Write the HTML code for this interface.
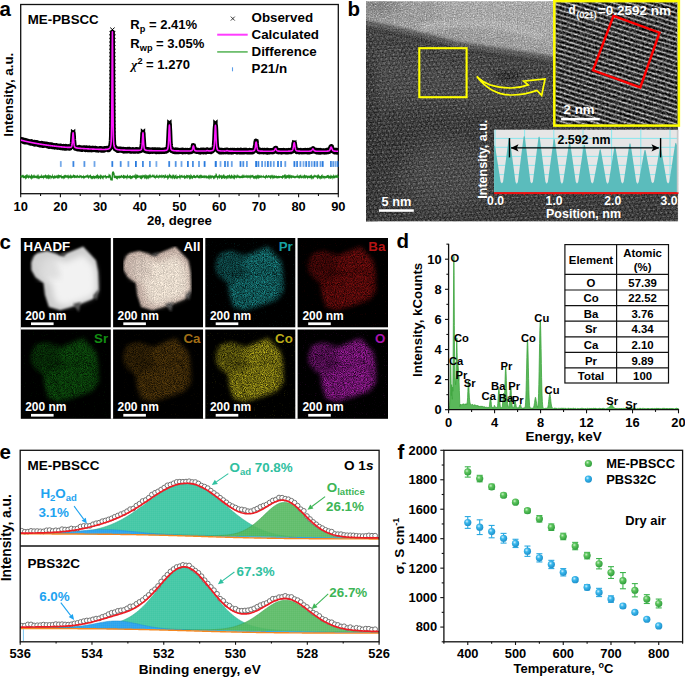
<!DOCTYPE html>
<html><head><meta charset="utf-8"><style>
html,body{margin:0;padding:0;background:#fff;}
svg{display:block;font-family:"Liberation Sans",sans-serif;}
</style></head><body>
<svg width="685" height="677" viewBox="0 0 685 677">
<defs>
<filter id="grain" x="0" y="0" width="100%" height="100%" color-interpolation-filters="sRGB">
  <feTurbulence type="fractalNoise" baseFrequency="0.75" numOctaves="2" seed="11" result="n"/>
  <feColorMatrix in="n" type="matrix" values="1 0 0 0 0  1 0 0 0 0  1 0 0 0 0  0 0 0 0 1" result="g"/>
  <feComposite in="SourceGraphic" in2="g" operator="arithmetic" k1="0" k2="1" k3="0.4" k4="-0.2"/>
</filter>
<filter id="grain2" x="0" y="0" width="100%" height="100%" color-interpolation-filters="sRGB">
  <feTurbulence type="fractalNoise" baseFrequency="0.45" numOctaves="2" seed="5" result="n"/>
  <feColorMatrix in="n" type="matrix" values="1 0 0 0 0  1 0 0 0 0  1 0 0 0 0  0 0 0 0 1" result="g"/>
  <feComposite in="SourceGraphic" in2="g" operator="arithmetic" k1="0" k2="1" k3="0.7" k4="-0.35"/>
</filter>
<filter id="speck" x="0" y="0" width="100%" height="100%" color-interpolation-filters="sRGB">
  <feTurbulence type="fractalNoise" baseFrequency="0.9" numOctaves="1" seed="21" result="n"/>
  <feColorMatrix in="n" type="matrix" values="0 0 0 0 1  0 0 0 0 1  0 0 0 0 1  5 0 0 0 -2.9" result="na"/>
  <feComposite in="na" in2="SourceGraphic" operator="in"/>
</filter>
<filter id="blur3"><feGaussianBlur stdDeviation="3"/></filter>
<filter id="blur6"><feGaussianBlur stdDeviation="6"/></filter>
<filter id="blur10"><feGaussianBlur stdDeviation="10"/></filter>
<clipPath id="temclip"><rect x="366" y="1.2" width="312.2" height="220.2"/></clipPath>
<clipPath id="hrclip"><rect x="555.6" y="2.2" width="121.5" height="122.6"/></clipPath>
<linearGradient id="fg" x1="0" y1="0" x2="0" y2="1">
  <stop offset="0" stop-color="#181818"/><stop offset="0.2" stop-color="#222"/><stop offset="0.5" stop-color="#b4b4b4"/><stop offset="0.8" stop-color="#222"/><stop offset="1" stop-color="#181818"/>
</linearGradient>
<pattern id="fringe" patternUnits="userSpaceOnUse" width="30" height="4.6" patternTransform="rotate(17.5)">
  <rect width="30" height="4.6" fill="url(#fg)"/>
</pattern>
<pattern id="lat" patternUnits="userSpaceOnUse" width="4.75" height="8.4" patternTransform="rotate(-4)">
  <ellipse cx="1.2" cy="2.1" rx="1.2" ry="0.85" fill="#fff" opacity="0.22"/>
  <ellipse cx="3.575" cy="6.3" rx="1.2" ry="0.85" fill="#fff" opacity="0.22"/>
</pattern>
<filter id="spk2" x="-10%" y="-10%" width="120%" height="120%" color-interpolation-filters="sRGB">
  <feGaussianBlur in="SourceGraphic" stdDeviation="2.3" result="b"/>
  <feTurbulence type="fractalNoise" baseFrequency="1.1" numOctaves="2" seed="17" result="n"/>
  <feColorMatrix in="n" type="matrix" values="1 0 0 0 0  1 0 0 0 0  1 0 0 0 0  0 0 0 0 1" result="g"/>
  <feComposite in="b" in2="g" operator="arithmetic" k1="2.4" k2="-0.2" k3="0" k4="0"/>
</filter><filter id="spk3" x="-10%" y="-10%" width="120%" height="120%" color-interpolation-filters="sRGB">
  <feGaussianBlur in="SourceGraphic" stdDeviation="2.3" result="b"/>
  <feTurbulence type="fractalNoise" baseFrequency="1.1" numOctaves="2" seed="24" result="n"/>
  <feColorMatrix in="n" type="matrix" values="1 0 0 0 0  1 0 0 0 0  1 0 0 0 0  0 0 0 0 1" result="g"/>
  <feComposite in="b" in2="g" operator="arithmetic" k1="2.4" k2="-0.2" k3="0" k4="0"/>
</filter><filter id="spk4" x="-10%" y="-10%" width="120%" height="120%" color-interpolation-filters="sRGB">
  <feGaussianBlur in="SourceGraphic" stdDeviation="2.3" result="b"/>
  <feTurbulence type="fractalNoise" baseFrequency="1.1" numOctaves="2" seed="31" result="n"/>
  <feColorMatrix in="n" type="matrix" values="1 0 0 0 0  1 0 0 0 0  1 0 0 0 0  0 0 0 0 1" result="g"/>
  <feComposite in="b" in2="g" operator="arithmetic" k1="2.4" k2="-0.2" k3="0" k4="0"/>
</filter><filter id="spk5" x="-10%" y="-10%" width="120%" height="120%" color-interpolation-filters="sRGB">
  <feGaussianBlur in="SourceGraphic" stdDeviation="2.3" result="b"/>
  <feTurbulence type="fractalNoise" baseFrequency="1.1" numOctaves="2" seed="38" result="n"/>
  <feColorMatrix in="n" type="matrix" values="1 0 0 0 0  1 0 0 0 0  1 0 0 0 0  0 0 0 0 1" result="g"/>
  <feComposite in="b" in2="g" operator="arithmetic" k1="2.4" k2="-0.2" k3="0" k4="0"/>
</filter><filter id="spk6" x="-10%" y="-10%" width="120%" height="120%" color-interpolation-filters="sRGB">
  <feGaussianBlur in="SourceGraphic" stdDeviation="2.3" result="b"/>
  <feTurbulence type="fractalNoise" baseFrequency="1.1" numOctaves="2" seed="45" result="n"/>
  <feColorMatrix in="n" type="matrix" values="1 0 0 0 0  1 0 0 0 0  1 0 0 0 0  0 0 0 0 1" result="g"/>
  <feComposite in="b" in2="g" operator="arithmetic" k1="2.4" k2="-0.2" k3="0" k4="0"/>
</filter><filter id="spk7" x="-10%" y="-10%" width="120%" height="120%" color-interpolation-filters="sRGB">
  <feGaussianBlur in="SourceGraphic" stdDeviation="2.3" result="b"/>
  <feTurbulence type="fractalNoise" baseFrequency="1.1" numOctaves="2" seed="52" result="n"/>
  <feColorMatrix in="n" type="matrix" values="1 0 0 0 0  1 0 0 0 0  1 0 0 0 0  0 0 0 0 1" result="g"/>
  <feComposite in="b" in2="g" operator="arithmetic" k1="2.4" k2="-0.2" k3="0" k4="0"/>
</filter><filter id="bgspk0" x="0" y="0" width="100%" height="100%" color-interpolation-filters="sRGB">
  <feTurbulence type="fractalNoise" baseFrequency="0.9" numOctaves="1" seed="40" result="n"/>
  <feColorMatrix in="n" type="matrix" values="0 0 0 0 0  0 0 0 0 0  0 0 0 0 0  6 0 0 0 -3.9" result="na"/>
  <feComposite in="SourceGraphic" in2="na" operator="in"/>
</filter><filter id="bgspk1" x="0" y="0" width="100%" height="100%" color-interpolation-filters="sRGB">
  <feTurbulence type="fractalNoise" baseFrequency="0.9" numOctaves="1" seed="41" result="n"/>
  <feColorMatrix in="n" type="matrix" values="0 0 0 0 0  0 0 0 0 0  0 0 0 0 0  6 0 0 0 -3.9" result="na"/>
  <feComposite in="SourceGraphic" in2="na" operator="in"/>
</filter><filter id="bgspk2" x="0" y="0" width="100%" height="100%" color-interpolation-filters="sRGB">
  <feTurbulence type="fractalNoise" baseFrequency="0.9" numOctaves="1" seed="42" result="n"/>
  <feColorMatrix in="n" type="matrix" values="0 0 0 0 0  0 0 0 0 0  0 0 0 0 0  6 0 0 0 -3.9" result="na"/>
  <feComposite in="SourceGraphic" in2="na" operator="in"/>
</filter><filter id="blur1"><feGaussianBlur stdDeviation="1.2"/></filter><filter id="spkA" x="0" y="0" width="100%" height="100%" color-interpolation-filters="sRGB">
  <feTurbulence type="fractalNoise" baseFrequency="1.1" numOctaves="2" seed="77" result="n"/>
  <feColorMatrix in="n" type="matrix" values="1 0 0 0 0  1 0 0 0 0  1 0 0 0 0  0 0 0 0 1" result="g"/>
  <feComposite in="SourceGraphic" in2="g" operator="arithmetic" k1="0.5" k2="0.75" k3="0" k4="0"/>
</filter><pattern id="mesh" patternUnits="userSpaceOnUse" width="2" height="2">
<rect width="2" height="2" fill="none"/><rect width="2" height="0.5" fill="#fff" opacity="0.07"/><rect width="0.5" height="2" fill="#fff" opacity="0.07"/></pattern><radialGradient id="gball" cx="0.38" cy="0.35" r="0.7"><stop offset="0" stop-color="#c8f0c8"/><stop offset="0.35" stop-color="#5cc45c"/><stop offset="1" stop-color="#2c9a3a"/></radialGradient>
<radialGradient id="bball" cx="0.38" cy="0.35" r="0.7"><stop offset="0" stop-color="#d0f0ff"/><stop offset="0.35" stop-color="#3ab8ec"/><stop offset="1" stop-color="#1a8cc8"/></radialGradient></defs>
<rect width="685" height="677" fill="#fff"/>
<text x="-0.5" y="15.6" font-size="20.5" text-anchor="start" fill="#000" font-weight="bold" >a</text>
<rect x="20.7" y="4.5" width="317.6" height="189.2" fill="none" stroke="#111" stroke-width="1.3"/>
<line x1="20.7" y1="193.7" x2="20.7" y2="197.2" stroke="#111" stroke-width="1.1" />
<text x="20.7" y="210.5" font-size="12.9" text-anchor="middle" fill="#000" font-weight="bold" >10</text>
<line x1="40.55" y1="193.7" x2="40.55" y2="195.9" stroke="#111" stroke-width="1.1" />
<line x1="60.4" y1="193.7" x2="60.4" y2="197.2" stroke="#111" stroke-width="1.1" />
<text x="60.4" y="210.5" font-size="12.9" text-anchor="middle" fill="#000" font-weight="bold" >20</text>
<line x1="80.25" y1="193.7" x2="80.25" y2="195.9" stroke="#111" stroke-width="1.1" />
<line x1="100.1" y1="193.7" x2="100.1" y2="197.2" stroke="#111" stroke-width="1.1" />
<text x="100.1" y="210.5" font-size="12.9" text-anchor="middle" fill="#000" font-weight="bold" >30</text>
<line x1="119.95" y1="193.7" x2="119.95" y2="195.9" stroke="#111" stroke-width="1.1" />
<line x1="139.8" y1="193.7" x2="139.8" y2="197.2" stroke="#111" stroke-width="1.1" />
<text x="139.8" y="210.5" font-size="12.9" text-anchor="middle" fill="#000" font-weight="bold" >40</text>
<line x1="159.65" y1="193.7" x2="159.65" y2="195.9" stroke="#111" stroke-width="1.1" />
<line x1="179.5" y1="193.7" x2="179.5" y2="197.2" stroke="#111" stroke-width="1.1" />
<text x="179.5" y="210.5" font-size="12.9" text-anchor="middle" fill="#000" font-weight="bold" >50</text>
<line x1="199.35" y1="193.7" x2="199.35" y2="195.9" stroke="#111" stroke-width="1.1" />
<line x1="219.2" y1="193.7" x2="219.2" y2="197.2" stroke="#111" stroke-width="1.1" />
<text x="219.2" y="210.5" font-size="12.9" text-anchor="middle" fill="#000" font-weight="bold" >60</text>
<line x1="239.05" y1="193.7" x2="239.05" y2="195.9" stroke="#111" stroke-width="1.1" />
<line x1="258.9" y1="193.7" x2="258.9" y2="197.2" stroke="#111" stroke-width="1.1" />
<text x="258.9" y="210.5" font-size="12.9" text-anchor="middle" fill="#000" font-weight="bold" >70</text>
<line x1="278.75" y1="193.7" x2="278.75" y2="195.9" stroke="#111" stroke-width="1.1" />
<line x1="298.6" y1="193.7" x2="298.6" y2="197.2" stroke="#111" stroke-width="1.1" />
<text x="298.6" y="210.5" font-size="12.9" text-anchor="middle" fill="#000" font-weight="bold" >80</text>
<line x1="318.45" y1="193.7" x2="318.45" y2="195.9" stroke="#111" stroke-width="1.1" />
<line x1="338.3" y1="193.7" x2="338.3" y2="197.2" stroke="#111" stroke-width="1.1" />
<text x="338.3" y="210.5" font-size="12.9" text-anchor="middle" fill="#000" font-weight="bold" >90</text>
<text x="179.4" y="224.5" font-size="13.2" text-anchor="middle" fill="#000" font-weight="bold" >2θ, degree</text>
<text x="0" y="0" font-size="13.3" text-anchor="middle" fill="#000" font-weight="bold" transform="translate(12.8 94.8) rotate(-90)">Intensity, a.u.</text>
<clipPath id="aclip"><rect x="20.7" y="4.5" width="317.6" height="189.2"/></clipPath>
<g clip-path="url(#aclip)">
<path d="M20.7 139.74 L20.9 139.45 L21.1 140.5 L21.3 139.39 L21.49 140.37 L21.69 140.08 L21.89 139.51 L22.09 140.46 L22.29 139.57 L22.49 140.41 L22.68 139.73 L22.88 139.82 L23.08 140.54 L23.28 141.39 L23.48 140.03 L23.68 140.28 L23.88 141.14 L24.07 141.82 L24.27 141.13 L24.47 140.82 L24.67 142.02 L24.87 140.21 L25.07 141.88 L25.27 140.79 L25.46 140.54 L25.66 140.53 L25.86 140.96 L26.06 142.02 L26.26 140.8 L26.46 141.64 L26.66 141.8 L26.85 141.31 L27.05 141.71 L27.25 140.78 L27.45 140.82 L27.65 141.15 L27.85 142.15 L28.04 141.68 L28.24 141.5 L28.44 142.09 L28.64 141.86 L28.84 141.6 L29.04 142.63 L29.24 142.48 L29.43 141.61 L29.63 142.32 L29.83 142.26 L30.03 143 L30.23 142.75 L30.43 141.91 L30.62 143.33 L30.82 141.65 L31.02 142.29 L31.22 143.01 L31.42 141.84 L31.62 142.55 L31.82 141.69 L32.01 142.99 L32.21 143.22 L32.41 142.88 L32.61 143.52 L32.81 142.43 L33.01 143.24 L33.21 143.07 L33.4 143.08 L33.6 142.87 L33.8 143.68 L34 143.92 L34.2 143.02 L34.4 143.44 L34.59 142.27 L34.79 143.59 L34.99 143.51 L35.19 144.24 L35.39 143.94 L35.59 142.9 L35.79 143.14 L35.98 143.74 L36.18 142.48 L36.38 143.4 L36.58 142.84 L36.78 142.78 L36.98 142.7 L37.18 144.15 L37.37 142.91 L37.57 143.18 L37.77 143.5 L37.97 144.5 L38.17 142.95 L38.37 143.72 L38.56 143.95 L38.76 144.65 L38.96 144.56 L39.16 144.68 L39.36 143.54 L39.56 143.85 L39.76 143.77 L39.95 144.86 L40.15 145.03 L40.35 143.45 L40.55 143.54 L40.75 143.68 L40.95 143.72 L41.15 144.25 L41.34 144.49 L41.54 143.87 L41.74 143.38 L41.94 144.24 L42.14 144.18 L42.34 144.6 L42.53 145.41 L42.73 144.91 L42.93 144.59 L43.13 144.83 L43.33 144.97 L43.53 143.76 L43.73 145.48 L43.92 145.27 L44.12 145.49 L44.32 145.37 L44.52 144.59 L44.72 144.63 L44.92 144.07 L45.12 145.16 L45.31 144.04 L45.51 144.08 L45.71 144.39 L45.91 144.33 L46.11 144.71 L46.31 144.17 L46.5 144.09 L46.7 144.42 L46.9 144.35 L47.1 144.9 L47.3 144.25 L47.5 145.98 L47.7 145.48 L47.89 144.58 L48.09 144.81 L48.29 145.03 L48.49 145.09 L48.69 144.64 L48.89 146.11 L49.09 146.43 L49.28 145.4 L49.48 145.46 L49.68 144.69 L49.88 144.75 L50.08 145.26 L50.28 145.13 L50.47 146.28 L50.67 144.97 L50.87 144.72 L51.07 146.6 L51.27 145.78 L51.47 145.05 L51.67 145.86 L51.86 144.86 L52.06 145.88 L52.26 146.81 L52.46 146.6 L52.66 146.29 L52.86 145.45 L53.06 145.68 L53.25 145.31 L53.45 146.54 L53.65 146.09 L53.85 146.6 L54.05 145.73 L54.25 145.54 L54.45 146.74 L54.64 147.11 L54.84 146.87 L55.04 146.8 L55.24 146.84 L55.44 146.71 L55.64 145.71 L55.83 146.31 L56.03 146.01 L56.23 145.38 L56.43 145.4 L56.63 145.92 L56.83 145.9 L57.03 146.79 L57.22 147.34 L57.42 146.35 L57.62 147.35 L57.82 147.47 L58.02 147.43 L58.22 146.27 L58.42 146 L58.61 146.03 L58.81 145.99 L59.01 146.03 L59.21 146.89 L59.41 147.46 L59.61 147.36 L59.8 146.66 L60 147.03 L60.2 147.34 L60.4 145.93 L60.6 147.1 L60.8 147.62 L61 147.39 L61.19 147.34 L61.39 146.82 L61.59 146.24 L61.79 147.48 L61.99 146.58 L62.19 147.54 L62.39 147.9 L62.58 146.76 L62.78 146.79 L62.98 147.9 L63.18 147.48 L63.38 146.39 L63.58 146.32 L63.77 146.38 L63.97 147.91 L64.17 147.73 L64.37 146.42 L64.57 147.8 L64.77 148.13 L64.97 147.5 L65.16 146.9 L65.36 147.31 L65.56 146.49 L65.76 146.27 L65.96 148.2 L66.16 147.57 L66.36 147.34 L66.55 148.17 L66.75 147.18 L66.95 148.07 L67.15 147.99 L67.35 146.77 L67.55 146.87 L67.74 146.96 L67.94 146.86 L68.14 147.56 L68.34 146.92 L68.54 147.24 L68.74 146.67 L68.94 148.23 L69.13 147.11 L69.33 147.32 L69.53 147.56 L69.73 148.19 L69.93 147.21 L70.13 148.18 L70.33 147.32 L70.52 147.34 L70.72 147.27 L70.92 146.19 L71.12 146.93 L71.32 146.26 L71.52 145.65 L71.71 146.81 L71.91 144.81 L72.11 144.17 L72.31 142.75 L72.51 139.79 L72.71 136.27 L72.91 133.91 L73.1 132.83 L73.3 134.47 L73.5 135.89 L73.7 139.89 L73.9 141.92 L74.1 143.93 L74.3 146.2 L74.49 146.44 L74.69 147.01 L74.89 147.68 L75.09 148.17 L75.29 147.37 L75.49 147.81 L75.68 147.68 L75.88 147.77 L76.08 148.19 L76.28 147.76 L76.48 147.97 L76.68 147.9 L76.88 148.87 L77.07 148.42 L77.27 148.8 L77.47 148.96 L77.67 147.62 L77.87 148.25 L78.07 149.04 L78.27 148.86 L78.46 147.47 L78.66 147.46 L78.86 148.12 L79.06 147.4 L79.26 147.76 L79.46 147.44 L79.65 148.65 L79.85 148.9 L80.05 149.14 L80.25 147.67 L80.45 148.81 L80.65 148.71 L80.85 147.69 L81.04 149.19 L81.24 149.37 L81.44 147.89 L81.64 149.37 L81.84 148.28 L82.04 148.47 L82.23 149.49 L82.43 149.19 L82.63 147.86 L82.83 148.41 L83.03 148.59 L83.23 148.25 L83.43 147.98 L83.62 148.24 L83.82 149.06 L84.02 147.67 L84.22 148.75 L84.42 148.53 L84.62 147.7 L84.82 148.34 L85.01 148.94 L85.21 148.73 L85.41 147.84 L85.61 149.7 L85.81 149.31 L86.01 149.69 L86.21 147.97 L86.4 148.3 L86.6 147.86 L86.8 149.35 L87 148.35 L87.2 148.08 L87.4 148.67 L87.59 149.66 L87.79 149.49 L87.99 148.38 L88.19 148.17 L88.39 149.72 L88.59 149.04 L88.79 149.31 L88.98 148.09 L89.18 148.04 L89.38 149.31 L89.58 148.8 L89.78 148.1 L89.98 149.84 L90.17 149.25 L90.37 149.59 L90.57 148.16 L90.77 149.72 L90.97 148.15 L91.17 149.75 L91.37 148.94 L91.56 148.72 L91.76 149.16 L91.96 149.92 L92.16 148.61 L92.36 148.34 L92.56 149.15 L92.76 148.58 L92.95 148.33 L93.15 148.44 L93.35 148.23 L93.55 148.54 L93.75 148.77 L93.95 148.77 L94.15 149.68 L94.34 148.75 L94.54 149.18 L94.74 148.55 L94.94 148.89 L95.14 148.24 L95.34 148.72 L95.53 148.26 L95.73 149.7 L95.93 149.34 L96.13 148.63 L96.33 149.21 L96.53 150.13 L96.73 148.48 L96.92 149.92 L97.12 149.15 L97.32 149.28 L97.52 149.97 L97.72 149.1 L97.92 149.33 L98.12 149.7 L98.31 150.29 L98.51 149.02 L98.71 150.01 L98.91 149.76 L99.11 149.63 L99.31 149.17 L99.5 149.06 L99.7 148.48 L99.9 148.64 L100.1 148.53 L100.3 149.87 L100.5 148.91 L100.7 148.73 L100.89 148.57 L101.09 150.09 L101.29 150.16 L101.49 149.76 L101.69 148.99 L101.89 148.91 L102.09 149.02 L102.28 149.35 L102.48 148.75 L102.68 149.33 L102.88 148.97 L103.08 150.36 L103.28 150.39 L103.47 149.54 L103.67 148.93 L103.87 150.37 L104.07 149.06 L104.27 149.15 L104.47 148.44 L104.67 149.19 L104.86 149.38 L105.06 149.43 L105.26 148.82 L105.46 149.42 L105.66 148.41 L105.86 148.92 L106.06 148.55 L106.25 149.16 L106.45 148.43 L106.65 148.37 L106.85 148.91 L107.05 148.74 L107.25 149.42 L107.44 149.27 L107.64 149.68 L107.84 149.45 L108.04 149.51 L108.24 149.78 L108.44 148.73 L108.64 148.52 L108.83 149.74 L109.03 147.95 L109.23 148.96 L109.43 148.63 L109.63 147.23 L109.83 148.56 L110.03 148.35 L110.22 147.42 L110.42 147.1 L110.62 146.56 L110.82 144.24 L111.02 143.54 L111.22 140.95 L111.41 136.53 L111.61 126.17 L111.81 107.38 L112.01 78.6 L112.21 47.91 L112.41 32.09 L112.61 47.53 L112.8 77.91 L113 105.83 L113.2 124.87 L113.4 135.65 L113.6 140.22 L113.8 144.25 L114 145.18 L114.19 146.3 L114.39 147.01 L114.59 147.66 L114.79 147.7 L114.99 147.06 L115.19 148.91 L115.38 149.03 L115.58 148.72 L115.78 148.94 L115.98 149.31 L116.18 148.24 L116.38 149.67 L116.58 148.79 L116.77 148.5 L116.97 148.95 L117.17 149.93 L117.37 148.94 L117.57 150.05 L117.77 150.56 L117.97 149.64 L118.16 149.45 L118.36 149.67 L118.56 150.11 L118.76 150.31 L118.96 150.03 L119.16 150.11 L119.35 149 L119.55 149.16 L119.75 149.39 L119.95 150.39 L120.15 149.53 L120.35 150.07 L120.55 148.97 L120.74 149.08 L120.94 149.51 L121.14 150.33 L121.34 150.39 L121.54 150.37 L121.74 149.61 L121.94 150.07 L122.13 149.98 L122.33 149.99 L122.53 149.3 L122.73 150.86 L122.93 149.49 L123.13 151.05 L123.32 150.98 L123.52 149.15 L123.72 150.04 L123.92 150.77 L124.12 151.07 L124.32 150.04 L124.52 149.69 L124.71 149.58 L124.91 151.06 L125.11 149.6 L125.31 150.34 L125.51 149.47 L125.71 150.24 L125.91 151.11 L126.1 149.47 L126.3 150.85 L126.5 150.24 L126.7 151 L126.9 150.64 L127.1 149.7 L127.29 151.04 L127.49 150.22 L127.69 149.3 L127.89 149.27 L128.09 150.25 L128.29 150.17 L128.49 149.88 L128.68 149.56 L128.88 149.97 L129.08 149.92 L129.28 150.98 L129.48 149.3 L129.68 150.81 L129.88 150.99 L130.07 149.55 L130.27 151.17 L130.47 150.75 L130.67 151.13 L130.87 149.91 L131.07 150.08 L131.26 150.12 L131.46 151.34 L131.66 150.52 L131.86 150.07 L132.06 150.21 L132.26 149.91 L132.46 149.46 L132.65 149.57 L132.85 151.04 L133.05 149.94 L133.25 151.24 L133.45 149.87 L133.65 149.91 L133.84 150.4 L134.04 149.76 L134.24 150.13 L134.44 151.3 L134.64 151.16 L134.84 151.02 L135.04 150.65 L135.23 151.22 L135.43 151.28 L135.63 150.49 L135.83 150.83 L136.03 149.49 L136.23 150.86 L136.43 150.3 L136.62 150.9 L136.82 150.68 L137.02 149.96 L137.22 149.48 L137.42 151.24 L137.62 149.63 L137.81 150.32 L138.01 150.05 L138.21 149.95 L138.41 150.82 L138.61 151.29 L138.81 149.84 L139.01 150.62 L139.2 149.89 L139.4 150.38 L139.6 150.02 L139.8 149.53 L140 149.48 L140.2 149.52 L140.4 150.85 L140.59 149.96 L140.79 149.3 L140.99 150.54 L141.19 150.52 L141.39 149.12 L141.59 147.98 L141.78 147.2 L141.98 145.52 L142.18 143.76 L142.38 140.18 L142.58 136.87 L142.78 133.68 L142.98 132.93 L143.17 134.94 L143.37 137.9 L143.57 140.84 L143.77 143.93 L143.97 146.42 L144.17 147.61 L144.37 148.42 L144.56 148.39 L144.76 149.14 L144.96 150.72 L145.16 149.18 L145.36 150.04 L145.56 150.38 L145.76 150.92 L145.95 149.68 L146.15 149.84 L146.35 149.84 L146.55 150.17 L146.75 150.3 L146.95 151.34 L147.14 151.15 L147.34 151.22 L147.54 149.53 L147.74 149.57 L147.94 150.94 L148.14 151.33 L148.34 150.49 L148.53 150.73 L148.73 149.57 L148.93 150.36 L149.13 151.44 L149.33 151.25 L149.53 151.31 L149.72 151.55 L149.92 150.11 L150.12 149.84 L150.32 149.94 L150.52 150.68 L150.72 151 L150.92 151.53 L151.11 151.09 L151.31 150.95 L151.51 151.19 L151.71 150.58 L151.91 150.77 L152.11 149.75 L152.31 151.24 L152.5 150.15 L152.7 151.52 L152.9 150.98 L153.1 150.3 L153.3 149.95 L153.5 150.2 L153.69 150.97 L153.89 151.1 L154.09 149.93 L154.29 149.85 L154.49 150.76 L154.69 150.88 L154.89 150.49 L155.08 150.17 L155.28 150.92 L155.48 149.75 L155.68 150.33 L155.88 150.65 L156.08 151.65 L156.28 151.02 L156.47 151.5 L156.67 150.69 L156.87 150.21 L157.07 150.23 L157.27 151.66 L157.47 151.15 L157.66 150.36 L157.86 149.79 L158.06 150.74 L158.26 151.1 L158.46 150.59 L158.66 150.26 L158.86 151.08 L159.05 151.6 L159.25 150.2 L159.45 149.82 L159.65 150.43 L159.85 150.59 L160.05 151.11 L160.25 150.14 L160.44 151.34 L160.64 151.23 L160.84 150.76 L161.04 150.15 L161.24 151.68 L161.44 150.36 L161.63 151.38 L161.83 150.2 L162.03 150.17 L162.23 151.25 L162.43 150.31 L162.63 151.62 L162.83 150.7 L163.02 150.08 L163.22 150.15 L163.42 150.53 L163.62 151.01 L163.82 151.57 L164.02 149.95 L164.22 150.43 L164.41 150.06 L164.61 151.56 L164.81 149.88 L165.01 149.67 L165.21 149.66 L165.41 150.3 L165.61 151.27 L165.8 151.2 L166 150.85 L166.2 151.32 L166.4 151.12 L166.6 149.83 L166.8 149.43 L166.99 150.8 L167.19 150.25 L167.39 148.59 L167.59 149.51 L167.79 148.4 L167.99 147.49 L168.19 145.92 L168.38 143.26 L168.58 139.54 L168.78 135.67 L168.98 130.87 L169.18 127.8 L169.38 124.36 L169.57 127.82 L169.77 130.59 L169.97 135.84 L170.17 141.19 L170.37 144.58 L170.57 146.15 L170.77 146.87 L170.96 148.62 L171.16 148.96 L171.36 150.4 L171.56 149.18 L171.76 149.7 L171.96 150.9 L172.16 149.28 L172.35 150.13 L172.55 151 L172.75 150.98 L172.95 149.58 L173.15 149.61 L173.35 149.71 L173.54 151.46 L173.74 150.16 L173.94 151.17 L174.14 151.49 L174.34 150.4 L174.54 150.28 L174.74 151.67 L174.93 151 L175.13 150.31 L175.33 151.23 L175.53 150.44 L175.73 150.37 L175.93 149.84 L176.13 151.35 L176.32 151.68 L176.52 151.12 L176.72 151.75 L176.92 149.92 L177.12 150.34 L177.32 150.83 L177.51 151.8 L177.71 151.8 L177.91 150.67 L178.11 150.4 L178.31 150.77 L178.51 150.9 L178.71 151.77 L178.9 150.28 L179.1 151.53 L179.3 151.4 L179.5 151.57 L179.7 151.48 L179.9 151.15 L180.1 150.59 L180.29 150.58 L180.49 150.67 L180.69 151.51 L180.89 150.11 L181.09 150.35 L181.29 151.46 L181.49 150.45 L181.68 150.09 L181.88 150.03 L182.08 151.07 L182.28 150.62 L182.48 151.93 L182.68 151.74 L182.87 151.95 L183.07 150.5 L183.27 150.14 L183.47 150.17 L183.67 150.97 L183.87 151.4 L184.07 150.87 L184.26 150.45 L184.46 150.81 L184.66 151.22 L184.86 151.33 L185.06 151.48 L185.26 151.68 L185.46 151.31 L185.65 150.23 L185.85 151.67 L186.05 150.57 L186.25 151.12 L186.45 150.73 L186.65 151.46 L186.84 150.38 L187.04 150.48 L187.24 150.48 L187.44 150.29 L187.64 151.75 L187.84 151.14 L188.04 150.63 L188.23 150.77 L188.43 151.96 L188.63 150.99 L188.83 150.43 L189.03 151.58 L189.23 151.27 L189.43 151.93 L189.62 150.15 L189.82 150.89 L190.02 151.56 L190.22 151.6 L190.42 151.73 L190.62 149.96 L190.81 150.44 L191.01 150.07 L191.21 150.17 L191.41 151.68 L191.61 150.82 L191.81 151.38 L192.01 150.06 L192.2 150.71 L192.4 149.37 L192.6 148.3 L192.8 148.46 L193 147.86 L193.2 145.39 L193.39 146.05 L193.59 146.42 L193.79 146.4 L193.99 147.65 L194.19 148.07 L194.39 148.89 L194.59 149.5 L194.78 150.52 L194.98 150.84 L195.18 150.08 L195.38 149.78 L195.58 150.46 L195.78 151.21 L195.98 150.25 L196.17 150.53 L196.37 150.33 L196.57 151.53 L196.77 151.05 L196.97 150.1 L197.17 150.18 L197.37 150.78 L197.56 151.1 L197.76 151.28 L197.96 150.19 L198.16 150.34 L198.36 151.41 L198.56 150.84 L198.75 150.59 L198.95 150.65 L199.15 151.94 L199.35 150.66 L199.55 151.17 L199.75 150.76 L199.95 150.88 L200.14 151.77 L200.34 152.04 L200.54 150.78 L200.74 150.44 L200.94 151.51 L201.14 150.46 L201.34 150.06 L201.53 151.86 L201.73 150.9 L201.93 151.69 L202.13 150.87 L202.33 151.82 L202.53 150.98 L202.72 150.38 L202.92 150.08 L203.12 151.15 L203.32 151.33 L203.52 151.87 L203.72 150.23 L203.92 151.29 L204.11 150.79 L204.31 151.05 L204.51 150.33 L204.71 150.6 L204.91 151.07 L205.11 151.88 L205.31 150.23 L205.5 150.98 L205.7 151.59 L205.9 151.89 L206.1 150.31 L206.3 150.11 L206.5 151.68 L206.69 151.66 L206.89 150.59 L207.09 149.66 L207.29 151.38 L207.49 150.33 L207.69 151.42 L207.89 150.93 L208.08 151.41 L208.28 150.14 L208.48 151.44 L208.68 150.34 L208.88 150.73 L209.08 151.62 L209.28 151.58 L209.47 150.29 L209.67 150.35 L209.87 150.71 L210.07 150.93 L210.27 150.65 L210.47 150.11 L210.66 150.34 L210.86 151.27 L211.06 151.59 L211.26 149.85 L211.46 150.85 L211.66 151.2 L211.86 149.72 L212.05 151.26 L212.25 149.75 L212.45 150.64 L212.65 150.44 L212.85 150.48 L213.05 149.68 L213.25 149.71 L213.44 149.76 L213.64 149.04 L213.84 148.86 L214.04 147.38 L214.24 145.7 L214.44 142.36 L214.63 140.07 L214.83 135.47 L215.03 130.26 L215.23 127.38 L215.43 125.82 L215.63 126.77 L215.83 130.15 L216.02 135.44 L216.22 139.05 L216.42 142.57 L216.62 145.69 L216.82 146.68 L217.02 148.44 L217.22 149.22 L217.41 148.7 L217.61 150.16 L217.81 149.25 L218.01 150.71 L218.21 150.92 L218.41 150.48 L218.6 149.65 L218.8 150.62 L219 150.42 L219.2 151.62 L219.4 150.03 L219.6 151.51 L219.8 151.82 L219.99 151.32 L220.19 151.51 L220.39 150.29 L220.59 151.89 L220.79 150.93 L220.99 151.87 L221.19 151.81 L221.38 150.32 L221.58 151.58 L221.78 151.87 L221.98 150.15 L222.18 150.73 L222.38 151.55 L222.57 150.36 L222.77 151.84 L222.97 150.61 L223.17 151.69 L223.37 150.35 L223.57 151.07 L223.77 151.91 L223.96 150.49 L224.16 150.6 L224.36 151.09 L224.56 150.72 L224.76 150.15 L224.96 150.44 L225.16 150.39 L225.35 151.93 L225.55 151.4 L225.75 151.81 L225.95 150.31 L226.15 151.48 L226.35 150.06 L226.54 150.8 L226.74 150.92 L226.94 150.29 L227.14 151.29 L227.34 150.69 L227.54 150.81 L227.74 151.52 L227.93 150.06 L228.13 151.92 L228.33 151.26 L228.53 150.83 L228.73 151.67 L228.93 150.63 L229.12 152.1 L229.32 151.28 L229.52 150.85 L229.72 151.67 L229.92 151.03 L230.12 150.5 L230.32 151.64 L230.51 150.25 L230.71 151.8 L230.91 150.67 L231.11 151.44 L231.31 152.13 L231.51 151.34 L231.71 151.49 L231.9 150.79 L232.1 150.17 L232.3 150.24 L232.5 150.47 L232.7 151.41 L232.9 151.04 L233.1 151.2 L233.29 151.97 L233.49 150.44 L233.69 150.63 L233.89 151.49 L234.09 150.23 L234.29 150.19 L234.48 150.89 L234.68 150.4 L234.88 150.9 L235.08 150.63 L235.28 151.35 L235.48 151.36 L235.68 150.6 L235.87 151.44 L236.07 151.14 L236.27 150.46 L236.47 152.06 L236.67 150.68 L236.87 150.49 L237.06 150.38 L237.26 151.47 L237.46 151.93 L237.66 151.76 L237.86 151 L238.06 150.72 L238.26 150.22 L238.45 151.48 L238.65 151.32 L238.85 150.9 L239.05 151.49 L239.25 151.08 L239.45 152.07 L239.65 151.66 L239.84 150.69 L240.04 152 L240.24 150.29 L240.44 151.26 L240.64 151.01 L240.84 150.67 L241.04 150.32 L241.23 151.76 L241.43 150.22 L241.63 151.3 L241.83 152.08 L242.03 150.48 L242.23 150.6 L242.42 151.42 L242.62 151.21 L242.82 151.48 L243.02 151.83 L243.22 150.55 L243.42 150.82 L243.62 150.8 L243.81 150.3 L244.01 151.98 L244.21 151.76 L244.41 151.63 L244.61 150.21 L244.81 151.89 L245 151.69 L245.2 151.13 L245.4 151.68 L245.6 151.1 L245.8 150.65 L246 150.4 L246.2 150.66 L246.39 150.27 L246.59 150.86 L246.79 151.69 L246.99 151.58 L247.19 151.88 L247.39 151.61 L247.59 150.72 L247.78 151.29 L247.98 151.05 L248.18 151.76 L248.38 151.22 L248.58 150.71 L248.78 151.46 L248.97 152.1 L249.17 150.6 L249.37 151.93 L249.57 150.19 L249.77 150.68 L249.97 150.63 L250.17 151.64 L250.36 152.03 L250.56 151.63 L250.76 150.79 L250.96 151.88 L251.16 150.77 L251.36 150.58 L251.56 151.91 L251.75 151.35 L251.95 151.46 L252.15 151.39 L252.35 152 L252.55 150.96 L252.75 151.67 L252.95 151.36 L253.14 151.64 L253.34 150.76 L253.54 151.28 L253.74 150.91 L253.94 150.29 L254.14 149.96 L254.33 150.58 L254.53 149.18 L254.73 150.37 L254.93 148.14 L255.13 146.93 L255.33 145.84 L255.53 146.03 L255.72 143.37 L255.92 141.79 L256.12 141.09 L256.32 141.59 L256.52 144.07 L256.72 145.44 L256.92 147.02 L257.11 148.35 L257.31 147.98 L257.51 149.73 L257.71 149.75 L257.91 150.97 L258.11 151.18 L258.3 151.46 L258.5 149.9 L258.7 151.57 L258.9 151.72 L259.1 151.82 L259.3 150.18 L259.5 150.41 L259.69 150.25 L259.89 150.11 L260.09 151.76 L260.29 151.7 L260.49 151.36 L260.69 151.76 L260.89 151.38 L261.08 150.7 L261.28 150.33 L261.48 150.34 L261.68 151.66 L261.88 150.56 L262.08 150.8 L262.27 151.01 L262.47 150.21 L262.67 150.69 L262.87 150.74 L263.07 151.61 L263.27 150.92 L263.47 150.83 L263.66 152.12 L263.86 151.2 L264.06 151.9 L264.26 151.43 L264.46 150.26 L264.66 151.03 L264.86 151.07 L265.05 151.75 L265.25 150.9 L265.45 151.62 L265.65 151.28 L265.85 150.64 L266.05 151.93 L266.24 150.39 L266.44 151.85 L266.64 150.55 L266.84 150.21 L267.04 150.62 L267.24 151.74 L267.44 152.17 L267.63 150.22 L267.83 151.19 L268.03 151.2 L268.23 151.81 L268.43 150.58 L268.63 151.2 L268.82 150.9 L269.02 151.87 L269.22 150.73 L269.42 152.1 L269.62 150.77 L269.82 150.63 L270.02 151.6 L270.21 151.2 L270.41 150.42 L270.61 151.47 L270.81 150.36 L271.01 151.77 L271.21 151.58 L271.41 151.76 L271.6 151.43 L271.8 150.88 L272 150.97 L272.2 150.94 L272.4 151.92 L272.6 150.3 L272.8 151.89 L272.99 150.15 L273.19 150.48 L273.39 150.56 L273.59 151.78 L273.79 150.9 L273.99 150.53 L274.18 151.37 L274.38 149.83 L274.58 149.98 L274.78 149.75 L274.98 149.78 L275.18 149.38 L275.38 148.86 L275.57 148.14 L275.77 148.22 L275.97 148.18 L276.17 149.96 L276.37 150.01 L276.57 150.54 L276.76 149.71 L276.96 150.48 L277.16 151.32 L277.36 151.06 L277.56 150.23 L277.76 150.96 L277.96 151.84 L278.15 150.57 L278.35 150.5 L278.55 150.74 L278.75 151.55 L278.95 151.84 L279.15 150.48 L279.35 150.49 L279.54 150.68 L279.74 150.84 L279.94 151.24 L280.14 150.52 L280.34 150.85 L280.54 150.58 L280.74 152.15 L280.93 151.66 L281.13 150.41 L281.33 152.14 L281.53 150.42 L281.73 150.98 L281.93 152.18 L282.12 151.81 L282.32 151.68 L282.52 151.09 L282.72 150.61 L282.92 151.49 L283.12 150.43 L283.32 150.63 L283.51 151 L283.71 150.29 L283.91 151.02 L284.11 151.8 L284.31 151.6 L284.51 151.22 L284.7 151.48 L284.9 151.14 L285.1 150.5 L285.3 151.42 L285.5 151.02 L285.7 151.69 L285.9 152.03 L286.09 151.07 L286.29 151.35 L286.49 151.7 L286.69 151.04 L286.89 150.66 L287.09 151.64 L287.29 151.95 L287.48 151.74 L287.68 151.59 L287.88 151.89 L288.08 151.54 L288.28 151.45 L288.48 151.07 L288.68 150.78 L288.87 151.41 L289.07 150.34 L289.27 150.97 L289.47 151.69 L289.67 151.54 L289.87 151.36 L290.06 150.58 L290.26 150.91 L290.46 150.96 L290.66 151.27 L290.86 150.82 L291.06 151.32 L291.26 151.79 L291.45 150.24 L291.65 151.13 L291.85 151.29 L292.05 150.4 L292.25 150.44 L292.45 151.16 L292.65 148.92 L292.84 149.41 L293.04 147.92 L293.24 148.23 L293.44 147.42 L293.64 145.32 L293.84 143.26 L294.03 143.27 L294.23 142.85 L294.43 143.56 L294.63 144.08 L294.83 145.56 L295.03 147.2 L295.23 147.71 L295.42 148.42 L295.62 150.22 L295.82 149.27 L296.02 150.58 L296.22 150.24 L296.42 151.15 L296.62 149.98 L296.81 151.79 L297.01 150.59 L297.21 150.04 L297.41 150.52 L297.61 150.8 L297.81 150.05 L298 150.89 L298.2 150.91 L298.4 151.49 L298.6 150.81 L298.8 150.65 L299 150.58 L299.2 151.62 L299.39 152.03 L299.59 151.21 L299.79 150.6 L299.99 151.77 L300.19 150.96 L300.39 150.61 L300.59 150.45 L300.78 151.75 L300.98 151.82 L301.18 151.47 L301.38 151.14 L301.58 151.33 L301.78 150.66 L301.97 152.14 L302.17 150.92 L302.37 151.49 L302.57 151.86 L302.77 151.85 L302.97 151.16 L303.17 150.81 L303.36 151.32 L303.56 150.48 L303.76 151.89 L303.96 150.94 L304.16 151.93 L304.36 150.76 L304.56 150.98 L304.75 150.74 L304.95 151.08 L305.15 150.6 L305.35 150.24 L305.55 151.67 L305.75 150.79 L305.94 150.72 L306.14 150.83 L306.34 151.19 L306.54 151.09 L306.74 151.5 L306.94 151.55 L307.14 150.95 L307.33 152.08 L307.53 151.93 L307.73 150.33 L307.93 151.87 L308.13 152.03 L308.33 151.78 L308.52 150.49 L308.72 151.86 L308.92 151.46 L309.12 150.22 L309.32 150.21 L309.52 152.08 L309.72 151.48 L309.91 150.65 L310.11 150.34 L310.31 150.4 L310.51 150.55 L310.71 151.59 L310.91 150.67 L311.11 150.2 L311.3 151.58 L311.5 151.19 L311.7 149.73 L311.9 150.91 L312.1 150.03 L312.3 150.05 L312.5 149.52 L312.69 149.74 L312.89 149.44 L313.09 149.63 L313.29 148.58 L313.49 149.87 L313.69 149.88 L313.88 150.61 L314.08 150.27 L314.28 151.37 L314.48 150.88 L314.68 150.43 L314.88 150.45 L315.08 150.32 L315.27 151.07 L315.47 150.23 L315.67 151.07 L315.87 150.44 L316.07 151.15 L316.27 151.18 L316.46 151.27 L316.66 151.92 L316.86 150.22 L317.06 151.89 L317.26 151.15 L317.46 151.34 L317.66 151.55 L317.85 151.91 L318.05 150.98 L318.25 151.07 L318.45 152.15 L318.65 150.39 L318.85 151.51 L319.05 151.51 L319.24 150.3 L319.44 151.46 L319.64 151.61 L319.84 152.11 L320.04 150.9 L320.24 152.21 L320.44 151.27 L320.63 151.21 L320.83 152.04 L321.03 150.31 L321.23 151.68 L321.43 151.5 L321.63 150.92 L321.82 151.97 L322.02 150.98 L322.22 151.19 L322.42 151.29 L322.62 151.78 L322.82 150.66 L323.02 151.11 L323.21 151.08 L323.41 151.35 L323.61 151.89 L323.81 150.82 L324.01 151.89 L324.21 151.04 L324.41 151.24 L324.6 150.77 L324.8 151.24 L325 152.17 L325.2 151.53 L325.4 151.8 L325.6 150.87 L325.79 150.84 L325.99 150.8 L326.19 151.37 L326.39 151.46 L326.59 151.75 L326.79 150.26 L326.99 151.61 L327.18 151.93 L327.38 151.23 L327.58 150.23 L327.78 150.71 L327.98 150.1 L328.18 150.45 L328.38 151.88 L328.57 151.21 L328.77 151.25 L328.97 151.43 L329.17 151.55 L329.37 150.79 L329.57 150.57 L329.76 150.28 L329.96 150.04 L330.16 149.37 L330.36 149.01 L330.56 147.53 L330.76 147.93 L330.96 147.14 L331.15 147.61 L331.35 146.42 L331.55 146.96 L331.75 147.18 L331.95 149.2 L332.15 150.01 L332.35 149.96 L332.54 149.77 L332.74 150.98 L332.94 151.14 L333.14 150.86 L333.34 150.37 L333.54 150.54 L333.73 150.84 L333.93 150.67 L334.13 150.93 L334.33 151.38 L334.53 151.99 L334.73 150.24 L334.93 151.28 L335.12 150.24 L335.32 150.41 L335.52 151.8 L335.72 151.34 L335.92 152.04 L336.12 151.1 L336.31 150.24 L336.51 150.99 L336.71 151.41 L336.91 152.1 L337.11 152.19 L337.31 151.18 L337.51 151.06 L337.7 150.44 L337.9 151.53 L338.1 150.67 L338.3 150.55" stroke="#000" fill="none" stroke-width="4.9" stroke-linejoin="round"/>
<path d="M70.9 134.72 L70.9 128.63 L73.1 130.43 L75.3 128.63 L75.3 134.72 Z" fill="#000"/>
<path d="M140.78 134.79 L140.78 128.27 L142.98 130.07 L145.18 128.27 L145.18 134.79 Z" fill="#000"/>
<path d="M167.18 127.11 L167.18 119.23 L169.38 121.03 L171.58 119.23 L171.58 127.11 Z" fill="#000"/>
<path d="M191.19 147.86 L191.19 143.47 L193.39 145.27 L195.59 143.47 L195.59 147.86 Z" fill="#000"/>
<path d="M213.23 127.26 L213.23 119.35 L215.43 121.15 L217.63 119.35 L217.63 127.26 Z" fill="#000"/>
<path d="M253.92 144.04 L253.92 138.97 L256.12 140.77 L258.32 138.97 L258.32 144.04 Z" fill="#000"/>
<path d="M273.37 150.45 L273.37 146.47 L275.57 148.27 L277.77 146.47 L277.77 150.45 Z" fill="#000"/>
<path d="M292.03 144.77 L292.03 139.82 L294.23 141.62 L296.43 139.82 L296.43 144.77 Z" fill="#000"/>
<path d="M310.69 150.87 L310.69 146.96 L312.89 148.76 L315.09 146.96 L315.09 150.87 Z" fill="#000"/>
<path d="M328.95 149.08 L328.95 144.87 L331.15 146.67 L333.35 144.87 L333.35 149.08 Z" fill="#000"/>
<path d="M109.41 31.4 L115.41 34.6 M115.41 31.4 L109.41 34.6" stroke="#000" stroke-width="0.9"/>
<path d="M109.41 35 L115.41 38.2 M115.41 35 L109.41 38.2" stroke="#000" stroke-width="0.9"/>
<path d="M109.41 38.6 L115.41 41.8 M115.41 38.6 L109.41 41.8" stroke="#000" stroke-width="0.9"/>
<path d="M109.41 42.2 L115.41 45.4 M115.41 42.2 L109.41 45.4" stroke="#000" stroke-width="0.9"/>
<path d="M109.41 45.8 L115.41 49 M115.41 45.8 L109.41 49" stroke="#000" stroke-width="0.9"/>
<path d="M109.41 49.4 L115.41 52.6 M115.41 49.4 L109.41 52.6" stroke="#000" stroke-width="0.9"/>
<path d="M109.41 53 L115.41 56.2 M115.41 53 L109.41 56.2" stroke="#000" stroke-width="0.9"/>
<path d="M109.41 56.6 L115.41 59.8 M115.41 56.6 L109.41 59.8" stroke="#000" stroke-width="0.9"/>
<path d="M109.41 60.2 L115.41 63.4 M115.41 60.2 L109.41 63.4" stroke="#000" stroke-width="0.9"/>
<path d="M109.41 63.8 L115.41 67 M115.41 63.8 L109.41 67" stroke="#000" stroke-width="0.9"/>
<path d="M109.41 67.4 L115.41 70.6 M115.41 67.4 L109.41 70.6" stroke="#000" stroke-width="0.9"/>
<path d="M109.41 71 L115.41 74.2 M115.41 71 L109.41 74.2" stroke="#000" stroke-width="0.9"/>
<path d="M109.41 74.6 L115.41 77.8 M115.41 74.6 L109.41 77.8" stroke="#000" stroke-width="0.9"/>
<path d="M109.41 78.2 L115.41 81.4 M115.41 78.2 L109.41 81.4" stroke="#000" stroke-width="0.9"/>
<path d="M109.41 81.8 L115.41 85 M115.41 81.8 L109.41 85" stroke="#000" stroke-width="0.9"/>
<path d="M109.41 85.4 L115.41 88.6 M115.41 85.4 L109.41 88.6" stroke="#000" stroke-width="0.9"/>
<path d="M109.41 89 L115.41 92.2 M115.41 89 L109.41 92.2" stroke="#000" stroke-width="0.9"/>
<path d="M109.41 92.6 L115.41 95.8 M115.41 92.6 L109.41 95.8" stroke="#000" stroke-width="0.9"/>
<path d="M109.41 96.2 L115.41 99.4 M115.41 96.2 L109.41 99.4" stroke="#000" stroke-width="0.9"/>
<path d="M109.41 99.8 L115.41 103 M115.41 99.8 L109.41 103" stroke="#000" stroke-width="0.9"/>
<path d="M109.41 103.4 L115.41 106.6 M115.41 103.4 L109.41 106.6" stroke="#000" stroke-width="0.9"/>
<path d="M109.41 107 L115.41 110.2 M115.41 107 L109.41 110.2" stroke="#000" stroke-width="0.9"/>
<path d="M109.41 110.6 L115.41 113.8 M115.41 110.6 L109.41 113.8" stroke="#000" stroke-width="0.9"/>
<path d="M109.41 114.2 L115.41 117.4 M115.41 114.2 L109.41 117.4" stroke="#000" stroke-width="0.9"/>
<path d="M109.41 117.8 L115.41 121 M115.41 117.8 L109.41 121" stroke="#000" stroke-width="0.9"/>
<path d="M109.41 121.4 L115.41 124.6 M115.41 121.4 L109.41 124.6" stroke="#000" stroke-width="0.9"/>
<path d="M109.41 125 L115.41 128.2 M115.41 125 L109.41 128.2" stroke="#000" stroke-width="0.9"/>
<path d="M109.41 128.6 L115.41 131.8 M115.41 128.6 L109.41 131.8" stroke="#000" stroke-width="0.9"/>
<path d="M109.41 132.2 L115.41 135.4 M115.41 132.2 L109.41 135.4" stroke="#000" stroke-width="0.9"/>
<path d="M110.21 27.6 L114.61 31.6 M114.61 27.6 L110.21 31.6" stroke="#000" stroke-width="1"/>
<path d="M20.7 140.1 L20.9 140.15 L21.1 140.2 L21.3 140.25 L21.49 140.3 L21.69 140.35 L21.89 140.4 L22.09 140.45 L22.29 140.5 L22.49 140.55 L22.68 140.59 L22.88 140.64 L23.08 140.69 L23.28 140.74 L23.48 140.79 L23.68 140.83 L23.88 140.88 L24.07 140.93 L24.27 140.98 L24.47 141.02 L24.67 141.07 L24.87 141.12 L25.07 141.16 L25.27 141.21 L25.46 141.25 L25.66 141.3 L25.86 141.34 L26.06 141.39 L26.26 141.43 L26.46 141.48 L26.66 141.52 L26.85 141.57 L27.05 141.61 L27.25 141.66 L27.45 141.7 L27.65 141.74 L27.85 141.79 L28.04 141.83 L28.24 141.87 L28.44 141.92 L28.64 141.96 L28.84 142 L29.04 142.04 L29.24 142.08 L29.43 142.13 L29.63 142.17 L29.83 142.21 L30.03 142.25 L30.23 142.29 L30.43 142.33 L30.62 142.37 L30.82 142.41 L31.02 142.45 L31.22 142.49 L31.42 142.53 L31.62 142.57 L31.82 142.61 L32.01 142.65 L32.21 142.69 L32.41 142.73 L32.61 142.77 L32.81 142.81 L33.01 142.85 L33.21 142.88 L33.4 142.92 L33.6 142.96 L33.8 143 L34 143.04 L34.2 143.07 L34.4 143.11 L34.59 143.15 L34.79 143.18 L34.99 143.22 L35.19 143.26 L35.39 143.29 L35.59 143.33 L35.79 143.37 L35.98 143.4 L36.18 143.44 L36.38 143.47 L36.58 143.51 L36.78 143.54 L36.98 143.58 L37.18 143.61 L37.37 143.65 L37.57 143.68 L37.77 143.72 L37.97 143.75 L38.17 143.79 L38.37 143.82 L38.56 143.85 L38.76 143.89 L38.96 143.92 L39.16 143.95 L39.36 143.99 L39.56 144.02 L39.76 144.05 L39.95 144.09 L40.15 144.12 L40.35 144.15 L40.55 144.18 L40.75 144.22 L40.95 144.25 L41.15 144.28 L41.34 144.31 L41.54 144.34 L41.74 144.38 L41.94 144.41 L42.14 144.44 L42.34 144.47 L42.53 144.5 L42.73 144.53 L42.93 144.56 L43.13 144.59 L43.33 144.62 L43.53 144.65 L43.73 144.68 L43.92 144.71 L44.12 144.74 L44.32 144.77 L44.52 144.8 L44.72 144.83 L44.92 144.86 L45.12 144.89 L45.31 144.92 L45.51 144.95 L45.71 144.98 L45.91 145 L46.11 145.03 L46.31 145.06 L46.5 145.09 L46.7 145.12 L46.9 145.14 L47.1 145.17 L47.3 145.2 L47.5 145.23 L47.7 145.25 L47.89 145.28 L48.09 145.31 L48.29 145.34 L48.49 145.36 L48.69 145.39 L48.89 145.42 L49.09 145.44 L49.28 145.47 L49.48 145.5 L49.68 145.52 L49.88 145.55 L50.08 145.57 L50.28 145.6 L50.47 145.63 L50.67 145.65 L50.87 145.68 L51.07 145.7 L51.27 145.73 L51.47 145.75 L51.67 145.78 L51.86 145.8 L52.06 145.83 L52.26 145.85 L52.46 145.88 L52.66 145.9 L52.86 145.92 L53.06 145.95 L53.25 145.97 L53.45 146 L53.65 146.02 L53.85 146.04 L54.05 146.07 L54.25 146.09 L54.45 146.11 L54.64 146.14 L54.84 146.16 L55.04 146.18 L55.24 146.21 L55.44 146.23 L55.64 146.25 L55.83 146.27 L56.03 146.3 L56.23 146.32 L56.43 146.34 L56.63 146.36 L56.83 146.39 L57.03 146.41 L57.22 146.43 L57.42 146.45 L57.62 146.47 L57.82 146.49 L58.02 146.52 L58.22 146.54 L58.42 146.56 L58.61 146.58 L58.81 146.6 L59.01 146.62 L59.21 146.64 L59.41 146.66 L59.61 146.68 L59.8 146.7 L60 146.72 L60.2 146.74 L60.4 146.76 L60.6 146.78 L60.8 146.8 L61 146.82 L61.19 146.84 L61.39 146.86 L61.59 146.88 L61.79 146.9 L61.99 146.92 L62.19 146.94 L62.39 146.95 L62.58 146.97 L62.78 146.99 L62.98 147.01 L63.18 147.03 L63.38 147.05 L63.58 147.06 L63.77 147.08 L63.97 147.1 L64.17 147.12 L64.37 147.13 L64.57 147.15 L64.77 147.17 L64.97 147.18 L65.16 147.2 L65.36 147.21 L65.56 147.23 L65.76 147.24 L65.96 147.26 L66.16 147.27 L66.36 147.29 L66.55 147.3 L66.75 147.32 L66.95 147.33 L67.15 147.34 L67.35 147.35 L67.55 147.36 L67.74 147.37 L67.94 147.38 L68.14 147.39 L68.34 147.4 L68.54 147.4 L68.74 147.41 L68.94 147.41 L69.13 147.41 L69.33 147.4 L69.53 147.4 L69.73 147.39 L69.93 147.37 L70.13 147.35 L70.33 147.32 L70.52 147.28 L70.72 147.22 L70.92 147.15 L71.12 147.04 L71.32 146.89 L71.52 146.64 L71.71 146.21 L71.91 145.47 L72.11 144.22 L72.31 142.3 L72.51 139.68 L72.71 136.62 L72.91 133.87 L73.1 132.72 L73.3 133.9 L73.5 136.68 L73.7 139.77 L73.9 142.42 L74.1 144.37 L74.3 145.65 L74.49 146.43 L74.69 146.89 L74.89 147.16 L75.09 147.35 L75.29 147.48 L75.49 147.59 L75.68 147.67 L75.88 147.75 L76.08 147.81 L76.28 147.86 L76.48 147.9 L76.68 147.95 L76.88 147.98 L77.07 148.02 L77.27 148.05 L77.47 148.08 L77.67 148.1 L77.87 148.13 L78.07 148.15 L78.27 148.18 L78.46 148.2 L78.66 148.22 L78.86 148.24 L79.06 148.26 L79.26 148.28 L79.46 148.29 L79.65 148.31 L79.85 148.33 L80.05 148.34 L80.25 148.36 L80.45 148.38 L80.65 148.39 L80.85 148.41 L81.04 148.42 L81.24 148.44 L81.44 148.45 L81.64 148.47 L81.84 148.48 L82.04 148.5 L82.23 148.51 L82.43 148.52 L82.63 148.54 L82.83 148.55 L83.03 148.56 L83.23 148.58 L83.43 148.59 L83.62 148.6 L83.82 148.62 L84.02 148.63 L84.22 148.64 L84.42 148.65 L84.62 148.67 L84.82 148.68 L85.01 148.69 L85.21 148.7 L85.41 148.71 L85.61 148.73 L85.81 148.74 L86.01 148.75 L86.21 148.76 L86.4 148.77 L86.6 148.78 L86.8 148.8 L87 148.81 L87.2 148.82 L87.4 148.83 L87.59 148.84 L87.79 148.85 L87.99 148.86 L88.19 148.87 L88.39 148.88 L88.59 148.89 L88.79 148.9 L88.98 148.92 L89.18 148.93 L89.38 148.94 L89.58 148.95 L89.78 148.96 L89.98 148.97 L90.17 148.98 L90.37 148.99 L90.57 149 L90.77 149.01 L90.97 149.02 L91.17 149.03 L91.37 149.04 L91.56 149.05 L91.76 149.06 L91.96 149.07 L92.16 149.08 L92.36 149.08 L92.56 149.09 L92.76 149.1 L92.95 149.11 L93.15 149.12 L93.35 149.13 L93.55 149.14 L93.75 149.15 L93.95 149.16 L94.15 149.17 L94.34 149.17 L94.54 149.18 L94.74 149.19 L94.94 149.2 L95.14 149.21 L95.34 149.22 L95.53 149.22 L95.73 149.23 L95.93 149.24 L96.13 149.25 L96.33 149.26 L96.53 149.26 L96.73 149.27 L96.92 149.28 L97.12 149.29 L97.32 149.29 L97.52 149.3 L97.72 149.31 L97.92 149.32 L98.12 149.32 L98.31 149.33 L98.51 149.34 L98.71 149.34 L98.91 149.35 L99.11 149.36 L99.31 149.36 L99.5 149.37 L99.7 149.37 L99.9 149.38 L100.1 149.39 L100.3 149.39 L100.5 149.4 L100.7 149.4 L100.89 149.41 L101.09 149.41 L101.29 149.41 L101.49 149.42 L101.69 149.42 L101.89 149.43 L102.09 149.43 L102.28 149.43 L102.48 149.43 L102.68 149.44 L102.88 149.44 L103.08 149.44 L103.28 149.44 L103.47 149.44 L103.67 149.44 L103.87 149.44 L104.07 149.44 L104.27 149.44 L104.47 149.44 L104.67 149.43 L104.86 149.43 L105.06 149.42 L105.26 149.42 L105.46 149.41 L105.66 149.4 L105.86 149.39 L106.06 149.38 L106.25 149.36 L106.45 149.34 L106.65 149.33 L106.85 149.3 L107.05 149.28 L107.25 149.25 L107.44 149.22 L107.64 149.18 L107.84 149.13 L108.04 149.08 L108.24 149.02 L108.44 148.95 L108.64 148.87 L108.83 148.77 L109.03 148.66 L109.23 148.52 L109.43 148.35 L109.63 148.14 L109.83 147.89 L110.03 147.57 L110.22 147.16 L110.42 146.64 L110.62 145.94 L110.82 144.96 L111.02 143.49 L111.22 140.94 L111.41 135.86 L111.61 125.56 L111.81 106.73 L112.01 78.43 L112.21 47.13 L112.41 31.72 L112.61 47.14 L112.8 78.45 L113 106.77 L113.2 125.61 L113.4 135.93 L113.6 141.01 L113.8 143.58 L114 145.06 L114.19 146.05 L114.39 146.76 L114.59 147.3 L114.79 147.72 L114.99 148.05 L115.19 148.32 L115.38 148.53 L115.58 148.71 L115.78 148.87 L115.98 148.99 L116.18 149.1 L116.38 149.2 L116.58 149.28 L116.77 149.35 L116.97 149.42 L117.17 149.47 L117.37 149.53 L117.57 149.57 L117.77 149.61 L117.97 149.65 L118.16 149.68 L118.36 149.72 L118.56 149.75 L118.76 149.77 L118.96 149.8 L119.16 149.82 L119.35 149.84 L119.55 149.86 L119.75 149.88 L119.95 149.9 L120.15 149.92 L120.35 149.93 L120.55 149.95 L120.74 149.96 L120.94 149.98 L121.14 149.99 L121.34 150 L121.54 150.01 L121.74 150.03 L121.94 150.04 L122.13 150.05 L122.33 150.06 L122.53 150.07 L122.73 150.08 L122.93 150.09 L123.13 150.1 L123.32 150.1 L123.52 150.11 L123.72 150.12 L123.92 150.13 L124.12 150.14 L124.32 150.15 L124.52 150.15 L124.71 150.16 L124.91 150.17 L125.11 150.17 L125.31 150.18 L125.51 150.19 L125.71 150.2 L125.91 150.2 L126.1 150.21 L126.3 150.21 L126.5 150.22 L126.7 150.23 L126.9 150.23 L127.1 150.24 L127.29 150.24 L127.49 150.25 L127.69 150.25 L127.89 150.26 L128.09 150.27 L128.29 150.27 L128.49 150.28 L128.68 150.28 L128.88 150.29 L129.08 150.29 L129.28 150.3 L129.48 150.3 L129.68 150.3 L129.88 150.31 L130.07 150.31 L130.27 150.32 L130.47 150.32 L130.67 150.33 L130.87 150.33 L131.07 150.33 L131.26 150.34 L131.46 150.34 L131.66 150.35 L131.86 150.35 L132.06 150.35 L132.26 150.36 L132.46 150.36 L132.65 150.36 L132.85 150.37 L133.05 150.37 L133.25 150.37 L133.45 150.38 L133.65 150.38 L133.84 150.38 L134.04 150.38 L134.24 150.39 L134.44 150.39 L134.64 150.39 L134.84 150.39 L135.04 150.39 L135.23 150.39 L135.43 150.39 L135.63 150.4 L135.83 150.4 L136.03 150.4 L136.23 150.4 L136.43 150.39 L136.62 150.39 L136.82 150.39 L137.02 150.39 L137.22 150.39 L137.42 150.38 L137.62 150.38 L137.81 150.37 L138.01 150.36 L138.21 150.36 L138.41 150.35 L138.61 150.33 L138.81 150.32 L139.01 150.3 L139.2 150.28 L139.4 150.26 L139.6 150.23 L139.8 150.2 L140 150.16 L140.2 150.11 L140.4 150.04 L140.59 149.96 L140.79 149.86 L140.99 149.72 L141.19 149.53 L141.39 149.22 L141.59 148.7 L141.78 147.82 L141.98 146.34 L142.18 144.08 L142.38 140.99 L142.58 137.39 L142.78 134.16 L142.98 132.79 L143.17 134.17 L143.37 137.4 L143.57 141.01 L143.77 144.1 L143.97 146.37 L144.17 147.85 L144.37 148.75 L144.56 149.27 L144.76 149.58 L144.96 149.79 L145.16 149.93 L145.36 150.04 L145.56 150.12 L145.76 150.19 L145.95 150.25 L146.15 150.3 L146.35 150.34 L146.55 150.37 L146.75 150.4 L146.95 150.43 L147.14 150.45 L147.34 150.47 L147.54 150.49 L147.74 150.51 L147.94 150.52 L148.14 150.54 L148.34 150.55 L148.53 150.56 L148.73 150.57 L148.93 150.58 L149.13 150.59 L149.33 150.6 L149.53 150.6 L149.72 150.61 L149.92 150.62 L150.12 150.62 L150.32 150.63 L150.52 150.64 L150.72 150.64 L150.92 150.65 L151.11 150.65 L151.31 150.66 L151.51 150.66 L151.71 150.66 L151.91 150.67 L152.11 150.67 L152.31 150.68 L152.5 150.68 L152.7 150.68 L152.9 150.69 L153.1 150.69 L153.3 150.69 L153.5 150.7 L153.69 150.7 L153.89 150.7 L154.09 150.71 L154.29 150.71 L154.49 150.71 L154.69 150.71 L154.89 150.72 L155.08 150.72 L155.28 150.72 L155.48 150.72 L155.68 150.73 L155.88 150.73 L156.08 150.73 L156.28 150.73 L156.47 150.73 L156.67 150.74 L156.87 150.74 L157.07 150.74 L157.27 150.74 L157.47 150.74 L157.66 150.74 L157.86 150.74 L158.06 150.75 L158.26 150.75 L158.46 150.75 L158.66 150.75 L158.86 150.75 L159.05 150.75 L159.25 150.75 L159.45 150.75 L159.65 150.75 L159.85 150.75 L160.05 150.75 L160.25 150.75 L160.44 150.75 L160.64 150.75 L160.84 150.75 L161.04 150.74 L161.24 150.74 L161.44 150.74 L161.63 150.74 L161.83 150.73 L162.03 150.73 L162.23 150.73 L162.43 150.72 L162.63 150.72 L162.83 150.71 L163.02 150.71 L163.22 150.7 L163.42 150.69 L163.62 150.68 L163.82 150.67 L164.02 150.66 L164.22 150.65 L164.41 150.63 L164.61 150.61 L164.81 150.59 L165.01 150.57 L165.21 150.54 L165.41 150.51 L165.61 150.48 L165.8 150.43 L166 150.38 L166.2 150.33 L166.4 150.25 L166.6 150.17 L166.8 150.06 L166.99 149.93 L167.19 149.76 L167.39 149.52 L167.59 149.18 L167.79 148.64 L167.99 147.74 L168.19 146.26 L168.38 143.92 L168.58 140.53 L168.78 136.11 L168.98 131.16 L169.18 126.88 L169.38 125.11 L169.57 126.89 L169.77 131.17 L169.97 136.13 L170.17 140.54 L170.37 143.94 L170.57 146.28 L170.77 147.77 L170.96 148.67 L171.16 149.21 L171.36 149.56 L171.56 149.8 L171.76 149.97 L171.96 150.11 L172.16 150.22 L172.35 150.31 L172.55 150.38 L172.75 150.44 L172.95 150.5 L173.15 150.54 L173.35 150.58 L173.54 150.62 L173.74 150.65 L173.94 150.67 L174.14 150.7 L174.34 150.72 L174.54 150.74 L174.74 150.75 L174.93 150.77 L175.13 150.78 L175.33 150.8 L175.53 150.81 L175.73 150.82 L175.93 150.83 L176.13 150.84 L176.32 150.85 L176.52 150.85 L176.72 150.86 L176.92 150.87 L177.12 150.87 L177.32 150.88 L177.51 150.89 L177.71 150.89 L177.91 150.9 L178.11 150.9 L178.31 150.91 L178.51 150.91 L178.71 150.91 L178.9 150.92 L179.1 150.92 L179.3 150.93 L179.5 150.93 L179.7 150.93 L179.9 150.94 L180.1 150.94 L180.29 150.94 L180.49 150.94 L180.69 150.95 L180.89 150.95 L181.09 150.95 L181.29 150.95 L181.49 150.96 L181.68 150.96 L181.88 150.96 L182.08 150.96 L182.28 150.96 L182.48 150.97 L182.68 150.97 L182.87 150.97 L183.07 150.97 L183.27 150.97 L183.47 150.97 L183.67 150.98 L183.87 150.98 L184.07 150.98 L184.26 150.98 L184.46 150.98 L184.66 150.98 L184.86 150.98 L185.06 150.98 L185.26 150.98 L185.46 150.99 L185.65 150.99 L185.85 150.99 L186.05 150.99 L186.25 150.99 L186.45 150.99 L186.65 150.99 L186.84 150.99 L187.04 150.99 L187.24 150.99 L187.44 150.98 L187.64 150.98 L187.84 150.98 L188.04 150.98 L188.23 150.98 L188.43 150.98 L188.63 150.97 L188.83 150.97 L189.03 150.96 L189.23 150.96 L189.43 150.95 L189.62 150.95 L189.82 150.94 L190.02 150.93 L190.22 150.91 L190.42 150.9 L190.62 150.88 L190.81 150.86 L191.01 150.83 L191.21 150.79 L191.41 150.73 L191.61 150.65 L191.81 150.52 L192.01 150.31 L192.2 149.98 L192.4 149.48 L192.6 148.78 L192.8 147.91 L193 146.97 L193.2 146.18 L193.39 145.86 L193.59 146.18 L193.79 146.97 L193.99 147.91 L194.19 148.79 L194.39 149.49 L194.59 149.99 L194.78 150.33 L194.98 150.54 L195.18 150.67 L195.38 150.75 L195.58 150.81 L195.78 150.85 L195.98 150.88 L196.17 150.9 L196.37 150.93 L196.57 150.94 L196.77 150.96 L196.97 150.97 L197.17 150.98 L197.37 150.99 L197.56 151 L197.76 151 L197.96 151.01 L198.16 151.01 L198.36 151.02 L198.56 151.02 L198.75 151.03 L198.95 151.03 L199.15 151.03 L199.35 151.04 L199.55 151.04 L199.75 151.04 L199.95 151.04 L200.14 151.04 L200.34 151.05 L200.54 151.05 L200.74 151.05 L200.94 151.05 L201.14 151.05 L201.34 151.05 L201.53 151.05 L201.73 151.05 L201.93 151.05 L202.13 151.05 L202.33 151.05 L202.53 151.05 L202.72 151.05 L202.92 151.05 L203.12 151.05 L203.32 151.05 L203.52 151.05 L203.72 151.05 L203.92 151.05 L204.11 151.04 L204.31 151.04 L204.51 151.04 L204.71 151.04 L204.91 151.03 L205.11 151.02 L205.31 151.02 L205.5 151 L205.7 150.98 L205.9 150.96 L206.1 150.92 L206.3 150.86 L206.5 150.79 L206.69 150.71 L206.89 150.63 L207.09 150.56 L207.29 150.53 L207.49 150.55 L207.69 150.61 L207.89 150.69 L208.08 150.76 L208.28 150.82 L208.48 150.87 L208.68 150.9 L208.88 150.92 L209.08 150.93 L209.28 150.93 L209.47 150.92 L209.67 150.92 L209.87 150.91 L210.07 150.89 L210.27 150.88 L210.47 150.86 L210.66 150.84 L210.86 150.82 L211.06 150.8 L211.26 150.77 L211.46 150.73 L211.66 150.69 L211.86 150.64 L212.05 150.58 L212.25 150.52 L212.45 150.44 L212.65 150.34 L212.85 150.22 L213.05 150.07 L213.25 149.87 L213.44 149.6 L213.64 149.19 L213.84 148.54 L214.04 147.49 L214.24 145.82 L214.44 143.31 L214.63 139.83 L214.83 135.49 L215.03 130.79 L215.23 126.85 L215.43 125.26 L215.63 126.86 L215.83 130.8 L216.02 135.5 L216.22 139.84 L216.42 143.32 L216.62 145.83 L216.82 147.5 L217.02 148.55 L217.22 149.2 L217.41 149.61 L217.61 149.89 L217.81 150.09 L218.01 150.24 L218.21 150.36 L218.41 150.46 L218.6 150.54 L218.8 150.61 L219 150.67 L219.2 150.72 L219.4 150.76 L219.6 150.8 L219.8 150.83 L219.99 150.86 L220.19 150.88 L220.39 150.91 L220.59 150.93 L220.79 150.94 L220.99 150.96 L221.19 150.97 L221.38 150.99 L221.58 151 L221.78 151.01 L221.98 151.02 L222.18 151.03 L222.38 151.04 L222.57 151.04 L222.77 151.05 L222.97 151.06 L223.17 151.06 L223.37 151.07 L223.57 151.07 L223.77 151.07 L223.96 151.08 L224.16 151.08 L224.36 151.08 L224.56 151.08 L224.76 151.08 L224.96 151.08 L225.16 151.07 L225.35 151.06 L225.55 151.04 L225.75 151.02 L225.95 150.97 L226.15 150.91 L226.35 150.83 L226.54 150.74 L226.74 150.65 L226.94 150.57 L227.14 150.54 L227.34 150.58 L227.54 150.65 L227.74 150.75 L227.93 150.85 L228.13 150.93 L228.33 151 L228.53 151.05 L228.73 151.08 L228.93 151.1 L229.12 151.11 L229.32 151.12 L229.52 151.13 L229.72 151.14 L229.92 151.14 L230.12 151.15 L230.32 151.15 L230.51 151.15 L230.71 151.16 L230.91 151.16 L231.11 151.16 L231.31 151.16 L231.51 151.16 L231.71 151.17 L231.9 151.17 L232.1 151.17 L232.3 151.17 L232.5 151.17 L232.7 151.17 L232.9 151.17 L233.1 151.18 L233.29 151.18 L233.49 151.18 L233.69 151.18 L233.89 151.18 L234.09 151.18 L234.29 151.18 L234.48 151.18 L234.68 151.18 L234.88 151.18 L235.08 151.18 L235.28 151.19 L235.48 151.19 L235.68 151.19 L235.87 151.19 L236.07 151.19 L236.27 151.19 L236.47 151.19 L236.67 151.19 L236.87 151.19 L237.06 151.19 L237.26 151.19 L237.46 151.19 L237.66 151.19 L237.86 151.19 L238.06 151.19 L238.26 151.19 L238.45 151.19 L238.65 151.2 L238.85 151.2 L239.05 151.2 L239.25 151.2 L239.45 151.2 L239.65 151.2 L239.84 151.2 L240.04 151.2 L240.24 151.2 L240.44 151.2 L240.64 151.2 L240.84 151.2 L241.04 151.2 L241.23 151.2 L241.43 151.2 L241.63 151.2 L241.83 151.2 L242.03 151.2 L242.23 151.2 L242.42 151.2 L242.62 151.2 L242.82 151.2 L243.02 151.2 L243.22 151.2 L243.42 151.2 L243.62 151.2 L243.81 151.2 L244.01 151.2 L244.21 151.2 L244.41 151.2 L244.61 151.2 L244.81 151.2 L245 151.2 L245.2 151.2 L245.4 151.2 L245.6 151.2 L245.8 151.19 L246 151.19 L246.2 151.19 L246.39 151.19 L246.59 151.19 L246.79 151.19 L246.99 151.19 L247.19 151.19 L247.39 151.19 L247.59 151.19 L247.78 151.18 L247.98 151.18 L248.18 151.18 L248.38 151.18 L248.58 151.18 L248.78 151.17 L248.97 151.17 L249.17 151.17 L249.37 151.17 L249.57 151.16 L249.77 151.16 L249.97 151.15 L250.17 151.15 L250.36 151.14 L250.56 151.14 L250.76 151.13 L250.96 151.12 L251.16 151.12 L251.36 151.11 L251.56 151.1 L251.75 151.08 L251.95 151.07 L252.15 151.06 L252.35 151.04 L252.55 151.02 L252.75 150.99 L252.95 150.96 L253.14 150.93 L253.34 150.89 L253.54 150.83 L253.74 150.76 L253.94 150.67 L254.14 150.54 L254.33 150.34 L254.53 150.02 L254.73 149.55 L254.93 148.85 L255.13 147.88 L255.33 146.63 L255.53 145.17 L255.72 143.69 L255.92 142.5 L256.12 142.04 L256.32 142.5 L256.52 143.69 L256.72 145.17 L256.92 146.63 L257.11 147.88 L257.31 148.85 L257.51 149.55 L257.71 150.03 L257.91 150.34 L258.11 150.54 L258.3 150.68 L258.5 150.77 L258.7 150.84 L258.9 150.89 L259.1 150.93 L259.3 150.97 L259.5 151 L259.69 151.02 L259.89 151.04 L260.09 151.06 L260.29 151.08 L260.49 151.09 L260.69 151.11 L260.89 151.12 L261.08 151.13 L261.28 151.13 L261.48 151.14 L261.68 151.15 L261.88 151.15 L262.08 151.16 L262.27 151.17 L262.47 151.17 L262.67 151.17 L262.87 151.18 L263.07 151.18 L263.27 151.18 L263.47 151.19 L263.66 151.19 L263.86 151.19 L264.06 151.19 L264.26 151.2 L264.46 151.2 L264.66 151.2 L264.86 151.2 L265.05 151.2 L265.25 151.2 L265.45 151.21 L265.65 151.21 L265.85 151.21 L266.05 151.21 L266.24 151.21 L266.44 151.21 L266.64 151.21 L266.84 151.21 L267.04 151.21 L267.24 151.21 L267.44 151.21 L267.63 151.21 L267.83 151.21 L268.03 151.21 L268.23 151.21 L268.43 151.21 L268.63 151.21 L268.82 151.21 L269.02 151.21 L269.22 151.21 L269.42 151.21 L269.62 151.21 L269.82 151.21 L270.02 151.2 L270.21 151.2 L270.41 151.2 L270.61 151.2 L270.81 151.19 L271.01 151.19 L271.21 151.19 L271.41 151.18 L271.6 151.18 L271.8 151.17 L272 151.16 L272.2 151.15 L272.4 151.14 L272.6 151.13 L272.8 151.12 L272.99 151.1 L273.19 151.07 L273.39 151.03 L273.59 150.98 L273.79 150.9 L273.99 150.78 L274.18 150.6 L274.38 150.37 L274.58 150.06 L274.78 149.69 L274.98 149.27 L275.18 148.87 L275.38 148.56 L275.57 148.45 L275.77 148.56 L275.97 148.87 L276.17 149.27 L276.37 149.69 L276.57 150.06 L276.76 150.37 L276.96 150.61 L277.16 150.78 L277.36 150.9 L277.56 150.98 L277.76 151.03 L277.96 151.07 L278.15 151.1 L278.35 151.12 L278.55 151.13 L278.75 151.15 L278.95 151.16 L279.15 151.17 L279.35 151.17 L279.54 151.18 L279.74 151.19 L279.94 151.19 L280.14 151.19 L280.34 151.2 L280.54 151.2 L280.74 151.2 L280.93 151.21 L281.13 151.21 L281.33 151.21 L281.53 151.21 L281.73 151.21 L281.93 151.22 L282.12 151.22 L282.32 151.22 L282.52 151.22 L282.72 151.22 L282.92 151.22 L283.12 151.22 L283.32 151.22 L283.51 151.22 L283.71 151.22 L283.91 151.22 L284.11 151.22 L284.31 151.22 L284.51 151.22 L284.7 151.22 L284.9 151.22 L285.1 151.21 L285.3 151.21 L285.5 151.21 L285.7 151.21 L285.9 151.21 L286.09 151.21 L286.29 151.21 L286.49 151.2 L286.69 151.2 L286.89 151.2 L287.09 151.2 L287.29 151.19 L287.48 151.19 L287.68 151.19 L287.88 151.18 L288.08 151.18 L288.28 151.17 L288.48 151.17 L288.68 151.16 L288.87 151.15 L289.07 151.14 L289.27 151.13 L289.47 151.12 L289.67 151.11 L289.87 151.1 L290.06 151.08 L290.26 151.07 L290.46 151.05 L290.66 151.02 L290.86 151 L291.06 150.96 L291.26 150.93 L291.45 150.88 L291.65 150.82 L291.85 150.74 L292.05 150.62 L292.25 150.46 L292.45 150.21 L292.65 149.84 L292.84 149.32 L293.04 148.6 L293.24 147.67 L293.44 146.54 L293.64 145.28 L293.84 144.06 L294.03 143.12 L294.23 142.77 L294.43 143.12 L294.63 144.06 L294.83 145.28 L295.03 146.54 L295.23 147.67 L295.42 148.6 L295.62 149.32 L295.82 149.85 L296.02 150.21 L296.22 150.46 L296.42 150.62 L296.62 150.74 L296.81 150.82 L297.01 150.88 L297.21 150.93 L297.41 150.97 L297.61 151 L297.81 151.03 L298 151.05 L298.2 151.07 L298.4 151.09 L298.6 151.1 L298.8 151.12 L299 151.13 L299.2 151.14 L299.39 151.15 L299.59 151.16 L299.79 151.17 L299.99 151.17 L300.19 151.18 L300.39 151.18 L300.59 151.19 L300.78 151.19 L300.98 151.2 L301.18 151.2 L301.38 151.2 L301.58 151.21 L301.78 151.21 L301.97 151.21 L302.17 151.21 L302.37 151.22 L302.57 151.22 L302.77 151.22 L302.97 151.22 L303.17 151.22 L303.36 151.23 L303.56 151.23 L303.76 151.23 L303.96 151.23 L304.16 151.23 L304.36 151.23 L304.56 151.23 L304.75 151.23 L304.95 151.23 L305.15 151.23 L305.35 151.23 L305.55 151.23 L305.75 151.23 L305.94 151.23 L306.14 151.23 L306.34 151.23 L306.54 151.23 L306.74 151.23 L306.94 151.23 L307.14 151.23 L307.33 151.22 L307.53 151.22 L307.73 151.22 L307.93 151.22 L308.13 151.21 L308.33 151.21 L308.52 151.21 L308.72 151.2 L308.92 151.2 L309.12 151.19 L309.32 151.18 L309.52 151.17 L309.72 151.16 L309.91 151.15 L310.11 151.13 L310.31 151.11 L310.51 151.08 L310.71 151.04 L310.91 150.98 L311.11 150.89 L311.3 150.77 L311.5 150.61 L311.7 150.39 L311.9 150.12 L312.1 149.82 L312.3 149.49 L312.5 149.18 L312.69 148.95 L312.89 148.87 L313.09 148.95 L313.29 149.18 L313.49 149.49 L313.69 149.82 L313.88 150.12 L314.08 150.39 L314.28 150.61 L314.48 150.77 L314.68 150.9 L314.88 150.98 L315.08 151.04 L315.27 151.09 L315.47 151.12 L315.67 151.14 L315.87 151.16 L316.07 151.17 L316.27 151.18 L316.46 151.19 L316.66 151.2 L316.86 151.2 L317.06 151.21 L317.26 151.21 L317.46 151.22 L317.66 151.22 L317.85 151.22 L318.05 151.23 L318.25 151.23 L318.45 151.23 L318.65 151.23 L318.85 151.24 L319.05 151.24 L319.24 151.24 L319.44 151.24 L319.64 151.24 L319.84 151.24 L320.04 151.24 L320.24 151.24 L320.44 151.24 L320.63 151.24 L320.83 151.24 L321.03 151.25 L321.23 151.25 L321.43 151.25 L321.63 151.25 L321.82 151.24 L322.02 151.24 L322.22 151.24 L322.42 151.24 L322.62 151.24 L322.82 151.24 L323.02 151.24 L323.21 151.24 L323.41 151.24 L323.61 151.24 L323.81 151.24 L324.01 151.23 L324.21 151.23 L324.41 151.23 L324.6 151.23 L324.8 151.23 L325 151.22 L325.2 151.22 L325.4 151.22 L325.6 151.21 L325.79 151.21 L325.99 151.2 L326.19 151.2 L326.39 151.19 L326.59 151.18 L326.79 151.18 L326.99 151.17 L327.18 151.16 L327.38 151.14 L327.58 151.13 L327.78 151.11 L327.98 151.09 L328.18 151.07 L328.38 151.03 L328.57 150.99 L328.77 150.93 L328.97 150.85 L329.17 150.73 L329.37 150.56 L329.57 150.33 L329.76 150.03 L329.96 149.64 L330.16 149.18 L330.36 148.65 L330.56 148.1 L330.76 147.59 L330.96 147.22 L331.15 147.08 L331.35 147.22 L331.55 147.59 L331.75 148.1 L331.95 148.65 L332.15 149.18 L332.35 149.65 L332.54 150.03 L332.74 150.34 L332.94 150.56 L333.14 150.73 L333.34 150.85 L333.54 150.93 L333.73 150.99 L333.93 151.04 L334.13 151.07 L334.33 151.1 L334.53 151.12 L334.73 151.13 L334.93 151.15 L335.12 151.16 L335.32 151.17 L335.52 151.18 L335.72 151.19 L335.92 151.2 L336.12 151.21 L336.31 151.21 L336.51 151.22 L336.71 151.22 L336.91 151.23 L337.11 151.23 L337.31 151.23 L337.51 151.24 L337.7 151.24 L337.9 151.24 L338.1 151.24 L338.3 151.25" stroke="#ff1aff" fill="none" stroke-width="1.6" stroke-linejoin="round"/>
</g>
<path d="M20.7 175.93 L20.9 175.91 L21.1 177.13 L21.3 176.12 L21.49 177.64 L21.69 176.06 L21.89 177.47 L22.09 176.13 L22.29 175.93 L22.49 177.19 L22.68 176.34 L22.88 177.22 L23.08 176.24 L23.28 175.99 L23.48 177.29 L23.68 177.18 L23.88 177.44 L24.07 177.21 L24.27 176.05 L24.47 177.03 L24.67 177.18 L24.87 176.73 L25.07 177.58 L25.27 176.36 L25.46 177.64 L25.66 177.19 L25.86 175.92 L26.06 175.93 L26.26 177.07 L26.46 177.37 L26.66 176.04 L26.85 176.46 L27.05 177.21 L27.25 176.2 L27.45 177.45 L27.65 176.78 L27.85 176.01 L28.04 176.56 L28.24 176.93 L28.44 176.69 L28.64 177.12 L28.84 176.16 L29.04 177.34 L29.24 176.55 L29.43 177.06 L29.63 177.03 L29.83 176.65 L30.03 176.59 L30.23 177.32 L30.43 177.6 L30.62 177.31 L30.82 176.92 L31.02 176.43 L31.22 176.01 L31.42 177.65 L31.62 177.17 L31.82 177.39 L32.01 176.5 L32.21 176.99 L32.41 177.66 L32.61 177.4 L32.81 176.98 L33.01 176.46 L33.21 176.67 L33.4 177.5 L33.6 176.58 L33.8 177.13 L34 176.98 L34.2 177.51 L34.4 177.35 L34.59 176.41 L34.79 175.9 L34.99 176.37 L35.19 176.66 L35.39 176.96 L35.59 177.37 L35.79 177.5 L35.98 175.98 L36.18 177.4 L36.38 177.36 L36.58 177.46 L36.78 176.93 L36.98 176.39 L37.18 177.43 L37.37 177.35 L37.57 177.13 L37.77 177.54 L37.97 176.52 L38.17 176.05 L38.37 176.9 L38.56 177.34 L38.76 176.26 L38.96 177.25 L39.16 177.58 L39.36 176.32 L39.56 176.99 L39.76 177.12 L39.95 176.74 L40.15 176.27 L40.35 176.36 L40.55 177.25 L40.75 177.32 L40.95 176.73 L41.15 176.06 L41.34 177.35 L41.54 177.29 L41.74 176.32 L41.94 176.94 L42.14 177.51 L42.34 177.49 L42.53 176.84 L42.73 176.76 L42.93 176.96 L43.13 176.24 L43.33 176.25 L43.53 176.23 L43.73 177.16 L43.92 176.55 L44.12 176.92 L44.32 176.62 L44.52 176.83 L44.72 176.17 L44.92 175.98 L45.12 177.69 L45.31 176.57 L45.51 176.09 L45.71 177.04 L45.91 177.32 L46.11 176.18 L46.31 176.97 L46.5 176.52 L46.7 176.84 L46.9 175.94 L47.1 175.96 L47.3 177.68 L47.5 177.46 L47.7 176.78 L47.89 176.92 L48.09 176.37 L48.29 177.3 L48.49 176.67 L48.69 177.6 L48.89 177.28 L49.09 177.37 L49.28 177.63 L49.48 176.36 L49.68 175.97 L49.88 176.26 L50.08 176.23 L50.28 176.05 L50.47 175.99 L50.67 176.9 L50.87 177.47 L51.07 176.72 L51.27 177.6 L51.47 177.54 L51.67 176.02 L51.86 176.98 L52.06 176.62 L52.26 176.12 L52.46 177.63 L52.66 176.36 L52.86 176.92 L53.06 177.05 L53.25 177.62 L53.45 177.11 L53.65 176.61 L53.85 176.71 L54.05 176.19 L54.25 177.64 L54.45 177.69 L54.64 176.3 L54.84 175.97 L55.04 176.36 L55.24 176.53 L55.44 177.52 L55.64 177.53 L55.83 177.41 L56.03 175.98 L56.23 177.32 L56.43 177.18 L56.63 177.06 L56.83 177.67 L57.03 176 L57.22 176.16 L57.42 177.26 L57.62 177.59 L57.82 177.12 L58.02 176.44 L58.22 176.96 L58.42 177.26 L58.61 176.09 L58.81 176.48 L59.01 176.36 L59.21 176.12 L59.41 176.77 L59.61 176.2 L59.8 176.33 L60 176.16 L60.2 177.12 L60.4 175.92 L60.6 177.19 L60.8 176.25 L61 175.96 L61.19 177.57 L61.39 176.3 L61.59 177.58 L61.79 177.46 L61.99 177.5 L62.19 176.15 L62.39 176.71 L62.58 176.07 L62.78 177.57 L62.98 177.42 L63.18 177.03 L63.38 176.71 L63.58 176.51 L63.77 177.38 L63.97 176.76 L64.17 177.03 L64.37 176.16 L64.57 176.3 L64.77 176 L64.97 177.18 L65.16 176.9 L65.36 176.16 L65.56 177.47 L65.76 176.38 L65.96 176.64 L66.16 176.18 L66.36 176.39 L66.55 177.41 L66.75 176.5 L66.95 176.2 L67.15 176.78 L67.35 176.47 L67.55 177.53 L67.74 176.11 L67.94 177.66 L68.14 176 L68.34 177.51 L68.54 177.1 L68.74 176.28 L68.94 176.76 L69.13 176.42 L69.33 176.36 L69.53 176.26 L69.73 176.56 L69.93 177.68 L70.13 177.7 L70.33 177.57 L70.52 176.08 L70.72 176.42 L70.92 177.51 L71.12 176 L71.32 177.21 L71.52 176.81 L71.71 178.04 L71.91 176.31 L72.11 177.73 L72.31 176.89 L72.51 176.53 L72.71 176.28 L72.91 177.78 L73.1 176.39 L73.3 175.78 L73.5 176.23 L73.7 177.09 L73.9 175.84 L74.1 176.47 L74.3 175.69 L74.49 175.77 L74.69 177.29 L74.89 177.18 L75.09 176.25 L75.29 176.04 L75.49 176.06 L75.68 177 L75.88 176.79 L76.08 176.39 L76.28 176.27 L76.48 177 L76.68 177.17 L76.88 177.36 L77.07 176.95 L77.27 176.26 L77.47 176.02 L77.67 177.22 L77.87 176.63 L78.07 177.2 L78.27 176 L78.46 177.36 L78.66 176.5 L78.86 177.42 L79.06 177.46 L79.26 176.79 L79.46 175.93 L79.65 177.54 L79.85 176.76 L80.05 177.47 L80.25 176.38 L80.45 176.23 L80.65 177.4 L80.85 176.56 L81.04 176.19 L81.24 176.57 L81.44 176.97 L81.64 175.91 L81.84 176.84 L82.04 176.7 L82.23 176.83 L82.43 176.12 L82.63 177.19 L82.83 177.37 L83.03 177.46 L83.23 176.48 L83.43 177.18 L83.62 176.59 L83.82 177.25 L84.02 176.01 L84.22 177.47 L84.42 177.62 L84.62 176.79 L84.82 176.82 L85.01 176.85 L85.21 176.87 L85.41 175.94 L85.61 177.64 L85.81 176.3 L86.01 176.23 L86.21 176.08 L86.4 176.35 L86.6 177.37 L86.8 175.95 L87 176.07 L87.2 177.16 L87.4 176.25 L87.59 175.93 L87.79 176.98 L87.99 176.94 L88.19 176.84 L88.39 177.16 L88.59 176.09 L88.79 177.47 L88.98 177.19 L89.18 175.98 L89.38 176.12 L89.58 176.79 L89.78 176.8 L89.98 176.4 L90.17 176.12 L90.37 176.63 L90.57 176.15 L90.77 176.97 L90.97 177.45 L91.17 176.16 L91.37 176.93 L91.56 177.24 L91.76 176.2 L91.96 177.39 L92.16 177.59 L92.36 176.6 L92.56 176.66 L92.76 177.41 L92.95 176.85 L93.15 176.61 L93.35 177.59 L93.55 177.3 L93.75 176.51 L93.95 176.33 L94.15 176.5 L94.34 176.68 L94.54 177.67 L94.74 177.35 L94.94 177.54 L95.14 177.37 L95.34 177.43 L95.53 176 L95.73 176.83 L95.93 177.62 L96.13 177.58 L96.33 176.35 L96.53 176.66 L96.73 177.04 L96.92 176.56 L97.12 176.86 L97.32 176.02 L97.52 176.68 L97.72 176.81 L97.92 175.94 L98.12 176.15 L98.31 177.65 L98.51 177.3 L98.71 177.59 L98.91 177.04 L99.11 177.36 L99.31 177.49 L99.5 177.49 L99.7 175.96 L99.9 177.05 L100.1 176.38 L100.3 177.12 L100.5 176.39 L100.7 176.88 L100.89 177.56 L101.09 177.02 L101.29 176.35 L101.49 176.84 L101.69 176.68 L101.89 177.61 L102.09 176.42 L102.28 176.45 L102.48 177.07 L102.68 176.12 L102.88 176.97 L103.08 177.62 L103.28 176.82 L103.47 176.38 L103.67 176.74 L103.87 176.86 L104.07 176.17 L104.27 176.12 L104.47 176.14 L104.67 176.43 L104.86 176.63 L105.06 176.42 L105.26 176.34 L105.46 176.06 L105.66 176.88 L105.86 177.41 L106.06 177 L106.25 176.93 L106.45 177.07 L106.65 176.26 L106.85 177.18 L107.05 176.73 L107.25 176.89 L107.44 177 L107.64 176.74 L107.84 176.46 L108.04 176.34 L108.24 176.3 L108.44 176.82 L108.64 176.59 L108.83 176.95 L109.03 175.92 L109.23 176.53 L109.43 177.45 L109.63 176.33 L109.83 176.9 L110.03 176.78 L110.22 176.41 L110.42 177.68 L110.62 176.43 L110.82 180.24 L111.02 179.14 L111.22 178.98 L111.41 180.42 L111.61 179.65 L111.81 178.97 L112.01 179.55 L112.21 179.65 L112.41 173.68 L112.61 172.55 L112.8 172.76 L113 174.08 L113.2 173.68 L113.4 172.63 L113.6 172.96 L113.8 172.99 L114 173.57 L114.19 177.01 L114.39 177.43 L114.59 177.38 L114.79 176.83 L114.99 177.23 L115.19 177.24 L115.38 177.27 L115.58 176.76 L115.78 177.31 L115.98 177.18 L116.18 177.55 L116.38 176.13 L116.58 177.47 L116.77 175.91 L116.97 177.28 L117.17 176.95 L117.37 176.8 L117.57 177.63 L117.77 176.93 L117.97 176.65 L118.16 177.31 L118.36 177.47 L118.56 176.99 L118.76 176.58 L118.96 176.71 L119.16 176.72 L119.35 177.2 L119.55 176.43 L119.75 176.6 L119.95 176.9 L120.15 176.59 L120.35 176.48 L120.55 177.32 L120.74 177.43 L120.94 176.8 L121.14 176.7 L121.34 176.23 L121.54 176.45 L121.74 176.16 L121.94 176.94 L122.13 176.95 L122.33 176.06 L122.53 177.56 L122.73 176.48 L122.93 177.42 L123.13 177.41 L123.32 177.63 L123.52 176.27 L123.72 176.67 L123.92 177.54 L124.12 175.92 L124.32 175.99 L124.52 176.92 L124.71 176.8 L124.91 177.56 L125.11 177.29 L125.31 176.87 L125.51 177.7 L125.71 176.83 L125.91 176.83 L126.1 177.13 L126.3 176.6 L126.5 176.54 L126.7 176.97 L126.9 176.53 L127.1 177.61 L127.29 177.12 L127.49 176.85 L127.69 176.08 L127.89 176.57 L128.09 176.62 L128.29 176.91 L128.49 176.93 L128.68 177.48 L128.88 177.64 L129.08 176.78 L129.28 176.69 L129.48 177.02 L129.68 177.69 L129.88 176.52 L130.07 176.85 L130.27 177.37 L130.47 176.21 L130.67 176.47 L130.87 177.66 L131.07 177.39 L131.26 176.82 L131.46 176.1 L131.66 177.51 L131.86 177.14 L132.06 177.38 L132.26 177.68 L132.46 177.5 L132.65 176.66 L132.85 176.18 L133.05 176.42 L133.25 176.82 L133.45 176.81 L133.65 176.24 L133.84 176.23 L134.04 177.03 L134.24 176.99 L134.44 176.54 L134.64 177.69 L134.84 177.05 L135.04 175.98 L135.23 176.64 L135.43 177.32 L135.63 176.45 L135.83 177.14 L136.03 175.91 L136.23 176.45 L136.43 177.42 L136.62 176.96 L136.82 177.1 L137.02 176.25 L137.22 176.8 L137.42 176.9 L137.62 176.38 L137.81 177.06 L138.01 176.86 L138.21 177.69 L138.41 176.93 L138.61 176.64 L138.81 176.12 L139.01 176.18 L139.2 177.27 L139.4 176.09 L139.6 176.08 L139.8 176.21 L140 176.84 L140.2 177.38 L140.4 177 L140.59 177.35 L140.79 176.01 L140.99 175.92 L141.19 177.29 L141.39 176.93 L141.59 177.63 L141.78 176.98 L141.98 176.65 L142.18 176.82 L142.38 176.52 L142.58 177.97 L142.78 177.39 L142.98 175.99 L143.17 176.18 L143.37 176.06 L143.57 175.46 L143.77 176.97 L143.97 176.41 L144.17 177.09 L144.37 176.16 L144.56 177.02 L144.76 176.35 L144.96 175.98 L145.16 177.58 L145.36 177.44 L145.56 176.47 L145.76 177.52 L145.95 177.37 L146.15 176.45 L146.35 176.98 L146.55 177.63 L146.75 176.79 L146.95 177.61 L147.14 176.34 L147.34 176.6 L147.54 177.19 L147.74 176.3 L147.94 176.46 L148.14 177.48 L148.34 176.77 L148.53 177.33 L148.73 176.34 L148.93 176.21 L149.13 176.55 L149.33 176.24 L149.53 177.65 L149.72 176.42 L149.92 176.91 L150.12 176.11 L150.32 176.86 L150.52 176.59 L150.72 176.63 L150.92 176.02 L151.11 176.12 L151.31 177.39 L151.51 176.53 L151.71 176.34 L151.91 176.24 L152.11 176.41 L152.31 176.33 L152.5 175.96 L152.7 177.1 L152.9 176.51 L153.1 176.18 L153.3 177.17 L153.5 176.07 L153.69 176.39 L153.89 177.4 L154.09 176.13 L154.29 176.7 L154.49 177.41 L154.69 177.35 L154.89 176.19 L155.08 176.54 L155.28 177.2 L155.48 176.58 L155.68 177.63 L155.88 176.27 L156.08 177.61 L156.28 176.81 L156.47 176.31 L156.67 176.71 L156.87 176.14 L157.07 177.17 L157.27 176.37 L157.47 177.52 L157.66 176.96 L157.86 176.56 L158.06 176.34 L158.26 176.99 L158.46 176.28 L158.66 177.47 L158.86 176.12 L159.05 176.82 L159.25 176.88 L159.45 176.39 L159.65 177.29 L159.85 176.59 L160.05 177.08 L160.25 176.92 L160.44 176.46 L160.64 176.6 L160.84 176.05 L161.04 176.22 L161.24 177.43 L161.44 176.48 L161.63 177.09 L161.83 176.1 L162.03 176.91 L162.23 176.55 L162.43 176.8 L162.63 176.43 L162.83 176.02 L163.02 176.46 L163.22 176.31 L163.42 176.13 L163.62 177.19 L163.82 176.41 L164.02 176.63 L164.22 177.54 L164.41 177.29 L164.61 177.49 L164.81 177.45 L165.01 176.14 L165.21 176.4 L165.41 175.95 L165.61 177.12 L165.8 177.09 L166 176.53 L166.2 176.64 L166.4 177.09 L166.6 177.16 L166.8 176.35 L166.99 177.42 L167.19 176.53 L167.39 177.03 L167.59 176.23 L167.79 176.11 L167.99 178.19 L168.19 177.87 L168.38 177.83 L168.58 176.62 L168.78 176.62 L168.98 176.84 L169.18 176.9 L169.38 175.67 L169.57 175.81 L169.77 175.2 L169.97 175.69 L170.17 176.27 L170.37 175.45 L170.57 176.64 L170.77 176.15 L170.96 176.42 L171.16 176.36 L171.36 176.68 L171.56 177.13 L171.76 176.53 L171.96 175.9 L172.16 177.4 L172.35 177.3 L172.55 176.42 L172.75 175.98 L172.95 177.44 L173.15 176.99 L173.35 175.99 L173.54 176.34 L173.74 176.1 L173.94 177.32 L174.14 176.28 L174.34 177.55 L174.54 177.25 L174.74 176.06 L174.93 177.15 L175.13 176.61 L175.33 177.25 L175.53 177.39 L175.73 176.41 L175.93 176.06 L176.13 177.6 L176.32 176.66 L176.52 177.57 L176.72 177.14 L176.92 177.23 L177.12 177.39 L177.32 177.03 L177.51 176.72 L177.71 176 L177.91 177.16 L178.11 176.67 L178.31 176.82 L178.51 177.57 L178.71 176.13 L178.9 177.27 L179.1 175.98 L179.3 177.16 L179.5 177.35 L179.7 176.37 L179.9 176.88 L180.1 177.64 L180.29 177.05 L180.49 176.88 L180.69 176.35 L180.89 176.01 L181.09 176.54 L181.29 176.64 L181.49 176.26 L181.68 176.46 L181.88 176.15 L182.08 177.17 L182.28 177.11 L182.48 176.33 L182.68 176.34 L182.87 176.83 L183.07 176.7 L183.27 177.58 L183.47 176.53 L183.67 176.44 L183.87 177.49 L184.07 176.16 L184.26 176.91 L184.46 176.5 L184.66 177.37 L184.86 176.89 L185.06 177.27 L185.26 176.2 L185.46 177.1 L185.65 176.98 L185.85 176.73 L186.05 177.28 L186.25 177.4 L186.45 176.11 L186.65 176.42 L186.84 176.55 L187.04 176.27 L187.24 176.01 L187.44 176.41 L187.64 176.25 L187.84 177.16 L188.04 176.71 L188.23 176.1 L188.43 176.48 L188.63 176.74 L188.83 176.55 L189.03 176.2 L189.23 176.03 L189.43 175.92 L189.62 177.69 L189.82 177.25 L190.02 176.05 L190.22 177.19 L190.42 177.66 L190.62 176.91 L190.81 176.1 L191.01 176.78 L191.21 176.68 L191.41 176.24 L191.61 176.88 L191.81 176.04 L192.01 177.69 L192.2 177.19 L192.4 177.16 L192.6 177.71 L192.8 177.2 L193 176.48 L193.2 176.47 L193.39 175.99 L193.59 175.79 L193.79 177.14 L193.99 177.26 L194.19 176.28 L194.39 176.08 L194.59 176.89 L194.78 177.27 L194.98 177.41 L195.18 176.2 L195.38 177.31 L195.58 177.39 L195.78 177.24 L195.98 176.49 L196.17 176.23 L196.37 177.39 L196.57 176.48 L196.77 176.56 L196.97 176.89 L197.17 176.56 L197.37 177.4 L197.56 176.33 L197.76 175.97 L197.96 176.92 L198.16 177.03 L198.36 177.38 L198.56 177.17 L198.75 177.53 L198.95 177.6 L199.15 176.79 L199.35 176.8 L199.55 176.18 L199.75 176.44 L199.95 176.95 L200.14 176.04 L200.34 177.14 L200.54 176.19 L200.74 176.7 L200.94 177.65 L201.14 176.06 L201.34 175.97 L201.53 176.69 L201.73 176.24 L201.93 177.2 L202.13 175.91 L202.33 177.41 L202.53 177.44 L202.72 177.32 L202.92 176.67 L203.12 176.41 L203.32 177.09 L203.52 176.83 L203.72 176.66 L203.92 176.51 L204.11 176.69 L204.31 177.1 L204.51 177.39 L204.71 177.53 L204.91 176.2 L205.11 176.43 L205.31 176.7 L205.5 176.91 L205.7 176.53 L205.9 176.25 L206.1 176.05 L206.3 176.48 L206.5 176.73 L206.69 177.65 L206.89 177.54 L207.09 177.46 L207.29 177.65 L207.49 177.63 L207.69 177.02 L207.89 177.36 L208.08 176.01 L208.28 177.12 L208.48 177 L208.68 176.43 L208.88 176.93 L209.08 177.62 L209.28 176.77 L209.47 177.07 L209.67 176.44 L209.87 176.52 L210.07 177.49 L210.27 175.95 L210.47 176.24 L210.66 177.12 L210.86 176.71 L211.06 176.05 L211.26 177.09 L211.46 176.57 L211.66 176.95 L211.86 176.65 L212.05 176.85 L212.25 176.92 L212.45 176.61 L212.65 176.11 L212.85 176.22 L213.05 177.5 L213.25 176.89 L213.44 176.1 L213.64 177.45 L213.84 177 L214.04 176.72 L214.24 177.5 L214.44 177 L214.63 177.43 L214.83 177.54 L215.03 176.96 L215.23 177.58 L215.43 175.33 L215.63 176.05 L215.83 176.18 L216.02 175.27 L216.22 175.86 L216.42 175.26 L216.62 175.91 L216.82 176.68 L217.02 176.89 L217.22 177.19 L217.41 177.26 L217.61 176.11 L217.81 177.68 L218.01 177.2 L218.21 176.08 L218.41 177.39 L218.6 176.61 L218.8 176.21 L219 177.63 L219.2 176.91 L219.4 177.29 L219.6 176.15 L219.8 177.3 L219.99 176 L220.19 176.33 L220.39 176.57 L220.59 175.93 L220.79 176.97 L220.99 176.28 L221.19 176.44 L221.38 177.17 L221.58 176.67 L221.78 177.5 L221.98 177.02 L222.18 177.47 L222.38 176.91 L222.57 177.55 L222.77 177.47 L222.97 176.2 L223.17 177.24 L223.37 176.51 L223.57 177.27 L223.77 177.12 L223.96 177.39 L224.16 176.12 L224.36 176.57 L224.56 177.23 L224.76 177.61 L224.96 177.2 L225.16 175.98 L225.35 176.99 L225.55 176.08 L225.75 176.89 L225.95 177.35 L226.15 176.1 L226.35 177.57 L226.54 177.12 L226.74 176.36 L226.94 176.25 L227.14 176.7 L227.34 177.41 L227.54 176.95 L227.74 176.1 L227.93 175.94 L228.13 176.1 L228.33 177.34 L228.53 176.23 L228.73 176.9 L228.93 176.42 L229.12 177.14 L229.32 176.59 L229.52 176.16 L229.72 177.48 L229.92 176.87 L230.12 177.14 L230.32 177.35 L230.51 177.61 L230.71 175.92 L230.91 176.52 L231.11 176.17 L231.31 176.8 L231.51 177.47 L231.71 177.34 L231.9 175.96 L232.1 176.23 L232.3 177.37 L232.5 177.12 L232.7 176.61 L232.9 176.76 L233.1 176.18 L233.29 177.42 L233.49 176.61 L233.69 177.47 L233.89 177 L234.09 176.04 L234.29 176.49 L234.48 176.29 L234.68 177.51 L234.88 176.96 L235.08 175.98 L235.28 176.21 L235.48 176.55 L235.68 176.74 L235.87 176.94 L236.07 176.6 L236.27 176.54 L236.47 175.91 L236.67 176.94 L236.87 176.5 L237.06 175.94 L237.26 176.73 L237.46 177.68 L237.66 175.98 L237.86 176.16 L238.06 177.11 L238.26 176.39 L238.45 176.39 L238.65 176.8 L238.85 176.37 L239.05 176.92 L239.25 176.85 L239.45 177.62 L239.65 177.69 L239.84 175.96 L240.04 176.91 L240.24 177.29 L240.44 177.47 L240.64 177.29 L240.84 177.04 L241.04 177.04 L241.23 176.55 L241.43 176.41 L241.63 177.33 L241.83 177.47 L242.03 177.59 L242.23 177.13 L242.42 176.45 L242.62 177.27 L242.82 177.23 L243.02 176.82 L243.22 177.04 L243.42 176.53 L243.62 176.89 L243.81 176.63 L244.01 176.01 L244.21 176.51 L244.41 176.48 L244.61 177.68 L244.81 176.77 L245 176.56 L245.2 176.34 L245.4 176.32 L245.6 176.53 L245.8 176.14 L246 175.91 L246.2 177.47 L246.39 176.72 L246.59 176.7 L246.79 176.92 L246.99 176.44 L247.19 176.2 L247.39 176.02 L247.59 176.44 L247.78 176.46 L247.98 177.21 L248.18 176.89 L248.38 177.59 L248.58 176.51 L248.78 177.56 L248.97 176.95 L249.17 176.04 L249.37 176.22 L249.57 176.94 L249.77 177.68 L249.97 176.54 L250.17 177.29 L250.36 176.67 L250.56 177.46 L250.76 176.02 L250.96 176.77 L251.16 177.52 L251.36 176.4 L251.56 176.36 L251.75 175.94 L251.95 176.2 L252.15 176.38 L252.35 177.17 L252.55 176.29 L252.75 176.62 L252.95 176.26 L253.14 176.99 L253.34 177.46 L253.54 177.07 L253.74 176.25 L253.94 177.22 L254.14 177.63 L254.33 176.98 L254.53 176.04 L254.73 177.36 L254.93 177.48 L255.13 176.51 L255.33 176.15 L255.53 176.24 L255.72 176.87 L255.92 177.48 L256.12 177.05 L256.32 177.56 L256.52 176.28 L256.72 176.49 L256.92 177.25 L257.11 177.07 L257.31 176.63 L257.51 177.12 L257.71 176.51 L257.91 176 L258.11 176.65 L258.3 175.98 L258.5 177.03 L258.7 176.5 L258.9 176.79 L259.1 176.98 L259.3 176.36 L259.5 176.73 L259.69 175.92 L259.89 177.57 L260.09 176.92 L260.29 177.68 L260.49 176 L260.69 177.01 L260.89 177.2 L261.08 176.49 L261.28 176.07 L261.48 176.18 L261.68 176.16 L261.88 177.28 L262.08 176.06 L262.27 177.37 L262.47 176.66 L262.67 176.87 L262.87 176.96 L263.07 176.9 L263.27 177.08 L263.47 176.98 L263.66 176.5 L263.86 177.23 L264.06 176.36 L264.26 177.18 L264.46 177.27 L264.66 177.3 L264.86 176.46 L265.05 177.29 L265.25 177.66 L265.45 176.72 L265.65 176.4 L265.85 176.84 L266.05 177.59 L266.24 176.14 L266.44 175.92 L266.64 176.76 L266.84 177.08 L267.04 177.29 L267.24 176.55 L267.44 177.68 L267.63 176.31 L267.83 177.26 L268.03 176.06 L268.23 175.95 L268.43 176.14 L268.63 176.01 L268.82 176.8 L269.02 176.9 L269.22 176.23 L269.42 177.59 L269.62 176.56 L269.82 176.17 L270.02 176.22 L270.21 177.23 L270.41 177.56 L270.61 176.19 L270.81 175.95 L271.01 177.3 L271.21 176.34 L271.41 177.67 L271.6 176.8 L271.8 177.05 L272 176.52 L272.2 177.34 L272.4 176.73 L272.6 176.48 L272.8 177.53 L272.99 176.09 L273.19 177.22 L273.39 176.02 L273.59 177.06 L273.79 176.62 L273.99 177.46 L274.18 176.01 L274.38 176.92 L274.58 176.64 L274.78 177.55 L274.98 177.6 L275.18 177.03 L275.38 176.3 L275.57 176.35 L275.77 176.37 L275.97 176.68 L276.17 176.32 L276.37 176.27 L276.57 177.27 L276.76 177.06 L276.96 176.44 L277.16 177.69 L277.36 176.29 L277.56 176.93 L277.76 176.18 L277.96 177.45 L278.15 177.46 L278.35 176.38 L278.55 177.25 L278.75 177.38 L278.95 176.41 L279.15 176.5 L279.35 176.77 L279.54 177.5 L279.74 176.19 L279.94 177.13 L280.14 176.98 L280.34 176.72 L280.54 176.94 L280.74 177.49 L280.93 176.28 L281.13 177.49 L281.33 176.55 L281.53 177.3 L281.73 177.45 L281.93 176.23 L282.12 177.46 L282.32 177.69 L282.52 176.44 L282.72 175.94 L282.92 176.1 L283.12 177.65 L283.32 175.92 L283.51 177.54 L283.71 176.17 L283.91 177.22 L284.11 176.08 L284.31 176.2 L284.51 177.13 L284.7 176.06 L284.9 176.51 L285.1 177.55 L285.3 177.19 L285.5 177.49 L285.7 177.66 L285.9 175.96 L286.09 176.32 L286.29 177.33 L286.49 177.14 L286.69 175.97 L286.89 176.81 L287.09 176.32 L287.29 176.67 L287.48 176.09 L287.68 175.94 L287.88 177.68 L288.08 176.47 L288.28 177.48 L288.48 176.12 L288.68 176.78 L288.87 176.14 L289.07 176.67 L289.27 176.22 L289.47 177.13 L289.67 176.17 L289.87 177.23 L290.06 176.8 L290.26 176.1 L290.46 176.54 L290.66 176.79 L290.86 177.55 L291.06 176.53 L291.26 176.29 L291.45 177.64 L291.65 177.49 L291.85 177.22 L292.05 176.39 L292.25 176.22 L292.45 176.38 L292.65 176.02 L292.84 175.98 L293.04 176.82 L293.24 176.63 L293.44 176.9 L293.64 176.55 L293.84 175.92 L294.03 177.14 L294.23 177.08 L294.43 176.88 L294.63 176.89 L294.83 177.14 L295.03 177.67 L295.23 177.47 L295.42 177.19 L295.62 176.62 L295.82 176.47 L296.02 176.65 L296.22 177.65 L296.42 176.6 L296.62 176.59 L296.81 176.64 L297.01 176.16 L297.21 177.7 L297.41 175.91 L297.61 176.99 L297.81 177.57 L298 176.36 L298.2 177 L298.4 176.58 L298.6 176.33 L298.8 176.26 L299 176.11 L299.2 177.42 L299.39 177.31 L299.59 177.54 L299.79 175.99 L299.99 177.15 L300.19 176.48 L300.39 177.06 L300.59 176.89 L300.78 176.47 L300.98 177.65 L301.18 175.9 L301.38 177.24 L301.58 177.44 L301.78 176.82 L301.97 176.97 L302.17 177.69 L302.37 176.32 L302.57 177.03 L302.77 177.24 L302.97 176.58 L303.17 177.18 L303.36 176.61 L303.56 176.85 L303.76 177 L303.96 177.12 L304.16 176.48 L304.36 177.03 L304.56 176.88 L304.75 176.3 L304.95 177 L305.15 176.38 L305.35 177.54 L305.55 176.75 L305.75 177.2 L305.94 176.84 L306.14 176.76 L306.34 176.3 L306.54 176.16 L306.74 177.57 L306.94 176.85 L307.14 176.84 L307.33 176.85 L307.53 177.36 L307.73 176.33 L307.93 176.21 L308.13 177.38 L308.33 176.73 L308.52 177.05 L308.72 177.39 L308.92 177.51 L309.12 177.46 L309.32 175.98 L309.52 176.59 L309.72 177.4 L309.91 177.37 L310.11 176.12 L310.31 176.18 L310.51 176.35 L310.71 176.09 L310.91 176.54 L311.11 177.35 L311.3 176.84 L311.5 176.72 L311.7 176.06 L311.9 176.61 L312.1 177.69 L312.3 177.15 L312.5 176.71 L312.69 176.76 L312.89 177.34 L313.09 177.27 L313.29 176.17 L313.49 177.12 L313.69 176.56 L313.88 176.84 L314.08 176.33 L314.28 176.57 L314.48 176.51 L314.68 176.59 L314.88 175.93 L315.08 176.26 L315.27 176.93 L315.47 176 L315.67 176.22 L315.87 177.19 L316.07 176.39 L316.27 176.48 L316.46 176.34 L316.66 177.4 L316.86 176.06 L317.06 177.05 L317.26 177.45 L317.46 176.26 L317.66 176.66 L317.85 177.33 L318.05 177.01 L318.25 176.57 L318.45 175.98 L318.65 176.7 L318.85 176.56 L319.05 177.18 L319.24 176.43 L319.44 176.63 L319.64 177.07 L319.84 177.36 L320.04 176.53 L320.24 176.59 L320.44 176.94 L320.63 177.56 L320.83 176.24 L321.03 177.65 L321.23 177.18 L321.43 176.57 L321.63 177.1 L321.82 176.49 L322.02 176.03 L322.22 177.26 L322.42 176.58 L322.62 176.85 L322.82 176.79 L323.02 177.52 L323.21 177.26 L323.41 175.95 L323.61 176.97 L323.81 176.73 L324.01 176.73 L324.21 177.41 L324.41 176.65 L324.6 176.75 L324.8 177.5 L325 176.69 L325.2 176.78 L325.4 176.82 L325.6 177.38 L325.79 177.11 L325.99 177.23 L326.19 176.62 L326.39 175.97 L326.59 177.12 L326.79 176.9 L326.99 177.28 L327.18 177.29 L327.38 176.11 L327.58 176.3 L327.78 176.04 L327.98 177.37 L328.18 176.08 L328.38 176.06 L328.57 177.26 L328.77 176.92 L328.97 176 L329.17 177.13 L329.37 177.18 L329.57 176.77 L329.76 176 L329.96 177.14 L330.16 176.65 L330.36 176.95 L330.56 177.7 L330.76 177.37 L330.96 177.47 L331.15 176.16 L331.35 176.5 L331.55 176.83 L331.75 175.91 L331.95 177.68 L332.15 176.39 L332.35 176.37 L332.54 176.46 L332.74 176.36 L332.94 177.45 L333.14 176.9 L333.34 176.82 L333.54 176.66 L333.73 175.99 L333.93 176.45 L334.13 177.46 L334.33 177.34 L334.53 177.44 L334.73 176.36 L334.93 176.26 L335.12 175.99 L335.32 176.87 L335.52 176.57 L335.72 176.74 L335.92 176.78 L336.12 176.95 L336.31 176.56 L336.51 177.34 L336.71 176.26 L336.91 177.55 L337.11 176.9 L337.31 175.99 L337.51 176.47 L337.7 176.86 L337.9 176.64 L338.1 176.92 L338.3 176.48" stroke="#1f8a1f" fill="none" stroke-width="1.3" />
<line x1="60.8" y1="161.1" x2="60.8" y2="166.9" stroke="#1f74dc" stroke-width="1.8" opacity="0.60"/>
<line x1="73.4" y1="161.1" x2="73.4" y2="166.9" stroke="#1f74dc" stroke-width="1.8" opacity="0.88"/>
<line x1="84.4" y1="161.1" x2="84.4" y2="166.9" stroke="#1f74dc" stroke-width="1.8" opacity="0.76"/>
<line x1="94.5" y1="161.1" x2="94.5" y2="166.9" stroke="#1f74dc" stroke-width="1.8" opacity="0.64"/>
<line x1="112.3" y1="161.1" x2="112.3" y2="166.9" stroke="#1f74dc" stroke-width="1.8" opacity="0.92"/>
<line x1="120.7" y1="161.1" x2="120.7" y2="166.9" stroke="#1f74dc" stroke-width="1.8" opacity="0.80"/>
<line x1="128.4" y1="161.1" x2="128.4" y2="166.9" stroke="#1f74dc" stroke-width="1.8" opacity="0.68"/>
<line x1="135.9" y1="161.1" x2="135.9" y2="166.9" stroke="#1f74dc" stroke-width="1.8" opacity="0.96"/>
<line x1="142.9" y1="161.1" x2="142.9" y2="166.9" stroke="#1f74dc" stroke-width="1.8" opacity="0.84"/>
<line x1="149.9" y1="161.1" x2="149.9" y2="166.9" stroke="#1f74dc" stroke-width="1.8" opacity="0.72"/>
<line x1="156.4" y1="161.1" x2="156.4" y2="166.9" stroke="#1f74dc" stroke-width="1.8" opacity="0.60"/>
<line x1="169.2" y1="161.1" x2="169.2" y2="166.9" stroke="#1f74dc" stroke-width="1.8" opacity="0.88"/>
<line x1="175.7" y1="161.1" x2="175.7" y2="166.9" stroke="#1f74dc" stroke-width="1.8" opacity="0.76"/>
<line x1="181.5" y1="161.1" x2="181.5" y2="166.9" stroke="#1f74dc" stroke-width="1.8" opacity="0.64"/>
<line x1="187.9" y1="161.1" x2="187.9" y2="166.9" stroke="#1f74dc" stroke-width="1.8" opacity="0.92"/>
<line x1="192.9" y1="161.1" x2="192.9" y2="166.9" stroke="#1f74dc" stroke-width="1.8" opacity="0.80"/>
<line x1="199" y1="161.1" x2="199" y2="166.9" stroke="#1f74dc" stroke-width="1.8" opacity="0.68"/>
<line x1="204.6" y1="161.1" x2="204.6" y2="166.9" stroke="#1f74dc" stroke-width="1.8" opacity="0.96"/>
<line x1="215.6" y1="161.1" x2="215.6" y2="166.9" stroke="#1f74dc" stroke-width="1.8" opacity="0.84"/>
<line x1="215.9" y1="161.1" x2="215.9" y2="166.9" stroke="#1f74dc" stroke-width="1.8" opacity="0.72"/>
<line x1="220.5" y1="161.1" x2="220.5" y2="166.9" stroke="#1f74dc" stroke-width="1.8" opacity="0.60"/>
<line x1="225" y1="161.1" x2="225" y2="166.9" stroke="#1f74dc" stroke-width="1.8" opacity="0.88"/>
<line x1="227.8" y1="161.1" x2="227.8" y2="166.9" stroke="#1f74dc" stroke-width="1.8" opacity="0.76"/>
<line x1="231.8" y1="161.1" x2="231.8" y2="166.9" stroke="#1f74dc" stroke-width="1.8" opacity="0.64"/>
<line x1="240.5" y1="161.1" x2="240.5" y2="166.9" stroke="#1f74dc" stroke-width="1.8" opacity="0.92"/>
<line x1="243.3" y1="161.1" x2="243.3" y2="166.9" stroke="#1f74dc" stroke-width="1.8" opacity="0.80"/>
<line x1="246.9" y1="161.1" x2="246.9" y2="166.9" stroke="#1f74dc" stroke-width="1.8" opacity="0.68"/>
<line x1="256.1" y1="161.1" x2="256.1" y2="166.9" stroke="#1f74dc" stroke-width="1.8" opacity="0.96"/>
<line x1="258.4" y1="161.1" x2="258.4" y2="166.9" stroke="#1f74dc" stroke-width="1.8" opacity="0.84"/>
<line x1="262.1" y1="161.1" x2="262.1" y2="166.9" stroke="#1f74dc" stroke-width="1.8" opacity="0.72"/>
<line x1="265.2" y1="161.1" x2="265.2" y2="166.9" stroke="#1f74dc" stroke-width="1.8" opacity="0.60"/>
<line x1="267.9" y1="161.1" x2="267.9" y2="166.9" stroke="#1f74dc" stroke-width="1.8" opacity="0.88"/>
<line x1="270.7" y1="161.1" x2="270.7" y2="166.9" stroke="#1f74dc" stroke-width="1.8" opacity="0.76"/>
<line x1="273.8" y1="161.1" x2="273.8" y2="166.9" stroke="#1f74dc" stroke-width="1.8" opacity="0.64"/>
<line x1="278" y1="161.1" x2="278" y2="166.9" stroke="#1f74dc" stroke-width="1.8" opacity="0.92"/>
<line x1="281.1" y1="161.1" x2="281.1" y2="166.9" stroke="#1f74dc" stroke-width="1.8" opacity="0.80"/>
<line x1="285.3" y1="161.1" x2="285.3" y2="166.9" stroke="#1f74dc" stroke-width="1.8" opacity="0.68"/>
<line x1="294.4" y1="161.1" x2="294.4" y2="166.9" stroke="#1f74dc" stroke-width="1.8" opacity="0.96"/>
<line x1="297.1" y1="161.1" x2="297.1" y2="166.9" stroke="#1f74dc" stroke-width="1.8" opacity="0.84"/>
<line x1="300.4" y1="161.1" x2="300.4" y2="166.9" stroke="#1f74dc" stroke-width="1.8" opacity="0.72"/>
<line x1="303.5" y1="161.1" x2="303.5" y2="166.9" stroke="#1f74dc" stroke-width="1.8" opacity="0.60"/>
<line x1="306.2" y1="161.1" x2="306.2" y2="166.9" stroke="#1f74dc" stroke-width="1.8" opacity="0.88"/>
<line x1="309" y1="161.1" x2="309" y2="166.9" stroke="#1f74dc" stroke-width="1.8" opacity="0.76"/>
<line x1="311.7" y1="161.1" x2="311.7" y2="166.9" stroke="#1f74dc" stroke-width="1.8" opacity="0.64"/>
<line x1="314.5" y1="161.1" x2="314.5" y2="166.9" stroke="#1f74dc" stroke-width="1.8" opacity="0.92"/>
<line x1="317.2" y1="161.1" x2="317.2" y2="166.9" stroke="#1f74dc" stroke-width="1.8" opacity="0.80"/>
<line x1="320.5" y1="161.1" x2="320.5" y2="166.9" stroke="#1f74dc" stroke-width="1.8" opacity="0.68"/>
<line x1="322.7" y1="161.1" x2="322.7" y2="166.9" stroke="#1f74dc" stroke-width="1.8" opacity="0.96"/>
<line x1="330.9" y1="161.1" x2="330.9" y2="166.9" stroke="#1f74dc" stroke-width="1.8" opacity="0.84"/>
<line x1="333.2" y1="161.1" x2="333.2" y2="166.9" stroke="#1f74dc" stroke-width="1.8" opacity="0.72"/>
<line x1="335.4" y1="161.1" x2="335.4" y2="166.9" stroke="#1f74dc" stroke-width="1.8" opacity="0.60"/>
<line x1="337.6" y1="161.1" x2="337.6" y2="166.9" stroke="#1f74dc" stroke-width="1.8" opacity="0.88"/>
<text x="27.8" y="23.5" font-size="13.3" text-anchor="start" fill="#000" font-weight="bold" >ME-PBSCC</text>
<text x="130.3" y="28.7" font-size="13.05" text-anchor="start" fill="#000" font-weight="bold" >R<tspan font-size="9.2" dy="3">p</tspan><tspan dy="-3"> = 2.41%</tspan></text>
<text x="130.3" y="48.1" font-size="13.05" text-anchor="start" fill="#000" font-weight="bold" >R<tspan font-size="9.2" dy="3">wp</tspan><tspan dy="-3"> = 3.05%</tspan></text>
<text x="131.3" y="69.1" font-size="13.05" text-anchor="start" fill="#000" font-weight="bold" ><tspan font-family="Liberation Serif" font-weight="bold" font-style="italic">χ</tspan><tspan font-size="9.2" dy="-5.5">2</tspan><tspan dy="5.5"> = 1.270</tspan></text>
<text x="251.5" y="22.3" font-size="13.35" text-anchor="start" fill="#000" font-weight="bold" >Observed</text>
<text x="251.5" y="39.17" font-size="13.35" text-anchor="start" fill="#000" font-weight="bold" >Calculated</text>
<text x="251.5" y="56.04" font-size="13.35" text-anchor="start" fill="#000" font-weight="bold" >Difference</text>
<text x="251.5" y="72.91" font-size="13.35" text-anchor="start" fill="#000" font-weight="bold" >P21/n</text>
<path d="M230.8 16.6 L234.8 20.6 M234.8 16.6 L230.8 20.6" stroke="#222" stroke-width="0.9"/>
<line x1="217.2" y1="34.7" x2="247.7" y2="34.7" stroke="#ff3cff" stroke-width="2" />
<line x1="217.2" y1="51.9" x2="247.7" y2="51.9" stroke="#6fbf6f" stroke-width="1.8" />
<line x1="232.5" y1="67.3" x2="232.5" y2="71.3" stroke="#5a9de8" stroke-width="1.1" />
<text x="347.6" y="15.6" font-size="20.5" text-anchor="start" fill="#000" font-weight="bold" >b</text>
<g clip-path="url(#temclip)">
<g filter="url(#grain)">
<rect x="366" y="1.2" width="311.6" height="220.20000000000002" fill="#383838"/>
<path d="M340 -20 L700 -20 L700 72 L556 67 L540 64 L500 58 L460 52 L419 42 L366 31 L340 29 Z" fill="#5e5e5e" filter="url(#blur3)"/>
<path d="M340 -20 L700 -20 L700 62 L556 57 L540 54 L500 48 L460 42 L420 32 L366 20 L340 18 Z" fill="#9a9a9a" filter="url(#blur1)"/>
<path d="M430 -20 L700 -20 L700 50 L560 46 L520 36 L480 26 L440 18 Z" fill="#a6a6a6" filter="url(#blur6)"/>
<path d="M366 -5 L400 -5 L395 12 L366 16 Z" fill="#808080" filter="url(#blur6)"/>
<path d="M420 24 C440 18 470 18 500 21 C520 23 535 28 545 36 L540 40 C525 32 495 28 465 28 C445 28 432 29 420 31 Z" fill="#b4b4b4" filter="url(#blur1)" opacity="0.6"/>
<path d="M366 28 L420 40 L460 50 L500 56 L540 62 L556 65" fill="none" stroke="#3a3a3a" stroke-width="4" filter="url(#blur1)" opacity="0.8"/>
<path d="M366 40 L420 50 L470 60 L556 72 L556 110 L366 105 Z" fill="#484848" filter="url(#blur10)" opacity="0.8"/>
<ellipse cx="508" cy="76" rx="14" ry="5" fill="#2a2a2a" filter="url(#blur3)"/>
<ellipse cx="395" cy="150" rx="30" ry="25" fill="#363636" filter="url(#blur10)"/>
<ellipse cx="445" cy="175" rx="45" ry="35" fill="#4a4a4a" filter="url(#blur10)" opacity="0.8"/>
<rect x="360" y="60" width="16" height="170" fill="#333" filter="url(#blur6)" opacity="0.7"/>
<path d="M366 32 L419 43 L460 53 L500 59 L540 65 L700 70 L700 230 L366 230 Z" fill="url(#lat)"/>
</g>
<path d="M340 -20 L700 -20 L700 60 L556 55 L540 52 L500 46 L460 40 L420 30 L366 18 L340 16 Z" fill="#fff" filter="url(#speck)" opacity="0.55"/>
</g>
<g clip-path="url(#hrclip)"><g filter="url(#grain2)">
<rect x="555" y="2" width="123" height="124" fill="url(#fringe)"/>
</g></g>
<rect x="554.3" y="1.1" width="124.6" height="124.5" fill="none" stroke="#ffff00" stroke-width="2.5"/>
<path d="M613.5 15.8 L659.5 32.7 L640.3 87.4 L593 70.3 Z" stroke="#ff0000" fill="none" stroke-width="2.4" stroke-linejoin="miter"/>
<text x="568.4" y="14.3" font-size="12.6" text-anchor="start" fill="#fff" font-weight="bold" textLength="7.2" lengthAdjust="spacingAndGlyphs">d</text>
<text x="576.6" y="17.9" font-size="8.8" text-anchor="start" fill="#fff" font-weight="normal" textLength="20" lengthAdjust="spacingAndGlyphs" stroke="#fff" stroke-width="0.35">(021)</text>
<line x1="584.8" y1="9.6" x2="588.6" y2="9.6" stroke="#fff" stroke-width="0.9" />
<text x="598" y="14.6" font-size="12.6" text-anchor="start" fill="#fff" font-weight="bold" textLength="73" lengthAdjust="spacingAndGlyphs">=0.2592 nm</text>
<text x="563.6" y="113.8" font-size="13.3" text-anchor="start" fill="#fff" font-weight="bold" >2 nm</text>
<rect x="561.1" y="117.9" width="38.6" height="2.5" fill="#fff"/>
<rect x="419.3" y="48.2" width="47.3" height="49" fill="none" stroke="#ffff00" stroke-width="2.1"/>
<path d="M476.8 76.4 C484 84 496 88 511 88 C518 88 524 86.5 528.3 84.9 L523.6 81.1 L545 78.9 L541.7 95.4 L537 90.4 C530 93 523 95 512 95 C500 95 488 91 476.8 76.4 Z" fill="none" stroke="#ffff00" stroke-width="1.7" stroke-linejoin="miter"/>
<text x="381.6" y="206" font-size="12.8" text-anchor="start" fill="#fff" font-weight="bold" >5 nm</text>
<rect x="379" y="209.3" width="34.8" height="2.5" fill="#fff"/>
<rect x="494.1" y="129.7" width="183.10000000000002" height="62.60000000000002" fill="#e6e6e6"/>
<line x1="494.1" y1="138.4" x2="677.2" y2="138.4" stroke="#7fe6ee" stroke-width="0.9" />
<line x1="494.1" y1="147.3" x2="677.2" y2="147.3" stroke="#7fe6ee" stroke-width="0.9" />
<line x1="494.1" y1="156.4" x2="677.2" y2="156.4" stroke="#7fe6ee" stroke-width="0.9" />
<line x1="494.1" y1="165.4" x2="677.2" y2="165.4" stroke="#7fe6ee" stroke-width="0.9" />
<line x1="494.1" y1="174.6" x2="677.2" y2="174.6" stroke="#7fe6ee" stroke-width="0.9" />
<line x1="494.1" y1="183.4" x2="677.2" y2="183.4" stroke="#7fe6ee" stroke-width="0.9" />
<line x1="495.1" y1="129.7" x2="495.1" y2="192.3" stroke="#7fe6ee" stroke-width="0.9" />
<line x1="524.6" y1="129.7" x2="524.6" y2="192.3" stroke="#7fe6ee" stroke-width="0.9" />
<line x1="553.8" y1="129.7" x2="553.8" y2="192.3" stroke="#7fe6ee" stroke-width="0.9" />
<line x1="583" y1="129.7" x2="583" y2="192.3" stroke="#7fe6ee" stroke-width="0.9" />
<line x1="611.6" y1="129.7" x2="611.6" y2="192.3" stroke="#7fe6ee" stroke-width="0.9" />
<line x1="640.8" y1="129.7" x2="640.8" y2="192.3" stroke="#7fe6ee" stroke-width="0.9" />
<line x1="670" y1="129.7" x2="670" y2="192.3" stroke="#7fe6ee" stroke-width="0.9" />
<path d="M494.1 192.3 L494.1 150 L493.9 146.2 L494.5 145.4 L495.1 146.2 L500.65 182 L501.85 183.46 L503.05 182 L508.6 138.9 L509.2 138.1 L509.8 138.9 L515.5 182 L516.7 184.13 L517.9 182 L523.6 136.8 L524.2 136 L524.8 136.8 L530.45 182 L531.65 183.48 L532.85 182 L538.5 137.2 L539.1 136.4 L539.7 137.2 L545.45 182 L546.65 184.02 L547.85 182 L553.6 139.7 L554.2 138.9 L554.8 139.7 L560.7 182 L561.9 184.14 L563.1 182 L569 143.3 L569.6 142.5 L570.2 143.3 L575.8 182 L577 183.87 L578.2 182 L583.8 145.5 L584.4 144.7 L585 145.5 L591.1 182 L592.3 183.69 L593.5 182 L599.6 149.9 L600.2 149.1 L600.8 149.9 L606.35 182 L607.55 184.32 L608.75 182 L614.3 147.4 L614.9 146.6 L615.5 147.4 L621.25 182 L622.45 183.68 L623.65 182 L629.4 144 L630 143.2 L630.6 144 L636.3 182 L637.5 184.24 L638.7 182 L644.4 150.6 L645 149.8 L645.6 150.6 L651.5 182 L652.7 183.18 L653.9 182 L659.8 148.3 L660.4 147.5 L661 148.3 L666.9 182 L668.1 183.66 L669.3 182 L675.2 143.6 L675.8 142.8 L676.4 143.6 L677.2 146 L677.2 192.3 Z" stroke="none" fill="#5bbcbc" stroke-width="1" />
<rect x="494.1" y="192.1" width="184.40000000000003" height="2" fill="#ee1111"/>
<line x1="524.6" y1="194" x2="524.6" y2="195.2" stroke="#ee1111" stroke-width="0.8" />
<line x1="553.8" y1="194" x2="553.8" y2="195.2" stroke="#ee1111" stroke-width="0.8" />
<line x1="583" y1="194" x2="583" y2="195.2" stroke="#ee1111" stroke-width="0.8" />
<line x1="611.6" y1="194" x2="611.6" y2="195.2" stroke="#ee1111" stroke-width="0.8" />
<line x1="640.8" y1="194" x2="640.8" y2="195.2" stroke="#ee1111" stroke-width="0.8" />
<line x1="670" y1="194" x2="670" y2="195.2" stroke="#ee1111" stroke-width="0.8" />
<rect x="676.8000000000001" y="129.7" width="1.6" height="62.60000000000002" fill="#c8c8c8"/>
<line x1="509.5" y1="138.1" x2="509.5" y2="157.4" stroke="#000" stroke-width="1.4" />
<line x1="660.6" y1="138.1" x2="660.6" y2="157.4" stroke="#000" stroke-width="1.4" />
<line x1="511" y1="147.9" x2="658.8" y2="147.9" stroke="#000" stroke-width="1.4" />
<path d="M510.8 147.9 L518.5 144.3 L516.8 147.9 L518.5 151.5 Z" stroke="none" fill="#000" stroke-width="1" />
<path d="M659.2 147.9 L651.5 144.3 L653.2 147.9 L651.5 151.5 Z" stroke="none" fill="#000" stroke-width="1" />
<text x="557.5" y="144.4" font-size="12.4" text-anchor="start" fill="#000" font-weight="bold" >2.592 nm</text>
<text x="495.6" y="205" font-size="12.2" text-anchor="middle" fill="#fff" font-weight="bold" >0.0</text>
<text x="554.1" y="205" font-size="12.2" text-anchor="middle" fill="#fff" font-weight="bold" >1.0</text>
<text x="612.8" y="205" font-size="12.2" text-anchor="middle" fill="#fff" font-weight="bold" >2.0</text>
<text x="669" y="205" font-size="12.2" text-anchor="middle" fill="#fff" font-weight="bold" >3.0</text>
<text x="583.5" y="218.4" font-size="12.5" text-anchor="middle" fill="#fff" font-weight="bold" >Position, nm</text>
<text x="0" y="0" font-size="12.5" text-anchor="middle" fill="#fff" font-weight="bold" transform="translate(487 159.2) rotate(-90)">Intensity, a.u.</text>
<text x="-0.5" y="248.5" font-size="20.5" text-anchor="start" fill="#000" font-weight="bold" >c</text>
<rect x="20.8" y="238" width="367.2" height="180.8" fill="#000"/>
<rect x="110.8" y="238" width="2.3" height="180.8" fill="#fff"/>
<rect x="203.0" y="238" width="2.3" height="180.8" fill="#fff"/>
<rect x="295.3" y="238" width="2.3" height="180.8" fill="#fff"/>
<rect x="20.8" y="327.3" width="367.2" height="2.2" fill="#fff"/>
<clipPath id="tc0"><rect x="20.8" y="238.0" width="90.0" height="89.3"/></clipPath>
<g clip-path="url(#tc0)">
<g>
<path d="M37.5 253.1 L46.9 251.1 L55.6 253.8 L60.3 255.8 L68.4 252.5 L83.2 246.4 L96 260.5 L98 272 L98.7 290.8 L92.6 298.9 L79.2 304.3 L60.3 310.3 L48.9 306.9 L44.9 294.8 L43.5 282.7 L35.5 277.3 L31.4 270 L31.4 262.6 L34.1 255.8 Z" fill="#cdcdcd" filter="url(#blur1)"/>
<path d="M47.16 260.08 L54.68 258.48 L61.64 260.64 L65.4 262.24 L71.88 259.6 L83.72 254.72 L93.96 266 L95.56 275.2 L96.12 290.24 L91.24 296.72 L80.52 301.04 L65.4 305.84 L56.28 303.12 L53.08 293.44 L51.96 283.76 L45.56 279.44 L42.28 273.6 L42.28 267.68 L44.44 262.24 Z" fill="#f2f2f2" filter="url(#blur3)"/>
<path d="M32.8 260 L54.8 254 L60.8 278 L40.8 280 Z" fill="#d6d6d6" filter="url(#blur3)" opacity="0.7"/>
<path d="M72.8 304 L80.8 302 L78.8 312 Z" fill="#555" filter="url(#blur1)"/>
<path d="M92.8 296 L98.8 289 L96.8 300 Z" fill="#555" filter="url(#blur1)"/>
<path d="M58.8 254 L66.8 252 L63.8 257 Z" fill="#444" filter="url(#blur1)"/>
</g>
</g>
<text x="23.6" y="251.1" font-size="13.3" text-anchor="start" fill="#fff" font-weight="bold" >HAADF</text>
<text x="25.2" y="319.7" font-size="12.0" text-anchor="start" fill="#fff" font-weight="bold" >200 nm</text>
<rect x="31" y="322.4" width="22.6" height="2.7" fill="#fff"/>
<clipPath id="tc1"><rect x="113.1" y="238.0" width="90.0" height="89.3"/></clipPath>
<g clip-path="url(#tc1)">
<g filter="url(#spkA)">
<path d="M129.8 253.1 L139.2 251.1 L147.9 253.8 L152.6 255.8 L160.7 252.5 L175.5 246.4 L188.3 260.5 L190.3 272 L191 290.8 L184.9 298.9 L171.5 304.3 L152.6 310.3 L141.2 306.9 L137.2 294.8 L135.8 282.7 L127.8 277.3 L123.7 270 L123.7 262.6 L126.4 255.8 Z" fill="#c0aca2" filter="url(#blur1)"/>
<path d="M139.46 260.08 L146.98 258.48 L153.94 260.64 L157.7 262.24 L164.18 259.6 L176.02 254.72 L186.26 266 L187.86 275.2 L188.42 290.24 L183.54 296.72 L172.82 301.04 L157.7 305.84 L148.58 303.12 L145.38 293.44 L144.26 283.76 L137.86 279.44 L134.58 273.6 L134.58 267.68 L136.74 262.24 Z" fill="#e4d8ca" filter="url(#blur3)"/>
<path d="M125.1 260 L147.1 254 L153.1 278 L133.1 280 Z" fill="#c8b8ae" filter="url(#blur3)" opacity="0.7"/>
<path d="M165.1 304 L173.1 302 L171.1 312 Z" fill="#555" filter="url(#blur1)"/>
<path d="M185.1 296 L191.1 289 L189.1 300 Z" fill="#555" filter="url(#blur1)"/>
<path d="M151.1 254 L159.1 252 L156.1 257 Z" fill="#444" filter="url(#blur1)"/>
</g>
</g>
<text x="200.4" y="251.3" font-size="13.3" text-anchor="end" fill="#fff" font-weight="bold" >All</text>
<text x="117.5" y="319.7" font-size="12.0" text-anchor="start" fill="#fff" font-weight="bold" >200 nm</text>
<rect x="123.3" y="322.4" width="22.6" height="2.7" fill="#fff"/>
<clipPath id="tc2"><rect x="205.5" y="238.0" width="90.0" height="89.3"/></clipPath>
<g clip-path="url(#tc2)">
<path d="M222.2 253.1 L231.6 251.1 L240.3 253.8 L245 255.8 L253.1 252.5 L267.9 246.4 L280.7 260.5 L282.7 272 L283.4 290.8 L277.3 298.9 L263.9 304.3 L245 310.3 L233.6 306.9 L229.6 294.8 L228.2 282.7 L220.2 277.3 L216.1 270 L216.1 262.6 L218.8 255.8 Z" fill="#105454" filter="url(#spk2)"/>
<path d="M237.19 273.06 L243.77 271.86 L249.86 273.48 L253.15 274.68 L258.82 272.7 L269.18 269.04 L278.14 277.5 L279.54 284.4 L280.03 295.68 L275.76 300.54 L266.38 303.78 L253.15 307.38 L245.17 305.34 L242.37 298.08 L241.39 290.82 L235.79 287.58 L232.92 283.2 L232.92 278.76 L234.81 274.68 Z" fill="#105454" filter="url(#spk2)" opacity="0.3"/>
<path d="M213.5 258 L241.5 248 L247.5 278 L219.5 282 Z" fill="#000" filter="url(#blur3)" opacity="0.3"/>
<rect x="205.5" y="238.0" width="90.0" height="89.3" fill="#105454" filter="url(#bgspk2)" opacity="0.3"/>
</g>
<text x="292.8" y="251.3" font-size="13.3" text-anchor="end" fill="#17a0a4" font-weight="bold" >Pr</text>
<text x="209.9" y="319.7" font-size="12.0" text-anchor="start" fill="#fff" font-weight="bold" >200 nm</text>
<rect x="215.7" y="322.4" width="22.6" height="2.7" fill="#fff"/>
<clipPath id="tc3"><rect x="298.0" y="238.0" width="90.0" height="89.3"/></clipPath>
<g clip-path="url(#tc3)">
<path d="M314.7 253.1 L324.1 251.1 L332.8 253.8 L337.5 255.8 L345.6 252.5 L360.4 246.4 L373.2 260.5 L375.2 272 L375.9 290.8 L369.8 298.9 L356.4 304.3 L337.5 310.3 L326.1 306.9 L322.1 294.8 L320.7 282.7 L312.7 277.3 L308.6 270 L308.6 262.6 L311.3 255.8 Z" fill="#500909" filter="url(#spk3)"/>
<path d="M329.69 273.06 L336.27 271.86 L342.36 273.48 L345.65 274.68 L351.32 272.7 L361.68 269.04 L370.64 277.5 L372.04 284.4 L372.53 295.68 L368.26 300.54 L358.88 303.78 L345.65 307.38 L337.67 305.34 L334.87 298.08 L333.89 290.82 L328.29 287.58 L325.42 283.2 L325.42 278.76 L327.31 274.68 Z" fill="#500909" filter="url(#spk3)" opacity="0.3"/>
<path d="M306 258 L334 248 L340 278 L312 282 Z" fill="#000" filter="url(#blur3)" opacity="0.3"/>
<rect x="298.0" y="238.0" width="90.0" height="89.3" fill="#500909" filter="url(#bgspk0)" opacity="0.3"/>
</g>
<text x="385.3" y="251.3" font-size="13.3" text-anchor="end" fill="#b41414" font-weight="bold" >Ba</text>
<text x="302.4" y="319.7" font-size="12.0" text-anchor="start" fill="#fff" font-weight="bold" >200 nm</text>
<rect x="308.2" y="322.4" width="22.6" height="2.7" fill="#fff"/>
<clipPath id="tc4"><rect x="20.8" y="329.5" width="90.0" height="89.3"/></clipPath>
<g clip-path="url(#tc4)">
<path d="M37.5 344.6 L46.9 342.6 L55.6 345.3 L60.3 347.3 L68.4 344 L83.2 337.9 L96 352 L98 363.5 L98.7 382.3 L92.6 390.4 L79.2 395.8 L60.3 401.8 L48.9 398.4 L44.9 386.3 L43.5 374.2 L35.5 368.8 L31.4 361.5 L31.4 354.1 L34.1 347.3 Z" fill="#093809" filter="url(#spk4)"/>
<path d="M52.49 364.56 L59.07 363.36 L65.16 364.98 L68.45 366.18 L74.12 364.2 L84.48 360.54 L93.44 369 L94.84 375.9 L95.33 387.18 L91.06 392.04 L81.68 395.28 L68.45 398.88 L60.47 396.84 L57.67 389.58 L56.69 382.32 L51.09 379.08 L48.22 374.7 L48.22 370.26 L50.11 366.18 Z" fill="#093809" filter="url(#spk4)" opacity="0.3"/>
<path d="M28.8 349.5 L56.8 339.5 L62.8 369.5 L34.8 373.5 Z" fill="#000" filter="url(#blur3)" opacity="0.3"/>
<rect x="20.8" y="329.5" width="90.0" height="89.3" fill="#093809" filter="url(#bgspk1)" opacity="0.3"/>
</g>
<text x="108.1" y="342.8" font-size="13.3" text-anchor="end" fill="#138c13" font-weight="bold" >Sr</text>
<text x="25.2" y="411.2" font-size="12.0" text-anchor="start" fill="#fff" font-weight="bold" >200 nm</text>
<rect x="31" y="413.9" width="22.6" height="2.7" fill="#fff"/>
<clipPath id="tc5"><rect x="113.1" y="329.5" width="90.0" height="89.3"/></clipPath>
<g clip-path="url(#tc5)">
<path d="M129.8 344.6 L139.2 342.6 L147.9 345.3 L152.6 347.3 L160.7 344 L175.5 337.9 L188.3 352 L190.3 363.5 L191 382.3 L184.9 390.4 L171.5 395.8 L152.6 401.8 L141.2 398.4 L137.2 386.3 L135.8 374.2 L127.8 368.8 L123.7 361.5 L123.7 354.1 L126.4 347.3 Z" fill="#382607" filter="url(#spk5)"/>
<path d="M144.79 364.56 L151.37 363.36 L157.46 364.98 L160.75 366.18 L166.42 364.2 L176.78 360.54 L185.74 369 L187.14 375.9 L187.63 387.18 L183.36 392.04 L173.98 395.28 L160.75 398.88 L152.77 396.84 L149.97 389.58 L148.99 382.32 L143.39 379.08 L140.52 374.7 L140.52 370.26 L142.41 366.18 Z" fill="#382607" filter="url(#spk5)" opacity="0.3"/>
<path d="M121.1 349.5 L149.1 339.5 L155.1 369.5 L127.1 373.5 Z" fill="#000" filter="url(#blur3)" opacity="0.3"/>
<rect x="113.1" y="329.5" width="90.0" height="89.3" fill="#382607" filter="url(#bgspk2)" opacity="0.3"/>
</g>
<text x="200.4" y="342.8" font-size="13.3" text-anchor="end" fill="#a06e16" font-weight="bold" >Ca</text>
<text x="117.5" y="411.2" font-size="12.0" text-anchor="start" fill="#fff" font-weight="bold" >200 nm</text>
<rect x="123.3" y="413.9" width="22.6" height="2.7" fill="#fff"/>
<clipPath id="tc6"><rect x="205.5" y="329.5" width="90.0" height="89.3"/></clipPath>
<g clip-path="url(#tc6)">
<path d="M222.2 344.6 L231.6 342.6 L240.3 345.3 L245 347.3 L253.1 344 L267.9 337.9 L280.7 352 L282.7 363.5 L283.4 382.3 L277.3 390.4 L263.9 395.8 L245 401.8 L233.6 398.4 L229.6 386.3 L228.2 374.2 L220.2 368.8 L216.1 361.5 L216.1 354.1 L218.8 347.3 Z" fill="#6e6810" filter="url(#spk6)"/>
<path d="M237.19 364.56 L243.77 363.36 L249.86 364.98 L253.15 366.18 L258.82 364.2 L269.18 360.54 L278.14 369 L279.54 375.9 L280.03 387.18 L275.76 392.04 L266.38 395.28 L253.15 398.88 L245.17 396.84 L242.37 389.58 L241.39 382.32 L235.79 379.08 L232.92 374.7 L232.92 370.26 L234.81 366.18 Z" fill="#6e6810" filter="url(#spk6)" opacity="0.3"/>
<path d="M213.5 349.5 L241.5 339.5 L247.5 369.5 L219.5 373.5 Z" fill="#000" filter="url(#blur3)" opacity="0.3"/>
<rect x="205.5" y="329.5" width="90.0" height="89.3" fill="#6e6810" filter="url(#bgspk0)" opacity="0.3"/>
</g>
<text x="292.8" y="342.8" font-size="13.3" text-anchor="end" fill="#bcac1a" font-weight="bold" >Co</text>
<text x="209.9" y="411.2" font-size="12.0" text-anchor="start" fill="#fff" font-weight="bold" >200 nm</text>
<rect x="215.7" y="413.9" width="22.6" height="2.7" fill="#fff"/>
<clipPath id="tc7"><rect x="298.0" y="329.5" width="90.0" height="89.3"/></clipPath>
<g clip-path="url(#tc7)">
<path d="M314.7 344.6 L324.1 342.6 L332.8 345.3 L337.5 347.3 L345.6 344 L360.4 337.9 L373.2 352 L375.2 363.5 L375.9 382.3 L369.8 390.4 L356.4 395.8 L337.5 401.8 L326.1 398.4 L322.1 386.3 L320.7 374.2 L312.7 368.8 L308.6 361.5 L308.6 354.1 L311.3 347.3 Z" fill="#681368" filter="url(#spk7)"/>
<path d="M329.69 364.56 L336.27 363.36 L342.36 364.98 L345.65 366.18 L351.32 364.2 L361.68 360.54 L370.64 369 L372.04 375.9 L372.53 387.18 L368.26 392.04 L358.88 395.28 L345.65 398.88 L337.67 396.84 L334.87 389.58 L333.89 382.32 L328.29 379.08 L325.42 374.7 L325.42 370.26 L327.31 366.18 Z" fill="#681368" filter="url(#spk7)" opacity="0.3"/>
<path d="M306 349.5 L334 339.5 L340 369.5 L312 373.5 Z" fill="#000" filter="url(#blur3)" opacity="0.3"/>
<rect x="298.0" y="329.5" width="90.0" height="89.3" fill="#681368" filter="url(#bgspk1)" opacity="0.3"/>
</g>
<text x="385.3" y="342.8" font-size="13.3" text-anchor="end" fill="#a814ac" font-weight="bold" >O</text>
<text x="302.4" y="411.2" font-size="12.0" text-anchor="start" fill="#fff" font-weight="bold" >200 nm</text>
<rect x="308.2" y="413.9" width="22.6" height="2.7" fill="#fff"/>
<text x="396.6" y="248.3" font-size="20.5" text-anchor="start" fill="#000" font-weight="bold" >d</text>
<path d="M448.6 409.7 L448.6 409.4 L448.85 409.26 L449.1 409.19 L449.35 409.02 L449.6 405.32 L449.85 400.91 L450.1 389.47 L450.35 365.53 L450.6 360.65 L450.85 369.84 L451.1 383.53 L451.35 395.65 L451.6 384.69 L451.85 391.95 L452.1 396.43 L452.35 399.28 L452.6 386.94 L452.85 391.3 L453.1 364.82 L453.35 322.72 L453.6 279.91 L453.85 256.34 L454.1 275.3 L454.35 325.53 L454.6 361.39 L454.85 377.18 L455.1 378.45 L455.35 380.77 L455.6 384.75 L455.85 382.07 L456.1 375.09 L456.35 355.14 L456.6 341.63 L456.85 337.9 L457.1 352.51 L457.35 363.1 L457.6 374.46 L457.85 364.16 L458.1 366.95 L458.35 368.69 L458.6 380.44 L458.85 376.29 L459.1 382.77 L459.35 390.31 L459.6 397.02 L459.85 406.69 L460.1 404.61 L460.35 404.26 L460.6 404.92 L460.85 404.18 L461.1 404.6 L461.35 404.85 L461.6 404.81 L461.85 404.94 L462.1 405.03 L462.35 404.91 L462.6 404.24 L462.85 403.84 L463.1 404.82 L463.35 404.93 L463.6 403.78 L463.85 404.3 L464.1 404.44 L464.35 404.62 L464.6 404.18 L464.85 403.88 L465.1 404.32 L465.35 404.35 L465.6 404.78 L465.85 403.74 L466.1 404.8 L466.35 404.24 L466.6 403.8 L466.85 404.5 L467.1 403.2 L467.35 401.22 L467.6 397.8 L467.85 391.5 L468.1 385.57 L468.35 381.03 L468.6 382.07 L468.85 385.92 L469.1 392.44 L469.35 397.12 L469.6 399.8 L469.85 402.05 L470.1 403.07 L470.35 404.27 L470.6 404.46 L470.85 404.26 L471.1 404.61 L471.35 404.88 L471.6 404.78 L471.85 405.13 L472.1 404.89 L472.35 404.2 L472.6 404.28 L472.85 404.72 L473.1 404.92 L473.35 405.16 L473.6 405.51 L473.85 405.34 L474.1 404.78 L474.35 404.72 L474.6 405.38 L474.85 404.92 L475.1 404.99 L475.35 405.14 L475.6 405.23 L475.85 405.17 L476.1 405.7 L476.35 405.34 L476.6 405.91 L476.85 405.72 L477.1 405.43 L477.35 405.58 L477.6 406.11 L477.85 405.38 L478.1 405.79 L478.35 405.93 L478.6 406.66 L478.85 406.07 L479.1 406.48 L479.35 406.03 L479.6 406.33 L479.85 405.95 L480.1 406.21 L480.35 406.08 L480.6 406.67 L480.85 406.36 L481.1 406.29 L481.35 406.23 L481.6 406.85 L481.85 406.3 L482.1 406.31 L482.35 406.58 L482.6 406.27 L482.85 406.34 L483.1 406.9 L483.35 406.93 L483.6 407.41 L483.85 406.64 L484.1 406.55 L484.35 407.14 L484.6 406.92 L484.85 406.92 L485.1 406.94 L485.35 407.64 L485.6 406.94 L485.85 407.21 L486.1 407.14 L486.35 407.46 L486.6 407.24 L486.85 407.09 L487.1 407.28 L487.35 407.21 L487.6 408.06 L487.85 407.93 L488.1 407.61 L488.35 407.36 L488.6 407.85 L488.85 407.13 L489.1 406.75 L489.35 406.47 L489.6 404.17 L489.85 401.98 L490.1 399.55 L490.35 397.65 L490.6 397.26 L490.85 398.98 L491.1 401.55 L491.35 404.35 L491.6 405.8 L491.85 407.07 L492.1 407.36 L492.35 407.61 L492.6 408.1 L492.85 407.29 L493.1 408.3 L493.35 407.61 L493.6 407.4 L493.85 406.73 L494.1 406.54 L494.35 405.3 L494.6 405.83 L494.85 406.56 L495.1 406.41 L495.35 407.58 L495.6 407.45 L495.85 407.95 L496.1 407.78 L496.35 407.37 L496.6 407.53 L496.85 407.93 L497.1 407.18 L497.35 406.7 L497.6 405.59 L497.85 403.31 L498.1 399.05 L498.35 394.76 L498.6 390.53 L498.85 388.68 L499.1 389.93 L499.35 393.38 L499.6 397 L499.85 402.15 L500.1 405.07 L500.35 406.38 L500.6 407.27 L500.85 408.25 L501.1 407.81 L501.35 407.51 L501.6 408.06 L501.85 407.74 L502.1 407.38 L502.35 406.05 L502.6 403.11 L502.85 400.85 L503.1 396.85 L503.35 394.23 L503.6 393.43 L503.85 394.36 L504.1 394.85 L504.35 395.94 L504.6 393.91 L504.85 388.44 L505.1 379.46 L505.35 371.86 L505.6 367.15 L505.85 367.3 L506.1 373.17 L506.35 380.64 L506.6 388.64 L506.85 394.62 L507.1 397.76 L507.35 400.23 L507.6 403.29 L507.85 404.54 L508.1 406.36 L508.35 406.54 L508.6 407.14 L508.85 407.62 L509.1 406.76 L509.35 405.13 L509.6 401.19 L509.85 397.94 L510.1 392.89 L510.35 388.9 L510.6 386.36 L510.85 386.68 L511.1 389.31 L511.35 394.42 L511.6 398.28 L511.85 402.73 L512.1 405.15 L512.35 406.99 L512.6 407.84 L512.85 407.88 L513.1 408.02 L513.35 408.01 L513.6 407.18 L513.85 406.68 L514.1 406.28 L514.35 404.65 L514.6 402.97 L514.85 401.32 L515.1 400.93 L515.35 401.77 L515.6 403.51 L515.85 404.03 L516.1 405.83 L516.35 406.72 L516.6 407.25 L516.85 407.73 L517.1 408.1 L517.35 407.66 L517.6 408.32 L517.85 408.31 L518.1 407.73 L518.35 408.45 L518.6 408.17 L518.85 407.22 L519.1 407.63 L519.35 406 L519.6 405.37 L519.85 404.97 L520.1 404.75 L520.35 404.2 L520.6 404.53 L520.85 406.2 L521.1 406.6 L521.35 407.19 L521.6 407.72 L521.85 408.2 L522.1 408.55 L522.35 408.09 L522.6 407.85 L522.85 408.75 L523.1 408.56 L523.35 407.85 L523.6 407.89 L523.85 408.04 L524.1 408.79 L524.35 407.9 L524.6 407.47 L524.85 407.12 L525.1 406.73 L525.35 406 L525.6 402.21 L525.85 398.19 L526.1 390.44 L526.35 380.29 L526.6 368.91 L526.85 357.58 L527.1 347.21 L527.35 340.34 L527.6 340.68 L527.85 345.22 L528.1 355 L528.35 367.14 L528.6 378.48 L528.85 389.42 L529.1 397.1 L529.35 402.01 L529.6 405.56 L529.85 407.31 L530.1 407.55 L530.35 407.74 L530.6 407.74 L530.85 408.7 L531.1 408.36 L531.35 408.51 L531.6 408.17 L531.85 408.3 L532.1 407.76 L532.35 408.44 L532.6 408.8 L532.85 407.98 L533.1 408.52 L533.35 407.7 L533.6 407.41 L533.85 406.16 L534.1 405.45 L534.35 403.82 L534.6 402.41 L534.85 400.16 L535.1 398.91 L535.35 397.34 L535.6 397.53 L535.85 398.8 L536.1 400.19 L536.35 401.9 L536.6 403.33 L536.85 405.58 L537.1 406.07 L537.35 406.72 L537.6 407.34 L537.85 405.72 L538.1 404.28 L538.35 400.32 L538.6 393.42 L538.85 384.6 L539.1 371.68 L539.35 357.92 L539.6 343.49 L539.85 330.28 L540.1 323.01 L540.35 320.16 L540.6 325.6 L540.85 335.72 L541.1 348.49 L541.35 363.55 L541.6 377.66 L541.85 388.83 L542.1 395.87 L542.35 401.58 L542.6 404.61 L542.85 407.2 L543.1 407.51 L543.35 408.25 L543.6 408.57 L543.85 408.52 L544.1 408.21 L544.35 408.54 L544.6 408.5 L544.85 408.8 L545.1 407.97 L545.35 408.19 L545.6 408 L545.85 408.45 L546.1 407.94 L546.35 408.33 L546.6 408.21 L546.85 408.17 L547.1 407.83 L547.35 407.99 L547.6 407.88 L547.85 407.2 L548.1 405.85 L548.35 404.48 L548.6 401.48 L548.85 399.73 L549.1 397.17 L549.35 396.21 L549.6 394.44 L549.85 393.64 L550.1 394.64 L550.35 396.38 L550.6 398.4 L550.85 401.11 L551.1 403.2 L551.35 405.03 L551.6 406.17 L551.85 407.14 L552.1 407.18 L552.35 408.43 L552.6 408.51 L552.85 408.59 L553.1 408.78 L553.35 408.65 L553.6 408.72 L553.85 408.43 L554.1 408.97 L554.35 407.9 L554.6 408.57 L554.85 407.88 L555.1 408.18 L555.35 408.2 L555.6 408.45 L555.85 407.88 L556.1 408.87 L556.35 408.21 L556.6 408.67 L556.85 408.21 L557.1 408.14 L557.35 408.83 L557.6 408.78 L557.85 408.99 L558.1 408.75 L558.35 408.93 L558.6 408.54 L558.85 407.86 L559.1 408.59 L559.35 408.65 L559.6 408.47 L559.85 408.69 L560.1 408.15 L560.35 408.17 L560.6 408.84 L560.85 408.75 L561.1 408.23 L561.35 407.9 L561.6 408.26 L561.85 408.52 L562.1 407.87 L562.35 409.03 L562.6 408.97 L562.85 408.1 L563.1 408.55 L563.35 408.99 L563.6 408.38 L563.85 407.85 L564.1 408.42 L564.35 408.63 L564.6 408.94 L564.85 408.96 L565.1 407.97 L565.35 408.46 L565.6 407.93 L565.85 408.99 L566.1 408.76 L566.35 408.99 L566.6 408.58 L566.85 408.98 L567.1 408.75 L567.35 408.57 L567.6 408.69 L567.85 409 L568.1 409.02 L568.35 407.89 L568.6 408.85 L568.85 408.45 L569.1 408.58 L569.35 408.42 L569.6 408.96 L569.85 408.69 L570.1 408.94 L570.35 408.42 L570.6 407.96 L570.85 408.35 L571.1 408.04 L571.35 408.81 L571.6 409.05 L571.85 408.42 L572.1 408.49 L572.35 408.39 L572.6 408.62 L572.85 408.32 L573.1 408.2 L573.35 407.98 L573.6 408.71 L573.85 408.54 L574.1 408.08 L574.35 408.81 L574.6 408.94 L574.85 408.71 L575.1 408.98 L575.35 408.15 L575.6 408.1 L575.85 408.71 L576.1 408.93 L576.35 408.99 L576.6 408.79 L576.85 408.99 L577.1 408.57 L577.35 408.39 L577.6 408.79 L577.85 409.02 L578.1 408.25 L578.35 409.03 L578.6 408.85 L578.85 408.75 L579.1 408.64 L579.35 408.98 L579.6 408.59 L579.85 408.72 L580.1 408.19 L580.35 408.43 L580.6 408.02 L580.85 408.31 L581.1 408.18 L581.35 408.41 L581.6 408.57 L581.85 408.12 L582.1 408.31 L582.35 407.95 L582.6 408.23 L582.85 408.26 L583.1 408.78 L583.35 408.13 L583.6 408.64 L583.85 408.95 L584.1 409.03 L584.35 408.9 L584.6 408.79 L584.85 408.29 L585.1 408.76 L585.35 409.03 L585.6 408.19 L585.85 408.44 L586.1 409.08 L586.35 409.05 L586.6 408.96 L586.85 408.68 L587.1 408.08 L587.35 407.97 L587.6 408.38 L587.85 408.84 L588.1 408.6 L588.35 408.68 L588.6 408.72 L588.85 409.1 L589.1 408.41 L589.35 408.12 L589.6 408.24 L589.85 409 L590.1 408.48 L590.35 408.91 L590.6 408.27 L590.85 408.58 L591.1 407.99 L591.35 408.17 L591.6 408.98 L591.85 408.74 L592.1 408.02 L592.35 408.57 L592.6 408.6 L592.85 408.59 L593.1 408.2 L593.35 408 L593.6 408.49 L593.85 407.96 L594.1 408.41 L594.35 409 L594.6 408.15 L594.85 408.63 L595.1 409.07 L595.35 407.95 L595.6 409.09 L595.85 408.44 L596.1 408.55 L596.35 408.07 L596.6 408.66 L596.85 408.87 L597.1 408.8 L597.35 408.89 L597.6 408.46 L597.85 408.71 L598.1 408.23 L598.35 408.85 L598.6 408.71 L598.85 408.84 L599.1 407.96 L599.35 408.13 L599.6 408.12 L599.85 408.4 L600.1 408.66 L600.35 408.97 L600.6 408.14 L600.85 408.55 L601.1 409.1 L601.35 408.94 L601.6 409.02 L601.85 408.28 L602.1 408.06 L602.35 408.9 L602.6 408.19 L602.85 408.76 L603.1 408.32 L603.35 408.11 L603.6 408.4 L603.85 408.18 L604.1 408.69 L604.35 409.14 L604.6 408.53 L604.85 408.44 L605.1 408.93 L605.35 408.68 L605.6 408.77 L605.85 409.12 L606.1 408.77 L606.35 408.69 L606.6 408.57 L606.85 408.29 L607.1 408.65 L607.35 407.93 L607.6 408.1 L607.85 407.93 L608.1 408.13 L608.35 408.05 L608.6 408.06 L608.85 407.53 L609.1 407.78 L609.35 407.17 L609.6 406.67 L609.85 406.43 L610.1 406.26 L610.35 406.07 L610.6 405.67 L610.85 405.05 L611.1 404.59 L611.35 404.34 L611.6 404.49 L611.85 405.21 L612.1 404.8 L612.35 406.01 L612.6 405.93 L612.85 407.15 L613.1 406.76 L613.35 407.23 L613.6 407.19 L613.85 407.51 L614.1 407.95 L614.35 407.91 L614.6 408.12 L614.85 408.34 L615.1 408.86 L615.35 408.51 L615.6 408.07 L615.85 408.87 L616.1 407.99 L616.35 408.51 L616.6 408.69 L616.85 409.16 L617.1 408.7 L617.35 408.95 L617.6 408.38 L617.85 408.09 L618.1 408.07 L618.35 408.43 L618.6 408.7 L618.85 409.04 L619.1 408.34 L619.35 408.51 L619.6 408.31 L619.85 408.72 L620.1 408.1 L620.35 408.92 L620.6 408.81 L620.85 408.85 L621.1 408.42 L621.35 408.09 L621.6 408.97 L621.85 408.41 L622.1 408.25 L622.35 408.9 L622.6 409.1 L622.85 408.49 L623.1 408.18 L623.35 408.12 L623.6 408.3 L623.85 408.68 L624.1 408.67 L624.35 408.54 L624.6 408.09 L624.85 408.81 L625.1 408.84 L625.35 408.45 L625.6 408.01 L625.85 408.95 L626.1 409.13 L626.35 409.02 L626.6 408.46 L626.85 408.39 L627.1 408.86 L627.35 408.8 L627.6 408.25 L627.85 408.1 L628.1 407.94 L628.35 407.77 L628.6 408.43 L628.85 407.79 L629.1 407.23 L629.35 406.97 L629.6 407.65 L629.85 406.96 L630.1 407.21 L630.35 406.91 L630.6 407.83 L630.85 407.37 L631.1 407.33 L631.35 407.91 L631.6 408.5 L631.85 408.52 L632.1 408.67 L632.35 408.84 L632.6 408.84 L632.85 408.34 L633.1 408.99 L633.35 408.23 L633.6 408.28 L633.85 408.19 L634.1 408.21 L634.35 408.33 L634.6 408.07 L634.85 408.04 L635.1 408.44 L635.35 408.03 L635.6 409.07 L635.85 409.07 L636.1 409.11 L636.35 408.94 L636.6 408.74 L636.85 408.64 L637.1 408.37 L637.35 408.3 L637.6 409.09 L637.85 408.71 L638.1 408.54 L638.35 408.74 L638.6 409.05 L638.85 408.47 L639.1 408.74 L639.35 408.37 L639.6 408.6 L639.85 408.04 L640.1 408.06 L640.35 409.11 L640.6 408.28 L640.85 408.33 L641.1 408.84 L641.35 409.06 L641.6 408.62 L641.85 408.77 L642.1 408.31 L642.35 408.09 L642.6 408.74 L642.85 408.85 L643.1 408.6 L643.35 408.36 L643.6 408.25 L643.85 408.51 L644.1 408.84 L644.35 408.79 L644.6 408.18 L644.85 408.57 L645.1 409.14 L645.35 408.69 L645.6 408.91 L645.85 408.4 L646.1 409.11 L646.35 408.87 L646.6 409.08 L646.85 408.63 L647.1 408.02 L647.35 408.55 L647.6 408.74 L647.85 408.08 L648.1 409.09 L648.35 408.77 L648.6 408.23 L648.85 409.2 L649.1 408.28 L649.35 408.77 L649.6 409.18 L649.85 408.9 L650.1 408.65 L650.35 408.74 L650.6 408.58 L650.85 409.14 L651.1 408.94 L651.35 408.03 L651.6 408.67 L651.85 408.64 L652.1 409.1 L652.35 408.87 L652.6 408.06 L652.85 408.38 L653.1 408.59 L653.35 409.14 L653.6 408.73 L653.85 408.27 L654.1 408.68 L654.35 408.49 L654.6 408.12 L654.85 408.43 L655.1 408.44 L655.35 409.16 L655.6 409.18 L655.85 408.28 L656.1 408.71 L656.35 408.16 L656.6 408.21 L656.85 408.11 L657.1 408.75 L657.35 408.01 L657.6 408.3 L657.85 408.14 L658.1 409.03 L658.35 408.27 L658.6 408.7 L658.85 408.04 L659.1 408.01 L659.35 408.95 L659.6 408.7 L659.85 408.88 L660.1 408.64 L660.35 408.87 L660.6 408.41 L660.85 409.06 L661.1 409.01 L661.35 408.66 L661.6 409.12 L661.85 408.75 L662.1 408.13 L662.35 408.15 L662.6 408.98 L662.85 409.19 L663.1 408.22 L663.35 408.06 L663.6 408.49 L663.85 409.05 L664.1 408.93 L664.35 408.11 L664.6 408.08 L664.85 409.18 L665.1 408.99 L665.35 408.7 L665.6 408.89 L665.85 408.31 L666.1 408.77 L666.35 408.28 L666.6 409.03 L666.85 408.59 L667.1 408.04 L667.35 408.37 L667.6 409.11 L667.85 409.08 L668.1 408.44 L668.35 408.76 L668.6 408.77 L668.85 408.64 L669.1 408.52 L669.35 408.05 L669.6 408.93 L669.85 408.53 L670.1 408.9 L670.35 408.56 L670.6 408.34 L670.85 409.06 L671.1 408.64 L671.35 408.37 L671.6 409.21 L671.85 408.29 L672.1 408.71 L672.35 408.61 L672.6 408.48 L672.85 408.26 L673.1 409.15 L673.35 408.62 L673.6 409.17 L673.85 408.75 L674.1 408.8 L674.35 409.19 L674.6 408.86 L674.85 408.68 L675.1 408.43 L675.35 408.11 L675.6 408.77 L675.85 408.58 L676.1 408.36 L676.35 408.09 L676.6 408.08 L676.85 408.03 L677.1 408.86 L677.35 409.02 L677.6 408.1 L677.85 409.13 L678.1 408.68 L678.35 408.33 L678.5 409.7 Z" stroke="none" fill="#5ab85a" stroke-width="1" />
<path d="M448.6 409.4 L448.85 409.26 L449.1 409.19 L449.35 409.02 L449.6 405.32 L449.85 400.91 L450.1 389.47 L450.35 365.53 L450.6 360.65 L450.85 369.84 L451.1 383.53 L451.35 395.65 L451.6 384.69 L451.85 391.95 L452.1 396.43 L452.35 399.28 L452.6 386.94 L452.85 391.3 L453.1 364.82 L453.35 322.72 L453.6 279.91 L453.85 256.34 L454.1 275.3 L454.35 325.53 L454.6 361.39 L454.85 377.18 L455.1 378.45 L455.35 380.77 L455.6 384.75 L455.85 382.07 L456.1 375.09 L456.35 355.14 L456.6 341.63 L456.85 337.9 L457.1 352.51 L457.35 363.1 L457.6 374.46 L457.85 364.16 L458.1 366.95 L458.35 368.69 L458.6 380.44 L458.85 376.29 L459.1 382.77 L459.35 390.31 L459.6 397.02 L459.85 406.69 L460.1 404.61 L460.35 404.26 L460.6 404.92 L460.85 404.18 L461.1 404.6 L461.35 404.85 L461.6 404.81 L461.85 404.94 L462.1 405.03 L462.35 404.91 L462.6 404.24 L462.85 403.84 L463.1 404.82 L463.35 404.93 L463.6 403.78 L463.85 404.3 L464.1 404.44 L464.35 404.62 L464.6 404.18 L464.85 403.88 L465.1 404.32 L465.35 404.35 L465.6 404.78 L465.85 403.74 L466.1 404.8 L466.35 404.24 L466.6 403.8 L466.85 404.5 L467.1 403.2 L467.35 401.22 L467.6 397.8 L467.85 391.5 L468.1 385.57 L468.35 381.03 L468.6 382.07 L468.85 385.92 L469.1 392.44 L469.35 397.12 L469.6 399.8 L469.85 402.05 L470.1 403.07 L470.35 404.27 L470.6 404.46 L470.85 404.26 L471.1 404.61 L471.35 404.88 L471.6 404.78 L471.85 405.13 L472.1 404.89 L472.35 404.2 L472.6 404.28 L472.85 404.72 L473.1 404.92 L473.35 405.16 L473.6 405.51 L473.85 405.34 L474.1 404.78 L474.35 404.72 L474.6 405.38 L474.85 404.92 L475.1 404.99 L475.35 405.14 L475.6 405.23 L475.85 405.17 L476.1 405.7 L476.35 405.34 L476.6 405.91 L476.85 405.72 L477.1 405.43 L477.35 405.58 L477.6 406.11 L477.85 405.38 L478.1 405.79 L478.35 405.93 L478.6 406.66 L478.85 406.07 L479.1 406.48 L479.35 406.03 L479.6 406.33 L479.85 405.95 L480.1 406.21 L480.35 406.08 L480.6 406.67 L480.85 406.36 L481.1 406.29 L481.35 406.23 L481.6 406.85 L481.85 406.3 L482.1 406.31 L482.35 406.58 L482.6 406.27 L482.85 406.34 L483.1 406.9 L483.35 406.93 L483.6 407.41 L483.85 406.64 L484.1 406.55 L484.35 407.14 L484.6 406.92 L484.85 406.92 L485.1 406.94 L485.35 407.64 L485.6 406.94 L485.85 407.21 L486.1 407.14 L486.35 407.46 L486.6 407.24 L486.85 407.09 L487.1 407.28 L487.35 407.21 L487.6 408.06 L487.85 407.93 L488.1 407.61 L488.35 407.36 L488.6 407.85 L488.85 407.13 L489.1 406.75 L489.35 406.47 L489.6 404.17 L489.85 401.98 L490.1 399.55 L490.35 397.65 L490.6 397.26 L490.85 398.98 L491.1 401.55 L491.35 404.35 L491.6 405.8 L491.85 407.07 L492.1 407.36 L492.35 407.61 L492.6 408.1 L492.85 407.29 L493.1 408.3 L493.35 407.61 L493.6 407.4 L493.85 406.73 L494.1 406.54 L494.35 405.3 L494.6 405.83 L494.85 406.56 L495.1 406.41 L495.35 407.58 L495.6 407.45 L495.85 407.95 L496.1 407.78 L496.35 407.37 L496.6 407.53 L496.85 407.93 L497.1 407.18 L497.35 406.7 L497.6 405.59 L497.85 403.31 L498.1 399.05 L498.35 394.76 L498.6 390.53 L498.85 388.68 L499.1 389.93 L499.35 393.38 L499.6 397 L499.85 402.15 L500.1 405.07 L500.35 406.38 L500.6 407.27 L500.85 408.25 L501.1 407.81 L501.35 407.51 L501.6 408.06 L501.85 407.74 L502.1 407.38 L502.35 406.05 L502.6 403.11 L502.85 400.85 L503.1 396.85 L503.35 394.23 L503.6 393.43 L503.85 394.36 L504.1 394.85 L504.35 395.94 L504.6 393.91 L504.85 388.44 L505.1 379.46 L505.35 371.86 L505.6 367.15 L505.85 367.3 L506.1 373.17 L506.35 380.64 L506.6 388.64 L506.85 394.62 L507.1 397.76 L507.35 400.23 L507.6 403.29 L507.85 404.54 L508.1 406.36 L508.35 406.54 L508.6 407.14 L508.85 407.62 L509.1 406.76 L509.35 405.13 L509.6 401.19 L509.85 397.94 L510.1 392.89 L510.35 388.9 L510.6 386.36 L510.85 386.68 L511.1 389.31 L511.35 394.42 L511.6 398.28 L511.85 402.73 L512.1 405.15 L512.35 406.99 L512.6 407.84 L512.85 407.88 L513.1 408.02 L513.35 408.01 L513.6 407.18 L513.85 406.68 L514.1 406.28 L514.35 404.65 L514.6 402.97 L514.85 401.32 L515.1 400.93 L515.35 401.77 L515.6 403.51 L515.85 404.03 L516.1 405.83 L516.35 406.72 L516.6 407.25 L516.85 407.73 L517.1 408.1 L517.35 407.66 L517.6 408.32 L517.85 408.31 L518.1 407.73 L518.35 408.45 L518.6 408.17 L518.85 407.22 L519.1 407.63 L519.35 406 L519.6 405.37 L519.85 404.97 L520.1 404.75 L520.35 404.2 L520.6 404.53 L520.85 406.2 L521.1 406.6 L521.35 407.19 L521.6 407.72 L521.85 408.2 L522.1 408.55 L522.35 408.09 L522.6 407.85 L522.85 408.75 L523.1 408.56 L523.35 407.85 L523.6 407.89 L523.85 408.04 L524.1 408.79 L524.35 407.9 L524.6 407.47 L524.85 407.12 L525.1 406.73 L525.35 406 L525.6 402.21 L525.85 398.19 L526.1 390.44 L526.35 380.29 L526.6 368.91 L526.85 357.58 L527.1 347.21 L527.35 340.34 L527.6 340.68 L527.85 345.22 L528.1 355 L528.35 367.14 L528.6 378.48 L528.85 389.42 L529.1 397.1 L529.35 402.01 L529.6 405.56 L529.85 407.31 L530.1 407.55 L530.35 407.74 L530.6 407.74 L530.85 408.7 L531.1 408.36 L531.35 408.51 L531.6 408.17 L531.85 408.3 L532.1 407.76 L532.35 408.44 L532.6 408.8 L532.85 407.98 L533.1 408.52 L533.35 407.7 L533.6 407.41 L533.85 406.16 L534.1 405.45 L534.35 403.82 L534.6 402.41 L534.85 400.16 L535.1 398.91 L535.35 397.34 L535.6 397.53 L535.85 398.8 L536.1 400.19 L536.35 401.9 L536.6 403.33 L536.85 405.58 L537.1 406.07 L537.35 406.72 L537.6 407.34 L537.85 405.72 L538.1 404.28 L538.35 400.32 L538.6 393.42 L538.85 384.6 L539.1 371.68 L539.35 357.92 L539.6 343.49 L539.85 330.28 L540.1 323.01 L540.35 320.16 L540.6 325.6 L540.85 335.72 L541.1 348.49 L541.35 363.55 L541.6 377.66 L541.85 388.83 L542.1 395.87 L542.35 401.58 L542.6 404.61 L542.85 407.2 L543.1 407.51 L543.35 408.25 L543.6 408.57 L543.85 408.52 L544.1 408.21 L544.35 408.54 L544.6 408.5 L544.85 408.8 L545.1 407.97 L545.35 408.19 L545.6 408 L545.85 408.45 L546.1 407.94 L546.35 408.33 L546.6 408.21 L546.85 408.17 L547.1 407.83 L547.35 407.99 L547.6 407.88 L547.85 407.2 L548.1 405.85 L548.35 404.48 L548.6 401.48 L548.85 399.73 L549.1 397.17 L549.35 396.21 L549.6 394.44 L549.85 393.64 L550.1 394.64 L550.35 396.38 L550.6 398.4 L550.85 401.11 L551.1 403.2 L551.35 405.03 L551.6 406.17 L551.85 407.14 L552.1 407.18 L552.35 408.43 L552.6 408.51 L552.85 408.59 L553.1 408.78 L553.35 408.65 L553.6 408.72 L553.85 408.43 L554.1 408.97 L554.35 407.9 L554.6 408.57 L554.85 407.88 L555.1 408.18 L555.35 408.2 L555.6 408.45 L555.85 407.88 L556.1 408.87 L556.35 408.21 L556.6 408.67 L556.85 408.21 L557.1 408.14 L557.35 408.83 L557.6 408.78 L557.85 408.99 L558.1 408.75 L558.35 408.93 L558.6 408.54 L558.85 407.86 L559.1 408.59 L559.35 408.65 L559.6 408.47 L559.85 408.69 L560.1 408.15 L560.35 408.17 L560.6 408.84 L560.85 408.75 L561.1 408.23 L561.35 407.9 L561.6 408.26 L561.85 408.52 L562.1 407.87 L562.35 409.03 L562.6 408.97 L562.85 408.1 L563.1 408.55 L563.35 408.99 L563.6 408.38 L563.85 407.85 L564.1 408.42 L564.35 408.63 L564.6 408.94 L564.85 408.96 L565.1 407.97 L565.35 408.46 L565.6 407.93 L565.85 408.99 L566.1 408.76 L566.35 408.99 L566.6 408.58 L566.85 408.98 L567.1 408.75 L567.35 408.57 L567.6 408.69 L567.85 409 L568.1 409.02 L568.35 407.89 L568.6 408.85 L568.85 408.45 L569.1 408.58 L569.35 408.42 L569.6 408.96 L569.85 408.69 L570.1 408.94 L570.35 408.42 L570.6 407.96 L570.85 408.35 L571.1 408.04 L571.35 408.81 L571.6 409.05 L571.85 408.42 L572.1 408.49 L572.35 408.39 L572.6 408.62 L572.85 408.32 L573.1 408.2 L573.35 407.98 L573.6 408.71 L573.85 408.54 L574.1 408.08 L574.35 408.81 L574.6 408.94 L574.85 408.71 L575.1 408.98 L575.35 408.15 L575.6 408.1 L575.85 408.71 L576.1 408.93 L576.35 408.99 L576.6 408.79 L576.85 408.99 L577.1 408.57 L577.35 408.39 L577.6 408.79 L577.85 409.02 L578.1 408.25 L578.35 409.03 L578.6 408.85 L578.85 408.75 L579.1 408.64 L579.35 408.98 L579.6 408.59 L579.85 408.72 L580.1 408.19 L580.35 408.43 L580.6 408.02 L580.85 408.31 L581.1 408.18 L581.35 408.41 L581.6 408.57 L581.85 408.12 L582.1 408.31 L582.35 407.95 L582.6 408.23 L582.85 408.26 L583.1 408.78 L583.35 408.13 L583.6 408.64 L583.85 408.95 L584.1 409.03 L584.35 408.9 L584.6 408.79 L584.85 408.29 L585.1 408.76 L585.35 409.03 L585.6 408.19 L585.85 408.44 L586.1 409.08 L586.35 409.05 L586.6 408.96 L586.85 408.68 L587.1 408.08 L587.35 407.97 L587.6 408.38 L587.85 408.84 L588.1 408.6 L588.35 408.68 L588.6 408.72 L588.85 409.1 L589.1 408.41 L589.35 408.12 L589.6 408.24 L589.85 409 L590.1 408.48 L590.35 408.91 L590.6 408.27 L590.85 408.58 L591.1 407.99 L591.35 408.17 L591.6 408.98 L591.85 408.74 L592.1 408.02 L592.35 408.57 L592.6 408.6 L592.85 408.59 L593.1 408.2 L593.35 408 L593.6 408.49 L593.85 407.96 L594.1 408.41 L594.35 409 L594.6 408.15 L594.85 408.63 L595.1 409.07 L595.35 407.95 L595.6 409.09 L595.85 408.44 L596.1 408.55 L596.35 408.07 L596.6 408.66 L596.85 408.87 L597.1 408.8 L597.35 408.89 L597.6 408.46 L597.85 408.71 L598.1 408.23 L598.35 408.85 L598.6 408.71 L598.85 408.84 L599.1 407.96 L599.35 408.13 L599.6 408.12 L599.85 408.4 L600.1 408.66 L600.35 408.97 L600.6 408.14 L600.85 408.55 L601.1 409.1 L601.35 408.94 L601.6 409.02 L601.85 408.28 L602.1 408.06 L602.35 408.9 L602.6 408.19 L602.85 408.76 L603.1 408.32 L603.35 408.11 L603.6 408.4 L603.85 408.18 L604.1 408.69 L604.35 409.14 L604.6 408.53 L604.85 408.44 L605.1 408.93 L605.35 408.68 L605.6 408.77 L605.85 409.12 L606.1 408.77 L606.35 408.69 L606.6 408.57 L606.85 408.29 L607.1 408.65 L607.35 407.93 L607.6 408.1 L607.85 407.93 L608.1 408.13 L608.35 408.05 L608.6 408.06 L608.85 407.53 L609.1 407.78 L609.35 407.17 L609.6 406.67 L609.85 406.43 L610.1 406.26 L610.35 406.07 L610.6 405.67 L610.85 405.05 L611.1 404.59 L611.35 404.34 L611.6 404.49 L611.85 405.21 L612.1 404.8 L612.35 406.01 L612.6 405.93 L612.85 407.15 L613.1 406.76 L613.35 407.23 L613.6 407.19 L613.85 407.51 L614.1 407.95 L614.35 407.91 L614.6 408.12 L614.85 408.34 L615.1 408.86 L615.35 408.51 L615.6 408.07 L615.85 408.87 L616.1 407.99 L616.35 408.51 L616.6 408.69 L616.85 409.16 L617.1 408.7 L617.35 408.95 L617.6 408.38 L617.85 408.09 L618.1 408.07 L618.35 408.43 L618.6 408.7 L618.85 409.04 L619.1 408.34 L619.35 408.51 L619.6 408.31 L619.85 408.72 L620.1 408.1 L620.35 408.92 L620.6 408.81 L620.85 408.85 L621.1 408.42 L621.35 408.09 L621.6 408.97 L621.85 408.41 L622.1 408.25 L622.35 408.9 L622.6 409.1 L622.85 408.49 L623.1 408.18 L623.35 408.12 L623.6 408.3 L623.85 408.68 L624.1 408.67 L624.35 408.54 L624.6 408.09 L624.85 408.81 L625.1 408.84 L625.35 408.45 L625.6 408.01 L625.85 408.95 L626.1 409.13 L626.35 409.02 L626.6 408.46 L626.85 408.39 L627.1 408.86 L627.35 408.8 L627.6 408.25 L627.85 408.1 L628.1 407.94 L628.35 407.77 L628.6 408.43 L628.85 407.79 L629.1 407.23 L629.35 406.97 L629.6 407.65 L629.85 406.96 L630.1 407.21 L630.35 406.91 L630.6 407.83 L630.85 407.37 L631.1 407.33 L631.35 407.91 L631.6 408.5 L631.85 408.52 L632.1 408.67 L632.35 408.84 L632.6 408.84 L632.85 408.34 L633.1 408.99 L633.35 408.23 L633.6 408.28 L633.85 408.19 L634.1 408.21 L634.35 408.33 L634.6 408.07 L634.85 408.04 L635.1 408.44 L635.35 408.03 L635.6 409.07 L635.85 409.07 L636.1 409.11 L636.35 408.94 L636.6 408.74 L636.85 408.64 L637.1 408.37 L637.35 408.3 L637.6 409.09 L637.85 408.71 L638.1 408.54 L638.35 408.74 L638.6 409.05 L638.85 408.47 L639.1 408.74 L639.35 408.37 L639.6 408.6 L639.85 408.04 L640.1 408.06 L640.35 409.11 L640.6 408.28 L640.85 408.33 L641.1 408.84 L641.35 409.06 L641.6 408.62 L641.85 408.77 L642.1 408.31 L642.35 408.09 L642.6 408.74 L642.85 408.85 L643.1 408.6 L643.35 408.36 L643.6 408.25 L643.85 408.51 L644.1 408.84 L644.35 408.79 L644.6 408.18 L644.85 408.57 L645.1 409.14 L645.35 408.69 L645.6 408.91 L645.85 408.4 L646.1 409.11 L646.35 408.87 L646.6 409.08 L646.85 408.63 L647.1 408.02 L647.35 408.55 L647.6 408.74 L647.85 408.08 L648.1 409.09 L648.35 408.77 L648.6 408.23 L648.85 409.2 L649.1 408.28 L649.35 408.77 L649.6 409.18 L649.85 408.9 L650.1 408.65 L650.35 408.74 L650.6 408.58 L650.85 409.14 L651.1 408.94 L651.35 408.03 L651.6 408.67 L651.85 408.64 L652.1 409.1 L652.35 408.87 L652.6 408.06 L652.85 408.38 L653.1 408.59 L653.35 409.14 L653.6 408.73 L653.85 408.27 L654.1 408.68 L654.35 408.49 L654.6 408.12 L654.85 408.43 L655.1 408.44 L655.35 409.16 L655.6 409.18 L655.85 408.28 L656.1 408.71 L656.35 408.16 L656.6 408.21 L656.85 408.11 L657.1 408.75 L657.35 408.01 L657.6 408.3 L657.85 408.14 L658.1 409.03 L658.35 408.27 L658.6 408.7 L658.85 408.04 L659.1 408.01 L659.35 408.95 L659.6 408.7 L659.85 408.88 L660.1 408.64 L660.35 408.87 L660.6 408.41 L660.85 409.06 L661.1 409.01 L661.35 408.66 L661.6 409.12 L661.85 408.75 L662.1 408.13 L662.35 408.15 L662.6 408.98 L662.85 409.19 L663.1 408.22 L663.35 408.06 L663.6 408.49 L663.85 409.05 L664.1 408.93 L664.35 408.11 L664.6 408.08 L664.85 409.18 L665.1 408.99 L665.35 408.7 L665.6 408.89 L665.85 408.31 L666.1 408.77 L666.35 408.28 L666.6 409.03 L666.85 408.59 L667.1 408.04 L667.35 408.37 L667.6 409.11 L667.85 409.08 L668.1 408.44 L668.35 408.76 L668.6 408.77 L668.85 408.64 L669.1 408.52 L669.35 408.05 L669.6 408.93 L669.85 408.53 L670.1 408.9 L670.35 408.56 L670.6 408.34 L670.85 409.06 L671.1 408.64 L671.35 408.37 L671.6 409.21 L671.85 408.29 L672.1 408.71 L672.35 408.61 L672.6 408.48 L672.85 408.26 L673.1 409.15 L673.35 408.62 L673.6 409.17 L673.85 408.75 L674.1 408.8 L674.35 409.19 L674.6 408.86 L674.85 408.68 L675.1 408.43 L675.35 408.11 L675.6 408.77 L675.85 408.58 L676.1 408.36 L676.35 408.09 L676.6 408.08 L676.85 408.03 L677.1 408.86 L677.35 409.02 L677.6 408.1 L677.85 409.13 L678.1 408.68 L678.35 408.33" stroke="#3da53d" fill="none" stroke-width="0.8" stroke-linejoin="round"/>
<line x1="448.6" y1="243.8" x2="448.6" y2="410.3" stroke="#111" stroke-width="1.3" />
<line x1="448" y1="409.7" x2="679.1" y2="409.7" stroke="#111" stroke-width="1.3" />
<line x1="448.6" y1="409.7" x2="448.6" y2="413.3" stroke="#111" stroke-width="1.1" />
<text x="448.6" y="426.7" font-size="12.9" text-anchor="middle" fill="#000" font-weight="bold" >0</text>
<line x1="471.59" y1="409.7" x2="471.59" y2="411.9" stroke="#111" stroke-width="1.1" />
<line x1="494.58" y1="409.7" x2="494.58" y2="413.3" stroke="#111" stroke-width="1.1" />
<text x="494.58" y="426.7" font-size="12.9" text-anchor="middle" fill="#000" font-weight="bold" >4</text>
<line x1="517.57" y1="409.7" x2="517.57" y2="411.9" stroke="#111" stroke-width="1.1" />
<line x1="540.56" y1="409.7" x2="540.56" y2="413.3" stroke="#111" stroke-width="1.1" />
<text x="540.56" y="426.7" font-size="12.9" text-anchor="middle" fill="#000" font-weight="bold" >8</text>
<line x1="563.55" y1="409.7" x2="563.55" y2="411.9" stroke="#111" stroke-width="1.1" />
<line x1="586.54" y1="409.7" x2="586.54" y2="413.3" stroke="#111" stroke-width="1.1" />
<text x="586.54" y="426.7" font-size="12.9" text-anchor="middle" fill="#000" font-weight="bold" >12</text>
<line x1="609.53" y1="409.7" x2="609.53" y2="411.9" stroke="#111" stroke-width="1.1" />
<line x1="632.52" y1="409.7" x2="632.52" y2="413.3" stroke="#111" stroke-width="1.1" />
<text x="632.52" y="426.7" font-size="12.9" text-anchor="middle" fill="#000" font-weight="bold" >16</text>
<line x1="655.51" y1="409.7" x2="655.51" y2="411.9" stroke="#111" stroke-width="1.1" />
<line x1="678.5" y1="409.7" x2="678.5" y2="413.3" stroke="#111" stroke-width="1.1" />
<text x="678.5" y="426.7" font-size="12.9" text-anchor="middle" fill="#000" font-weight="bold" >20</text>
<line x1="448.6" y1="409.7" x2="445" y2="409.7" stroke="#111" stroke-width="1.1" />
<text x="441.6" y="414.2" font-size="12.9" text-anchor="end" fill="#000" font-weight="bold" >0</text>
<line x1="448.6" y1="394.65" x2="446.4" y2="394.65" stroke="#111" stroke-width="1.1" />
<line x1="448.6" y1="379.6" x2="445" y2="379.6" stroke="#111" stroke-width="1.1" />
<text x="441.6" y="384.1" font-size="12.9" text-anchor="end" fill="#000" font-weight="bold" >2</text>
<line x1="448.6" y1="364.55" x2="446.4" y2="364.55" stroke="#111" stroke-width="1.1" />
<line x1="448.6" y1="349.5" x2="445" y2="349.5" stroke="#111" stroke-width="1.1" />
<text x="441.6" y="354" font-size="12.9" text-anchor="end" fill="#000" font-weight="bold" >4</text>
<line x1="448.6" y1="334.45" x2="446.4" y2="334.45" stroke="#111" stroke-width="1.1" />
<line x1="448.6" y1="319.4" x2="445" y2="319.4" stroke="#111" stroke-width="1.1" />
<text x="441.6" y="323.9" font-size="12.9" text-anchor="end" fill="#000" font-weight="bold" >6</text>
<line x1="448.6" y1="304.35" x2="446.4" y2="304.35" stroke="#111" stroke-width="1.1" />
<line x1="448.6" y1="289.3" x2="445" y2="289.3" stroke="#111" stroke-width="1.1" />
<text x="441.6" y="293.8" font-size="12.9" text-anchor="end" fill="#000" font-weight="bold" >8</text>
<line x1="448.6" y1="274.25" x2="446.4" y2="274.25" stroke="#111" stroke-width="1.1" />
<line x1="448.6" y1="259.2" x2="445" y2="259.2" stroke="#111" stroke-width="1.1" />
<text x="441.6" y="263.7" font-size="12.9" text-anchor="end" fill="#000" font-weight="bold" >10</text>
<line x1="448.6" y1="244.15" x2="446.4" y2="244.15" stroke="#111" stroke-width="1.1" />
<text x="563.7" y="441.3" font-size="13.5" text-anchor="middle" fill="#000" font-weight="bold" >Energy, keV</text>
<text x="0" y="0" font-size="13.3" text-anchor="middle" fill="#000" font-weight="bold" transform="translate(421.9 319.9) rotate(-90)">Intensity, kCounts</text>
<text x="450.5" y="262.4" font-size="11.2" text-anchor="start" fill="#000" font-weight="bold" >O</text>
<text x="453.9" y="341.6" font-size="11.2" text-anchor="start" fill="#000" font-weight="bold" >Co</text>
<text x="449" y="364.7" font-size="11.2" text-anchor="start" fill="#000" font-weight="bold" >Ca</text>
<text x="455.6" y="379" font-size="11.2" text-anchor="start" fill="#000" font-weight="bold" >Pr</text>
<text x="463.7" y="387.2" font-size="11.2" text-anchor="start" fill="#000" font-weight="bold" >Sr</text>
<text x="481.6" y="399.7" font-size="11.2" text-anchor="start" fill="#000" font-weight="bold" >Ca</text>
<text x="491.1" y="389.7" font-size="11.2" text-anchor="start" fill="#000" font-weight="bold" >Ba</text>
<text x="498.8" y="401.6" font-size="11.2" text-anchor="start" fill="#000" font-weight="bold" >Ba</text>
<text x="500.6" y="369.7" font-size="11.2" text-anchor="start" fill="#000" font-weight="bold" >Pr</text>
<text x="508.3" y="390" font-size="11.2" text-anchor="start" fill="#000" font-weight="bold" >Pr</text>
<text x="511.7" y="404" font-size="11.2" text-anchor="start" fill="#000" font-weight="bold" >Pr</text>
<text x="521" y="341.6" font-size="11.2" text-anchor="start" fill="#000" font-weight="bold" >Co</text>
<text x="534.3" y="321.9" font-size="11.2" text-anchor="start" fill="#000" font-weight="bold" >Cu</text>
<text x="544.6" y="394.4" font-size="11.2" text-anchor="start" fill="#000" font-weight="bold" >Cu</text>
<text x="606.2" y="404.7" font-size="11.2" text-anchor="start" fill="#000" font-weight="bold" >Sr</text>
<text x="625.2" y="408.5" font-size="11.2" text-anchor="start" fill="#000" font-weight="bold" >Sr</text>
<rect x="564.9" y="244.6" width="103.60000000000002" height="138.4" fill="#fff" stroke="#111" stroke-width="1.2"/>
<line x1="616.6" y1="244.6" x2="616.6" y2="383" stroke="#111" stroke-width="1.2" />
<line x1="564.9" y1="274.4" x2="668.5" y2="274.4" stroke="#111" stroke-width="1.2" />
<line x1="564.9" y1="290" x2="668.5" y2="290" stroke="#111" stroke-width="1.2" />
<line x1="564.9" y1="305.6" x2="668.5" y2="305.6" stroke="#111" stroke-width="1.2" />
<line x1="564.9" y1="321.2" x2="668.5" y2="321.2" stroke="#111" stroke-width="1.2" />
<line x1="564.9" y1="336.8" x2="668.5" y2="336.8" stroke="#111" stroke-width="1.2" />
<line x1="564.9" y1="352.3" x2="668.5" y2="352.3" stroke="#111" stroke-width="1.2" />
<line x1="564.9" y1="367.8" x2="668.5" y2="367.8" stroke="#111" stroke-width="1.2" />
<text x="591" y="263.7" font-size="11.4" text-anchor="middle" fill="#000" font-weight="bold" >Element</text>
<text x="642.6" y="256.9" font-size="11.4" text-anchor="middle" fill="#000" font-weight="bold" >Atomic</text>
<text x="642.6" y="270.6" font-size="11.4" text-anchor="middle" fill="#000" font-weight="bold" >(%)</text>
<text x="591" y="286.6" font-size="11.4" text-anchor="middle" fill="#000" font-weight="bold" >O</text>
<text x="642.6" y="286.6" font-size="11.4" text-anchor="middle" fill="#000" font-weight="bold" >57.39</text>
<text x="591" y="302.2" font-size="11.4" text-anchor="middle" fill="#000" font-weight="bold" >Co</text>
<text x="642.6" y="302.2" font-size="11.4" text-anchor="middle" fill="#000" font-weight="bold" >22.52</text>
<text x="591" y="317.8" font-size="11.4" text-anchor="middle" fill="#000" font-weight="bold" >Ba</text>
<text x="642.6" y="317.8" font-size="11.4" text-anchor="middle" fill="#000" font-weight="bold" >3.76</text>
<text x="591" y="333.4" font-size="11.4" text-anchor="middle" fill="#000" font-weight="bold" >Sr</text>
<text x="642.6" y="333.4" font-size="11.4" text-anchor="middle" fill="#000" font-weight="bold" >4.34</text>
<text x="591" y="349" font-size="11.4" text-anchor="middle" fill="#000" font-weight="bold" >Ca</text>
<text x="642.6" y="349" font-size="11.4" text-anchor="middle" fill="#000" font-weight="bold" >2.10</text>
<text x="591" y="364.5" font-size="11.4" text-anchor="middle" fill="#000" font-weight="bold" >Pr</text>
<text x="642.6" y="364.5" font-size="11.4" text-anchor="middle" fill="#000" font-weight="bold" >9.89</text>
<text x="591" y="380" font-size="11.4" text-anchor="middle" fill="#000" font-weight="bold" >Total</text>
<text x="642.6" y="380" font-size="11.4" text-anchor="middle" fill="#000" font-weight="bold" >100</text>
<text x="-0.5" y="458.9" font-size="20.5" text-anchor="start" fill="#000" font-weight="bold" >e</text>
<clipPath id="eclip"><rect x="20.2" y="450.3" width="358.90000000000003" height="191.49999999999994"/></clipPath>
<g clip-path="url(#eclip)">
<path d="M20.2 533.24 L21.2 533.25 L22.19 533.25 L23.19 533.24 L24.19 533.24 L25.18 533.24 L26.18 533.24 L27.18 533.24 L28.18 533.24 L29.17 533.24 L30.17 533.24 L31.17 533.24 L32.16 533.24 L33.16 533.24 L34.16 533.23 L35.15 533.23 L36.15 533.23 L37.15 533.23 L38.14 533.22 L39.14 533.22 L40.14 533.21 L41.14 533.21 L42.13 533.2 L43.13 533.2 L44.13 533.19 L45.12 533.18 L46.12 533.17 L47.12 533.16 L48.11 533.15 L49.11 533.14 L50.11 533.13 L51.11 533.12 L52.1 533.1 L53.1 533.09 L54.1 533.07 L55.09 533.05 L56.09 533.03 L57.09 533.01 L58.08 532.99 L59.08 532.97 L60.08 532.94 L61.07 532.91 L62.07 532.88 L63.07 532.85 L64.07 532.81 L65.06 532.77 L66.06 532.73 L67.06 532.69 L68.05 532.64 L69.05 532.59 L70.05 532.54 L71.04 532.48 L72.04 532.42 L73.04 532.36 L74.04 532.29 L75.03 532.22 L76.03 532.14 L77.03 532.06 L78.02 531.97 L79.02 531.88 L80.02 531.78 L81.01 531.68 L82.01 531.57 L83.01 531.46 L84 531.33 L85 531.21 L86 531.07 L87 530.93 L87.99 530.78 L88.99 530.62 L89.99 530.46 L90.98 530.28 L91.98 530.1 L92.98 529.91 L93.97 529.71 L94.97 529.5 L95.97 529.28 L96.96 529.05 L97.96 528.81 L98.96 528.56 L99.96 528.3 L100.95 528.03 L101.95 527.75 L102.95 527.46 L103.94 527.15 L104.94 526.83 L105.94 526.5 L106.93 526.16 L107.93 525.81 L108.93 525.44 L109.93 525.06 L110.92 524.67 L111.92 524.26 L112.92 523.85 L113.91 523.41 L114.91 522.97 L115.91 522.51 L116.9 522.04 L117.9 521.55 L118.9 521.05 L119.89 520.54 L120.89 520.02 L121.89 519.48 L122.89 518.93 L123.88 518.36 L124.88 517.79 L125.88 517.2 L126.87 516.59 L127.87 515.98 L128.87 515.36 L129.86 514.72 L130.86 514.07 L131.86 513.42 L132.85 512.75 L133.85 512.07 L134.85 511.39 L135.85 510.69 L136.84 509.99 L137.84 509.28 L138.84 508.57 L139.83 507.84 L140.83 507.12 L141.83 506.39 L142.82 505.65 L143.82 504.91 L144.82 504.17 L145.81 503.43 L146.81 502.69 L147.81 501.95 L148.81 501.21 L149.8 500.48 L150.8 499.74 L151.8 499.01 L152.79 498.29 L153.79 497.57 L154.79 496.86 L155.78 496.16 L156.78 495.47 L157.78 494.79 L158.78 494.12 L159.77 493.46 L160.77 492.82 L161.77 492.19 L162.76 491.57 L163.76 490.98 L164.76 490.4 L165.75 489.83 L166.75 489.29 L167.75 488.77 L168.74 488.27 L169.74 487.79 L170.74 487.33 L171.74 486.9 L172.73 486.49 L173.73 486.11 L174.73 485.75 L175.72 485.42 L176.72 485.12 L177.72 484.84 L178.71 484.6 L179.71 484.38 L180.71 484.19 L181.7 484.03 L182.7 483.9 L183.7 483.8 L184.7 483.73 L185.69 483.69 L186.69 483.68 L187.69 483.7 L188.68 483.76 L189.68 483.85 L190.68 483.98 L191.67 484.14 L192.67 484.34 L193.67 484.57 L194.67 484.84 L195.66 485.14 L196.66 485.47 L197.66 485.84 L198.65 486.24 L199.65 486.66 L200.65 487.12 L201.64 487.61 L202.64 488.13 L203.64 488.68 L204.63 489.25 L205.63 489.85 L206.63 490.47 L207.63 491.11 L208.62 491.78 L209.62 492.47 L210.62 493.18 L211.61 493.9 L212.61 494.65 L213.61 495.41 L214.6 496.18 L215.6 496.97 L216.6 497.77 L217.6 498.58 L218.59 499.4 L219.59 500.23 L220.59 501.07 L221.58 501.91 L222.58 502.75 L223.58 503.6 L224.57 504.45 L225.57 505.3 L226.57 506.16 L227.56 507.01 L228.56 507.85 L229.56 508.7 L230.56 509.54 L231.55 510.37 L232.55 511.2 L233.55 512.02 L234.54 512.83 L235.54 513.63 L236.54 514.43 L237.53 515.21 L238.53 515.98 L239.53 516.74 L240.52 517.49 L241.52 518.22 L242.52 518.94 L243.52 519.65 L244.51 520.34 L245.51 521.01 L246.51 521.68 L247.5 522.32 L248.5 522.95 L249.5 523.57 L250.49 524.17 L251.49 524.75 L252.49 525.32 L253.49 525.87 L254.48 526.41 L255.48 526.92 L256.48 527.43 L257.47 527.91 L258.47 528.38 L259.47 528.84 L260.46 529.28 L261.46 529.7 L262.46 530.11 L263.45 530.5 L264.45 530.88 L265.45 531.25 L266.45 531.6 L267.44 531.93 L268.44 532.25 L269.44 532.56 L270.43 532.86 L271.43 533.14 L272.43 533.41 L273.42 533.67 L274.42 533.92 L275.42 534.16 L276.41 534.38 L277.41 534.6 L278.41 534.8 L279.41 535 L280.4 535.18 L281.4 535.36 L282.4 535.53 L283.39 535.68 L284.39 535.83 L285.39 535.98 L286.38 536.11 L287.38 536.24 L288.38 536.36 L289.38 536.48 L290.37 536.58 L291.37 536.69 L292.37 536.78 L293.36 536.87 L294.36 536.96 L295.36 537.04 L296.35 537.12 L297.35 537.19 L298.35 537.26 L299.34 537.32 L300.34 537.38 L301.34 537.44 L302.34 537.49 L303.33 537.54 L304.33 537.59 L305.33 537.63 L306.32 537.67 L307.32 537.71 L308.32 537.75 L309.31 537.78 L310.31 537.81 L311.31 537.84 L312.3 537.87 L313.3 537.9 L314.3 537.92 L315.3 537.94 L316.29 537.97 L317.29 537.99 L318.29 538 L319.28 538.02 L320.28 538.04 L321.28 538.06 L322.27 538.07 L323.27 538.08 L324.27 538.1 L325.26 538.11 L326.26 538.12 L327.26 538.13 L328.26 538.14 L329.25 538.15 L330.25 538.16 L331.25 538.17 L332.24 538.18 L333.24 538.19 L334.24 538.19 L335.23 538.2 L336.23 538.21 L337.23 538.21 L338.23 538.22 L339.22 538.23 L340.22 538.23 L341.22 538.24 L342.21 538.24 L343.21 538.25 L344.21 538.25 L345.2 538.26 L346.2 538.26 L347.2 538.26 L348.19 538.27 L349.19 538.27 L350.19 538.28 L351.19 538.28 L352.18 538.28 L353.18 538.29 L354.18 538.29 L355.17 538.29 L356.17 538.29 L357.17 538.3 L358.16 538.3 L359.16 538.3 L360.16 538.31 L361.16 538.31 L362.15 538.31 L363.15 538.31 L364.15 538.31 L365.14 538.32 L366.14 538.32 L367.14 538.32 L368.13 538.32 L369.13 538.32 L370.13 538.33 L371.12 538.33 L372.12 538.33 L373.12 538.33 L374.12 538.33 L375.11 538.34 L376.11 538.34 L377.11 538.34 L378.1 538.34 L379.1 538.34 L379.1 538.34 L20.2 533.26 Z" stroke="none" fill="#42c7a5" stroke-width="1" fill-opacity="1"/>
<path d="M20.2 533.24 L21.2 533.25 L22.19 533.25 L23.19 533.24 L24.19 533.24 L25.18 533.24 L26.18 533.24 L27.18 533.24 L28.18 533.24 L29.17 533.24 L30.17 533.24 L31.17 533.24 L32.16 533.24 L33.16 533.24 L34.16 533.23 L35.15 533.23 L36.15 533.23 L37.15 533.23 L38.14 533.22 L39.14 533.22 L40.14 533.21 L41.14 533.21 L42.13 533.2 L43.13 533.2 L44.13 533.19 L45.12 533.18 L46.12 533.17 L47.12 533.16 L48.11 533.15 L49.11 533.14 L50.11 533.13 L51.11 533.12 L52.1 533.1 L53.1 533.09 L54.1 533.07 L55.09 533.05 L56.09 533.03 L57.09 533.01 L58.08 532.99 L59.08 532.97 L60.08 532.94 L61.07 532.91 L62.07 532.88 L63.07 532.85 L64.07 532.81 L65.06 532.77 L66.06 532.73 L67.06 532.69 L68.05 532.64 L69.05 532.59 L70.05 532.54 L71.04 532.48 L72.04 532.42 L73.04 532.36 L74.04 532.29 L75.03 532.22 L76.03 532.14 L77.03 532.06 L78.02 531.97 L79.02 531.88 L80.02 531.78 L81.01 531.68 L82.01 531.57 L83.01 531.46 L84 531.33 L85 531.21 L86 531.07 L87 530.93 L87.99 530.78 L88.99 530.62 L89.99 530.46 L90.98 530.28 L91.98 530.1 L92.98 529.91 L93.97 529.71 L94.97 529.5 L95.97 529.28 L96.96 529.05 L97.96 528.81 L98.96 528.56 L99.96 528.3 L100.95 528.03 L101.95 527.75 L102.95 527.46 L103.94 527.15 L104.94 526.83 L105.94 526.5 L106.93 526.16 L107.93 525.81 L108.93 525.44 L109.93 525.06 L110.92 524.67 L111.92 524.26 L112.92 523.85 L113.91 523.41 L114.91 522.97 L115.91 522.51 L116.9 522.04 L117.9 521.55 L118.9 521.05 L119.89 520.54 L120.89 520.02 L121.89 519.48 L122.89 518.93 L123.88 518.36 L124.88 517.79 L125.88 517.2 L126.87 516.59 L127.87 515.98 L128.87 515.36 L129.86 514.72 L130.86 514.07 L131.86 513.42 L132.85 512.75 L133.85 512.07 L134.85 511.39 L135.85 510.69 L136.84 509.99 L137.84 509.28 L138.84 508.57 L139.83 507.84 L140.83 507.12 L141.83 506.39 L142.82 505.65 L143.82 504.91 L144.82 504.17 L145.81 503.43 L146.81 502.69 L147.81 501.95 L148.81 501.21 L149.8 500.48 L150.8 499.74 L151.8 499.01 L152.79 498.29 L153.79 497.57 L154.79 496.86 L155.78 496.16 L156.78 495.47 L157.78 494.79 L158.78 494.12 L159.77 493.46 L160.77 492.82 L161.77 492.19 L162.76 491.57 L163.76 490.98 L164.76 490.4 L165.75 489.83 L166.75 489.29 L167.75 488.77 L168.74 488.27 L169.74 487.79 L170.74 487.33 L171.74 486.9 L172.73 486.49 L173.73 486.11 L174.73 485.75 L175.72 485.42 L176.72 485.12 L177.72 484.84 L178.71 484.6 L179.71 484.38 L180.71 484.19 L181.7 484.03 L182.7 483.9 L183.7 483.8 L184.7 483.73 L185.69 483.69 L186.69 483.68 L187.69 483.7 L188.68 483.76 L189.68 483.85 L190.68 483.98 L191.67 484.14 L192.67 484.34 L193.67 484.57 L194.67 484.84 L195.66 485.14 L196.66 485.47 L197.66 485.84 L198.65 486.24 L199.65 486.66 L200.65 487.12 L201.64 487.61 L202.64 488.13 L203.64 488.68 L204.63 489.25 L205.63 489.85 L206.63 490.47 L207.63 491.11 L208.62 491.78 L209.62 492.47 L210.62 493.18 L211.61 493.9 L212.61 494.65 L213.61 495.41 L214.6 496.18 L215.6 496.97 L216.6 497.77 L217.6 498.58 L218.59 499.4 L219.59 500.23 L220.59 501.07 L221.58 501.91 L222.58 502.75 L223.58 503.6 L224.57 504.45 L225.57 505.3 L226.57 506.16 L227.56 507.01 L228.56 507.85 L229.56 508.7 L230.56 509.54 L231.55 510.37 L232.55 511.2 L233.55 512.02 L234.54 512.83 L235.54 513.63 L236.54 514.43 L237.53 515.21 L238.53 515.98 L239.53 516.74 L240.52 517.49 L241.52 518.22 L242.52 518.94 L243.52 519.65 L244.51 520.34 L245.51 521.01 L246.51 521.68 L247.5 522.32 L248.5 522.95 L249.5 523.57 L250.49 524.17 L251.49 524.75 L252.49 525.32 L253.49 525.87 L254.48 526.41 L255.48 526.92 L256.48 527.43 L257.47 527.91 L258.47 528.38 L259.47 528.84 L260.46 529.28 L261.46 529.7 L262.46 530.11 L263.45 530.5 L264.45 530.88 L265.45 531.25 L266.45 531.6 L267.44 531.93 L268.44 532.25 L269.44 532.56 L270.43 532.86 L271.43 533.14 L272.43 533.41 L273.42 533.67 L274.42 533.92 L275.42 534.16 L276.41 534.38 L277.41 534.6 L278.41 534.8 L279.41 535 L280.4 535.18 L281.4 535.36 L282.4 535.53 L283.39 535.68 L284.39 535.83 L285.39 535.98 L286.38 536.11 L287.38 536.24 L288.38 536.36 L289.38 536.48 L290.37 536.58 L291.37 536.69 L292.37 536.78 L293.36 536.87 L294.36 536.96 L295.36 537.04 L296.35 537.12 L297.35 537.19 L298.35 537.26 L299.34 537.32 L300.34 537.38 L301.34 537.44 L302.34 537.49 L303.33 537.54 L304.33 537.59 L305.33 537.63 L306.32 537.67 L307.32 537.71 L308.32 537.75 L309.31 537.78 L310.31 537.81 L311.31 537.84 L312.3 537.87 L313.3 537.9 L314.3 537.92 L315.3 537.94 L316.29 537.97 L317.29 537.99 L318.29 538 L319.28 538.02 L320.28 538.04 L321.28 538.06 L322.27 538.07 L323.27 538.08 L324.27 538.1 L325.26 538.11 L326.26 538.12 L327.26 538.13 L328.26 538.14 L329.25 538.15 L330.25 538.16 L331.25 538.17 L332.24 538.18 L333.24 538.19 L334.24 538.19 L335.23 538.2 L336.23 538.21 L337.23 538.21 L338.23 538.22 L339.22 538.23 L340.22 538.23 L341.22 538.24 L342.21 538.24 L343.21 538.25 L344.21 538.25 L345.2 538.26 L346.2 538.26 L347.2 538.26 L348.19 538.27 L349.19 538.27 L350.19 538.28 L351.19 538.28 L352.18 538.28 L353.18 538.29 L354.18 538.29 L355.17 538.29 L356.17 538.29 L357.17 538.3 L358.16 538.3 L359.16 538.3 L360.16 538.31 L361.16 538.31 L362.15 538.31 L363.15 538.31 L364.15 538.31 L365.14 538.32 L366.14 538.32 L367.14 538.32 L368.13 538.32 L369.13 538.32 L370.13 538.33 L371.12 538.33 L372.12 538.33 L373.12 538.33 L374.12 538.33 L375.11 538.34 L376.11 538.34 L377.11 538.34 L378.1 538.34 L379.1 538.34" stroke="#2fae8e" fill="none" stroke-width="0.7" opacity="0.8"/>
<path d="M20.2 533.21 L21.2 533.21 L22.19 533.21 L23.19 533.21 L24.19 533.21 L25.18 533.21 L26.18 533.22 L27.18 533.22 L28.18 533.22 L29.17 533.22 L30.17 533.22 L31.17 533.22 L32.16 533.22 L33.16 533.23 L34.16 533.23 L35.15 533.23 L36.15 533.23 L37.15 533.23 L38.14 533.23 L39.14 533.24 L40.14 533.24 L41.14 533.24 L42.13 533.24 L43.13 533.24 L44.13 533.25 L45.12 533.25 L46.12 533.25 L47.12 533.25 L48.11 533.25 L49.11 533.26 L50.11 533.26 L51.11 533.26 L52.1 533.26 L53.1 533.27 L54.1 533.27 L55.09 533.27 L56.09 533.27 L57.09 533.28 L58.08 533.28 L59.08 533.28 L60.08 533.29 L61.07 533.29 L62.07 533.29 L63.07 533.3 L64.07 533.3 L65.06 533.3 L66.06 533.31 L67.06 533.31 L68.05 533.31 L69.05 533.32 L70.05 533.32 L71.04 533.33 L72.04 533.33 L73.04 533.33 L74.04 533.34 L75.03 533.34 L76.03 533.35 L77.03 533.35 L78.02 533.36 L79.02 533.36 L80.02 533.37 L81.01 533.37 L82.01 533.38 L83.01 533.38 L84 533.39 L85 533.39 L86 533.4 L87 533.41 L87.99 533.41 L88.99 533.42 L89.99 533.42 L90.98 533.43 L91.98 533.44 L92.98 533.44 L93.97 533.45 L94.97 533.46 L95.97 533.47 L96.96 533.47 L97.96 533.48 L98.96 533.49 L99.96 533.5 L100.95 533.5 L101.95 533.51 L102.95 533.52 L103.94 533.53 L104.94 533.54 L105.94 533.55 L106.93 533.56 L107.93 533.57 L108.93 533.58 L109.93 533.59 L110.92 533.6 L111.92 533.61 L112.92 533.62 L113.91 533.63 L114.91 533.64 L115.91 533.65 L116.9 533.66 L117.9 533.67 L118.9 533.68 L119.89 533.7 L120.89 533.71 L121.89 533.72 L122.89 533.73 L123.88 533.75 L124.88 533.76 L125.88 533.77 L126.87 533.79 L127.87 533.8 L128.87 533.81 L129.86 533.83 L130.86 533.84 L131.86 533.86 L132.85 533.87 L133.85 533.89 L134.85 533.9 L135.85 533.92 L136.84 533.94 L137.84 533.95 L138.84 533.97 L139.83 533.99 L140.83 534 L141.83 534.02 L142.82 534.04 L143.82 534.06 L144.82 534.08 L145.81 534.1 L146.81 534.11 L147.81 534.13 L148.81 534.15 L149.8 534.17 L150.8 534.19 L151.8 534.21 L152.79 534.23 L153.79 534.25 L154.79 534.27 L155.78 534.3 L156.78 534.32 L157.78 534.34 L158.78 534.36 L159.77 534.38 L160.77 534.4 L161.77 534.43 L162.76 534.45 L163.76 534.47 L164.76 534.5 L165.75 534.52 L166.75 534.54 L167.75 534.57 L168.74 534.59 L169.74 534.61 L170.74 534.64 L171.74 534.66 L172.73 534.69 L173.73 534.71 L174.73 534.74 L175.72 534.76 L176.72 534.79 L177.72 534.81 L178.71 534.84 L179.71 534.86 L180.71 534.89 L181.7 534.91 L182.7 534.94 L183.7 534.96 L184.7 534.99 L185.69 535.01 L186.69 535.04 L187.69 535.06 L188.68 535.09 L189.68 535.11 L190.68 535.14 L191.67 535.16 L192.67 535.18 L193.67 535.21 L194.67 535.23 L195.66 535.25 L196.66 535.28 L197.66 535.3 L198.65 535.32 L199.65 535.34 L200.65 535.36 L201.64 535.38 L202.64 535.4 L203.64 535.42 L204.63 535.43 L205.63 535.45 L206.63 535.46 L207.63 535.48 L208.62 535.49 L209.62 535.5 L210.62 535.5 L211.61 535.51 L212.61 535.51 L213.61 535.5 L214.6 535.5 L215.6 535.49 L216.6 535.48 L217.6 535.46 L218.59 535.43 L219.59 535.41 L220.59 535.37 L221.58 535.33 L222.58 535.28 L223.58 535.22 L224.57 535.15 L225.57 535.07 L226.57 534.98 L227.56 534.88 L228.56 534.76 L229.56 534.63 L230.56 534.49 L231.55 534.33 L232.55 534.15 L233.55 533.96 L234.54 533.74 L235.54 533.5 L236.54 533.25 L237.53 532.96 L238.53 532.66 L239.53 532.32 L240.52 531.96 L241.52 531.58 L242.52 531.16 L243.52 530.72 L244.51 530.24 L245.51 529.73 L246.51 529.19 L247.5 528.62 L248.5 528.02 L249.5 527.38 L250.49 526.72 L251.49 526.02 L252.49 525.29 L253.49 524.53 L254.48 523.74 L255.48 522.93 L256.48 522.09 L257.47 521.22 L258.47 520.33 L259.47 519.43 L260.46 518.51 L261.46 517.57 L262.46 516.63 L263.45 515.68 L264.45 514.73 L265.45 513.78 L266.45 512.83 L267.44 511.9 L268.44 510.98 L269.44 510.08 L270.43 509.21 L271.43 508.37 L272.43 507.56 L273.42 506.79 L274.42 506.07 L275.42 505.4 L276.41 504.78 L277.41 504.23 L278.41 503.74 L279.41 503.31 L280.4 502.96 L281.4 502.69 L282.4 502.49 L283.39 502.38 L284.39 502.34 L285.39 502.38 L286.38 502.51 L287.38 502.71 L288.38 502.99 L289.38 503.35 L290.37 503.79 L291.37 504.29 L292.37 504.85 L293.36 505.48 L294.36 506.16 L295.36 506.9 L296.35 507.68 L297.35 508.51 L298.35 509.37 L299.34 510.26 L300.34 511.18 L301.34 512.12 L302.34 513.08 L303.33 514.05 L304.33 515.02 L305.33 516 L306.32 516.98 L307.32 517.95 L308.32 518.91 L309.31 519.87 L310.31 520.8 L311.31 521.72 L312.3 522.62 L313.3 523.49 L314.3 524.34 L315.3 525.16 L316.29 525.95 L317.29 526.72 L318.29 527.45 L319.28 528.15 L320.28 528.82 L321.28 529.46 L322.27 530.07 L323.27 530.64 L324.27 531.19 L325.26 531.7 L326.26 532.18 L327.26 532.64 L328.26 533.06 L329.25 533.45 L330.25 533.82 L331.25 534.17 L332.24 534.48 L333.24 534.78 L334.24 535.05 L335.23 535.3 L336.23 535.54 L337.23 535.75 L338.23 535.94 L339.22 536.12 L340.22 536.29 L341.22 536.44 L342.21 536.57 L343.21 536.7 L344.21 536.81 L345.2 536.92 L346.2 537.01 L347.2 537.1 L348.19 537.17 L349.19 537.25 L350.19 537.31 L351.19 537.37 L352.18 537.42 L353.18 537.47 L354.18 537.51 L355.17 537.55 L356.17 537.59 L357.17 537.62 L358.16 537.65 L359.16 537.68 L360.16 537.71 L361.16 537.73 L362.15 537.76 L363.15 537.78 L364.15 537.8 L365.14 537.81 L366.14 537.83 L367.14 537.85 L368.13 537.86 L369.13 537.88 L370.13 537.89 L371.12 537.9 L372.12 537.91 L373.12 537.92 L374.12 537.94 L375.11 537.95 L376.11 537.96 L377.11 537.97 L378.1 537.98 L379.1 537.98 L379.1 538.34 L20.2 533.26 Z" stroke="none" fill="#4fb65b" stroke-width="1" fill-opacity="0.9"/>
<path d="M20.2 533.21 L21.2 533.21 L22.19 533.21 L23.19 533.21 L24.19 533.21 L25.18 533.21 L26.18 533.22 L27.18 533.22 L28.18 533.22 L29.17 533.22 L30.17 533.22 L31.17 533.22 L32.16 533.22 L33.16 533.23 L34.16 533.23 L35.15 533.23 L36.15 533.23 L37.15 533.23 L38.14 533.23 L39.14 533.24 L40.14 533.24 L41.14 533.24 L42.13 533.24 L43.13 533.24 L44.13 533.25 L45.12 533.25 L46.12 533.25 L47.12 533.25 L48.11 533.25 L49.11 533.26 L50.11 533.26 L51.11 533.26 L52.1 533.26 L53.1 533.27 L54.1 533.27 L55.09 533.27 L56.09 533.27 L57.09 533.28 L58.08 533.28 L59.08 533.28 L60.08 533.29 L61.07 533.29 L62.07 533.29 L63.07 533.3 L64.07 533.3 L65.06 533.3 L66.06 533.31 L67.06 533.31 L68.05 533.31 L69.05 533.32 L70.05 533.32 L71.04 533.33 L72.04 533.33 L73.04 533.33 L74.04 533.34 L75.03 533.34 L76.03 533.35 L77.03 533.35 L78.02 533.36 L79.02 533.36 L80.02 533.37 L81.01 533.37 L82.01 533.38 L83.01 533.38 L84 533.39 L85 533.39 L86 533.4 L87 533.41 L87.99 533.41 L88.99 533.42 L89.99 533.42 L90.98 533.43 L91.98 533.44 L92.98 533.44 L93.97 533.45 L94.97 533.46 L95.97 533.47 L96.96 533.47 L97.96 533.48 L98.96 533.49 L99.96 533.5 L100.95 533.5 L101.95 533.51 L102.95 533.52 L103.94 533.53 L104.94 533.54 L105.94 533.55 L106.93 533.56 L107.93 533.57 L108.93 533.58 L109.93 533.59 L110.92 533.6 L111.92 533.61 L112.92 533.62 L113.91 533.63 L114.91 533.64 L115.91 533.65 L116.9 533.66 L117.9 533.67 L118.9 533.68 L119.89 533.7 L120.89 533.71 L121.89 533.72 L122.89 533.73 L123.88 533.75 L124.88 533.76 L125.88 533.77 L126.87 533.79 L127.87 533.8 L128.87 533.81 L129.86 533.83 L130.86 533.84 L131.86 533.86 L132.85 533.87 L133.85 533.89 L134.85 533.9 L135.85 533.92 L136.84 533.94 L137.84 533.95 L138.84 533.97 L139.83 533.99 L140.83 534 L141.83 534.02 L142.82 534.04 L143.82 534.06 L144.82 534.08 L145.81 534.1 L146.81 534.11 L147.81 534.13 L148.81 534.15 L149.8 534.17 L150.8 534.19 L151.8 534.21 L152.79 534.23 L153.79 534.25 L154.79 534.27 L155.78 534.3 L156.78 534.32 L157.78 534.34 L158.78 534.36 L159.77 534.38 L160.77 534.4 L161.77 534.43 L162.76 534.45 L163.76 534.47 L164.76 534.5 L165.75 534.52 L166.75 534.54 L167.75 534.57 L168.74 534.59 L169.74 534.61 L170.74 534.64 L171.74 534.66 L172.73 534.69 L173.73 534.71 L174.73 534.74 L175.72 534.76 L176.72 534.79 L177.72 534.81 L178.71 534.84 L179.71 534.86 L180.71 534.89 L181.7 534.91 L182.7 534.94 L183.7 534.96 L184.7 534.99 L185.69 535.01 L186.69 535.04 L187.69 535.06 L188.68 535.09 L189.68 535.11 L190.68 535.14 L191.67 535.16 L192.67 535.18 L193.67 535.21 L194.67 535.23 L195.66 535.25 L196.66 535.28 L197.66 535.3 L198.65 535.32 L199.65 535.34 L200.65 535.36 L201.64 535.38 L202.64 535.4 L203.64 535.42 L204.63 535.43 L205.63 535.45 L206.63 535.46 L207.63 535.48 L208.62 535.49 L209.62 535.5 L210.62 535.5 L211.61 535.51 L212.61 535.51 L213.61 535.5 L214.6 535.5 L215.6 535.49 L216.6 535.48 L217.6 535.46 L218.59 535.43 L219.59 535.41 L220.59 535.37 L221.58 535.33 L222.58 535.28 L223.58 535.22 L224.57 535.15 L225.57 535.07 L226.57 534.98 L227.56 534.88 L228.56 534.76 L229.56 534.63 L230.56 534.49 L231.55 534.33 L232.55 534.15 L233.55 533.96 L234.54 533.74 L235.54 533.5 L236.54 533.25 L237.53 532.96 L238.53 532.66 L239.53 532.32 L240.52 531.96 L241.52 531.58 L242.52 531.16 L243.52 530.72 L244.51 530.24 L245.51 529.73 L246.51 529.19 L247.5 528.62 L248.5 528.02 L249.5 527.38 L250.49 526.72 L251.49 526.02 L252.49 525.29 L253.49 524.53 L254.48 523.74 L255.48 522.93 L256.48 522.09 L257.47 521.22 L258.47 520.33 L259.47 519.43 L260.46 518.51 L261.46 517.57 L262.46 516.63 L263.45 515.68 L264.45 514.73 L265.45 513.78 L266.45 512.83 L267.44 511.9 L268.44 510.98 L269.44 510.08 L270.43 509.21 L271.43 508.37 L272.43 507.56 L273.42 506.79 L274.42 506.07 L275.42 505.4 L276.41 504.78 L277.41 504.23 L278.41 503.74 L279.41 503.31 L280.4 502.96 L281.4 502.69 L282.4 502.49 L283.39 502.38 L284.39 502.34 L285.39 502.38 L286.38 502.51 L287.38 502.71 L288.38 502.99 L289.38 503.35 L290.37 503.79 L291.37 504.29 L292.37 504.85 L293.36 505.48 L294.36 506.16 L295.36 506.9 L296.35 507.68 L297.35 508.51 L298.35 509.37 L299.34 510.26 L300.34 511.18 L301.34 512.12 L302.34 513.08 L303.33 514.05 L304.33 515.02 L305.33 516 L306.32 516.98 L307.32 517.95 L308.32 518.91 L309.31 519.87 L310.31 520.8 L311.31 521.72 L312.3 522.62 L313.3 523.49 L314.3 524.34 L315.3 525.16 L316.29 525.95 L317.29 526.72 L318.29 527.45 L319.28 528.15 L320.28 528.82 L321.28 529.46 L322.27 530.07 L323.27 530.64 L324.27 531.19 L325.26 531.7 L326.26 532.18 L327.26 532.64 L328.26 533.06 L329.25 533.45 L330.25 533.82 L331.25 534.17 L332.24 534.48 L333.24 534.78 L334.24 535.05 L335.23 535.3 L336.23 535.54 L337.23 535.75 L338.23 535.94 L339.22 536.12 L340.22 536.29 L341.22 536.44 L342.21 536.57 L343.21 536.7 L344.21 536.81 L345.2 536.92 L346.2 537.01 L347.2 537.1 L348.19 537.17 L349.19 537.25 L350.19 537.31 L351.19 537.37 L352.18 537.42 L353.18 537.47 L354.18 537.51 L355.17 537.55 L356.17 537.59 L357.17 537.62 L358.16 537.65 L359.16 537.68 L360.16 537.71 L361.16 537.73 L362.15 537.76 L363.15 537.78 L364.15 537.8 L365.14 537.81 L366.14 537.83 L367.14 537.85 L368.13 537.86 L369.13 537.88 L370.13 537.89 L371.12 537.9 L372.12 537.91 L373.12 537.92 L374.12 537.94 L375.11 537.95 L376.11 537.96 L377.11 537.97 L378.1 537.98 L379.1 537.98" stroke="#3c9e49" fill="none" stroke-width="0.7" opacity="0.8"/>
<path d="M20.2 533.19 L21.2 533.18 L22.19 533.18 L23.19 533.18 L24.19 533.17 L25.18 533.17 L26.18 533.17 L27.18 533.16 L28.18 533.16 L29.17 533.15 L30.17 533.14 L31.17 533.14 L32.16 533.13 L33.16 533.12 L34.16 533.11 L35.15 533.1 L36.15 533.09 L37.15 533.08 L38.14 533.06 L39.14 533.05 L40.14 533.03 L41.14 533.02 L42.13 533 L43.13 532.98 L44.13 532.96 L45.12 532.94 L46.12 532.91 L47.12 532.89 L48.11 532.86 L49.11 532.83 L50.11 532.8 L51.11 532.77 L52.1 532.73 L53.1 532.69 L54.1 532.66 L55.09 532.61 L56.09 532.57 L57.09 532.53 L58.08 532.48 L59.08 532.43 L60.08 532.38 L61.07 532.32 L62.07 532.26 L63.07 532.21 L64.07 532.14 L65.06 532.08 L66.06 532.02 L67.06 531.95 L68.05 531.88 L69.05 531.81 L70.05 531.74 L71.04 531.66 L72.04 531.58 L73.04 531.51 L74.04 531.43 L75.03 531.35 L76.03 531.27 L77.03 531.19 L78.02 531.11 L79.02 531.02 L80.02 530.94 L81.01 530.86 L82.01 530.78 L83.01 530.7 L84 530.62 L85 530.54 L86 530.46 L87 530.39 L87.99 530.31 L88.99 530.24 L89.99 530.17 L90.98 530.11 L91.98 530.05 L92.98 529.99 L93.97 529.93 L94.97 529.88 L95.97 529.84 L96.96 529.79 L97.96 529.76 L98.96 529.72 L99.96 529.7 L100.95 529.68 L101.95 529.66 L102.95 529.65 L103.94 529.64 L104.94 529.65 L105.94 529.65 L106.93 529.66 L107.93 529.68 L108.93 529.71 L109.93 529.74 L110.92 529.77 L111.92 529.82 L112.92 529.86 L113.91 529.92 L114.91 529.97 L115.91 530.04 L116.9 530.1 L117.9 530.17 L118.9 530.25 L119.89 530.33 L120.89 530.41 L121.89 530.5 L122.89 530.59 L123.88 530.68 L124.88 530.77 L125.88 530.87 L126.87 530.97 L127.87 531.07 L128.87 531.17 L129.86 531.28 L130.86 531.38 L131.86 531.48 L132.85 531.59 L133.85 531.69 L134.85 531.8 L135.85 531.9 L136.84 532.01 L137.84 532.11 L138.84 532.21 L139.83 532.32 L140.83 532.42 L141.83 532.52 L142.82 532.61 L143.82 532.71 L144.82 532.8 L145.81 532.9 L146.81 532.99 L147.81 533.08 L148.81 533.16 L149.8 533.25 L150.8 533.33 L151.8 533.41 L152.79 533.49 L153.79 533.57 L154.79 533.65 L155.78 533.72 L156.78 533.79 L157.78 533.86 L158.78 533.93 L159.77 533.99 L160.77 534.06 L161.77 534.12 L162.76 534.18 L163.76 534.24 L164.76 534.3 L165.75 534.35 L166.75 534.41 L167.75 534.46 L168.74 534.51 L169.74 534.56 L170.74 534.61 L171.74 534.66 L172.73 534.7 L173.73 534.75 L174.73 534.79 L175.72 534.84 L176.72 534.88 L177.72 534.92 L178.71 534.96 L179.71 535.01 L180.71 535.05 L181.7 535.08 L182.7 535.12 L183.7 535.16 L184.7 535.2 L185.69 535.24 L186.69 535.28 L187.69 535.31 L188.68 535.35 L189.68 535.39 L190.68 535.42 L191.67 535.46 L192.67 535.49 L193.67 535.53 L194.67 535.56 L195.66 535.6 L196.66 535.63 L197.66 535.67 L198.65 535.7 L199.65 535.74 L200.65 535.77 L201.64 535.81 L202.64 535.84 L203.64 535.87 L204.63 535.91 L205.63 535.94 L206.63 535.98 L207.63 536.01 L208.62 536.04 L209.62 536.07 L210.62 536.11 L211.61 536.14 L212.61 536.17 L213.61 536.2 L214.6 536.24 L215.6 536.27 L216.6 536.3 L217.6 536.33 L218.59 536.36 L219.59 536.39 L220.59 536.43 L221.58 536.46 L222.58 536.49 L223.58 536.52 L224.57 536.55 L225.57 536.58 L226.57 536.61 L227.56 536.64 L228.56 536.67 L229.56 536.69 L230.56 536.72 L231.55 536.75 L232.55 536.78 L233.55 536.81 L234.54 536.83 L235.54 536.86 L236.54 536.89 L237.53 536.92 L238.53 536.94 L239.53 536.97 L240.52 536.99 L241.52 537.02 L242.52 537.04 L243.52 537.07 L244.51 537.09 L245.51 537.12 L246.51 537.14 L247.5 537.17 L248.5 537.19 L249.5 537.21 L250.49 537.23 L251.49 537.26 L252.49 537.28 L253.49 537.3 L254.48 537.32 L255.48 537.34 L256.48 537.36 L257.47 537.38 L258.47 537.4 L259.47 537.42 L260.46 537.44 L261.46 537.46 L262.46 537.48 L263.45 537.5 L264.45 537.52 L265.45 537.54 L266.45 537.55 L267.44 537.57 L268.44 537.59 L269.44 537.61 L270.43 537.62 L271.43 537.64 L272.43 537.66 L273.42 537.67 L274.42 537.69 L275.42 537.7 L276.41 537.72 L277.41 537.73 L278.41 537.74 L279.41 537.76 L280.4 537.77 L281.4 537.79 L282.4 537.8 L283.39 537.81 L284.39 537.83 L285.39 537.84 L286.38 537.85 L287.38 537.86 L288.38 537.87 L289.38 537.89 L290.37 537.9 L291.37 537.91 L292.37 537.92 L293.36 537.93 L294.36 537.94 L295.36 537.95 L296.35 537.96 L297.35 537.97 L298.35 537.98 L299.34 537.99 L300.34 538 L301.34 538.01 L302.34 538.02 L303.33 538.02 L304.33 538.03 L305.33 538.04 L306.32 538.05 L307.32 538.06 L308.32 538.07 L309.31 538.07 L310.31 538.08 L311.31 538.09 L312.3 538.09 L313.3 538.1 L314.3 538.11 L315.3 538.12 L316.29 538.12 L317.29 538.13 L318.29 538.13 L319.28 538.14 L320.28 538.15 L321.28 538.15 L322.27 538.16 L323.27 538.16 L324.27 538.17 L325.26 538.17 L326.26 538.18 L327.26 538.18 L328.26 538.19 L329.25 538.19 L330.25 538.2 L331.25 538.2 L332.24 538.21 L333.24 538.21 L334.24 538.22 L335.23 538.22 L336.23 538.23 L337.23 538.23 L338.23 538.23 L339.22 538.24 L340.22 538.24 L341.22 538.24 L342.21 538.25 L343.21 538.25 L344.21 538.26 L345.2 538.26 L346.2 538.26 L347.2 538.27 L348.19 538.27 L349.19 538.27 L350.19 538.27 L351.19 538.28 L352.18 538.28 L353.18 538.28 L354.18 538.29 L355.17 538.29 L356.17 538.29 L357.17 538.29 L358.16 538.3 L359.16 538.3 L360.16 538.3 L361.16 538.3 L362.15 538.31 L363.15 538.31 L364.15 538.31 L365.14 538.31 L366.14 538.31 L367.14 538.32 L368.13 538.32 L369.13 538.32 L370.13 538.32 L371.12 538.32 L372.12 538.32 L373.12 538.33 L374.12 538.33 L375.11 538.33 L376.11 538.33 L377.11 538.33 L378.1 538.33 L379.1 538.34 L379.1 538.34 L20.2 533.26 Z" stroke="none" fill="#2aa3ee" stroke-width="1" fill-opacity="1"/>
<path d="M20.2 533.19 L21.2 533.18 L22.19 533.18 L23.19 533.18 L24.19 533.17 L25.18 533.17 L26.18 533.17 L27.18 533.16 L28.18 533.16 L29.17 533.15 L30.17 533.14 L31.17 533.14 L32.16 533.13 L33.16 533.12 L34.16 533.11 L35.15 533.1 L36.15 533.09 L37.15 533.08 L38.14 533.06 L39.14 533.05 L40.14 533.03 L41.14 533.02 L42.13 533 L43.13 532.98 L44.13 532.96 L45.12 532.94 L46.12 532.91 L47.12 532.89 L48.11 532.86 L49.11 532.83 L50.11 532.8 L51.11 532.77 L52.1 532.73 L53.1 532.69 L54.1 532.66 L55.09 532.61 L56.09 532.57 L57.09 532.53 L58.08 532.48 L59.08 532.43 L60.08 532.38 L61.07 532.32 L62.07 532.26 L63.07 532.21 L64.07 532.14 L65.06 532.08 L66.06 532.02 L67.06 531.95 L68.05 531.88 L69.05 531.81 L70.05 531.74 L71.04 531.66 L72.04 531.58 L73.04 531.51 L74.04 531.43 L75.03 531.35 L76.03 531.27 L77.03 531.19 L78.02 531.11 L79.02 531.02 L80.02 530.94 L81.01 530.86 L82.01 530.78 L83.01 530.7 L84 530.62 L85 530.54 L86 530.46 L87 530.39 L87.99 530.31 L88.99 530.24 L89.99 530.17 L90.98 530.11 L91.98 530.05 L92.98 529.99 L93.97 529.93 L94.97 529.88 L95.97 529.84 L96.96 529.79 L97.96 529.76 L98.96 529.72 L99.96 529.7 L100.95 529.68 L101.95 529.66 L102.95 529.65 L103.94 529.64 L104.94 529.65 L105.94 529.65 L106.93 529.66 L107.93 529.68 L108.93 529.71 L109.93 529.74 L110.92 529.77 L111.92 529.82 L112.92 529.86 L113.91 529.92 L114.91 529.97 L115.91 530.04 L116.9 530.1 L117.9 530.17 L118.9 530.25 L119.89 530.33 L120.89 530.41 L121.89 530.5 L122.89 530.59 L123.88 530.68 L124.88 530.77 L125.88 530.87 L126.87 530.97 L127.87 531.07 L128.87 531.17 L129.86 531.28 L130.86 531.38 L131.86 531.48 L132.85 531.59 L133.85 531.69 L134.85 531.8 L135.85 531.9 L136.84 532.01 L137.84 532.11 L138.84 532.21 L139.83 532.32 L140.83 532.42 L141.83 532.52 L142.82 532.61 L143.82 532.71 L144.82 532.8 L145.81 532.9 L146.81 532.99 L147.81 533.08 L148.81 533.16 L149.8 533.25 L150.8 533.33 L151.8 533.41 L152.79 533.49 L153.79 533.57 L154.79 533.65 L155.78 533.72 L156.78 533.79 L157.78 533.86 L158.78 533.93 L159.77 533.99 L160.77 534.06 L161.77 534.12 L162.76 534.18 L163.76 534.24 L164.76 534.3 L165.75 534.35 L166.75 534.41 L167.75 534.46 L168.74 534.51 L169.74 534.56 L170.74 534.61 L171.74 534.66 L172.73 534.7 L173.73 534.75 L174.73 534.79 L175.72 534.84 L176.72 534.88 L177.72 534.92 L178.71 534.96 L179.71 535.01 L180.71 535.05 L181.7 535.08 L182.7 535.12 L183.7 535.16 L184.7 535.2 L185.69 535.24 L186.69 535.28 L187.69 535.31 L188.68 535.35 L189.68 535.39 L190.68 535.42 L191.67 535.46 L192.67 535.49 L193.67 535.53 L194.67 535.56 L195.66 535.6 L196.66 535.63 L197.66 535.67 L198.65 535.7 L199.65 535.74 L200.65 535.77 L201.64 535.81 L202.64 535.84 L203.64 535.87 L204.63 535.91 L205.63 535.94 L206.63 535.98 L207.63 536.01 L208.62 536.04 L209.62 536.07 L210.62 536.11 L211.61 536.14 L212.61 536.17 L213.61 536.2 L214.6 536.24 L215.6 536.27 L216.6 536.3 L217.6 536.33 L218.59 536.36 L219.59 536.39 L220.59 536.43 L221.58 536.46 L222.58 536.49 L223.58 536.52 L224.57 536.55 L225.57 536.58 L226.57 536.61 L227.56 536.64 L228.56 536.67 L229.56 536.69 L230.56 536.72 L231.55 536.75 L232.55 536.78 L233.55 536.81 L234.54 536.83 L235.54 536.86 L236.54 536.89 L237.53 536.92 L238.53 536.94 L239.53 536.97 L240.52 536.99 L241.52 537.02 L242.52 537.04 L243.52 537.07 L244.51 537.09 L245.51 537.12 L246.51 537.14 L247.5 537.17 L248.5 537.19 L249.5 537.21 L250.49 537.23 L251.49 537.26 L252.49 537.28 L253.49 537.3 L254.48 537.32 L255.48 537.34 L256.48 537.36 L257.47 537.38 L258.47 537.4 L259.47 537.42 L260.46 537.44 L261.46 537.46 L262.46 537.48 L263.45 537.5 L264.45 537.52 L265.45 537.54 L266.45 537.55 L267.44 537.57 L268.44 537.59 L269.44 537.61 L270.43 537.62 L271.43 537.64 L272.43 537.66 L273.42 537.67 L274.42 537.69 L275.42 537.7 L276.41 537.72 L277.41 537.73 L278.41 537.74 L279.41 537.76 L280.4 537.77 L281.4 537.79 L282.4 537.8 L283.39 537.81 L284.39 537.83 L285.39 537.84 L286.38 537.85 L287.38 537.86 L288.38 537.87 L289.38 537.89 L290.37 537.9 L291.37 537.91 L292.37 537.92 L293.36 537.93 L294.36 537.94 L295.36 537.95 L296.35 537.96 L297.35 537.97 L298.35 537.98 L299.34 537.99 L300.34 538 L301.34 538.01 L302.34 538.02 L303.33 538.02 L304.33 538.03 L305.33 538.04 L306.32 538.05 L307.32 538.06 L308.32 538.07 L309.31 538.07 L310.31 538.08 L311.31 538.09 L312.3 538.09 L313.3 538.1 L314.3 538.11 L315.3 538.12 L316.29 538.12 L317.29 538.13 L318.29 538.13 L319.28 538.14 L320.28 538.15 L321.28 538.15 L322.27 538.16 L323.27 538.16 L324.27 538.17 L325.26 538.17 L326.26 538.18 L327.26 538.18 L328.26 538.19 L329.25 538.19 L330.25 538.2 L331.25 538.2 L332.24 538.21 L333.24 538.21 L334.24 538.22 L335.23 538.22 L336.23 538.23 L337.23 538.23 L338.23 538.23 L339.22 538.24 L340.22 538.24 L341.22 538.24 L342.21 538.25 L343.21 538.25 L344.21 538.26 L345.2 538.26 L346.2 538.26 L347.2 538.27 L348.19 538.27 L349.19 538.27 L350.19 538.27 L351.19 538.28 L352.18 538.28 L353.18 538.28 L354.18 538.29 L355.17 538.29 L356.17 538.29 L357.17 538.29 L358.16 538.3 L359.16 538.3 L360.16 538.3 L361.16 538.3 L362.15 538.31 L363.15 538.31 L364.15 538.31 L365.14 538.31 L366.14 538.31 L367.14 538.32 L368.13 538.32 L369.13 538.32 L370.13 538.32 L371.12 538.32 L372.12 538.32 L373.12 538.33 L374.12 538.33 L375.11 538.33 L376.11 538.33 L377.11 538.33 L378.1 538.33 L379.1 538.34" stroke="#1e8fd6" fill="none" stroke-width="0.7" opacity="0.8"/>
<clipPath id="envclip1"><path d="M20.2 533.26 L20.2 533.13 L21.2 533.12 L22.19 533.12 L23.19 533.11 L24.19 533.11 L25.18 533.1 L26.18 533.09 L27.18 533.09 L28.18 533.08 L29.17 533.07 L30.17 533.06 L31.17 533.05 L32.16 533.04 L33.16 533.02 L34.16 533.01 L35.15 532.99 L36.15 532.98 L37.15 532.96 L38.14 532.94 L39.14 532.92 L40.14 532.9 L41.14 532.87 L42.13 532.85 L43.13 532.82 L44.13 532.79 L45.12 532.75 L46.12 532.72 L47.12 532.68 L48.11 532.64 L49.11 532.6 L50.11 532.55 L51.11 532.5 L52.1 532.45 L53.1 532.39 L54.1 532.33 L55.09 532.27 L56.09 532.2 L57.09 532.13 L58.08 532.06 L59.08 531.98 L60.08 531.9 L61.07 531.81 L62.07 531.72 L63.07 531.62 L64.07 531.52 L65.06 531.41 L66.06 531.3 L67.06 531.19 L68.05 531.07 L69.05 530.94 L70.05 530.81 L71.04 530.67 L72.04 530.53 L73.04 530.38 L74.04 530.23 L75.03 530.07 L76.03 529.91 L77.03 529.74 L78.02 529.56 L79.02 529.38 L80.02 529.2 L81.01 529.01 L82.01 528.81 L83.01 528.61 L84 528.4 L85 528.18 L86 527.96 L87 527.74 L87.99 527.51 L88.99 527.27 L89.99 527.03 L90.98 526.78 L91.98 526.53 L92.98 526.27 L93.97 526.01 L94.97 525.74 L95.97 525.46 L96.96 525.18 L97.96 524.9 L98.96 524.61 L99.96 524.31 L100.95 524.01 L101.95 523.7 L102.95 523.38 L103.94 523.06 L104.94 522.73 L105.94 522.4 L106.93 522.06 L107.93 521.71 L108.93 521.36 L109.93 521 L110.92 520.63 L111.92 520.25 L112.92 519.87 L113.91 519.47 L114.91 519.07 L115.91 518.66 L116.9 518.24 L117.9 517.82 L118.9 517.38 L119.89 516.93 L120.89 516.47 L121.89 516 L122.89 515.53 L123.88 515.04 L124.88 514.54 L125.88 514.03 L126.87 513.51 L127.87 512.98 L128.87 512.44 L129.86 511.89 L130.86 511.33 L131.86 510.76 L132.85 510.18 L133.85 509.58 L134.85 508.98 L135.85 508.38 L136.84 507.76 L137.84 507.13 L138.84 506.5 L139.83 505.86 L140.83 505.21 L141.83 504.55 L142.82 503.9 L143.82 503.23 L144.82 502.56 L145.81 501.89 L146.81 501.22 L147.81 500.54 L148.81 499.87 L149.8 499.19 L150.8 498.52 L151.8 497.84 L152.79 497.17 L153.79 496.51 L154.79 495.85 L155.78 495.19 L156.78 494.54 L157.78 493.9 L158.78 493.27 L159.77 492.65 L160.77 492.04 L161.77 491.45 L162.76 490.86 L163.76 490.29 L164.76 489.74 L165.75 489.2 L166.75 488.68 L167.75 488.18 L168.74 487.7 L169.74 487.24 L170.74 486.8 L171.74 486.38 L172.73 485.99 L173.73 485.62 L174.73 485.27 L175.72 484.95 L176.72 484.66 L177.72 484.39 L178.71 484.15 L179.71 483.94 L180.71 483.75 L181.7 483.59 L182.7 483.47 L183.7 483.37 L184.7 483.3 L185.69 483.26 L186.69 483.25 L187.69 483.27 L188.68 483.33 L189.68 483.42 L190.68 483.54 L191.67 483.7 L192.67 483.89 L193.67 484.12 L194.67 484.38 L195.66 484.67 L196.66 485 L197.66 485.36 L198.65 485.75 L199.65 486.17 L200.65 486.62 L201.64 487.09 L202.64 487.6 L203.64 488.13 L204.63 488.69 L205.63 489.27 L206.63 489.88 L207.63 490.5 L208.62 491.15 L209.62 491.82 L210.62 492.5 L211.61 493.2 L212.61 493.91 L213.61 494.64 L214.6 495.38 L215.6 496.13 L216.6 496.88 L217.6 497.64 L218.59 498.41 L219.59 499.18 L220.59 499.95 L221.58 500.72 L222.58 501.49 L223.58 502.25 L224.57 503 L225.57 503.74 L226.57 504.48 L227.56 505.2 L228.56 505.9 L229.56 506.59 L230.56 507.26 L231.55 507.9 L232.55 508.53 L233.55 509.12 L234.54 509.69 L235.54 510.23 L236.54 510.74 L237.53 511.21 L238.53 511.65 L239.53 512.05 L240.52 512.41 L241.52 512.74 L242.52 513.02 L243.52 513.25 L244.51 513.44 L245.51 513.59 L246.51 513.69 L247.5 513.74 L248.5 513.75 L249.5 513.7 L250.49 513.61 L251.49 513.48 L252.49 513.29 L253.49 513.06 L254.48 512.79 L255.48 512.47 L256.48 512.11 L257.47 511.72 L258.47 511.28 L259.47 510.81 L260.46 510.31 L261.46 509.78 L262.46 509.23 L263.45 508.65 L264.45 508.06 L265.45 507.45 L266.45 506.84 L267.44 506.23 L268.44 505.62 L269.44 505.01 L270.43 504.42 L271.43 503.84 L272.43 503.29 L273.42 502.77 L274.42 502.28 L275.42 501.83 L276.41 501.42 L277.41 501.07 L278.41 500.77 L279.41 500.53 L280.4 500.35 L281.4 500.24 L282.4 500.19 L283.39 500.22 L284.39 500.32 L285.39 500.5 L286.38 500.74 L287.38 501.07 L288.38 501.46 L289.38 501.92 L290.37 502.45 L291.37 503.04 L292.37 503.69 L293.36 504.4 L294.36 505.16 L295.36 505.97 L296.35 506.82 L297.35 507.71 L298.35 508.62 L299.34 509.57 L300.34 510.54 L301.34 511.53 L302.34 512.53 L303.33 513.54 L304.33 514.55 L305.33 515.57 L306.32 516.58 L307.32 517.58 L308.32 518.57 L309.31 519.55 L310.31 520.51 L311.31 521.45 L312.3 522.37 L313.3 523.26 L314.3 524.13 L315.3 524.97 L316.29 525.78 L317.29 526.56 L318.29 527.3 L319.28 528.02 L320.28 528.7 L321.28 529.35 L322.27 529.97 L323.27 530.55 L324.27 531.1 L325.26 531.62 L326.26 532.11 L327.26 532.57 L328.26 533 L329.25 533.4 L330.25 533.77 L331.25 534.12 L332.24 534.44 L333.24 534.74 L334.24 535.01 L335.23 535.27 L336.23 535.5 L337.23 535.72 L338.23 535.92 L339.22 536.1 L340.22 536.26 L341.22 536.42 L342.21 536.55 L343.21 536.68 L344.21 536.8 L345.2 536.9 L346.2 537 L347.2 537.08 L348.19 537.16 L349.19 537.23 L350.19 537.3 L351.19 537.36 L352.18 537.41 L353.18 537.46 L354.18 537.5 L355.17 537.54 L356.17 537.58 L357.17 537.62 L358.16 537.65 L359.16 537.68 L360.16 537.7 L361.16 537.73 L362.15 537.75 L363.15 537.77 L364.15 537.79 L365.14 537.81 L366.14 537.82 L367.14 537.84 L368.13 537.85 L369.13 537.87 L370.13 537.88 L371.12 537.9 L372.12 537.91 L373.12 537.92 L374.12 537.93 L375.11 537.94 L376.11 537.95 L377.11 537.96 L378.1 537.97 L379.1 537.98 L379.1 538.34 Z"/></clipPath>
<rect x="20.2" y="450.3" width="358.90000000000003" height="95.69999999999999" fill="url(#mesh)" clip-path="url(#envclip1)"/>
<circle cx="21.7" cy="530.8" r="2.4" fill="#fff" stroke="#727272" stroke-width="1.0"/>
<circle cx="24.8" cy="531.79" r="2.4" fill="#fff" stroke="#727272" stroke-width="1.0"/>
<circle cx="27.9" cy="531.65" r="2.4" fill="#fff" stroke="#727272" stroke-width="1.0"/>
<circle cx="31" cy="530.91" r="2.4" fill="#fff" stroke="#727272" stroke-width="1.0"/>
<circle cx="34.1" cy="531.2" r="2.4" fill="#fff" stroke="#727272" stroke-width="1.0"/>
<circle cx="37.2" cy="531.09" r="2.4" fill="#fff" stroke="#727272" stroke-width="1.0"/>
<circle cx="40.3" cy="531.31" r="2.4" fill="#fff" stroke="#727272" stroke-width="1.0"/>
<circle cx="43.4" cy="531.42" r="2.4" fill="#fff" stroke="#727272" stroke-width="1.0"/>
<circle cx="46.5" cy="530.35" r="2.4" fill="#fff" stroke="#727272" stroke-width="1.0"/>
<circle cx="49.6" cy="530.14" r="2.4" fill="#fff" stroke="#727272" stroke-width="1.0"/>
<circle cx="52.7" cy="531.06" r="2.4" fill="#fff" stroke="#727272" stroke-width="1.0"/>
<circle cx="55.8" cy="530.31" r="2.4" fill="#fff" stroke="#727272" stroke-width="1.0"/>
<circle cx="58.9" cy="530.55" r="2.4" fill="#fff" stroke="#727272" stroke-width="1.0"/>
<circle cx="62" cy="529.22" r="2.4" fill="#fff" stroke="#727272" stroke-width="1.0"/>
<circle cx="65.1" cy="529.54" r="2.4" fill="#fff" stroke="#727272" stroke-width="1.0"/>
<circle cx="68.2" cy="529.58" r="2.4" fill="#fff" stroke="#727272" stroke-width="1.0"/>
<circle cx="71.3" cy="528.49" r="2.4" fill="#fff" stroke="#727272" stroke-width="1.0"/>
<circle cx="74.4" cy="529.05" r="2.4" fill="#fff" stroke="#727272" stroke-width="1.0"/>
<circle cx="77.5" cy="528.5" r="2.4" fill="#fff" stroke="#727272" stroke-width="1.0"/>
<circle cx="80.6" cy="526.55" r="2.4" fill="#fff" stroke="#727272" stroke-width="1.0"/>
<circle cx="83.7" cy="525.93" r="2.4" fill="#fff" stroke="#727272" stroke-width="1.0"/>
<circle cx="86.8" cy="526" r="2.4" fill="#fff" stroke="#727272" stroke-width="1.0"/>
<circle cx="89.9" cy="525.84" r="2.4" fill="#fff" stroke="#727272" stroke-width="1.0"/>
<circle cx="93" cy="524.3" r="2.4" fill="#fff" stroke="#727272" stroke-width="1.0"/>
<circle cx="96.1" cy="523.27" r="2.4" fill="#fff" stroke="#727272" stroke-width="1.0"/>
<circle cx="99.2" cy="522.69" r="2.4" fill="#fff" stroke="#727272" stroke-width="1.0"/>
<circle cx="102.3" cy="521.23" r="2.4" fill="#fff" stroke="#727272" stroke-width="1.0"/>
<circle cx="105.4" cy="520.54" r="2.4" fill="#fff" stroke="#727272" stroke-width="1.0"/>
<circle cx="108.5" cy="519.46" r="2.4" fill="#fff" stroke="#727272" stroke-width="1.0"/>
<circle cx="111.6" cy="518.42" r="2.4" fill="#fff" stroke="#727272" stroke-width="1.0"/>
<circle cx="114.7" cy="516.86" r="2.4" fill="#fff" stroke="#727272" stroke-width="1.0"/>
<circle cx="117.8" cy="515.58" r="2.4" fill="#fff" stroke="#727272" stroke-width="1.0"/>
<circle cx="120.9" cy="514.19" r="2.4" fill="#fff" stroke="#727272" stroke-width="1.0"/>
<circle cx="124" cy="513.06" r="2.4" fill="#fff" stroke="#727272" stroke-width="1.0"/>
<circle cx="127.1" cy="511.24" r="2.4" fill="#fff" stroke="#727272" stroke-width="1.0"/>
<circle cx="130.2" cy="509.18" r="2.4" fill="#fff" stroke="#727272" stroke-width="1.0"/>
<circle cx="133.3" cy="508.53" r="2.4" fill="#fff" stroke="#727272" stroke-width="1.0"/>
<circle cx="136.4" cy="505.63" r="2.4" fill="#fff" stroke="#727272" stroke-width="1.0"/>
<circle cx="139.5" cy="503.74" r="2.4" fill="#fff" stroke="#727272" stroke-width="1.0"/>
<circle cx="142.6" cy="501.04" r="2.4" fill="#fff" stroke="#727272" stroke-width="1.0"/>
<circle cx="145.7" cy="500.06" r="2.4" fill="#fff" stroke="#727272" stroke-width="1.0"/>
<circle cx="148.8" cy="497.75" r="2.4" fill="#fff" stroke="#727272" stroke-width="1.0"/>
<circle cx="151.9" cy="494.61" r="2.4" fill="#fff" stroke="#727272" stroke-width="1.0"/>
<circle cx="155" cy="492.85" r="2.4" fill="#fff" stroke="#727272" stroke-width="1.0"/>
<circle cx="158.1" cy="491.42" r="2.4" fill="#fff" stroke="#727272" stroke-width="1.0"/>
<circle cx="161.2" cy="489.54" r="2.4" fill="#fff" stroke="#727272" stroke-width="1.0"/>
<circle cx="164.3" cy="487.58" r="2.4" fill="#fff" stroke="#727272" stroke-width="1.0"/>
<circle cx="167.4" cy="485.36" r="2.4" fill="#fff" stroke="#727272" stroke-width="1.0"/>
<circle cx="170.5" cy="484.63" r="2.4" fill="#fff" stroke="#727272" stroke-width="1.0"/>
<circle cx="173.6" cy="483.31" r="2.4" fill="#fff" stroke="#727272" stroke-width="1.0"/>
<circle cx="176.7" cy="481.94" r="2.4" fill="#fff" stroke="#727272" stroke-width="1.0"/>
<circle cx="179.8" cy="481.72" r="2.4" fill="#fff" stroke="#727272" stroke-width="1.0"/>
<circle cx="182.9" cy="481.77" r="2.4" fill="#fff" stroke="#727272" stroke-width="1.0"/>
<circle cx="186" cy="481.6" r="2.4" fill="#fff" stroke="#727272" stroke-width="1.0"/>
<circle cx="189.1" cy="481.27" r="2.4" fill="#fff" stroke="#727272" stroke-width="1.0"/>
<circle cx="192.2" cy="482.02" r="2.4" fill="#fff" stroke="#727272" stroke-width="1.0"/>
<circle cx="195.3" cy="482.07" r="2.4" fill="#fff" stroke="#727272" stroke-width="1.0"/>
<circle cx="198.4" cy="483.48" r="2.4" fill="#fff" stroke="#727272" stroke-width="1.0"/>
<circle cx="201.5" cy="485.62" r="2.4" fill="#fff" stroke="#727272" stroke-width="1.0"/>
<circle cx="204.6" cy="486.69" r="2.4" fill="#fff" stroke="#727272" stroke-width="1.0"/>
<circle cx="207.7" cy="488.16" r="2.4" fill="#fff" stroke="#727272" stroke-width="1.0"/>
<circle cx="210.8" cy="490.67" r="2.4" fill="#fff" stroke="#727272" stroke-width="1.0"/>
<circle cx="213.9" cy="493" r="2.4" fill="#fff" stroke="#727272" stroke-width="1.0"/>
<circle cx="217" cy="495.17" r="2.4" fill="#fff" stroke="#727272" stroke-width="1.0"/>
<circle cx="220.1" cy="497.77" r="2.4" fill="#fff" stroke="#727272" stroke-width="1.0"/>
<circle cx="223.2" cy="500.09" r="2.4" fill="#fff" stroke="#727272" stroke-width="1.0"/>
<circle cx="226.3" cy="502.35" r="2.4" fill="#fff" stroke="#727272" stroke-width="1.0"/>
<circle cx="229.4" cy="504.75" r="2.4" fill="#fff" stroke="#727272" stroke-width="1.0"/>
<circle cx="232.5" cy="506.24" r="2.4" fill="#fff" stroke="#727272" stroke-width="1.0"/>
<circle cx="235.6" cy="507.66" r="2.4" fill="#fff" stroke="#727272" stroke-width="1.0"/>
<circle cx="238.7" cy="509.11" r="2.4" fill="#fff" stroke="#727272" stroke-width="1.0"/>
<circle cx="241.8" cy="509.45" r="2.4" fill="#fff" stroke="#727272" stroke-width="1.0"/>
<circle cx="244.9" cy="510.07" r="2.4" fill="#fff" stroke="#727272" stroke-width="1.0"/>
<circle cx="248" cy="511.2" r="2.4" fill="#fff" stroke="#727272" stroke-width="1.0"/>
<circle cx="251.1" cy="511.25" r="2.4" fill="#fff" stroke="#727272" stroke-width="1.0"/>
<circle cx="254.2" cy="509.96" r="2.4" fill="#fff" stroke="#727272" stroke-width="1.0"/>
<circle cx="257.3" cy="508.58" r="2.4" fill="#fff" stroke="#727272" stroke-width="1.0"/>
<circle cx="260.4" cy="506.85" r="2.4" fill="#fff" stroke="#727272" stroke-width="1.0"/>
<circle cx="263.5" cy="505.67" r="2.4" fill="#fff" stroke="#727272" stroke-width="1.0"/>
<circle cx="266.6" cy="504.57" r="2.4" fill="#fff" stroke="#727272" stroke-width="1.0"/>
<circle cx="269.7" cy="502.51" r="2.4" fill="#fff" stroke="#727272" stroke-width="1.0"/>
<circle cx="272.8" cy="500.54" r="2.4" fill="#fff" stroke="#727272" stroke-width="1.0"/>
<circle cx="275.9" cy="499.63" r="2.4" fill="#fff" stroke="#727272" stroke-width="1.0"/>
<circle cx="279" cy="497.55" r="2.4" fill="#fff" stroke="#727272" stroke-width="1.0"/>
<circle cx="282.1" cy="497.71" r="2.4" fill="#fff" stroke="#727272" stroke-width="1.0"/>
<circle cx="285.2" cy="498.74" r="2.4" fill="#fff" stroke="#727272" stroke-width="1.0"/>
<circle cx="288.3" cy="499.27" r="2.4" fill="#fff" stroke="#727272" stroke-width="1.0"/>
<circle cx="291.4" cy="500.78" r="2.4" fill="#fff" stroke="#727272" stroke-width="1.0"/>
<circle cx="294.5" cy="502.72" r="2.4" fill="#fff" stroke="#727272" stroke-width="1.0"/>
<circle cx="297.6" cy="505.72" r="2.4" fill="#fff" stroke="#727272" stroke-width="1.0"/>
<circle cx="300.7" cy="509.19" r="2.4" fill="#fff" stroke="#727272" stroke-width="1.0"/>
<circle cx="303.8" cy="510.91" r="2.4" fill="#fff" stroke="#727272" stroke-width="1.0"/>
<circle cx="306.9" cy="516.08" r="2.4" fill="#fff" stroke="#727272" stroke-width="1.0"/>
<circle cx="310" cy="519.09" r="2.4" fill="#fff" stroke="#727272" stroke-width="1.0"/>
<circle cx="313.1" cy="521.95" r="2.4" fill="#fff" stroke="#727272" stroke-width="1.0"/>
<circle cx="316.2" cy="524.28" r="2.4" fill="#fff" stroke="#727272" stroke-width="1.0"/>
<circle cx="319.3" cy="526.63" r="2.4" fill="#fff" stroke="#727272" stroke-width="1.0"/>
<circle cx="322.4" cy="528.18" r="2.4" fill="#fff" stroke="#727272" stroke-width="1.0"/>
<circle cx="325.5" cy="529.9" r="2.4" fill="#fff" stroke="#727272" stroke-width="1.0"/>
<circle cx="328.6" cy="531.09" r="2.4" fill="#fff" stroke="#727272" stroke-width="1.0"/>
<circle cx="331.7" cy="531.69" r="2.4" fill="#fff" stroke="#727272" stroke-width="1.0"/>
<circle cx="334.8" cy="533.98" r="2.4" fill="#fff" stroke="#727272" stroke-width="1.0"/>
<circle cx="337.9" cy="534.21" r="2.4" fill="#fff" stroke="#727272" stroke-width="1.0"/>
<circle cx="341" cy="534.2" r="2.4" fill="#fff" stroke="#727272" stroke-width="1.0"/>
<circle cx="344.1" cy="535" r="2.4" fill="#fff" stroke="#727272" stroke-width="1.0"/>
<circle cx="347.2" cy="535.26" r="2.4" fill="#fff" stroke="#727272" stroke-width="1.0"/>
<circle cx="350.3" cy="535.3" r="2.4" fill="#fff" stroke="#727272" stroke-width="1.0"/>
<circle cx="353.4" cy="535.44" r="2.4" fill="#fff" stroke="#727272" stroke-width="1.0"/>
<circle cx="356.5" cy="535.84" r="2.4" fill="#fff" stroke="#727272" stroke-width="1.0"/>
<circle cx="359.6" cy="536.05" r="2.4" fill="#fff" stroke="#727272" stroke-width="1.0"/>
<circle cx="362.7" cy="536.13" r="2.4" fill="#fff" stroke="#727272" stroke-width="1.0"/>
<circle cx="365.8" cy="535.97" r="2.4" fill="#fff" stroke="#727272" stroke-width="1.0"/>
<circle cx="368.9" cy="535.41" r="2.4" fill="#fff" stroke="#727272" stroke-width="1.0"/>
<circle cx="372" cy="535.73" r="2.4" fill="#fff" stroke="#727272" stroke-width="1.0"/>
<circle cx="375.1" cy="535.69" r="2.4" fill="#fff" stroke="#727272" stroke-width="1.0"/>
<path d="M20.2 533.86 L21.2 533.86 L22.19 533.86 L23.19 533.86 L24.19 533.86 L25.18 533.86 L26.18 533.87 L27.18 533.87 L28.18 533.87 L29.17 533.87 L30.17 533.87 L31.17 533.88 L32.16 533.88 L33.16 533.88 L34.16 533.88 L35.15 533.88 L36.15 533.89 L37.15 533.89 L38.14 533.89 L39.14 533.89 L40.14 533.89 L41.14 533.9 L42.13 533.9 L43.13 533.9 L44.13 533.9 L45.12 533.91 L46.12 533.91 L47.12 533.91 L48.11 533.91 L49.11 533.92 L50.11 533.92 L51.11 533.92 L52.1 533.93 L53.1 533.93 L54.1 533.93 L55.09 533.94 L56.09 533.94 L57.09 533.94 L58.08 533.95 L59.08 533.95 L60.08 533.95 L61.07 533.96 L62.07 533.96 L63.07 533.96 L64.07 533.97 L65.06 533.97 L66.06 533.98 L67.06 533.98 L68.05 533.99 L69.05 533.99 L70.05 533.99 L71.04 534 L72.04 534 L73.04 534.01 L74.04 534.01 L75.03 534.02 L76.03 534.02 L77.03 534.03 L78.02 534.04 L79.02 534.04 L80.02 534.05 L81.01 534.05 L82.01 534.06 L83.01 534.06 L84 534.07 L85 534.08 L86 534.08 L87 534.09 L87.99 534.1 L88.99 534.11 L89.99 534.11 L90.98 534.12 L91.98 534.13 L92.98 534.14 L93.97 534.14 L94.97 534.15 L95.97 534.16 L96.96 534.17 L97.96 534.18 L98.96 534.19 L99.96 534.19 L100.95 534.2 L101.95 534.21 L102.95 534.22 L103.94 534.23 L104.94 534.24 L105.94 534.25 L106.93 534.26 L107.93 534.27 L108.93 534.28 L109.93 534.29 L110.92 534.31 L111.92 534.32 L112.92 534.33 L113.91 534.34 L114.91 534.35 L115.91 534.37 L116.9 534.38 L117.9 534.39 L118.9 534.4 L119.89 534.42 L120.89 534.43 L121.89 534.45 L122.89 534.46 L123.88 534.47 L124.88 534.49 L125.88 534.5 L126.87 534.52 L127.87 534.54 L128.87 534.55 L129.86 534.57 L130.86 534.58 L131.86 534.6 L132.85 534.62 L133.85 534.64 L134.85 534.65 L135.85 534.67 L136.84 534.69 L137.84 534.71 L138.84 534.73 L139.83 534.75 L140.83 534.76 L141.83 534.78 L142.82 534.8 L143.82 534.82 L144.82 534.85 L145.81 534.87 L146.81 534.89 L147.81 534.91 L148.81 534.93 L149.8 534.95 L150.8 534.98 L151.8 535 L152.79 535.02 L153.79 535.05 L154.79 535.07 L155.78 535.09 L156.78 535.12 L157.78 535.14 L158.78 535.17 L159.77 535.19 L160.77 535.22 L161.77 535.24 L162.76 535.27 L163.76 535.3 L164.76 535.32 L165.75 535.35 L166.75 535.38 L167.75 535.41 L168.74 535.43 L169.74 535.46 L170.74 535.49 L171.74 535.52 L172.73 535.55 L173.73 535.58 L174.73 535.6 L175.72 535.63 L176.72 535.66 L177.72 535.69 L178.71 535.72 L179.71 535.75 L180.71 535.78 L181.7 535.82 L182.7 535.85 L183.7 535.88 L184.7 535.91 L185.69 535.94 L186.69 535.97 L187.69 536 L188.68 536.03 L189.68 536.07 L190.68 536.1 L191.67 536.13 L192.67 536.16 L193.67 536.19 L194.67 536.23 L195.66 536.26 L196.66 536.29 L197.66 536.32 L198.65 536.36 L199.65 536.39 L200.65 536.42 L201.64 536.45 L202.64 536.49 L203.64 536.52 L204.63 536.55 L205.63 536.58 L206.63 536.61 L207.63 536.65 L208.62 536.68 L209.62 536.71 L210.62 536.74 L211.61 536.77 L212.61 536.81 L213.61 536.84 L214.6 536.87 L215.6 536.9 L216.6 536.93 L217.6 536.96 L218.59 536.99 L219.59 537.02 L220.59 537.05 L221.58 537.08 L222.58 537.11 L223.58 537.14 L224.57 537.17 L225.57 537.2 L226.57 537.23 L227.56 537.26 L228.56 537.29 L229.56 537.32 L230.56 537.35 L231.55 537.38 L232.55 537.4 L233.55 537.43 L234.54 537.46 L235.54 537.48 L236.54 537.51 L237.53 537.54 L238.53 537.56 L239.53 537.59 L240.52 537.61 L241.52 537.64 L242.52 537.66 L243.52 537.69 L244.51 537.71 L245.51 537.74 L246.51 537.76 L247.5 537.78 L248.5 537.81 L249.5 537.83 L250.49 537.85 L251.49 537.88 L252.49 537.9 L253.49 537.92 L254.48 537.94 L255.48 537.96 L256.48 537.98 L257.47 538 L258.47 538.02 L259.47 538.04 L260.46 538.06 L261.46 538.08 L262.46 538.1 L263.45 538.12 L264.45 538.13 L265.45 538.15 L266.45 538.17 L267.44 538.19 L268.44 538.2 L269.44 538.22 L270.43 538.24 L271.43 538.25 L272.43 538.27 L273.42 538.28 L274.42 538.3 L275.42 538.31 L276.41 538.33 L277.41 538.34 L278.41 538.36 L279.41 538.37 L280.4 538.39 L281.4 538.4 L282.4 538.41 L283.39 538.42 L284.39 538.44 L285.39 538.45 L286.38 538.46 L287.38 538.47 L288.38 538.49 L289.38 538.5 L290.37 538.51 L291.37 538.52 L292.37 538.53 L293.36 538.54 L294.36 538.55 L295.36 538.56 L296.35 538.57 L297.35 538.58 L298.35 538.59 L299.34 538.6 L300.34 538.61 L301.34 538.62 L302.34 538.63 L303.33 538.63 L304.33 538.64 L305.33 538.65 L306.32 538.66 L307.32 538.67 L308.32 538.67 L309.31 538.68 L310.31 538.69 L311.31 538.7 L312.3 538.7 L313.3 538.71 L314.3 538.72 L315.3 538.72 L316.29 538.73 L317.29 538.74 L318.29 538.74 L319.28 538.75 L320.28 538.76 L321.28 538.76 L322.27 538.77 L323.27 538.77 L324.27 538.78 L325.26 538.78 L326.26 538.79 L327.26 538.79 L328.26 538.8 L329.25 538.8 L330.25 538.81 L331.25 538.81 L332.24 538.82 L333.24 538.82 L334.24 538.82 L335.23 538.83 L336.23 538.83 L337.23 538.84 L338.23 538.84 L339.22 538.84 L340.22 538.85 L341.22 538.85 L342.21 538.86 L343.21 538.86 L344.21 538.86 L345.2 538.87 L346.2 538.87 L347.2 538.87 L348.19 538.88 L349.19 538.88 L350.19 538.88 L351.19 538.88 L352.18 538.89 L353.18 538.89 L354.18 538.89 L355.17 538.89 L356.17 538.9 L357.17 538.9 L358.16 538.9 L359.16 538.9 L360.16 538.91 L361.16 538.91 L362.15 538.91 L363.15 538.91 L364.15 538.92 L365.14 538.92 L366.14 538.92 L367.14 538.92 L368.13 538.92 L369.13 538.93 L370.13 538.93 L371.12 538.93 L372.12 538.93 L373.12 538.93 L374.12 538.93 L375.11 538.94 L376.11 538.94 L377.11 538.94 L378.1 538.94 L379.1 538.94" stroke="#f5871f" fill="none" stroke-width="1.4" />
<path d="M20.2 533.13 L21.2 533.12 L22.19 533.12 L23.19 533.11 L24.19 533.11 L25.18 533.1 L26.18 533.09 L27.18 533.09 L28.18 533.08 L29.17 533.07 L30.17 533.06 L31.17 533.05 L32.16 533.04 L33.16 533.02 L34.16 533.01 L35.15 532.99 L36.15 532.98 L37.15 532.96 L38.14 532.94 L39.14 532.92 L40.14 532.9 L41.14 532.87 L42.13 532.85 L43.13 532.82 L44.13 532.79 L45.12 532.75 L46.12 532.72 L47.12 532.68 L48.11 532.64 L49.11 532.6 L50.11 532.55 L51.11 532.5 L52.1 532.45 L53.1 532.39 L54.1 532.33 L55.09 532.27 L56.09 532.2 L57.09 532.13 L58.08 532.06 L59.08 531.98 L60.08 531.9 L61.07 531.81 L62.07 531.72 L63.07 531.62 L64.07 531.52 L65.06 531.41 L66.06 531.3 L67.06 531.19 L68.05 531.07 L69.05 530.94 L70.05 530.81 L71.04 530.67 L72.04 530.53 L73.04 530.38 L74.04 530.23 L75.03 530.07 L76.03 529.91 L77.03 529.74 L78.02 529.56 L79.02 529.38 L80.02 529.2 L81.01 529.01 L82.01 528.81 L83.01 528.61 L84 528.4 L85 528.18 L86 527.96 L87 527.74 L87.99 527.51 L88.99 527.27 L89.99 527.03 L90.98 526.78 L91.98 526.53 L92.98 526.27 L93.97 526.01 L94.97 525.74 L95.97 525.46 L96.96 525.18 L97.96 524.9 L98.96 524.61 L99.96 524.31 L100.95 524.01 L101.95 523.7 L102.95 523.38 L103.94 523.06 L104.94 522.73 L105.94 522.4 L106.93 522.06 L107.93 521.71 L108.93 521.36 L109.93 521 L110.92 520.63 L111.92 520.25 L112.92 519.87 L113.91 519.47 L114.91 519.07 L115.91 518.66 L116.9 518.24 L117.9 517.82 L118.9 517.38 L119.89 516.93 L120.89 516.47 L121.89 516 L122.89 515.53 L123.88 515.04 L124.88 514.54 L125.88 514.03 L126.87 513.51 L127.87 512.98 L128.87 512.44 L129.86 511.89 L130.86 511.33 L131.86 510.76 L132.85 510.18 L133.85 509.58 L134.85 508.98 L135.85 508.38 L136.84 507.76 L137.84 507.13 L138.84 506.5 L139.83 505.86 L140.83 505.21 L141.83 504.55 L142.82 503.9 L143.82 503.23 L144.82 502.56 L145.81 501.89 L146.81 501.22 L147.81 500.54 L148.81 499.87 L149.8 499.19 L150.8 498.52 L151.8 497.84 L152.79 497.17 L153.79 496.51 L154.79 495.85 L155.78 495.19 L156.78 494.54 L157.78 493.9 L158.78 493.27 L159.77 492.65 L160.77 492.04 L161.77 491.45 L162.76 490.86 L163.76 490.29 L164.76 489.74 L165.75 489.2 L166.75 488.68 L167.75 488.18 L168.74 487.7 L169.74 487.24 L170.74 486.8 L171.74 486.38 L172.73 485.99 L173.73 485.62 L174.73 485.27 L175.72 484.95 L176.72 484.66 L177.72 484.39 L178.71 484.15 L179.71 483.94 L180.71 483.75 L181.7 483.59 L182.7 483.47 L183.7 483.37 L184.7 483.3 L185.69 483.26 L186.69 483.25 L187.69 483.27 L188.68 483.33 L189.68 483.42 L190.68 483.54 L191.67 483.7 L192.67 483.89 L193.67 484.12 L194.67 484.38 L195.66 484.67 L196.66 485 L197.66 485.36 L198.65 485.75 L199.65 486.17 L200.65 486.62 L201.64 487.09 L202.64 487.6 L203.64 488.13 L204.63 488.69 L205.63 489.27 L206.63 489.88 L207.63 490.5 L208.62 491.15 L209.62 491.82 L210.62 492.5 L211.61 493.2 L212.61 493.91 L213.61 494.64 L214.6 495.38 L215.6 496.13 L216.6 496.88 L217.6 497.64 L218.59 498.41 L219.59 499.18 L220.59 499.95 L221.58 500.72 L222.58 501.49 L223.58 502.25 L224.57 503 L225.57 503.74 L226.57 504.48 L227.56 505.2 L228.56 505.9 L229.56 506.59 L230.56 507.26 L231.55 507.9 L232.55 508.53 L233.55 509.12 L234.54 509.69 L235.54 510.23 L236.54 510.74 L237.53 511.21 L238.53 511.65 L239.53 512.05 L240.52 512.41 L241.52 512.74 L242.52 513.02 L243.52 513.25 L244.51 513.44 L245.51 513.59 L246.51 513.69 L247.5 513.74 L248.5 513.75 L249.5 513.7 L250.49 513.61 L251.49 513.48 L252.49 513.29 L253.49 513.06 L254.48 512.79 L255.48 512.47 L256.48 512.11 L257.47 511.72 L258.47 511.28 L259.47 510.81 L260.46 510.31 L261.46 509.78 L262.46 509.23 L263.45 508.65 L264.45 508.06 L265.45 507.45 L266.45 506.84 L267.44 506.23 L268.44 505.62 L269.44 505.01 L270.43 504.42 L271.43 503.84 L272.43 503.29 L273.42 502.77 L274.42 502.28 L275.42 501.83 L276.41 501.42 L277.41 501.07 L278.41 500.77 L279.41 500.53 L280.4 500.35 L281.4 500.24 L282.4 500.19 L283.39 500.22 L284.39 500.32 L285.39 500.5 L286.38 500.74 L287.38 501.07 L288.38 501.46 L289.38 501.92 L290.37 502.45 L291.37 503.04 L292.37 503.69 L293.36 504.4 L294.36 505.16 L295.36 505.97 L296.35 506.82 L297.35 507.71 L298.35 508.62 L299.34 509.57 L300.34 510.54 L301.34 511.53 L302.34 512.53 L303.33 513.54 L304.33 514.55 L305.33 515.57 L306.32 516.58 L307.32 517.58 L308.32 518.57 L309.31 519.55 L310.31 520.51 L311.31 521.45 L312.3 522.37 L313.3 523.26 L314.3 524.13 L315.3 524.97 L316.29 525.78 L317.29 526.56 L318.29 527.3 L319.28 528.02 L320.28 528.7 L321.28 529.35 L322.27 529.97 L323.27 530.55 L324.27 531.1 L325.26 531.62 L326.26 532.11 L327.26 532.57 L328.26 533 L329.25 533.4 L330.25 533.77 L331.25 534.12 L332.24 534.44 L333.24 534.74 L334.24 535.01 L335.23 535.27 L336.23 535.5 L337.23 535.72 L338.23 535.92 L339.22 536.1 L340.22 536.26 L341.22 536.42 L342.21 536.55 L343.21 536.68 L344.21 536.8 L345.2 536.9 L346.2 537 L347.2 537.08 L348.19 537.16 L349.19 537.23 L350.19 537.3 L351.19 537.36 L352.18 537.41 L353.18 537.46 L354.18 537.5 L355.17 537.54 L356.17 537.58 L357.17 537.62 L358.16 537.65 L359.16 537.68 L360.16 537.7 L361.16 537.73 L362.15 537.75 L363.15 537.77 L364.15 537.79 L365.14 537.81 L366.14 537.82 L367.14 537.84 L368.13 537.85 L369.13 537.87 L370.13 537.88 L371.12 537.9 L372.12 537.91 L373.12 537.92 L374.12 537.93 L375.11 537.94 L376.11 537.95 L377.11 537.96 L378.1 537.97 L379.1 537.98" stroke="#ee1c24" fill="none" stroke-width="1.7" stroke-linejoin="round"/>
<path d="M20.2 627.24 L21.2 627.24 L22.19 627.23 L23.19 627.23 L24.19 627.22 L25.18 627.21 L26.18 627.21 L27.18 627.2 L28.18 627.19 L29.17 627.19 L30.17 627.18 L31.17 627.18 L32.16 627.17 L33.16 627.16 L34.16 627.15 L35.15 627.15 L36.15 627.14 L37.15 627.13 L38.14 627.13 L39.14 627.12 L40.14 627.11 L41.14 627.1 L42.13 627.09 L43.13 627.09 L44.13 627.08 L45.12 627.07 L46.12 627.06 L47.12 627.05 L48.11 627.04 L49.11 627.03 L50.11 627.02 L51.11 627.01 L52.1 627 L53.1 626.99 L54.1 626.98 L55.09 626.97 L56.09 626.96 L57.09 626.95 L58.08 626.94 L59.08 626.93 L60.08 626.92 L61.07 626.91 L62.07 626.89 L63.07 626.88 L64.07 626.87 L65.06 626.85 L66.06 626.84 L67.06 626.82 L68.05 626.81 L69.05 626.79 L70.05 626.78 L71.04 626.76 L72.04 626.74 L73.04 626.72 L74.04 626.71 L75.03 626.69 L76.03 626.67 L77.03 626.64 L78.02 626.62 L79.02 626.6 L80.02 626.57 L81.01 626.55 L82.01 626.52 L83.01 626.49 L84 626.46 L85 626.42 L86 626.39 L87 626.35 L87.99 626.31 L88.99 626.27 L89.99 626.22 L90.98 626.18 L91.98 626.12 L92.98 626.07 L93.97 626.01 L94.97 625.95 L95.97 625.88 L96.96 625.81 L97.96 625.73 L98.96 625.65 L99.96 625.56 L100.95 625.46 L101.95 625.36 L102.95 625.25 L103.94 625.13 L104.94 625 L105.94 624.86 L106.93 624.72 L107.93 624.56 L108.93 624.39 L109.93 624.21 L110.92 624.02 L111.92 623.82 L112.92 623.6 L113.91 623.36 L114.91 623.11 L115.91 622.85 L116.9 622.56 L117.9 622.26 L118.9 621.94 L119.89 621.6 L120.89 621.24 L121.89 620.86 L122.89 620.45 L123.88 620.03 L124.88 619.57 L125.88 619.1 L126.87 618.6 L127.87 618.07 L128.87 617.52 L129.86 616.93 L130.86 616.32 L131.86 615.68 L132.85 615.02 L133.85 614.32 L134.85 613.59 L135.85 612.83 L136.84 612.05 L137.84 611.23 L138.84 610.38 L139.83 609.5 L140.83 608.6 L141.83 607.66 L142.82 606.69 L143.82 605.7 L144.82 604.68 L145.81 603.63 L146.81 602.56 L147.81 601.46 L148.81 600.34 L149.8 599.2 L150.8 598.04 L151.8 596.86 L152.79 595.66 L153.79 594.45 L154.79 593.23 L155.78 592 L156.78 590.76 L157.78 589.52 L158.78 588.28 L159.77 587.04 L160.77 585.8 L161.77 584.58 L162.76 583.36 L163.76 582.17 L164.76 580.99 L165.75 579.83 L166.75 578.7 L167.75 577.61 L168.74 576.54 L169.74 575.52 L170.74 574.54 L171.74 573.61 L172.73 572.73 L173.73 571.91 L174.73 571.15 L175.72 570.45 L176.72 569.82 L177.72 569.26 L178.71 568.77 L179.71 568.36 L180.71 568.03 L181.7 567.78 L182.7 567.62 L183.7 567.54 L184.7 567.54 L185.69 567.63 L186.69 567.81 L187.69 568.06 L188.68 568.4 L189.68 568.82 L190.68 569.32 L191.67 569.9 L192.67 570.54 L193.67 571.26 L194.67 572.04 L195.66 572.89 L196.66 573.79 L197.66 574.75 L198.65 575.76 L199.65 576.81 L200.65 577.91 L201.64 579.04 L202.64 580.21 L203.64 581.4 L204.63 582.63 L205.63 583.87 L206.63 585.13 L207.63 586.4 L208.62 587.69 L209.62 588.98 L210.62 590.27 L211.61 591.57 L212.61 592.86 L213.61 594.15 L214.6 595.43 L215.6 596.7 L216.6 597.95 L217.6 599.19 L218.59 600.42 L219.59 601.62 L220.59 602.8 L221.58 603.96 L222.58 605.1 L223.58 606.21 L224.57 607.3 L225.57 608.35 L226.57 609.38 L227.56 610.38 L228.56 611.35 L229.56 612.29 L230.56 613.2 L231.55 614.08 L232.55 614.93 L233.55 615.75 L234.54 616.54 L235.54 617.29 L236.54 618.02 L237.53 618.72 L238.53 619.38 L239.53 620.02 L240.52 620.63 L241.52 621.21 L242.52 621.77 L243.52 622.29 L244.51 622.8 L245.51 623.27 L246.51 623.73 L247.5 624.16 L248.5 624.56 L249.5 624.95 L250.49 625.31 L251.49 625.66 L252.49 625.99 L253.49 626.29 L254.48 626.58 L255.48 626.86 L256.48 627.11 L257.47 627.36 L258.47 627.59 L259.47 627.8 L260.46 628 L261.46 628.19 L262.46 628.37 L263.45 628.54 L264.45 628.7 L265.45 628.85 L266.45 628.99 L267.44 629.12 L268.44 629.24 L269.44 629.36 L270.43 629.47 L271.43 629.57 L272.43 629.67 L273.42 629.76 L274.42 629.85 L275.42 629.93 L276.41 630.01 L277.41 630.08 L278.41 630.15 L279.41 630.22 L280.4 630.28 L281.4 630.34 L282.4 630.4 L283.39 630.45 L284.39 630.5 L285.39 630.55 L286.38 630.6 L287.38 630.64 L288.38 630.69 L289.38 630.73 L290.37 630.77 L291.37 630.8 L292.37 630.84 L293.36 630.88 L294.36 630.91 L295.36 630.94 L296.35 630.98 L297.35 631.01 L298.35 631.04 L299.34 631.06 L300.34 631.09 L301.34 631.12 L302.34 631.15 L303.33 631.17 L304.33 631.2 L305.33 631.22 L306.32 631.25 L307.32 631.27 L308.32 631.29 L309.31 631.31 L310.31 631.33 L311.31 631.36 L312.3 631.38 L313.3 631.4 L314.3 631.41 L315.3 631.43 L316.29 631.45 L317.29 631.47 L318.29 631.49 L319.28 631.51 L320.28 631.52 L321.28 631.54 L322.27 631.56 L323.27 631.57 L324.27 631.59 L325.26 631.6 L326.26 631.62 L327.26 631.63 L328.26 631.65 L329.25 631.66 L330.25 631.67 L331.25 631.69 L332.24 631.7 L333.24 631.71 L334.24 631.73 L335.23 631.74 L336.23 631.75 L337.23 631.76 L338.23 631.77 L339.22 631.79 L340.22 631.8 L341.22 631.81 L342.21 631.82 L343.21 631.83 L344.21 631.84 L345.2 631.85 L346.2 631.86 L347.2 631.87 L348.19 631.88 L349.19 631.89 L350.19 631.9 L351.19 631.91 L352.18 631.92 L353.18 631.93 L354.18 631.93 L355.17 631.94 L356.17 631.95 L357.17 631.96 L358.16 631.97 L359.16 631.98 L360.16 631.98 L361.16 631.99 L362.15 632 L363.15 632.01 L364.15 632.01 L365.14 632.02 L366.14 632.03 L367.14 632.03 L368.13 632.04 L369.13 632.05 L370.13 632.05 L371.12 632.06 L372.12 632.07 L373.12 632.07 L374.12 632.08 L375.11 632.08 L376.11 632.09 L377.11 632.1 L378.1 632.1 L379.1 632.11 L379.1 632.56 L20.2 627.87 Z" stroke="none" fill="#42c7a5" stroke-width="1" fill-opacity="1"/>
<path d="M20.2 627.24 L21.2 627.24 L22.19 627.23 L23.19 627.23 L24.19 627.22 L25.18 627.21 L26.18 627.21 L27.18 627.2 L28.18 627.19 L29.17 627.19 L30.17 627.18 L31.17 627.18 L32.16 627.17 L33.16 627.16 L34.16 627.15 L35.15 627.15 L36.15 627.14 L37.15 627.13 L38.14 627.13 L39.14 627.12 L40.14 627.11 L41.14 627.1 L42.13 627.09 L43.13 627.09 L44.13 627.08 L45.12 627.07 L46.12 627.06 L47.12 627.05 L48.11 627.04 L49.11 627.03 L50.11 627.02 L51.11 627.01 L52.1 627 L53.1 626.99 L54.1 626.98 L55.09 626.97 L56.09 626.96 L57.09 626.95 L58.08 626.94 L59.08 626.93 L60.08 626.92 L61.07 626.91 L62.07 626.89 L63.07 626.88 L64.07 626.87 L65.06 626.85 L66.06 626.84 L67.06 626.82 L68.05 626.81 L69.05 626.79 L70.05 626.78 L71.04 626.76 L72.04 626.74 L73.04 626.72 L74.04 626.71 L75.03 626.69 L76.03 626.67 L77.03 626.64 L78.02 626.62 L79.02 626.6 L80.02 626.57 L81.01 626.55 L82.01 626.52 L83.01 626.49 L84 626.46 L85 626.42 L86 626.39 L87 626.35 L87.99 626.31 L88.99 626.27 L89.99 626.22 L90.98 626.18 L91.98 626.12 L92.98 626.07 L93.97 626.01 L94.97 625.95 L95.97 625.88 L96.96 625.81 L97.96 625.73 L98.96 625.65 L99.96 625.56 L100.95 625.46 L101.95 625.36 L102.95 625.25 L103.94 625.13 L104.94 625 L105.94 624.86 L106.93 624.72 L107.93 624.56 L108.93 624.39 L109.93 624.21 L110.92 624.02 L111.92 623.82 L112.92 623.6 L113.91 623.36 L114.91 623.11 L115.91 622.85 L116.9 622.56 L117.9 622.26 L118.9 621.94 L119.89 621.6 L120.89 621.24 L121.89 620.86 L122.89 620.45 L123.88 620.03 L124.88 619.57 L125.88 619.1 L126.87 618.6 L127.87 618.07 L128.87 617.52 L129.86 616.93 L130.86 616.32 L131.86 615.68 L132.85 615.02 L133.85 614.32 L134.85 613.59 L135.85 612.83 L136.84 612.05 L137.84 611.23 L138.84 610.38 L139.83 609.5 L140.83 608.6 L141.83 607.66 L142.82 606.69 L143.82 605.7 L144.82 604.68 L145.81 603.63 L146.81 602.56 L147.81 601.46 L148.81 600.34 L149.8 599.2 L150.8 598.04 L151.8 596.86 L152.79 595.66 L153.79 594.45 L154.79 593.23 L155.78 592 L156.78 590.76 L157.78 589.52 L158.78 588.28 L159.77 587.04 L160.77 585.8 L161.77 584.58 L162.76 583.36 L163.76 582.17 L164.76 580.99 L165.75 579.83 L166.75 578.7 L167.75 577.61 L168.74 576.54 L169.74 575.52 L170.74 574.54 L171.74 573.61 L172.73 572.73 L173.73 571.91 L174.73 571.15 L175.72 570.45 L176.72 569.82 L177.72 569.26 L178.71 568.77 L179.71 568.36 L180.71 568.03 L181.7 567.78 L182.7 567.62 L183.7 567.54 L184.7 567.54 L185.69 567.63 L186.69 567.81 L187.69 568.06 L188.68 568.4 L189.68 568.82 L190.68 569.32 L191.67 569.9 L192.67 570.54 L193.67 571.26 L194.67 572.04 L195.66 572.89 L196.66 573.79 L197.66 574.75 L198.65 575.76 L199.65 576.81 L200.65 577.91 L201.64 579.04 L202.64 580.21 L203.64 581.4 L204.63 582.63 L205.63 583.87 L206.63 585.13 L207.63 586.4 L208.62 587.69 L209.62 588.98 L210.62 590.27 L211.61 591.57 L212.61 592.86 L213.61 594.15 L214.6 595.43 L215.6 596.7 L216.6 597.95 L217.6 599.19 L218.59 600.42 L219.59 601.62 L220.59 602.8 L221.58 603.96 L222.58 605.1 L223.58 606.21 L224.57 607.3 L225.57 608.35 L226.57 609.38 L227.56 610.38 L228.56 611.35 L229.56 612.29 L230.56 613.2 L231.55 614.08 L232.55 614.93 L233.55 615.75 L234.54 616.54 L235.54 617.29 L236.54 618.02 L237.53 618.72 L238.53 619.38 L239.53 620.02 L240.52 620.63 L241.52 621.21 L242.52 621.77 L243.52 622.29 L244.51 622.8 L245.51 623.27 L246.51 623.73 L247.5 624.16 L248.5 624.56 L249.5 624.95 L250.49 625.31 L251.49 625.66 L252.49 625.99 L253.49 626.29 L254.48 626.58 L255.48 626.86 L256.48 627.11 L257.47 627.36 L258.47 627.59 L259.47 627.8 L260.46 628 L261.46 628.19 L262.46 628.37 L263.45 628.54 L264.45 628.7 L265.45 628.85 L266.45 628.99 L267.44 629.12 L268.44 629.24 L269.44 629.36 L270.43 629.47 L271.43 629.57 L272.43 629.67 L273.42 629.76 L274.42 629.85 L275.42 629.93 L276.41 630.01 L277.41 630.08 L278.41 630.15 L279.41 630.22 L280.4 630.28 L281.4 630.34 L282.4 630.4 L283.39 630.45 L284.39 630.5 L285.39 630.55 L286.38 630.6 L287.38 630.64 L288.38 630.69 L289.38 630.73 L290.37 630.77 L291.37 630.8 L292.37 630.84 L293.36 630.88 L294.36 630.91 L295.36 630.94 L296.35 630.98 L297.35 631.01 L298.35 631.04 L299.34 631.06 L300.34 631.09 L301.34 631.12 L302.34 631.15 L303.33 631.17 L304.33 631.2 L305.33 631.22 L306.32 631.25 L307.32 631.27 L308.32 631.29 L309.31 631.31 L310.31 631.33 L311.31 631.36 L312.3 631.38 L313.3 631.4 L314.3 631.41 L315.3 631.43 L316.29 631.45 L317.29 631.47 L318.29 631.49 L319.28 631.51 L320.28 631.52 L321.28 631.54 L322.27 631.56 L323.27 631.57 L324.27 631.59 L325.26 631.6 L326.26 631.62 L327.26 631.63 L328.26 631.65 L329.25 631.66 L330.25 631.67 L331.25 631.69 L332.24 631.7 L333.24 631.71 L334.24 631.73 L335.23 631.74 L336.23 631.75 L337.23 631.76 L338.23 631.77 L339.22 631.79 L340.22 631.8 L341.22 631.81 L342.21 631.82 L343.21 631.83 L344.21 631.84 L345.2 631.85 L346.2 631.86 L347.2 631.87 L348.19 631.88 L349.19 631.89 L350.19 631.9 L351.19 631.91 L352.18 631.92 L353.18 631.93 L354.18 631.93 L355.17 631.94 L356.17 631.95 L357.17 631.96 L358.16 631.97 L359.16 631.98 L360.16 631.98 L361.16 631.99 L362.15 632 L363.15 632.01 L364.15 632.01 L365.14 632.02 L366.14 632.03 L367.14 632.03 L368.13 632.04 L369.13 632.05 L370.13 632.05 L371.12 632.06 L372.12 632.07 L373.12 632.07 L374.12 632.08 L375.11 632.08 L376.11 632.09 L377.11 632.1 L378.1 632.1 L379.1 632.11" stroke="#2fae8e" fill="none" stroke-width="0.7" opacity="0.8"/>
<path d="M20.2 627.79 L21.2 627.79 L22.19 627.79 L23.19 627.79 L24.19 627.79 L25.18 627.8 L26.18 627.8 L27.18 627.8 L28.18 627.8 L29.17 627.8 L30.17 627.8 L31.17 627.8 L32.16 627.81 L33.16 627.81 L34.16 627.81 L35.15 627.81 L36.15 627.81 L37.15 627.81 L38.14 627.82 L39.14 627.82 L40.14 627.82 L41.14 627.82 L42.13 627.82 L43.13 627.83 L44.13 627.83 L45.12 627.83 L46.12 627.83 L47.12 627.84 L48.11 627.84 L49.11 627.84 L50.11 627.84 L51.11 627.85 L52.1 627.85 L53.1 627.85 L54.1 627.85 L55.09 627.86 L56.09 627.86 L57.09 627.86 L58.08 627.87 L59.08 627.87 L60.08 627.87 L61.07 627.88 L62.07 627.88 L63.07 627.88 L64.07 627.89 L65.06 627.89 L66.06 627.89 L67.06 627.9 L68.05 627.9 L69.05 627.91 L70.05 627.91 L71.04 627.92 L72.04 627.92 L73.04 627.92 L74.04 627.93 L75.03 627.93 L76.03 627.94 L77.03 627.94 L78.02 627.95 L79.02 627.95 L80.02 627.96 L81.01 627.97 L82.01 627.97 L83.01 627.98 L84 627.98 L85 627.99 L86 628 L87 628 L87.99 628.01 L88.99 628.02 L89.99 628.02 L90.98 628.03 L91.98 628.04 L92.98 628.04 L93.97 628.05 L94.97 628.06 L95.97 628.07 L96.96 628.08 L97.96 628.08 L98.96 628.09 L99.96 628.1 L100.95 628.11 L101.95 628.12 L102.95 628.13 L103.94 628.14 L104.94 628.15 L105.94 628.16 L106.93 628.17 L107.93 628.18 L108.93 628.19 L109.93 628.2 L110.92 628.21 L111.92 628.22 L112.92 628.23 L113.91 628.24 L114.91 628.25 L115.91 628.26 L116.9 628.28 L117.9 628.29 L118.9 628.3 L119.89 628.31 L120.89 628.33 L121.89 628.34 L122.89 628.35 L123.88 628.37 L124.88 628.38 L125.88 628.39 L126.87 628.41 L127.87 628.42 L128.87 628.44 L129.86 628.45 L130.86 628.47 L131.86 628.48 L132.85 628.5 L133.85 628.51 L134.85 628.53 L135.85 628.55 L136.84 628.56 L137.84 628.58 L138.84 628.6 L139.83 628.61 L140.83 628.63 L141.83 628.65 L142.82 628.67 L143.82 628.69 L144.82 628.7 L145.81 628.72 L146.81 628.74 L147.81 628.76 L148.81 628.78 L149.8 628.8 L150.8 628.82 L151.8 628.84 L152.79 628.86 L153.79 628.88 L154.79 628.9 L155.78 628.92 L156.78 628.94 L157.78 628.96 L158.78 628.98 L159.77 629 L160.77 629.02 L161.77 629.04 L162.76 629.07 L163.76 629.09 L164.76 629.11 L165.75 629.13 L166.75 629.15 L167.75 629.17 L168.74 629.19 L169.74 629.22 L170.74 629.24 L171.74 629.26 L172.73 629.28 L173.73 629.3 L174.73 629.32 L175.72 629.35 L176.72 629.37 L177.72 629.39 L178.71 629.41 L179.71 629.43 L180.71 629.45 L181.7 629.47 L182.7 629.49 L183.7 629.51 L184.7 629.53 L185.69 629.55 L186.69 629.57 L187.69 629.59 L188.68 629.61 L189.68 629.62 L190.68 629.64 L191.67 629.66 L192.67 629.67 L193.67 629.69 L194.67 629.7 L195.66 629.71 L196.66 629.72 L197.66 629.73 L198.65 629.74 L199.65 629.75 L200.65 629.75 L201.64 629.76 L202.64 629.76 L203.64 629.76 L204.63 629.75 L205.63 629.75 L206.63 629.74 L207.63 629.72 L208.62 629.71 L209.62 629.69 L210.62 629.67 L211.61 629.64 L212.61 629.61 L213.61 629.57 L214.6 629.52 L215.6 629.47 L216.6 629.42 L217.6 629.35 L218.59 629.28 L219.59 629.2 L220.59 629.12 L221.58 629.02 L222.58 628.91 L223.58 628.8 L224.57 628.67 L225.57 628.53 L226.57 628.38 L227.56 628.21 L228.56 628.03 L229.56 627.84 L230.56 627.63 L231.55 627.41 L232.55 627.17 L233.55 626.91 L234.54 626.64 L235.54 626.34 L236.54 626.03 L237.53 625.7 L238.53 625.35 L239.53 624.98 L240.52 624.59 L241.52 624.18 L242.52 623.75 L243.52 623.29 L244.51 622.82 L245.51 622.32 L246.51 621.81 L247.5 621.27 L248.5 620.71 L249.5 620.14 L250.49 619.54 L251.49 618.93 L252.49 618.29 L253.49 617.65 L254.48 616.98 L255.48 616.3 L256.48 615.61 L257.47 614.91 L258.47 614.2 L259.47 613.48 L260.46 612.75 L261.46 612.02 L262.46 611.29 L263.45 610.56 L264.45 609.83 L265.45 609.11 L266.45 608.4 L267.44 607.7 L268.44 607.01 L269.44 606.33 L270.43 605.68 L271.43 605.05 L272.43 604.44 L273.42 603.87 L274.42 603.32 L275.42 602.81 L276.41 602.34 L277.41 601.91 L278.41 601.52 L279.41 601.18 L280.4 600.89 L281.4 600.64 L282.4 600.45 L283.39 600.31 L284.39 600.23 L285.39 600.2 L286.38 600.22 L287.38 600.3 L288.38 600.44 L289.38 600.62 L290.37 600.87 L291.37 601.16 L292.37 601.5 L293.36 601.88 L294.36 602.32 L295.36 602.79 L296.35 603.3 L297.35 603.85 L298.35 604.43 L299.34 605.04 L300.34 605.68 L301.34 606.35 L302.34 607.03 L303.33 607.73 L304.33 608.45 L305.33 609.18 L306.32 609.92 L307.32 610.66 L308.32 611.41 L309.31 612.16 L310.31 612.91 L311.31 613.66 L312.3 614.41 L313.3 615.14 L314.3 615.87 L315.3 616.59 L316.29 617.29 L317.29 617.98 L318.29 618.66 L319.28 619.32 L320.28 619.96 L321.28 620.59 L322.27 621.2 L323.27 621.78 L324.27 622.35 L325.26 622.9 L326.26 623.43 L327.26 623.93 L328.26 624.42 L329.25 624.88 L330.25 625.33 L331.25 625.75 L332.24 626.15 L333.24 626.54 L334.24 626.9 L335.23 627.24 L336.23 627.57 L337.23 627.88 L338.23 628.17 L339.22 628.44 L340.22 628.7 L341.22 628.94 L342.21 629.16 L343.21 629.37 L344.21 629.57 L345.2 629.76 L346.2 629.93 L347.2 630.09 L348.19 630.24 L349.19 630.38 L350.19 630.5 L351.19 630.62 L352.18 630.73 L353.18 630.84 L354.18 630.93 L355.17 631.02 L356.17 631.1 L357.17 631.18 L358.16 631.25 L359.16 631.31 L360.16 631.37 L361.16 631.43 L362.15 631.48 L363.15 631.52 L364.15 631.57 L365.14 631.61 L366.14 631.65 L367.14 631.68 L368.13 631.71 L369.13 631.74 L370.13 631.77 L371.12 631.8 L372.12 631.82 L373.12 631.85 L374.12 631.87 L375.11 631.89 L376.11 631.91 L377.11 631.92 L378.1 631.94 L379.1 631.96 L379.1 632.56 L20.2 627.87 Z" stroke="none" fill="#4fb65b" stroke-width="1" fill-opacity="0.9"/>
<path d="M20.2 627.79 L21.2 627.79 L22.19 627.79 L23.19 627.79 L24.19 627.79 L25.18 627.8 L26.18 627.8 L27.18 627.8 L28.18 627.8 L29.17 627.8 L30.17 627.8 L31.17 627.8 L32.16 627.81 L33.16 627.81 L34.16 627.81 L35.15 627.81 L36.15 627.81 L37.15 627.81 L38.14 627.82 L39.14 627.82 L40.14 627.82 L41.14 627.82 L42.13 627.82 L43.13 627.83 L44.13 627.83 L45.12 627.83 L46.12 627.83 L47.12 627.84 L48.11 627.84 L49.11 627.84 L50.11 627.84 L51.11 627.85 L52.1 627.85 L53.1 627.85 L54.1 627.85 L55.09 627.86 L56.09 627.86 L57.09 627.86 L58.08 627.87 L59.08 627.87 L60.08 627.87 L61.07 627.88 L62.07 627.88 L63.07 627.88 L64.07 627.89 L65.06 627.89 L66.06 627.89 L67.06 627.9 L68.05 627.9 L69.05 627.91 L70.05 627.91 L71.04 627.92 L72.04 627.92 L73.04 627.92 L74.04 627.93 L75.03 627.93 L76.03 627.94 L77.03 627.94 L78.02 627.95 L79.02 627.95 L80.02 627.96 L81.01 627.97 L82.01 627.97 L83.01 627.98 L84 627.98 L85 627.99 L86 628 L87 628 L87.99 628.01 L88.99 628.02 L89.99 628.02 L90.98 628.03 L91.98 628.04 L92.98 628.04 L93.97 628.05 L94.97 628.06 L95.97 628.07 L96.96 628.08 L97.96 628.08 L98.96 628.09 L99.96 628.1 L100.95 628.11 L101.95 628.12 L102.95 628.13 L103.94 628.14 L104.94 628.15 L105.94 628.16 L106.93 628.17 L107.93 628.18 L108.93 628.19 L109.93 628.2 L110.92 628.21 L111.92 628.22 L112.92 628.23 L113.91 628.24 L114.91 628.25 L115.91 628.26 L116.9 628.28 L117.9 628.29 L118.9 628.3 L119.89 628.31 L120.89 628.33 L121.89 628.34 L122.89 628.35 L123.88 628.37 L124.88 628.38 L125.88 628.39 L126.87 628.41 L127.87 628.42 L128.87 628.44 L129.86 628.45 L130.86 628.47 L131.86 628.48 L132.85 628.5 L133.85 628.51 L134.85 628.53 L135.85 628.55 L136.84 628.56 L137.84 628.58 L138.84 628.6 L139.83 628.61 L140.83 628.63 L141.83 628.65 L142.82 628.67 L143.82 628.69 L144.82 628.7 L145.81 628.72 L146.81 628.74 L147.81 628.76 L148.81 628.78 L149.8 628.8 L150.8 628.82 L151.8 628.84 L152.79 628.86 L153.79 628.88 L154.79 628.9 L155.78 628.92 L156.78 628.94 L157.78 628.96 L158.78 628.98 L159.77 629 L160.77 629.02 L161.77 629.04 L162.76 629.07 L163.76 629.09 L164.76 629.11 L165.75 629.13 L166.75 629.15 L167.75 629.17 L168.74 629.19 L169.74 629.22 L170.74 629.24 L171.74 629.26 L172.73 629.28 L173.73 629.3 L174.73 629.32 L175.72 629.35 L176.72 629.37 L177.72 629.39 L178.71 629.41 L179.71 629.43 L180.71 629.45 L181.7 629.47 L182.7 629.49 L183.7 629.51 L184.7 629.53 L185.69 629.55 L186.69 629.57 L187.69 629.59 L188.68 629.61 L189.68 629.62 L190.68 629.64 L191.67 629.66 L192.67 629.67 L193.67 629.69 L194.67 629.7 L195.66 629.71 L196.66 629.72 L197.66 629.73 L198.65 629.74 L199.65 629.75 L200.65 629.75 L201.64 629.76 L202.64 629.76 L203.64 629.76 L204.63 629.75 L205.63 629.75 L206.63 629.74 L207.63 629.72 L208.62 629.71 L209.62 629.69 L210.62 629.67 L211.61 629.64 L212.61 629.61 L213.61 629.57 L214.6 629.52 L215.6 629.47 L216.6 629.42 L217.6 629.35 L218.59 629.28 L219.59 629.2 L220.59 629.12 L221.58 629.02 L222.58 628.91 L223.58 628.8 L224.57 628.67 L225.57 628.53 L226.57 628.38 L227.56 628.21 L228.56 628.03 L229.56 627.84 L230.56 627.63 L231.55 627.41 L232.55 627.17 L233.55 626.91 L234.54 626.64 L235.54 626.34 L236.54 626.03 L237.53 625.7 L238.53 625.35 L239.53 624.98 L240.52 624.59 L241.52 624.18 L242.52 623.75 L243.52 623.29 L244.51 622.82 L245.51 622.32 L246.51 621.81 L247.5 621.27 L248.5 620.71 L249.5 620.14 L250.49 619.54 L251.49 618.93 L252.49 618.29 L253.49 617.65 L254.48 616.98 L255.48 616.3 L256.48 615.61 L257.47 614.91 L258.47 614.2 L259.47 613.48 L260.46 612.75 L261.46 612.02 L262.46 611.29 L263.45 610.56 L264.45 609.83 L265.45 609.11 L266.45 608.4 L267.44 607.7 L268.44 607.01 L269.44 606.33 L270.43 605.68 L271.43 605.05 L272.43 604.44 L273.42 603.87 L274.42 603.32 L275.42 602.81 L276.41 602.34 L277.41 601.91 L278.41 601.52 L279.41 601.18 L280.4 600.89 L281.4 600.64 L282.4 600.45 L283.39 600.31 L284.39 600.23 L285.39 600.2 L286.38 600.22 L287.38 600.3 L288.38 600.44 L289.38 600.62 L290.37 600.87 L291.37 601.16 L292.37 601.5 L293.36 601.88 L294.36 602.32 L295.36 602.79 L296.35 603.3 L297.35 603.85 L298.35 604.43 L299.34 605.04 L300.34 605.68 L301.34 606.35 L302.34 607.03 L303.33 607.73 L304.33 608.45 L305.33 609.18 L306.32 609.92 L307.32 610.66 L308.32 611.41 L309.31 612.16 L310.31 612.91 L311.31 613.66 L312.3 614.41 L313.3 615.14 L314.3 615.87 L315.3 616.59 L316.29 617.29 L317.29 617.98 L318.29 618.66 L319.28 619.32 L320.28 619.96 L321.28 620.59 L322.27 621.2 L323.27 621.78 L324.27 622.35 L325.26 622.9 L326.26 623.43 L327.26 623.93 L328.26 624.42 L329.25 624.88 L330.25 625.33 L331.25 625.75 L332.24 626.15 L333.24 626.54 L334.24 626.9 L335.23 627.24 L336.23 627.57 L337.23 627.88 L338.23 628.17 L339.22 628.44 L340.22 628.7 L341.22 628.94 L342.21 629.16 L343.21 629.37 L344.21 629.57 L345.2 629.76 L346.2 629.93 L347.2 630.09 L348.19 630.24 L349.19 630.38 L350.19 630.5 L351.19 630.62 L352.18 630.73 L353.18 630.84 L354.18 630.93 L355.17 631.02 L356.17 631.1 L357.17 631.18 L358.16 631.25 L359.16 631.31 L360.16 631.37 L361.16 631.43 L362.15 631.48 L363.15 631.52 L364.15 631.57 L365.14 631.61 L366.14 631.65 L367.14 631.68 L368.13 631.71 L369.13 631.74 L370.13 631.77 L371.12 631.8 L372.12 631.82 L373.12 631.85 L374.12 631.87 L375.11 631.89 L376.11 631.91 L377.11 631.92 L378.1 631.94 L379.1 631.96" stroke="#3c9e49" fill="none" stroke-width="0.7" opacity="0.8"/>
<path d="M20.2 627.82 L21.2 627.82 L22.19 627.82 L23.19 627.82 L24.19 627.82 L25.18 627.82 L26.18 627.82 L27.18 627.82 L28.18 627.82 L29.17 627.82 L30.17 627.82 L31.17 627.82 L32.16 627.82 L33.16 627.82 L34.16 627.82 L35.15 627.82 L36.15 627.82 L37.15 627.82 L38.14 627.82 L39.14 627.82 L40.14 627.82 L41.14 627.82 L42.13 627.82 L43.13 627.81 L44.13 627.81 L45.12 627.81 L46.12 627.8 L47.12 627.8 L48.11 627.79 L49.11 627.78 L50.11 627.78 L51.11 627.77 L52.1 627.76 L53.1 627.75 L54.1 627.73 L55.09 627.72 L56.09 627.7 L57.09 627.68 L58.08 627.66 L59.08 627.64 L60.08 627.61 L61.07 627.58 L62.07 627.55 L63.07 627.52 L64.07 627.48 L65.06 627.44 L66.06 627.39 L67.06 627.34 L68.05 627.29 L69.05 627.23 L70.05 627.16 L71.04 627.09 L72.04 627.02 L73.04 626.93 L74.04 626.85 L75.03 626.76 L76.03 626.66 L77.03 626.55 L78.02 626.44 L79.02 626.32 L80.02 626.2 L81.01 626.07 L82.01 625.93 L83.01 625.79 L84 625.64 L85 625.48 L86 625.32 L87 625.16 L87.99 624.98 L88.99 624.81 L89.99 624.63 L90.98 624.44 L91.98 624.26 L92.98 624.07 L93.97 623.88 L94.97 623.68 L95.97 623.49 L96.96 623.3 L97.96 623.11 L98.96 622.92 L99.96 622.73 L100.95 622.55 L101.95 622.38 L102.95 622.21 L103.94 622.04 L104.94 621.89 L105.94 621.74 L106.93 621.6 L107.93 621.48 L108.93 621.36 L109.93 621.26 L110.92 621.18 L111.92 621.1 L112.92 621.04 L113.91 621 L114.91 620.97 L115.91 620.96 L116.9 620.97 L117.9 620.99 L118.9 621.02 L119.89 621.08 L120.89 621.15 L121.89 621.23 L122.89 621.33 L123.88 621.44 L124.88 621.57 L125.88 621.71 L126.87 621.86 L127.87 622.03 L128.87 622.2 L129.86 622.38 L130.86 622.57 L131.86 622.77 L132.85 622.98 L133.85 623.19 L134.85 623.4 L135.85 623.62 L136.84 623.84 L137.84 624.06 L138.84 624.28 L139.83 624.5 L140.83 624.73 L141.83 624.95 L142.82 625.16 L143.82 625.38 L144.82 625.59 L145.81 625.8 L146.81 626 L147.81 626.2 L148.81 626.39 L149.8 626.58 L150.8 626.76 L151.8 626.93 L152.79 627.1 L153.79 627.27 L154.79 627.42 L155.78 627.57 L156.78 627.72 L157.78 627.86 L158.78 627.99 L159.77 628.11 L160.77 628.23 L161.77 628.35 L162.76 628.46 L163.76 628.56 L164.76 628.66 L165.75 628.75 L166.75 628.84 L167.75 628.92 L168.74 629 L169.74 629.08 L170.74 629.15 L171.74 629.22 L172.73 629.28 L173.73 629.35 L174.73 629.41 L175.72 629.46 L176.72 629.52 L177.72 629.57 L178.71 629.62 L179.71 629.67 L180.71 629.71 L181.7 629.76 L182.7 629.8 L183.7 629.84 L184.7 629.89 L185.69 629.93 L186.69 629.97 L187.69 630 L188.68 630.04 L189.68 630.08 L190.68 630.11 L191.67 630.15 L192.67 630.18 L193.67 630.22 L194.67 630.25 L195.66 630.28 L196.66 630.32 L197.66 630.35 L198.65 630.38 L199.65 630.42 L200.65 630.45 L201.64 630.48 L202.64 630.51 L203.64 630.54 L204.63 630.57 L205.63 630.6 L206.63 630.63 L207.63 630.66 L208.62 630.69 L209.62 630.72 L210.62 630.75 L211.61 630.78 L212.61 630.81 L213.61 630.84 L214.6 630.87 L215.6 630.89 L216.6 630.92 L217.6 630.95 L218.59 630.98 L219.59 631 L220.59 631.03 L221.58 631.06 L222.58 631.08 L223.58 631.11 L224.57 631.14 L225.57 631.16 L226.57 631.19 L227.56 631.21 L228.56 631.24 L229.56 631.26 L230.56 631.29 L231.55 631.31 L232.55 631.33 L233.55 631.36 L234.54 631.38 L235.54 631.4 L236.54 631.42 L237.53 631.45 L238.53 631.47 L239.53 631.49 L240.52 631.51 L241.52 631.53 L242.52 631.55 L243.52 631.57 L244.51 631.59 L245.51 631.61 L246.51 631.63 L247.5 631.65 L248.5 631.67 L249.5 631.69 L250.49 631.71 L251.49 631.72 L252.49 631.74 L253.49 631.76 L254.48 631.78 L255.48 631.79 L256.48 631.81 L257.47 631.83 L258.47 631.84 L259.47 631.86 L260.46 631.87 L261.46 631.89 L262.46 631.9 L263.45 631.92 L264.45 631.93 L265.45 631.95 L266.45 631.96 L267.44 631.97 L268.44 631.99 L269.44 632 L270.43 632.01 L271.43 632.03 L272.43 632.04 L273.42 632.05 L274.42 632.06 L275.42 632.07 L276.41 632.08 L277.41 632.1 L278.41 632.11 L279.41 632.12 L280.4 632.13 L281.4 632.14 L282.4 632.15 L283.39 632.16 L284.39 632.17 L285.39 632.18 L286.38 632.19 L287.38 632.2 L288.38 632.21 L289.38 632.21 L290.37 632.22 L291.37 632.23 L292.37 632.24 L293.36 632.25 L294.36 632.26 L295.36 632.26 L296.35 632.27 L297.35 632.28 L298.35 632.29 L299.34 632.29 L300.34 632.3 L301.34 632.31 L302.34 632.31 L303.33 632.32 L304.33 632.33 L305.33 632.33 L306.32 632.34 L307.32 632.34 L308.32 632.35 L309.31 632.36 L310.31 632.36 L311.31 632.37 L312.3 632.37 L313.3 632.38 L314.3 632.38 L315.3 632.39 L316.29 632.39 L317.29 632.4 L318.29 632.4 L319.28 632.41 L320.28 632.41 L321.28 632.41 L322.27 632.42 L323.27 632.42 L324.27 632.43 L325.26 632.43 L326.26 632.43 L327.26 632.44 L328.26 632.44 L329.25 632.45 L330.25 632.45 L331.25 632.45 L332.24 632.46 L333.24 632.46 L334.24 632.46 L335.23 632.47 L336.23 632.47 L337.23 632.47 L338.23 632.47 L339.22 632.48 L340.22 632.48 L341.22 632.48 L342.21 632.49 L343.21 632.49 L344.21 632.49 L345.2 632.49 L346.2 632.5 L347.2 632.5 L348.19 632.5 L349.19 632.5 L350.19 632.5 L351.19 632.51 L352.18 632.51 L353.18 632.51 L354.18 632.51 L355.17 632.52 L356.17 632.52 L357.17 632.52 L358.16 632.52 L359.16 632.52 L360.16 632.52 L361.16 632.53 L362.15 632.53 L363.15 632.53 L364.15 632.53 L365.14 632.53 L366.14 632.53 L367.14 632.54 L368.13 632.54 L369.13 632.54 L370.13 632.54 L371.12 632.54 L372.12 632.54 L373.12 632.54 L374.12 632.54 L375.11 632.55 L376.11 632.55 L377.11 632.55 L378.1 632.55 L379.1 632.55 L379.1 632.56 L20.2 627.87 Z" stroke="none" fill="#2aa3ee" stroke-width="1" fill-opacity="1"/>
<path d="M20.2 627.82 L21.2 627.82 L22.19 627.82 L23.19 627.82 L24.19 627.82 L25.18 627.82 L26.18 627.82 L27.18 627.82 L28.18 627.82 L29.17 627.82 L30.17 627.82 L31.17 627.82 L32.16 627.82 L33.16 627.82 L34.16 627.82 L35.15 627.82 L36.15 627.82 L37.15 627.82 L38.14 627.82 L39.14 627.82 L40.14 627.82 L41.14 627.82 L42.13 627.82 L43.13 627.81 L44.13 627.81 L45.12 627.81 L46.12 627.8 L47.12 627.8 L48.11 627.79 L49.11 627.78 L50.11 627.78 L51.11 627.77 L52.1 627.76 L53.1 627.75 L54.1 627.73 L55.09 627.72 L56.09 627.7 L57.09 627.68 L58.08 627.66 L59.08 627.64 L60.08 627.61 L61.07 627.58 L62.07 627.55 L63.07 627.52 L64.07 627.48 L65.06 627.44 L66.06 627.39 L67.06 627.34 L68.05 627.29 L69.05 627.23 L70.05 627.16 L71.04 627.09 L72.04 627.02 L73.04 626.93 L74.04 626.85 L75.03 626.76 L76.03 626.66 L77.03 626.55 L78.02 626.44 L79.02 626.32 L80.02 626.2 L81.01 626.07 L82.01 625.93 L83.01 625.79 L84 625.64 L85 625.48 L86 625.32 L87 625.16 L87.99 624.98 L88.99 624.81 L89.99 624.63 L90.98 624.44 L91.98 624.26 L92.98 624.07 L93.97 623.88 L94.97 623.68 L95.97 623.49 L96.96 623.3 L97.96 623.11 L98.96 622.92 L99.96 622.73 L100.95 622.55 L101.95 622.38 L102.95 622.21 L103.94 622.04 L104.94 621.89 L105.94 621.74 L106.93 621.6 L107.93 621.48 L108.93 621.36 L109.93 621.26 L110.92 621.18 L111.92 621.1 L112.92 621.04 L113.91 621 L114.91 620.97 L115.91 620.96 L116.9 620.97 L117.9 620.99 L118.9 621.02 L119.89 621.08 L120.89 621.15 L121.89 621.23 L122.89 621.33 L123.88 621.44 L124.88 621.57 L125.88 621.71 L126.87 621.86 L127.87 622.03 L128.87 622.2 L129.86 622.38 L130.86 622.57 L131.86 622.77 L132.85 622.98 L133.85 623.19 L134.85 623.4 L135.85 623.62 L136.84 623.84 L137.84 624.06 L138.84 624.28 L139.83 624.5 L140.83 624.73 L141.83 624.95 L142.82 625.16 L143.82 625.38 L144.82 625.59 L145.81 625.8 L146.81 626 L147.81 626.2 L148.81 626.39 L149.8 626.58 L150.8 626.76 L151.8 626.93 L152.79 627.1 L153.79 627.27 L154.79 627.42 L155.78 627.57 L156.78 627.72 L157.78 627.86 L158.78 627.99 L159.77 628.11 L160.77 628.23 L161.77 628.35 L162.76 628.46 L163.76 628.56 L164.76 628.66 L165.75 628.75 L166.75 628.84 L167.75 628.92 L168.74 629 L169.74 629.08 L170.74 629.15 L171.74 629.22 L172.73 629.28 L173.73 629.35 L174.73 629.41 L175.72 629.46 L176.72 629.52 L177.72 629.57 L178.71 629.62 L179.71 629.67 L180.71 629.71 L181.7 629.76 L182.7 629.8 L183.7 629.84 L184.7 629.89 L185.69 629.93 L186.69 629.97 L187.69 630 L188.68 630.04 L189.68 630.08 L190.68 630.11 L191.67 630.15 L192.67 630.18 L193.67 630.22 L194.67 630.25 L195.66 630.28 L196.66 630.32 L197.66 630.35 L198.65 630.38 L199.65 630.42 L200.65 630.45 L201.64 630.48 L202.64 630.51 L203.64 630.54 L204.63 630.57 L205.63 630.6 L206.63 630.63 L207.63 630.66 L208.62 630.69 L209.62 630.72 L210.62 630.75 L211.61 630.78 L212.61 630.81 L213.61 630.84 L214.6 630.87 L215.6 630.89 L216.6 630.92 L217.6 630.95 L218.59 630.98 L219.59 631 L220.59 631.03 L221.58 631.06 L222.58 631.08 L223.58 631.11 L224.57 631.14 L225.57 631.16 L226.57 631.19 L227.56 631.21 L228.56 631.24 L229.56 631.26 L230.56 631.29 L231.55 631.31 L232.55 631.33 L233.55 631.36 L234.54 631.38 L235.54 631.4 L236.54 631.42 L237.53 631.45 L238.53 631.47 L239.53 631.49 L240.52 631.51 L241.52 631.53 L242.52 631.55 L243.52 631.57 L244.51 631.59 L245.51 631.61 L246.51 631.63 L247.5 631.65 L248.5 631.67 L249.5 631.69 L250.49 631.71 L251.49 631.72 L252.49 631.74 L253.49 631.76 L254.48 631.78 L255.48 631.79 L256.48 631.81 L257.47 631.83 L258.47 631.84 L259.47 631.86 L260.46 631.87 L261.46 631.89 L262.46 631.9 L263.45 631.92 L264.45 631.93 L265.45 631.95 L266.45 631.96 L267.44 631.97 L268.44 631.99 L269.44 632 L270.43 632.01 L271.43 632.03 L272.43 632.04 L273.42 632.05 L274.42 632.06 L275.42 632.07 L276.41 632.08 L277.41 632.1 L278.41 632.11 L279.41 632.12 L280.4 632.13 L281.4 632.14 L282.4 632.15 L283.39 632.16 L284.39 632.17 L285.39 632.18 L286.38 632.19 L287.38 632.2 L288.38 632.21 L289.38 632.21 L290.37 632.22 L291.37 632.23 L292.37 632.24 L293.36 632.25 L294.36 632.26 L295.36 632.26 L296.35 632.27 L297.35 632.28 L298.35 632.29 L299.34 632.29 L300.34 632.3 L301.34 632.31 L302.34 632.31 L303.33 632.32 L304.33 632.33 L305.33 632.33 L306.32 632.34 L307.32 632.34 L308.32 632.35 L309.31 632.36 L310.31 632.36 L311.31 632.37 L312.3 632.37 L313.3 632.38 L314.3 632.38 L315.3 632.39 L316.29 632.39 L317.29 632.4 L318.29 632.4 L319.28 632.41 L320.28 632.41 L321.28 632.41 L322.27 632.42 L323.27 632.42 L324.27 632.43 L325.26 632.43 L326.26 632.43 L327.26 632.44 L328.26 632.44 L329.25 632.45 L330.25 632.45 L331.25 632.45 L332.24 632.46 L333.24 632.46 L334.24 632.46 L335.23 632.47 L336.23 632.47 L337.23 632.47 L338.23 632.47 L339.22 632.48 L340.22 632.48 L341.22 632.48 L342.21 632.49 L343.21 632.49 L344.21 632.49 L345.2 632.49 L346.2 632.5 L347.2 632.5 L348.19 632.5 L349.19 632.5 L350.19 632.5 L351.19 632.51 L352.18 632.51 L353.18 632.51 L354.18 632.51 L355.17 632.52 L356.17 632.52 L357.17 632.52 L358.16 632.52 L359.16 632.52 L360.16 632.52 L361.16 632.53 L362.15 632.53 L363.15 632.53 L364.15 632.53 L365.14 632.53 L366.14 632.53 L367.14 632.54 L368.13 632.54 L369.13 632.54 L370.13 632.54 L371.12 632.54 L372.12 632.54 L373.12 632.54 L374.12 632.54 L375.11 632.55 L376.11 632.55 L377.11 632.55 L378.1 632.55 L379.1 632.55" stroke="#1e8fd6" fill="none" stroke-width="0.7" opacity="0.8"/>
<clipPath id="envclip2"><path d="M20.2 627.87 L20.2 627.11 L21.2 627.11 L22.19 627.1 L23.19 627.09 L24.19 627.08 L25.18 627.08 L26.18 627.07 L27.18 627.06 L28.18 627.05 L29.17 627.04 L30.17 627.03 L31.17 627.02 L32.16 627.02 L33.16 627.01 L34.16 627 L35.15 626.99 L36.15 626.97 L37.15 626.96 L38.14 626.95 L39.14 626.94 L40.14 626.93 L41.14 626.91 L42.13 626.9 L43.13 626.89 L44.13 626.87 L45.12 626.86 L46.12 626.84 L47.12 626.82 L48.11 626.8 L49.11 626.78 L50.11 626.76 L51.11 626.74 L52.1 626.71 L53.1 626.69 L54.1 626.66 L55.09 626.63 L56.09 626.6 L57.09 626.56 L58.08 626.53 L59.08 626.49 L60.08 626.44 L61.07 626.4 L62.07 626.35 L63.07 626.29 L64.07 626.24 L65.06 626.18 L66.06 626.11 L67.06 626.04 L68.05 625.96 L69.05 625.88 L70.05 625.79 L71.04 625.7 L72.04 625.6 L73.04 625.49 L74.04 625.38 L75.03 625.26 L76.03 625.14 L77.03 625 L78.02 624.86 L79.02 624.71 L80.02 624.55 L81.01 624.39 L82.01 624.22 L83.01 624.03 L84 623.85 L85 623.65 L86 623.44 L87 623.23 L87.99 623.01 L88.99 622.78 L89.99 622.55 L90.98 622.31 L91.98 622.06 L92.98 621.8 L93.97 621.54 L94.97 621.27 L95.97 621 L96.96 620.73 L97.96 620.45 L98.96 620.16 L99.96 619.88 L100.95 619.59 L101.95 619.29 L102.95 619 L103.94 618.71 L104.94 618.41 L105.94 618.11 L106.93 617.82 L107.93 617.52 L108.93 617.23 L109.93 616.93 L110.92 616.64 L111.92 616.34 L112.92 616.05 L113.91 615.76 L114.91 615.46 L115.91 615.17 L116.9 614.87 L117.9 614.58 L118.9 614.28 L119.89 613.97 L120.89 613.66 L121.89 613.35 L122.89 613.03 L123.88 612.69 L124.88 612.35 L125.88 612 L126.87 611.63 L127.87 611.24 L128.87 610.84 L129.86 610.42 L130.86 609.98 L131.86 609.52 L132.85 609.04 L133.85 608.53 L134.85 607.99 L135.85 607.43 L136.84 606.84 L137.84 606.22 L138.84 605.57 L139.83 604.89 L140.83 604.18 L141.83 603.44 L142.82 602.67 L143.82 601.86 L144.82 601.03 L145.81 600.16 L146.81 599.26 L147.81 598.34 L148.81 597.38 L149.8 596.4 L150.8 595.39 L151.8 594.36 L152.79 593.31 L153.79 592.23 L154.79 591.14 L155.78 590.03 L156.78 588.9 L157.78 587.77 L158.78 586.63 L159.77 585.49 L160.77 584.34 L161.77 583.2 L162.76 582.06 L163.76 580.93 L164.76 579.82 L165.75 578.72 L166.75 577.65 L167.75 576.6 L168.74 575.59 L169.74 574.61 L170.74 573.66 L171.74 572.77 L172.73 571.92 L173.73 571.12 L174.73 570.38 L175.72 569.7 L176.72 569.09 L177.72 568.55 L178.71 568.07 L179.71 567.67 L180.71 567.35 L181.7 567.11 L182.7 566.95 L183.7 566.87 L184.7 566.88 L185.69 566.97 L186.69 567.14 L187.69 567.39 L188.68 567.73 L189.68 568.14 L190.68 568.63 L191.67 569.2 L192.67 569.84 L193.67 570.54 L194.67 571.31 L195.66 572.14 L196.66 573.03 L197.66 573.97 L198.65 574.96 L199.65 576 L200.65 577.07 L201.64 578.18 L202.64 579.32 L203.64 580.49 L204.63 581.68 L205.63 582.89 L206.63 584.11 L207.63 585.35 L208.62 586.59 L209.62 587.84 L210.62 589.08 L211.61 590.32 L212.61 591.55 L213.61 592.78 L214.6 593.99 L215.6 595.18 L216.6 596.35 L217.6 597.5 L218.59 598.63 L219.59 599.73 L220.59 600.8 L221.58 601.84 L222.58 602.84 L223.58 603.81 L224.57 604.75 L225.57 605.64 L226.57 606.49 L227.56 607.31 L228.56 608.07 L229.56 608.8 L230.56 609.48 L231.55 610.11 L232.55 610.7 L233.55 611.23 L234.54 611.72 L235.54 612.17 L236.54 612.56 L237.53 612.91 L238.53 613.2 L239.53 613.45 L240.52 613.65 L241.52 613.8 L242.52 613.9 L243.52 613.95 L244.51 613.96 L245.51 613.93 L246.51 613.85 L247.5 613.72 L248.5 613.55 L249.5 613.34 L250.49 613.1 L251.49 612.81 L252.49 612.49 L253.49 612.13 L254.48 611.74 L255.48 611.32 L256.48 610.87 L257.47 610.39 L258.47 609.89 L259.47 609.38 L260.46 608.84 L261.46 608.28 L262.46 607.72 L263.45 607.14 L264.45 606.56 L265.45 605.97 L266.45 605.38 L267.44 604.8 L268.44 604.22 L269.44 603.65 L270.43 603.1 L271.43 602.56 L272.43 602.04 L273.42 601.54 L274.42 601.07 L275.42 600.63 L276.41 600.23 L277.41 599.86 L278.41 599.53 L279.41 599.24 L280.4 599 L281.4 598.81 L282.4 598.66 L283.39 598.57 L284.39 598.52 L285.39 598.53 L286.38 598.6 L287.38 598.71 L288.38 598.88 L289.38 599.1 L290.37 599.38 L291.37 599.7 L292.37 600.07 L293.36 600.48 L294.36 600.94 L295.36 601.44 L296.35 601.98 L297.35 602.55 L298.35 603.15 L299.34 603.79 L300.34 604.45 L301.34 605.13 L302.34 605.84 L303.33 606.56 L304.33 607.29 L305.33 608.04 L306.32 608.8 L307.32 609.56 L308.32 610.33 L309.31 611.09 L310.31 611.86 L311.31 612.62 L312.3 613.38 L313.3 614.13 L314.3 614.88 L315.3 615.61 L316.29 616.33 L317.29 617.03 L318.29 617.72 L319.28 618.39 L320.28 619.05 L321.28 619.69 L322.27 620.31 L323.27 620.91 L324.27 621.49 L325.26 622.05 L326.26 622.59 L327.26 623.1 L328.26 623.6 L329.25 624.08 L330.25 624.53 L331.25 624.96 L332.24 625.38 L333.24 625.77 L334.24 626.14 L335.23 626.5 L336.23 626.83 L337.23 627.15 L338.23 627.45 L339.22 627.73 L340.22 627.99 L341.22 628.24 L342.21 628.48 L343.21 628.7 L344.21 628.9 L345.2 629.09 L346.2 629.27 L347.2 629.44 L348.19 629.6 L349.19 629.74 L350.19 629.88 L351.19 630.01 L352.18 630.12 L353.18 630.23 L354.18 630.34 L355.17 630.43 L356.17 630.52 L357.17 630.6 L358.16 630.68 L359.16 630.75 L360.16 630.81 L361.16 630.87 L362.15 630.93 L363.15 630.98 L364.15 631.03 L365.14 631.08 L366.14 631.12 L367.14 631.16 L368.13 631.2 L369.13 631.24 L370.13 631.27 L371.12 631.3 L372.12 631.33 L373.12 631.36 L374.12 631.39 L375.11 631.41 L376.11 631.43 L377.11 631.46 L378.1 631.48 L379.1 631.5 L379.1 632.56 Z"/></clipPath>
<rect x="20.2" y="546.0" width="358.90000000000003" height="95.79999999999995" fill="url(#mesh)" clip-path="url(#envclip2)"/>
<circle cx="21.7" cy="625.74" r="2.4" fill="#fff" stroke="#727272" stroke-width="1.0"/>
<circle cx="24.8" cy="625.7" r="2.4" fill="#fff" stroke="#727272" stroke-width="1.0"/>
<circle cx="27.9" cy="624.43" r="2.4" fill="#fff" stroke="#727272" stroke-width="1.0"/>
<circle cx="31" cy="624.44" r="2.4" fill="#fff" stroke="#727272" stroke-width="1.0"/>
<circle cx="34.1" cy="625.47" r="2.4" fill="#fff" stroke="#727272" stroke-width="1.0"/>
<circle cx="37.2" cy="625.29" r="2.4" fill="#fff" stroke="#727272" stroke-width="1.0"/>
<circle cx="40.3" cy="625.17" r="2.4" fill="#fff" stroke="#727272" stroke-width="1.0"/>
<circle cx="43.4" cy="624.62" r="2.4" fill="#fff" stroke="#727272" stroke-width="1.0"/>
<circle cx="46.5" cy="624.99" r="2.4" fill="#fff" stroke="#727272" stroke-width="1.0"/>
<circle cx="49.6" cy="624.93" r="2.4" fill="#fff" stroke="#727272" stroke-width="1.0"/>
<circle cx="52.7" cy="624.8" r="2.4" fill="#fff" stroke="#727272" stroke-width="1.0"/>
<circle cx="55.8" cy="624.12" r="2.4" fill="#fff" stroke="#727272" stroke-width="1.0"/>
<circle cx="58.9" cy="624.39" r="2.4" fill="#fff" stroke="#727272" stroke-width="1.0"/>
<circle cx="62" cy="624.2" r="2.4" fill="#fff" stroke="#727272" stroke-width="1.0"/>
<circle cx="65.1" cy="624.49" r="2.4" fill="#fff" stroke="#727272" stroke-width="1.0"/>
<circle cx="68.2" cy="624.65" r="2.4" fill="#fff" stroke="#727272" stroke-width="1.0"/>
<circle cx="71.3" cy="624.32" r="2.4" fill="#fff" stroke="#727272" stroke-width="1.0"/>
<circle cx="74.4" cy="623.43" r="2.4" fill="#fff" stroke="#727272" stroke-width="1.0"/>
<circle cx="77.5" cy="622.91" r="2.4" fill="#fff" stroke="#727272" stroke-width="1.0"/>
<circle cx="80.6" cy="622.03" r="2.4" fill="#fff" stroke="#727272" stroke-width="1.0"/>
<circle cx="83.7" cy="621.15" r="2.4" fill="#fff" stroke="#727272" stroke-width="1.0"/>
<circle cx="86.8" cy="620.49" r="2.4" fill="#fff" stroke="#727272" stroke-width="1.0"/>
<circle cx="89.9" cy="620.38" r="2.4" fill="#fff" stroke="#727272" stroke-width="1.0"/>
<circle cx="93" cy="619.38" r="2.4" fill="#fff" stroke="#727272" stroke-width="1.0"/>
<circle cx="96.1" cy="618.6" r="2.4" fill="#fff" stroke="#727272" stroke-width="1.0"/>
<circle cx="99.2" cy="618.38" r="2.4" fill="#fff" stroke="#727272" stroke-width="1.0"/>
<circle cx="102.3" cy="616.89" r="2.4" fill="#fff" stroke="#727272" stroke-width="1.0"/>
<circle cx="105.4" cy="615.93" r="2.4" fill="#fff" stroke="#727272" stroke-width="1.0"/>
<circle cx="108.5" cy="614.14" r="2.4" fill="#fff" stroke="#727272" stroke-width="1.0"/>
<circle cx="111.6" cy="612.8" r="2.4" fill="#fff" stroke="#727272" stroke-width="1.0"/>
<circle cx="114.7" cy="612.19" r="2.4" fill="#fff" stroke="#727272" stroke-width="1.0"/>
<circle cx="117.8" cy="610.89" r="2.4" fill="#fff" stroke="#727272" stroke-width="1.0"/>
<circle cx="120.9" cy="610.36" r="2.4" fill="#fff" stroke="#727272" stroke-width="1.0"/>
<circle cx="124" cy="609.98" r="2.4" fill="#fff" stroke="#727272" stroke-width="1.0"/>
<circle cx="127.1" cy="608.39" r="2.4" fill="#fff" stroke="#727272" stroke-width="1.0"/>
<circle cx="130.2" cy="606.48" r="2.4" fill="#fff" stroke="#727272" stroke-width="1.0"/>
<circle cx="133.3" cy="606.11" r="2.4" fill="#fff" stroke="#727272" stroke-width="1.0"/>
<circle cx="136.4" cy="603.85" r="2.4" fill="#fff" stroke="#727272" stroke-width="1.0"/>
<circle cx="139.5" cy="601.92" r="2.4" fill="#fff" stroke="#727272" stroke-width="1.0"/>
<circle cx="142.6" cy="600.07" r="2.4" fill="#fff" stroke="#727272" stroke-width="1.0"/>
<circle cx="145.7" cy="597.52" r="2.4" fill="#fff" stroke="#727272" stroke-width="1.0"/>
<circle cx="148.8" cy="594.94" r="2.4" fill="#fff" stroke="#727272" stroke-width="1.0"/>
<circle cx="151.9" cy="591.46" r="2.4" fill="#fff" stroke="#727272" stroke-width="1.0"/>
<circle cx="155" cy="589.26" r="2.4" fill="#fff" stroke="#727272" stroke-width="1.0"/>
<circle cx="158.1" cy="585.99" r="2.4" fill="#fff" stroke="#727272" stroke-width="1.0"/>
<circle cx="161.2" cy="581.55" r="2.4" fill="#fff" stroke="#727272" stroke-width="1.0"/>
<circle cx="164.3" cy="577.95" r="2.4" fill="#fff" stroke="#727272" stroke-width="1.0"/>
<circle cx="167.4" cy="574.74" r="2.4" fill="#fff" stroke="#727272" stroke-width="1.0"/>
<circle cx="170.5" cy="571.5" r="2.4" fill="#fff" stroke="#727272" stroke-width="1.0"/>
<circle cx="173.6" cy="569.09" r="2.4" fill="#fff" stroke="#727272" stroke-width="1.0"/>
<circle cx="176.7" cy="567.03" r="2.4" fill="#fff" stroke="#727272" stroke-width="1.0"/>
<circle cx="179.8" cy="566.24" r="2.4" fill="#fff" stroke="#727272" stroke-width="1.0"/>
<circle cx="182.9" cy="564.93" r="2.4" fill="#fff" stroke="#727272" stroke-width="1.0"/>
<circle cx="186" cy="565.42" r="2.4" fill="#fff" stroke="#727272" stroke-width="1.0"/>
<circle cx="189.1" cy="565.51" r="2.4" fill="#fff" stroke="#727272" stroke-width="1.0"/>
<circle cx="192.2" cy="568.36" r="2.4" fill="#fff" stroke="#727272" stroke-width="1.0"/>
<circle cx="195.3" cy="570.69" r="2.4" fill="#fff" stroke="#727272" stroke-width="1.0"/>
<circle cx="198.4" cy="572.89" r="2.4" fill="#fff" stroke="#727272" stroke-width="1.0"/>
<circle cx="201.5" cy="576.24" r="2.4" fill="#fff" stroke="#727272" stroke-width="1.0"/>
<circle cx="204.6" cy="580.21" r="2.4" fill="#fff" stroke="#727272" stroke-width="1.0"/>
<circle cx="207.7" cy="583.58" r="2.4" fill="#fff" stroke="#727272" stroke-width="1.0"/>
<circle cx="210.8" cy="586.93" r="2.4" fill="#fff" stroke="#727272" stroke-width="1.0"/>
<circle cx="213.9" cy="590.2" r="2.4" fill="#fff" stroke="#727272" stroke-width="1.0"/>
<circle cx="217" cy="593.84" r="2.4" fill="#fff" stroke="#727272" stroke-width="1.0"/>
<circle cx="220.1" cy="598.72" r="2.4" fill="#fff" stroke="#727272" stroke-width="1.0"/>
<circle cx="223.2" cy="600.87" r="2.4" fill="#fff" stroke="#727272" stroke-width="1.0"/>
<circle cx="226.3" cy="604.45" r="2.4" fill="#fff" stroke="#727272" stroke-width="1.0"/>
<circle cx="229.4" cy="605.71" r="2.4" fill="#fff" stroke="#727272" stroke-width="1.0"/>
<circle cx="232.5" cy="608.35" r="2.4" fill="#fff" stroke="#727272" stroke-width="1.0"/>
<circle cx="235.6" cy="608.82" r="2.4" fill="#fff" stroke="#727272" stroke-width="1.0"/>
<circle cx="238.7" cy="610.62" r="2.4" fill="#fff" stroke="#727272" stroke-width="1.0"/>
<circle cx="241.8" cy="610.74" r="2.4" fill="#fff" stroke="#727272" stroke-width="1.0"/>
<circle cx="244.9" cy="610.53" r="2.4" fill="#fff" stroke="#727272" stroke-width="1.0"/>
<circle cx="248" cy="610.25" r="2.4" fill="#fff" stroke="#727272" stroke-width="1.0"/>
<circle cx="251.1" cy="609.52" r="2.4" fill="#fff" stroke="#727272" stroke-width="1.0"/>
<circle cx="254.2" cy="608.4" r="2.4" fill="#fff" stroke="#727272" stroke-width="1.0"/>
<circle cx="257.3" cy="606.75" r="2.4" fill="#fff" stroke="#727272" stroke-width="1.0"/>
<circle cx="260.4" cy="605.17" r="2.4" fill="#fff" stroke="#727272" stroke-width="1.0"/>
<circle cx="263.5" cy="604.04" r="2.4" fill="#fff" stroke="#727272" stroke-width="1.0"/>
<circle cx="266.6" cy="603.03" r="2.4" fill="#fff" stroke="#727272" stroke-width="1.0"/>
<circle cx="269.7" cy="601.02" r="2.4" fill="#fff" stroke="#727272" stroke-width="1.0"/>
<circle cx="272.8" cy="598.79" r="2.4" fill="#fff" stroke="#727272" stroke-width="1.0"/>
<circle cx="275.9" cy="598.57" r="2.4" fill="#fff" stroke="#727272" stroke-width="1.0"/>
<circle cx="279" cy="597.17" r="2.4" fill="#fff" stroke="#727272" stroke-width="1.0"/>
<circle cx="282.1" cy="596.94" r="2.4" fill="#fff" stroke="#727272" stroke-width="1.0"/>
<circle cx="285.2" cy="595.9" r="2.4" fill="#fff" stroke="#727272" stroke-width="1.0"/>
<circle cx="288.3" cy="597.08" r="2.4" fill="#fff" stroke="#727272" stroke-width="1.0"/>
<circle cx="291.4" cy="596.98" r="2.4" fill="#fff" stroke="#727272" stroke-width="1.0"/>
<circle cx="294.5" cy="599.09" r="2.4" fill="#fff" stroke="#727272" stroke-width="1.0"/>
<circle cx="297.6" cy="600.19" r="2.4" fill="#fff" stroke="#727272" stroke-width="1.0"/>
<circle cx="300.7" cy="602.04" r="2.4" fill="#fff" stroke="#727272" stroke-width="1.0"/>
<circle cx="303.8" cy="605.07" r="2.4" fill="#fff" stroke="#727272" stroke-width="1.0"/>
<circle cx="306.9" cy="607" r="2.4" fill="#fff" stroke="#727272" stroke-width="1.0"/>
<circle cx="310" cy="609.89" r="2.4" fill="#fff" stroke="#727272" stroke-width="1.0"/>
<circle cx="313.1" cy="612.63" r="2.4" fill="#fff" stroke="#727272" stroke-width="1.0"/>
<circle cx="316.2" cy="613.97" r="2.4" fill="#fff" stroke="#727272" stroke-width="1.0"/>
<circle cx="319.3" cy="615.99" r="2.4" fill="#fff" stroke="#727272" stroke-width="1.0"/>
<circle cx="322.4" cy="618.84" r="2.4" fill="#fff" stroke="#727272" stroke-width="1.0"/>
<circle cx="325.5" cy="619.94" r="2.4" fill="#fff" stroke="#727272" stroke-width="1.0"/>
<circle cx="328.6" cy="621.9" r="2.4" fill="#fff" stroke="#727272" stroke-width="1.0"/>
<circle cx="331.7" cy="622.31" r="2.4" fill="#fff" stroke="#727272" stroke-width="1.0"/>
<circle cx="334.8" cy="624.3" r="2.4" fill="#fff" stroke="#727272" stroke-width="1.0"/>
<circle cx="337.9" cy="624.99" r="2.4" fill="#fff" stroke="#727272" stroke-width="1.0"/>
<circle cx="341" cy="626.49" r="2.4" fill="#fff" stroke="#727272" stroke-width="1.0"/>
<circle cx="344.1" cy="626.32" r="2.4" fill="#fff" stroke="#727272" stroke-width="1.0"/>
<circle cx="347.2" cy="628.08" r="2.4" fill="#fff" stroke="#727272" stroke-width="1.0"/>
<circle cx="350.3" cy="627.22" r="2.4" fill="#fff" stroke="#727272" stroke-width="1.0"/>
<circle cx="353.4" cy="628.56" r="2.4" fill="#fff" stroke="#727272" stroke-width="1.0"/>
<circle cx="356.5" cy="627.85" r="2.4" fill="#fff" stroke="#727272" stroke-width="1.0"/>
<circle cx="359.6" cy="628.4" r="2.4" fill="#fff" stroke="#727272" stroke-width="1.0"/>
<circle cx="362.7" cy="629.42" r="2.4" fill="#fff" stroke="#727272" stroke-width="1.0"/>
<circle cx="365.8" cy="628.64" r="2.4" fill="#fff" stroke="#727272" stroke-width="1.0"/>
<circle cx="368.9" cy="628.79" r="2.4" fill="#fff" stroke="#727272" stroke-width="1.0"/>
<circle cx="372" cy="629.6" r="2.4" fill="#fff" stroke="#727272" stroke-width="1.0"/>
<circle cx="375.1" cy="629.25" r="2.4" fill="#fff" stroke="#727272" stroke-width="1.0"/>
<path d="M20.2 628.47 L21.2 628.47 L22.19 628.47 L23.19 628.47 L24.19 628.47 L25.18 628.48 L26.18 628.48 L27.18 628.48 L28.18 628.48 L29.17 628.48 L30.17 628.49 L31.17 628.49 L32.16 628.49 L33.16 628.49 L34.16 628.5 L35.15 628.5 L36.15 628.5 L37.15 628.5 L38.14 628.51 L39.14 628.51 L40.14 628.51 L41.14 628.51 L42.13 628.52 L43.13 628.52 L44.13 628.52 L45.12 628.52 L46.12 628.53 L47.12 628.53 L48.11 628.53 L49.11 628.54 L50.11 628.54 L51.11 628.54 L52.1 628.55 L53.1 628.55 L54.1 628.56 L55.09 628.56 L56.09 628.56 L57.09 628.57 L58.08 628.57 L59.08 628.58 L60.08 628.58 L61.07 628.58 L62.07 628.59 L63.07 628.59 L64.07 628.6 L65.06 628.6 L66.06 628.61 L67.06 628.61 L68.05 628.62 L69.05 628.62 L70.05 628.63 L71.04 628.63 L72.04 628.64 L73.04 628.64 L74.04 628.65 L75.03 628.66 L76.03 628.66 L77.03 628.67 L78.02 628.68 L79.02 628.68 L80.02 628.69 L81.01 628.7 L82.01 628.7 L83.01 628.71 L84 628.72 L85 628.72 L86 628.73 L87 628.74 L87.99 628.75 L88.99 628.76 L89.99 628.76 L90.98 628.77 L91.98 628.78 L92.98 628.79 L93.97 628.8 L94.97 628.81 L95.97 628.82 L96.96 628.83 L97.96 628.84 L98.96 628.85 L99.96 628.86 L100.95 628.87 L101.95 628.88 L102.95 628.89 L103.94 628.9 L104.94 628.91 L105.94 628.92 L106.93 628.93 L107.93 628.95 L108.93 628.96 L109.93 628.97 L110.92 628.98 L111.92 629 L112.92 629.01 L113.91 629.02 L114.91 629.04 L115.91 629.05 L116.9 629.07 L117.9 629.08 L118.9 629.09 L119.89 629.11 L120.89 629.12 L121.89 629.14 L122.89 629.16 L123.88 629.17 L124.88 629.19 L125.88 629.2 L126.87 629.22 L127.87 629.24 L128.87 629.26 L129.86 629.27 L130.86 629.29 L131.86 629.31 L132.85 629.33 L133.85 629.35 L134.85 629.37 L135.85 629.39 L136.84 629.4 L137.84 629.42 L138.84 629.44 L139.83 629.47 L140.83 629.49 L141.83 629.51 L142.82 629.53 L143.82 629.55 L144.82 629.57 L145.81 629.59 L146.81 629.62 L147.81 629.64 L148.81 629.66 L149.8 629.69 L150.8 629.71 L151.8 629.73 L152.79 629.76 L153.79 629.78 L154.79 629.81 L155.78 629.83 L156.78 629.86 L157.78 629.88 L158.78 629.91 L159.77 629.93 L160.77 629.96 L161.77 629.99 L162.76 630.01 L163.76 630.04 L164.76 630.07 L165.75 630.09 L166.75 630.12 L167.75 630.15 L168.74 630.18 L169.74 630.2 L170.74 630.23 L171.74 630.26 L172.73 630.29 L173.73 630.32 L174.73 630.35 L175.72 630.38 L176.72 630.41 L177.72 630.43 L178.71 630.46 L179.71 630.49 L180.71 630.52 L181.7 630.55 L182.7 630.58 L183.7 630.61 L184.7 630.64 L185.69 630.67 L186.69 630.7 L187.69 630.73 L188.68 630.76 L189.68 630.79 L190.68 630.82 L191.67 630.85 L192.67 630.88 L193.67 630.91 L194.67 630.94 L195.66 630.97 L196.66 631 L197.66 631.03 L198.65 631.06 L199.65 631.09 L200.65 631.12 L201.64 631.15 L202.64 631.18 L203.64 631.21 L204.63 631.23 L205.63 631.26 L206.63 631.29 L207.63 631.32 L208.62 631.35 L209.62 631.38 L210.62 631.41 L211.61 631.43 L212.61 631.46 L213.61 631.49 L214.6 631.52 L215.6 631.54 L216.6 631.57 L217.6 631.6 L218.59 631.62 L219.59 631.65 L220.59 631.68 L221.58 631.7 L222.58 631.73 L223.58 631.75 L224.57 631.78 L225.57 631.8 L226.57 631.83 L227.56 631.85 L228.56 631.87 L229.56 631.9 L230.56 631.92 L231.55 631.95 L232.55 631.97 L233.55 631.99 L234.54 632.01 L235.54 632.04 L236.54 632.06 L237.53 632.08 L238.53 632.1 L239.53 632.12 L240.52 632.14 L241.52 632.16 L242.52 632.18 L243.52 632.2 L244.51 632.22 L245.51 632.24 L246.51 632.26 L247.5 632.28 L248.5 632.3 L249.5 632.32 L250.49 632.33 L251.49 632.35 L252.49 632.37 L253.49 632.39 L254.48 632.4 L255.48 632.42 L256.48 632.43 L257.47 632.45 L258.47 632.47 L259.47 632.48 L260.46 632.5 L261.46 632.51 L262.46 632.53 L263.45 632.54 L264.45 632.55 L265.45 632.57 L266.45 632.58 L267.44 632.59 L268.44 632.61 L269.44 632.62 L270.43 632.63 L271.43 632.65 L272.43 632.66 L273.42 632.67 L274.42 632.68 L275.42 632.69 L276.41 632.7 L277.41 632.71 L278.41 632.73 L279.41 632.74 L280.4 632.75 L281.4 632.76 L282.4 632.77 L283.39 632.78 L284.39 632.79 L285.39 632.8 L286.38 632.8 L287.38 632.81 L288.38 632.82 L289.38 632.83 L290.37 632.84 L291.37 632.85 L292.37 632.86 L293.36 632.86 L294.36 632.87 L295.36 632.88 L296.35 632.89 L297.35 632.89 L298.35 632.9 L299.34 632.91 L300.34 632.91 L301.34 632.92 L302.34 632.93 L303.33 632.93 L304.33 632.94 L305.33 632.95 L306.32 632.95 L307.32 632.96 L308.32 632.96 L309.31 632.97 L310.31 632.97 L311.31 632.98 L312.3 632.98 L313.3 632.99 L314.3 632.99 L315.3 633 L316.29 633 L317.29 633.01 L318.29 633.01 L319.28 633.02 L320.28 633.02 L321.28 633.03 L322.27 633.03 L323.27 633.03 L324.27 633.04 L325.26 633.04 L326.26 633.05 L327.26 633.05 L328.26 633.05 L329.25 633.06 L330.25 633.06 L331.25 633.06 L332.24 633.07 L333.24 633.07 L334.24 633.07 L335.23 633.08 L336.23 633.08 L337.23 633.08 L338.23 633.08 L339.22 633.09 L340.22 633.09 L341.22 633.09 L342.21 633.1 L343.21 633.1 L344.21 633.1 L345.2 633.1 L346.2 633.11 L347.2 633.11 L348.19 633.11 L349.19 633.11 L350.19 633.11 L351.19 633.12 L352.18 633.12 L353.18 633.12 L354.18 633.12 L355.17 633.12 L356.17 633.13 L357.17 633.13 L358.16 633.13 L359.16 633.13 L360.16 633.13 L361.16 633.13 L362.15 633.14 L363.15 633.14 L364.15 633.14 L365.14 633.14 L366.14 633.14 L367.14 633.14 L368.13 633.14 L369.13 633.15 L370.13 633.15 L371.12 633.15 L372.12 633.15 L373.12 633.15 L374.12 633.15 L375.11 633.15 L376.11 633.15 L377.11 633.16 L378.1 633.16 L379.1 633.16" stroke="#f5871f" fill="none" stroke-width="1.4" />
<path d="M20.2 627.11 L21.2 627.11 L22.19 627.1 L23.19 627.09 L24.19 627.08 L25.18 627.08 L26.18 627.07 L27.18 627.06 L28.18 627.05 L29.17 627.04 L30.17 627.03 L31.17 627.02 L32.16 627.02 L33.16 627.01 L34.16 627 L35.15 626.99 L36.15 626.97 L37.15 626.96 L38.14 626.95 L39.14 626.94 L40.14 626.93 L41.14 626.91 L42.13 626.9 L43.13 626.89 L44.13 626.87 L45.12 626.86 L46.12 626.84 L47.12 626.82 L48.11 626.8 L49.11 626.78 L50.11 626.76 L51.11 626.74 L52.1 626.71 L53.1 626.69 L54.1 626.66 L55.09 626.63 L56.09 626.6 L57.09 626.56 L58.08 626.53 L59.08 626.49 L60.08 626.44 L61.07 626.4 L62.07 626.35 L63.07 626.29 L64.07 626.24 L65.06 626.18 L66.06 626.11 L67.06 626.04 L68.05 625.96 L69.05 625.88 L70.05 625.79 L71.04 625.7 L72.04 625.6 L73.04 625.49 L74.04 625.38 L75.03 625.26 L76.03 625.14 L77.03 625 L78.02 624.86 L79.02 624.71 L80.02 624.55 L81.01 624.39 L82.01 624.22 L83.01 624.03 L84 623.85 L85 623.65 L86 623.44 L87 623.23 L87.99 623.01 L88.99 622.78 L89.99 622.55 L90.98 622.31 L91.98 622.06 L92.98 621.8 L93.97 621.54 L94.97 621.27 L95.97 621 L96.96 620.73 L97.96 620.45 L98.96 620.16 L99.96 619.88 L100.95 619.59 L101.95 619.29 L102.95 619 L103.94 618.71 L104.94 618.41 L105.94 618.11 L106.93 617.82 L107.93 617.52 L108.93 617.23 L109.93 616.93 L110.92 616.64 L111.92 616.34 L112.92 616.05 L113.91 615.76 L114.91 615.46 L115.91 615.17 L116.9 614.87 L117.9 614.58 L118.9 614.28 L119.89 613.97 L120.89 613.66 L121.89 613.35 L122.89 613.03 L123.88 612.69 L124.88 612.35 L125.88 612 L126.87 611.63 L127.87 611.24 L128.87 610.84 L129.86 610.42 L130.86 609.98 L131.86 609.52 L132.85 609.04 L133.85 608.53 L134.85 607.99 L135.85 607.43 L136.84 606.84 L137.84 606.22 L138.84 605.57 L139.83 604.89 L140.83 604.18 L141.83 603.44 L142.82 602.67 L143.82 601.86 L144.82 601.03 L145.81 600.16 L146.81 599.26 L147.81 598.34 L148.81 597.38 L149.8 596.4 L150.8 595.39 L151.8 594.36 L152.79 593.31 L153.79 592.23 L154.79 591.14 L155.78 590.03 L156.78 588.9 L157.78 587.77 L158.78 586.63 L159.77 585.49 L160.77 584.34 L161.77 583.2 L162.76 582.06 L163.76 580.93 L164.76 579.82 L165.75 578.72 L166.75 577.65 L167.75 576.6 L168.74 575.59 L169.74 574.61 L170.74 573.66 L171.74 572.77 L172.73 571.92 L173.73 571.12 L174.73 570.38 L175.72 569.7 L176.72 569.09 L177.72 568.55 L178.71 568.07 L179.71 567.67 L180.71 567.35 L181.7 567.11 L182.7 566.95 L183.7 566.87 L184.7 566.88 L185.69 566.97 L186.69 567.14 L187.69 567.39 L188.68 567.73 L189.68 568.14 L190.68 568.63 L191.67 569.2 L192.67 569.84 L193.67 570.54 L194.67 571.31 L195.66 572.14 L196.66 573.03 L197.66 573.97 L198.65 574.96 L199.65 576 L200.65 577.07 L201.64 578.18 L202.64 579.32 L203.64 580.49 L204.63 581.68 L205.63 582.89 L206.63 584.11 L207.63 585.35 L208.62 586.59 L209.62 587.84 L210.62 589.08 L211.61 590.32 L212.61 591.55 L213.61 592.78 L214.6 593.99 L215.6 595.18 L216.6 596.35 L217.6 597.5 L218.59 598.63 L219.59 599.73 L220.59 600.8 L221.58 601.84 L222.58 602.84 L223.58 603.81 L224.57 604.75 L225.57 605.64 L226.57 606.49 L227.56 607.31 L228.56 608.07 L229.56 608.8 L230.56 609.48 L231.55 610.11 L232.55 610.7 L233.55 611.23 L234.54 611.72 L235.54 612.17 L236.54 612.56 L237.53 612.91 L238.53 613.2 L239.53 613.45 L240.52 613.65 L241.52 613.8 L242.52 613.9 L243.52 613.95 L244.51 613.96 L245.51 613.93 L246.51 613.85 L247.5 613.72 L248.5 613.55 L249.5 613.34 L250.49 613.1 L251.49 612.81 L252.49 612.49 L253.49 612.13 L254.48 611.74 L255.48 611.32 L256.48 610.87 L257.47 610.39 L258.47 609.89 L259.47 609.38 L260.46 608.84 L261.46 608.28 L262.46 607.72 L263.45 607.14 L264.45 606.56 L265.45 605.97 L266.45 605.38 L267.44 604.8 L268.44 604.22 L269.44 603.65 L270.43 603.1 L271.43 602.56 L272.43 602.04 L273.42 601.54 L274.42 601.07 L275.42 600.63 L276.41 600.23 L277.41 599.86 L278.41 599.53 L279.41 599.24 L280.4 599 L281.4 598.81 L282.4 598.66 L283.39 598.57 L284.39 598.52 L285.39 598.53 L286.38 598.6 L287.38 598.71 L288.38 598.88 L289.38 599.1 L290.37 599.38 L291.37 599.7 L292.37 600.07 L293.36 600.48 L294.36 600.94 L295.36 601.44 L296.35 601.98 L297.35 602.55 L298.35 603.15 L299.34 603.79 L300.34 604.45 L301.34 605.13 L302.34 605.84 L303.33 606.56 L304.33 607.29 L305.33 608.04 L306.32 608.8 L307.32 609.56 L308.32 610.33 L309.31 611.09 L310.31 611.86 L311.31 612.62 L312.3 613.38 L313.3 614.13 L314.3 614.88 L315.3 615.61 L316.29 616.33 L317.29 617.03 L318.29 617.72 L319.28 618.39 L320.28 619.05 L321.28 619.69 L322.27 620.31 L323.27 620.91 L324.27 621.49 L325.26 622.05 L326.26 622.59 L327.26 623.1 L328.26 623.6 L329.25 624.08 L330.25 624.53 L331.25 624.96 L332.24 625.38 L333.24 625.77 L334.24 626.14 L335.23 626.5 L336.23 626.83 L337.23 627.15 L338.23 627.45 L339.22 627.73 L340.22 627.99 L341.22 628.24 L342.21 628.48 L343.21 628.7 L344.21 628.9 L345.2 629.09 L346.2 629.27 L347.2 629.44 L348.19 629.6 L349.19 629.74 L350.19 629.88 L351.19 630.01 L352.18 630.12 L353.18 630.23 L354.18 630.34 L355.17 630.43 L356.17 630.52 L357.17 630.6 L358.16 630.68 L359.16 630.75 L360.16 630.81 L361.16 630.87 L362.15 630.93 L363.15 630.98 L364.15 631.03 L365.14 631.08 L366.14 631.12 L367.14 631.16 L368.13 631.2 L369.13 631.24 L370.13 631.27 L371.12 631.3 L372.12 631.33 L373.12 631.36 L374.12 631.39 L375.11 631.41 L376.11 631.43 L377.11 631.46 L378.1 631.48 L379.1 631.5" stroke="#ee1c24" fill="none" stroke-width="1.7" stroke-linejoin="round"/>
</g>
<line x1="23.4" y1="629" x2="23.4" y2="641" stroke="#7fc8f0" stroke-width="1" />
<rect x="20.2" y="450.3" width="358.90000000000003" height="191.49999999999994" fill="none" stroke="#111" stroke-width="1.3"/>
<line x1="20.2" y1="546" x2="379.1" y2="546" stroke="#111" stroke-width="1.3" />
<line x1="20.2" y1="641.8" x2="20.2" y2="644.8" stroke="#111" stroke-width="1.1" />
<text x="20.2" y="657.5" font-size="12.9" text-anchor="middle" fill="#000" font-weight="bold" >536</text>
<line x1="56.09" y1="641.8" x2="56.09" y2="643.6" stroke="#111" stroke-width="1.1" />
<line x1="91.98" y1="641.8" x2="91.98" y2="644.8" stroke="#111" stroke-width="1.1" />
<text x="91.98" y="657.5" font-size="12.9" text-anchor="middle" fill="#000" font-weight="bold" >534</text>
<line x1="127.87" y1="641.8" x2="127.87" y2="643.6" stroke="#111" stroke-width="1.1" />
<line x1="163.76" y1="641.8" x2="163.76" y2="644.8" stroke="#111" stroke-width="1.1" />
<text x="163.76" y="657.5" font-size="12.9" text-anchor="middle" fill="#000" font-weight="bold" >532</text>
<line x1="199.65" y1="641.8" x2="199.65" y2="643.6" stroke="#111" stroke-width="1.1" />
<line x1="235.54" y1="641.8" x2="235.54" y2="644.8" stroke="#111" stroke-width="1.1" />
<text x="235.54" y="657.5" font-size="12.9" text-anchor="middle" fill="#000" font-weight="bold" >530</text>
<line x1="271.43" y1="641.8" x2="271.43" y2="643.6" stroke="#111" stroke-width="1.1" />
<line x1="307.32" y1="641.8" x2="307.32" y2="644.8" stroke="#111" stroke-width="1.1" />
<text x="307.32" y="657.5" font-size="12.9" text-anchor="middle" fill="#000" font-weight="bold" >528</text>
<line x1="343.21" y1="641.8" x2="343.21" y2="643.6" stroke="#111" stroke-width="1.1" />
<line x1="379.1" y1="641.8" x2="379.1" y2="644.8" stroke="#111" stroke-width="1.1" />
<text x="379.1" y="657.5" font-size="12.9" text-anchor="middle" fill="#000" font-weight="bold" >526</text>
<text x="199.7" y="673.9" font-size="13.6" text-anchor="middle" fill="#000" font-weight="bold" >Binding energy, eV</text>
<text x="0" y="0" font-size="13.8" text-anchor="middle" fill="#000" font-weight="bold" transform="translate(10.8 537.7) rotate(-90)">Intensity, a.u.</text>
<text x="27.6" y="470.2" font-size="13.5" text-anchor="start" fill="#000" font-weight="bold" >ME-PBSCC</text>
<text x="27.6" y="567.6" font-size="13.5" text-anchor="start" fill="#000" font-weight="bold" >PBS32C</text>
<text x="344" y="470.1" font-size="13.6" text-anchor="start" fill="#000" font-weight="bold" >O 1<tspan font-style="italic">s</tspan></text>
<text x="40.4" y="497.8" font-size="13.4" text-anchor="start" fill="#1ea3f0" font-weight="bold" >H<tspan font-size="9.5" dy="3">2</tspan><tspan dy="-3">O</tspan><tspan font-size="9.5" dy="3">ad</tspan></text>
<text x="38.4" y="517" font-size="13.4" text-anchor="start" fill="#1ea3f0" font-weight="bold" >3.1%</text>
<text x="39.2" y="600.6" font-size="13.4" text-anchor="start" fill="#1ea3f0" font-weight="bold" >6.0%</text>
<text x="229.5" y="471.8" font-size="13.4" text-anchor="start" fill="#2fc0a0" font-weight="bold" >O<tspan font-size="9.5" dy="3">ad</tspan><tspan dy="-3"> 70.8%</tspan></text>
<text x="236.6" y="576.3" font-size="13.4" text-anchor="start" fill="#2fc0a0" font-weight="bold" >67.3%</text>
<text x="326.8" y="492.1" font-size="13.4" text-anchor="start" fill="#3db556" font-weight="bold" >O<tspan font-size="9.5" dy="3">lattice</tspan></text>
<text x="326" y="510.7" font-size="13.4" text-anchor="start" fill="#3db556" font-weight="bold" >26.1%</text>
<text x="329.3" y="596.5" font-size="13.4" text-anchor="start" fill="#3db556" font-weight="bold" >26.7%</text>
<line x1="74.1" y1="506.2" x2="83.64" y2="519.17" stroke="#1ea3f0" stroke-width="1.1" />
<path d="M86.9 523.6 L81.55 520.71 L85.74 517.63 Z" stroke="none" fill="#1ea3f0" stroke-width="1" />
<line x1="60.8" y1="602.6" x2="70.75" y2="615.54" stroke="#1ea3f0" stroke-width="1.1" />
<path d="M74.1 619.9 L68.69 617.12 L72.81 613.95 Z" stroke="none" fill="#1ea3f0" stroke-width="1" />
<line x1="228.3" y1="473.6" x2="216.33" y2="481.87" stroke="#2fc0a0" stroke-width="1.1" />
<path d="M211.8 485 L214.85 479.73 L217.8 484.01 Z" stroke="none" fill="#2fc0a0" stroke-width="1" />
<line x1="234.4" y1="572" x2="222.32" y2="580.93" stroke="#2fc0a0" stroke-width="1.1" />
<path d="M217.9 584.2 L220.78 578.84 L223.87 583.02 Z" stroke="none" fill="#2fc0a0" stroke-width="1" />
<line x1="325.1" y1="496.6" x2="311.9" y2="506.5" stroke="#3db556" stroke-width="1.1" />
<path d="M307.5 509.8 L310.34 504.42 L313.46 508.58 Z" stroke="none" fill="#3db556" stroke-width="1" />
<line x1="328.2" y1="593.9" x2="315.76" y2="605.29" stroke="#3db556" stroke-width="1.1" />
<path d="M311.7 609 L314 603.37 L317.51 607.2 Z" stroke="none" fill="#3db556" stroke-width="1" />
<text x="397.6" y="458.8" font-size="20.5" text-anchor="start" fill="#000" font-weight="bold" >f</text>
<rect x="443.9" y="450.3" width="238.70000000000005" height="191.49999999999994" fill="none" stroke="#111" stroke-width="1.3"/>
<line x1="443.9" y1="641.8" x2="443.9" y2="643.8" stroke="#111" stroke-width="1.1" />
<line x1="467.77" y1="641.8" x2="467.77" y2="645" stroke="#111" stroke-width="1.1" />
<text x="467.77" y="657.5" font-size="12.9" text-anchor="middle" fill="#000" font-weight="bold" >400</text>
<line x1="491.64" y1="641.8" x2="491.64" y2="643.8" stroke="#111" stroke-width="1.1" />
<line x1="515.51" y1="641.8" x2="515.51" y2="645" stroke="#111" stroke-width="1.1" />
<text x="515.51" y="657.5" font-size="12.9" text-anchor="middle" fill="#000" font-weight="bold" >500</text>
<line x1="539.38" y1="641.8" x2="539.38" y2="643.8" stroke="#111" stroke-width="1.1" />
<line x1="563.25" y1="641.8" x2="563.25" y2="645" stroke="#111" stroke-width="1.1" />
<text x="563.25" y="657.5" font-size="12.9" text-anchor="middle" fill="#000" font-weight="bold" >600</text>
<line x1="587.12" y1="641.8" x2="587.12" y2="643.8" stroke="#111" stroke-width="1.1" />
<line x1="610.99" y1="641.8" x2="610.99" y2="645" stroke="#111" stroke-width="1.1" />
<text x="610.99" y="657.5" font-size="12.9" text-anchor="middle" fill="#000" font-weight="bold" >700</text>
<line x1="634.86" y1="641.8" x2="634.86" y2="643.8" stroke="#111" stroke-width="1.1" />
<line x1="658.73" y1="641.8" x2="658.73" y2="645" stroke="#111" stroke-width="1.1" />
<text x="658.73" y="657.5" font-size="12.9" text-anchor="middle" fill="#000" font-weight="bold" >800</text>
<line x1="682.6" y1="641.8" x2="682.6" y2="643.8" stroke="#111" stroke-width="1.1" />
<line x1="443.9" y1="641.8" x2="441.7" y2="641.8" stroke="#111" stroke-width="1.1" />
<line x1="443.9" y1="627.07" x2="440.3" y2="627.07" stroke="#111" stroke-width="1.1" />
<text x="437.2" y="631.47" font-size="12.9" text-anchor="end" fill="#000" font-weight="bold" >800</text>
<line x1="443.9" y1="612.34" x2="441.7" y2="612.34" stroke="#111" stroke-width="1.1" />
<line x1="443.9" y1="597.61" x2="440.3" y2="597.61" stroke="#111" stroke-width="1.1" />
<text x="437.2" y="602.01" font-size="12.9" text-anchor="end" fill="#000" font-weight="bold" >1000</text>
<line x1="443.9" y1="582.88" x2="441.7" y2="582.88" stroke="#111" stroke-width="1.1" />
<line x1="443.9" y1="568.15" x2="440.3" y2="568.15" stroke="#111" stroke-width="1.1" />
<text x="437.2" y="572.55" font-size="12.9" text-anchor="end" fill="#000" font-weight="bold" >1200</text>
<line x1="443.9" y1="553.42" x2="441.7" y2="553.42" stroke="#111" stroke-width="1.1" />
<line x1="443.9" y1="538.68" x2="440.3" y2="538.68" stroke="#111" stroke-width="1.1" />
<text x="437.2" y="543.08" font-size="12.9" text-anchor="end" fill="#000" font-weight="bold" >1400</text>
<line x1="443.9" y1="523.95" x2="441.7" y2="523.95" stroke="#111" stroke-width="1.1" />
<line x1="443.9" y1="509.22" x2="440.3" y2="509.22" stroke="#111" stroke-width="1.1" />
<text x="437.2" y="513.62" font-size="12.9" text-anchor="end" fill="#000" font-weight="bold" >1600</text>
<line x1="443.9" y1="494.49" x2="441.7" y2="494.49" stroke="#111" stroke-width="1.1" />
<line x1="443.9" y1="479.76" x2="440.3" y2="479.76" stroke="#111" stroke-width="1.1" />
<text x="437.2" y="484.16" font-size="12.9" text-anchor="end" fill="#000" font-weight="bold" >1800</text>
<line x1="443.9" y1="465.03" x2="441.7" y2="465.03" stroke="#111" stroke-width="1.1" />
<line x1="443.9" y1="450.3" x2="440.3" y2="450.3" stroke="#111" stroke-width="1.1" />
<text x="437.2" y="454.7" font-size="12.9" text-anchor="end" fill="#000" font-weight="bold" >2000</text>
<text x="563.5" y="673.1" font-size="13.0" text-anchor="middle" fill="#000" font-weight="bold" >Temperature, <tspan font-size="9" dy="-5">o</tspan><tspan dy="5">C</tspan></text>
<text x="0" y="0" font-size="13.4" text-anchor="middle" fill="#000" font-weight="bold" transform="translate(404.3 546.0) rotate(-90)">σ, S cm<tspan font-size="9" dy="-5">-1</tspan></text>
<line x1="467.77" y1="516.59" x2="467.77" y2="528.37" stroke="#2aa8e0" stroke-width="1.1" />
<line x1="464.77" y1="516.59" x2="470.77" y2="516.59" stroke="#2aa8e0" stroke-width="1.1" />
<line x1="464.77" y1="528.37" x2="470.77" y2="528.37" stroke="#2aa8e0" stroke-width="1.1" />
<circle cx="467.77" cy="522.48" r="3.6" fill="url(#bball)"/>
<line x1="479.7" y1="519.83" x2="479.7" y2="534.56" stroke="#2aa8e0" stroke-width="1.1" />
<line x1="476.7" y1="519.83" x2="482.7" y2="519.83" stroke="#2aa8e0" stroke-width="1.1" />
<line x1="476.7" y1="534.56" x2="482.7" y2="534.56" stroke="#2aa8e0" stroke-width="1.1" />
<circle cx="479.7" cy="527.19" r="3.6" fill="url(#bball)"/>
<line x1="491.64" y1="525.43" x2="491.64" y2="537.8" stroke="#2aa8e0" stroke-width="1.1" />
<line x1="488.64" y1="525.43" x2="494.64" y2="525.43" stroke="#2aa8e0" stroke-width="1.1" />
<line x1="488.64" y1="537.8" x2="494.64" y2="537.8" stroke="#2aa8e0" stroke-width="1.1" />
<circle cx="491.64" cy="531.61" r="3.6" fill="url(#bball)"/>
<line x1="503.57" y1="533.38" x2="503.57" y2="543.1" stroke="#2aa8e0" stroke-width="1.1" />
<line x1="500.57" y1="533.38" x2="506.57" y2="533.38" stroke="#2aa8e0" stroke-width="1.1" />
<line x1="500.57" y1="543.1" x2="506.57" y2="543.1" stroke="#2aa8e0" stroke-width="1.1" />
<circle cx="503.57" cy="538.24" r="3.6" fill="url(#bball)"/>
<line x1="515.51" y1="539.27" x2="515.51" y2="547.52" stroke="#2aa8e0" stroke-width="1.1" />
<line x1="512.51" y1="539.27" x2="518.51" y2="539.27" stroke="#2aa8e0" stroke-width="1.1" />
<line x1="512.51" y1="547.52" x2="518.51" y2="547.52" stroke="#2aa8e0" stroke-width="1.1" />
<circle cx="515.51" cy="543.4" r="3.6" fill="url(#bball)"/>
<line x1="527.44" y1="546.05" x2="527.44" y2="556.36" stroke="#2aa8e0" stroke-width="1.1" />
<line x1="524.44" y1="546.05" x2="530.44" y2="546.05" stroke="#2aa8e0" stroke-width="1.1" />
<line x1="524.44" y1="556.36" x2="530.44" y2="556.36" stroke="#2aa8e0" stroke-width="1.1" />
<circle cx="527.44" cy="551.21" r="3.6" fill="url(#bball)"/>
<line x1="539.38" y1="553.71" x2="539.38" y2="561.96" stroke="#2aa8e0" stroke-width="1.1" />
<line x1="536.38" y1="553.71" x2="542.38" y2="553.71" stroke="#2aa8e0" stroke-width="1.1" />
<line x1="536.38" y1="561.96" x2="542.38" y2="561.96" stroke="#2aa8e0" stroke-width="1.1" />
<circle cx="539.38" cy="557.83" r="3.6" fill="url(#bball)"/>
<line x1="551.32" y1="560.34" x2="551.32" y2="568.59" stroke="#2aa8e0" stroke-width="1.1" />
<line x1="548.32" y1="560.34" x2="554.32" y2="560.34" stroke="#2aa8e0" stroke-width="1.1" />
<line x1="548.32" y1="568.59" x2="554.32" y2="568.59" stroke="#2aa8e0" stroke-width="1.1" />
<circle cx="551.32" cy="564.46" r="3.6" fill="url(#bball)"/>
<line x1="563.25" y1="568.59" x2="563.25" y2="575.95" stroke="#2aa8e0" stroke-width="1.1" />
<line x1="560.25" y1="568.59" x2="566.25" y2="568.59" stroke="#2aa8e0" stroke-width="1.1" />
<line x1="560.25" y1="575.95" x2="566.25" y2="575.95" stroke="#2aa8e0" stroke-width="1.1" />
<circle cx="563.25" cy="572.27" r="3.6" fill="url(#bball)"/>
<line x1="575.18" y1="577.87" x2="575.18" y2="581.4" stroke="#2aa8e0" stroke-width="1.1" />
<line x1="572.18" y1="577.87" x2="578.18" y2="577.87" stroke="#2aa8e0" stroke-width="1.1" />
<line x1="572.18" y1="581.4" x2="578.18" y2="581.4" stroke="#2aa8e0" stroke-width="1.1" />
<circle cx="575.18" cy="579.64" r="3.6" fill="url(#bball)"/>
<line x1="587.12" y1="584.64" x2="587.12" y2="589.95" stroke="#2aa8e0" stroke-width="1.1" />
<line x1="584.12" y1="584.64" x2="590.12" y2="584.64" stroke="#2aa8e0" stroke-width="1.1" />
<line x1="584.12" y1="589.95" x2="590.12" y2="589.95" stroke="#2aa8e0" stroke-width="1.1" />
<circle cx="587.12" cy="587.3" r="3.6" fill="url(#bball)"/>
<line x1="599.06" y1="588.33" x2="599.06" y2="596.58" stroke="#2aa8e0" stroke-width="1.1" />
<line x1="596.06" y1="588.33" x2="602.06" y2="588.33" stroke="#2aa8e0" stroke-width="1.1" />
<line x1="596.06" y1="596.58" x2="602.06" y2="596.58" stroke="#2aa8e0" stroke-width="1.1" />
<circle cx="599.06" cy="592.45" r="3.6" fill="url(#bball)"/>
<line x1="610.99" y1="595.84" x2="610.99" y2="602.32" stroke="#2aa8e0" stroke-width="1.1" />
<line x1="607.99" y1="595.84" x2="613.99" y2="595.84" stroke="#2aa8e0" stroke-width="1.1" />
<line x1="607.99" y1="602.32" x2="613.99" y2="602.32" stroke="#2aa8e0" stroke-width="1.1" />
<circle cx="610.99" cy="599.08" r="3.6" fill="url(#bball)"/>
<line x1="622.92" y1="604.24" x2="622.92" y2="607.77" stroke="#2aa8e0" stroke-width="1.1" />
<line x1="619.92" y1="604.24" x2="625.92" y2="604.24" stroke="#2aa8e0" stroke-width="1.1" />
<line x1="619.92" y1="607.77" x2="625.92" y2="607.77" stroke="#2aa8e0" stroke-width="1.1" />
<circle cx="622.92" cy="606" r="3.6" fill="url(#bball)"/>
<line x1="634.86" y1="611.16" x2="634.86" y2="613.52" stroke="#2aa8e0" stroke-width="1.1" />
<line x1="631.86" y1="611.16" x2="637.86" y2="611.16" stroke="#2aa8e0" stroke-width="1.1" />
<line x1="631.86" y1="613.52" x2="637.86" y2="613.52" stroke="#2aa8e0" stroke-width="1.1" />
<circle cx="634.86" cy="612.34" r="3.6" fill="url(#bball)"/>
<line x1="646.8" y1="618.08" x2="646.8" y2="620.44" stroke="#2aa8e0" stroke-width="1.1" />
<line x1="643.8" y1="618.08" x2="649.8" y2="618.08" stroke="#2aa8e0" stroke-width="1.1" />
<line x1="643.8" y1="620.44" x2="649.8" y2="620.44" stroke="#2aa8e0" stroke-width="1.1" />
<circle cx="646.8" cy="619.26" r="3.6" fill="url(#bball)"/>
<line x1="658.73" y1="625.15" x2="658.73" y2="626.63" stroke="#2aa8e0" stroke-width="1.1" />
<line x1="655.73" y1="625.15" x2="661.73" y2="625.15" stroke="#2aa8e0" stroke-width="1.1" />
<line x1="655.73" y1="626.63" x2="661.73" y2="626.63" stroke="#2aa8e0" stroke-width="1.1" />
<circle cx="658.73" cy="625.89" r="3.6" fill="url(#bball)"/>
<line x1="467.77" y1="466.8" x2="467.77" y2="477.11" stroke="#3cb44b" stroke-width="1.1" />
<line x1="464.77" y1="466.8" x2="470.77" y2="466.8" stroke="#3cb44b" stroke-width="1.1" />
<line x1="464.77" y1="477.11" x2="470.77" y2="477.11" stroke="#3cb44b" stroke-width="1.1" />
<circle cx="467.77" cy="471.95" r="3.6" fill="url(#gball)"/>
<line x1="479.7" y1="475.34" x2="479.7" y2="481.82" stroke="#3cb44b" stroke-width="1.1" />
<line x1="476.7" y1="475.34" x2="482.7" y2="475.34" stroke="#3cb44b" stroke-width="1.1" />
<line x1="476.7" y1="481.82" x2="482.7" y2="481.82" stroke="#3cb44b" stroke-width="1.1" />
<circle cx="479.7" cy="478.58" r="3.6" fill="url(#gball)"/>
<line x1="491.64" y1="484.18" x2="491.64" y2="489.48" stroke="#3cb44b" stroke-width="1.1" />
<line x1="488.64" y1="484.18" x2="494.64" y2="484.18" stroke="#3cb44b" stroke-width="1.1" />
<line x1="488.64" y1="489.48" x2="494.64" y2="489.48" stroke="#3cb44b" stroke-width="1.1" />
<circle cx="491.64" cy="486.83" r="3.6" fill="url(#gball)"/>
<line x1="503.57" y1="493.17" x2="503.57" y2="497.29" stroke="#3cb44b" stroke-width="1.1" />
<line x1="500.57" y1="493.17" x2="506.57" y2="493.17" stroke="#3cb44b" stroke-width="1.1" />
<line x1="500.57" y1="497.29" x2="506.57" y2="497.29" stroke="#3cb44b" stroke-width="1.1" />
<circle cx="503.57" cy="495.23" r="3.6" fill="url(#gball)"/>
<line x1="515.51" y1="500.97" x2="515.51" y2="503.33" stroke="#3cb44b" stroke-width="1.1" />
<line x1="512.51" y1="500.97" x2="518.51" y2="500.97" stroke="#3cb44b" stroke-width="1.1" />
<line x1="512.51" y1="503.33" x2="518.51" y2="503.33" stroke="#3cb44b" stroke-width="1.1" />
<circle cx="515.51" cy="502.15" r="3.6" fill="url(#gball)"/>
<line x1="527.44" y1="508.63" x2="527.44" y2="512.76" stroke="#3cb44b" stroke-width="1.1" />
<line x1="524.44" y1="508.63" x2="530.44" y2="508.63" stroke="#3cb44b" stroke-width="1.1" />
<line x1="524.44" y1="512.76" x2="530.44" y2="512.76" stroke="#3cb44b" stroke-width="1.1" />
<circle cx="527.44" cy="510.7" r="3.6" fill="url(#gball)"/>
<line x1="539.38" y1="515.56" x2="539.38" y2="522.04" stroke="#3cb44b" stroke-width="1.1" />
<line x1="536.38" y1="515.56" x2="542.38" y2="515.56" stroke="#3cb44b" stroke-width="1.1" />
<line x1="536.38" y1="522.04" x2="542.38" y2="522.04" stroke="#3cb44b" stroke-width="1.1" />
<circle cx="539.38" cy="518.8" r="3.6" fill="url(#gball)"/>
<line x1="551.32" y1="523.95" x2="551.32" y2="530.44" stroke="#3cb44b" stroke-width="1.1" />
<line x1="548.32" y1="523.95" x2="554.32" y2="523.95" stroke="#3cb44b" stroke-width="1.1" />
<line x1="548.32" y1="530.44" x2="554.32" y2="530.44" stroke="#3cb44b" stroke-width="1.1" />
<circle cx="551.32" cy="527.19" r="3.6" fill="url(#gball)"/>
<line x1="563.25" y1="533.23" x2="563.25" y2="539.72" stroke="#3cb44b" stroke-width="1.1" />
<line x1="560.25" y1="533.23" x2="566.25" y2="533.23" stroke="#3cb44b" stroke-width="1.1" />
<line x1="560.25" y1="539.72" x2="566.25" y2="539.72" stroke="#3cb44b" stroke-width="1.1" />
<circle cx="563.25" cy="536.48" r="3.6" fill="url(#gball)"/>
<line x1="575.18" y1="542.37" x2="575.18" y2="549.73" stroke="#3cb44b" stroke-width="1.1" />
<line x1="572.18" y1="542.37" x2="578.18" y2="542.37" stroke="#3cb44b" stroke-width="1.1" />
<line x1="572.18" y1="549.73" x2="578.18" y2="549.73" stroke="#3cb44b" stroke-width="1.1" />
<circle cx="575.18" cy="546.05" r="3.6" fill="url(#gball)"/>
<line x1="587.12" y1="552.38" x2="587.12" y2="558.87" stroke="#3cb44b" stroke-width="1.1" />
<line x1="584.12" y1="552.38" x2="590.12" y2="552.38" stroke="#3cb44b" stroke-width="1.1" />
<line x1="584.12" y1="558.87" x2="590.12" y2="558.87" stroke="#3cb44b" stroke-width="1.1" />
<circle cx="587.12" cy="555.62" r="3.6" fill="url(#gball)"/>
<line x1="599.06" y1="558.57" x2="599.06" y2="568.88" stroke="#3cb44b" stroke-width="1.1" />
<line x1="596.06" y1="558.57" x2="602.06" y2="558.57" stroke="#3cb44b" stroke-width="1.1" />
<line x1="596.06" y1="568.88" x2="602.06" y2="568.88" stroke="#3cb44b" stroke-width="1.1" />
<circle cx="599.06" cy="563.73" r="3.6" fill="url(#gball)"/>
<line x1="610.99" y1="566.67" x2="610.99" y2="578.46" stroke="#3cb44b" stroke-width="1.1" />
<line x1="607.99" y1="566.67" x2="613.99" y2="566.67" stroke="#3cb44b" stroke-width="1.1" />
<line x1="607.99" y1="578.46" x2="613.99" y2="578.46" stroke="#3cb44b" stroke-width="1.1" />
<circle cx="610.99" cy="572.57" r="3.6" fill="url(#gball)"/>
<line x1="622.92" y1="572.57" x2="622.92" y2="588.77" stroke="#3cb44b" stroke-width="1.1" />
<line x1="619.92" y1="572.57" x2="625.92" y2="572.57" stroke="#3cb44b" stroke-width="1.1" />
<line x1="619.92" y1="588.77" x2="625.92" y2="588.77" stroke="#3cb44b" stroke-width="1.1" />
<circle cx="622.92" cy="580.67" r="3.6" fill="url(#gball)"/>
<line x1="634.86" y1="583.61" x2="634.86" y2="596.87" stroke="#3cb44b" stroke-width="1.1" />
<line x1="631.86" y1="583.61" x2="637.86" y2="583.61" stroke="#3cb44b" stroke-width="1.1" />
<line x1="631.86" y1="596.87" x2="637.86" y2="596.87" stroke="#3cb44b" stroke-width="1.1" />
<circle cx="634.86" cy="590.24" r="3.6" fill="url(#gball)"/>
<line x1="646.8" y1="594.66" x2="646.8" y2="603.5" stroke="#3cb44b" stroke-width="1.1" />
<line x1="643.8" y1="594.66" x2="649.8" y2="594.66" stroke="#3cb44b" stroke-width="1.1" />
<line x1="643.8" y1="603.5" x2="649.8" y2="603.5" stroke="#3cb44b" stroke-width="1.1" />
<circle cx="646.8" cy="599.08" r="3.6" fill="url(#gball)"/>
<line x1="658.73" y1="599.08" x2="658.73" y2="607.92" stroke="#3cb44b" stroke-width="1.1" />
<line x1="655.73" y1="599.08" x2="661.73" y2="599.08" stroke="#3cb44b" stroke-width="1.1" />
<line x1="655.73" y1="607.92" x2="661.73" y2="607.92" stroke="#3cb44b" stroke-width="1.1" />
<circle cx="658.73" cy="603.5" r="3.6" fill="url(#gball)"/>
<circle cx="588.4" cy="463.5" r="3.6" fill="url(#gball)"/>
<circle cx="588.4" cy="479.1" r="3.6" fill="url(#bball)"/>
<text x="606.2" y="467.8" font-size="12.9" text-anchor="start" fill="#000" font-weight="bold" >ME-PBSCC</text>
<text x="606.2" y="483.6" font-size="12.9" text-anchor="start" fill="#000" font-weight="bold" >PBS32C</text>
<text x="625.3" y="525" font-size="12.9" text-anchor="start" fill="#000" font-weight="bold" >Dry air</text>
</svg></body></html>
